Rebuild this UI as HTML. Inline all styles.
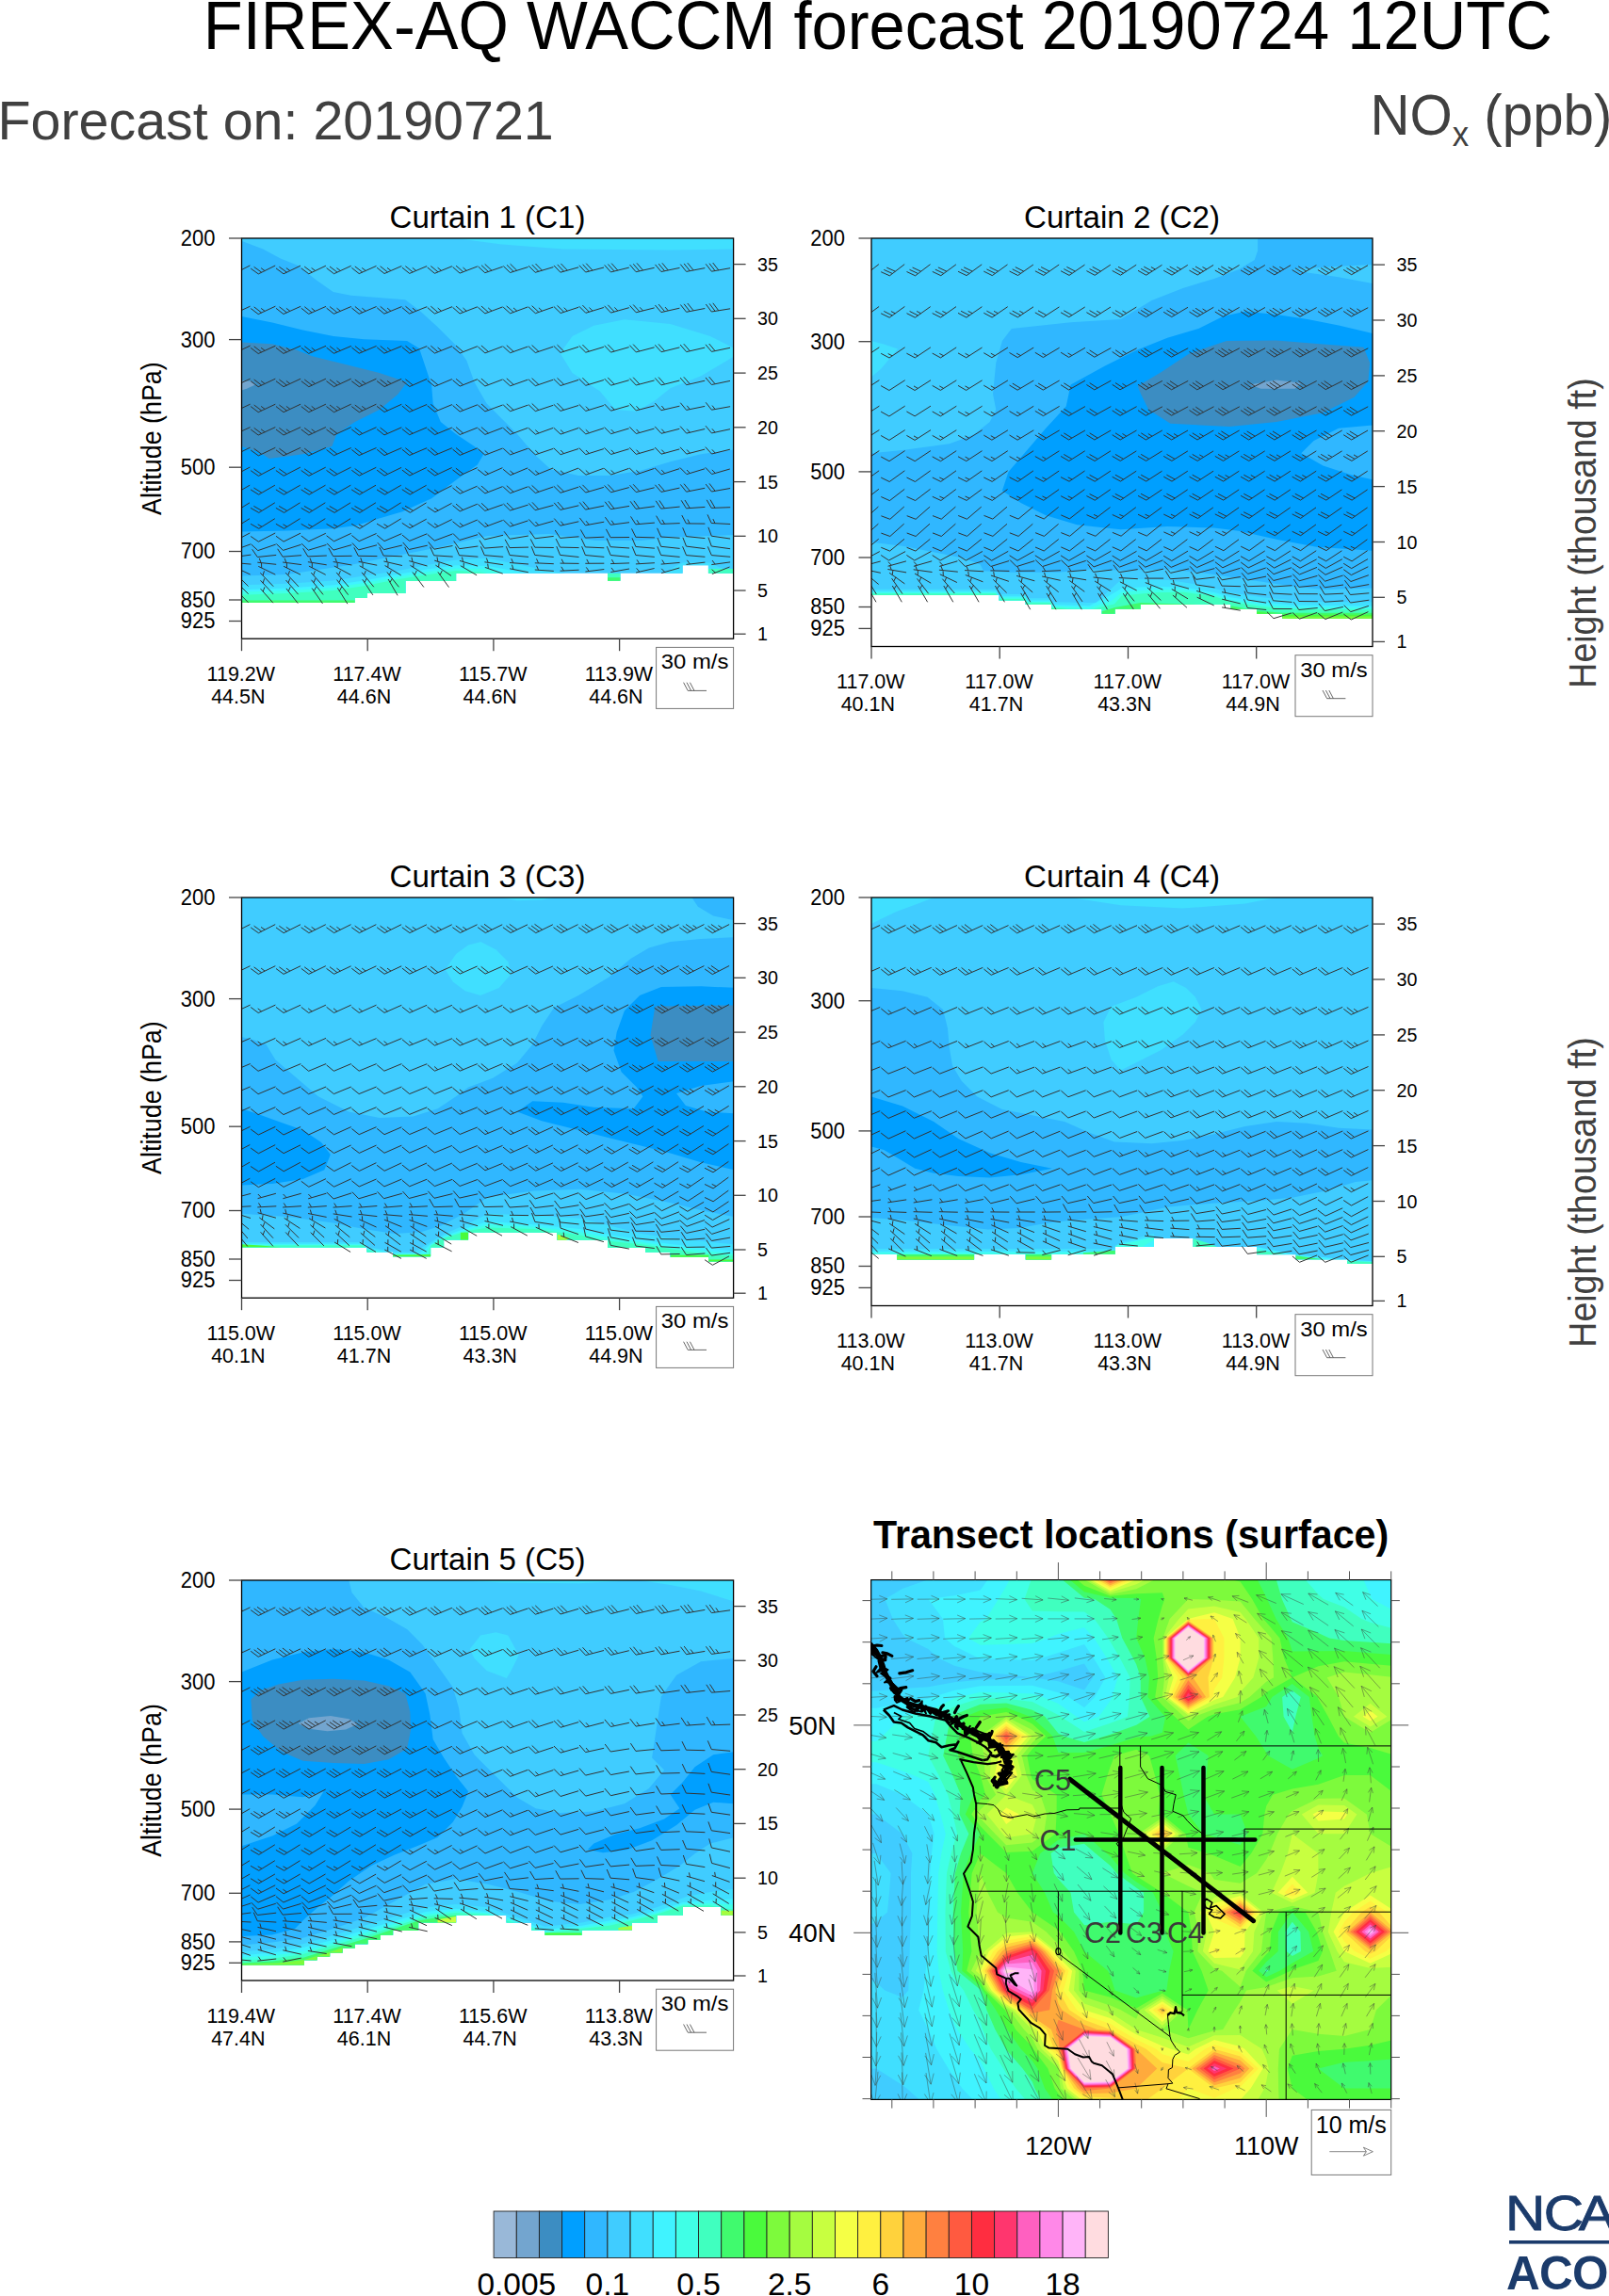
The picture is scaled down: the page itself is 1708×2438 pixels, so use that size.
<!DOCTYPE html>
<html><head><meta charset="utf-8"><title>FIREX-AQ WACCM forecast</title>
<style>html,body{margin:0;padding:0;background:#fff;overflow:hidden}svg{display:block}</style></head>
<body>
<svg width="1708" height="2438" viewBox="0 0 1708 2438" font-family="Liberation Sans, Arial, Helvetica, sans-serif">
<text transform="translate(215.7 51.5) scale(0.9405 1)" font-size="73" fill="#000" >FIREX-AQ WACCM forecast 20190724 12UTC</text>
<text transform="translate(-2.5 148)" font-size="57.4" fill="#404040" >Forecast on: 20190721</text>
<text transform="translate(1454.4 143) scale(0.955 1)" font-size="61" fill="#404040">NO<tspan font-size="36.5" dy="12">x</tspan><tspan dy="-12"> (ppb)</tspan></text>
<g id="p1">
<clipPath id="tc1"><polygon points="256.5,253 778.6,253 778.6,608.7 751.9,608.7 751.9,600.2 724.6,600.2 724.6,608.7 658.6,608.7 658.6,616.8 645,616.8 645,608.7 484.1,608.7 484.1,617.1 430.4,617.1 430.4,630.1 389.8,630.1 389.8,635 376.8,635 376.8,639.9 256.5,639.9"/></clipPath>
<clipPath id="fc1"><rect x="256.5" y="253" width="522.1" height="425.2"/></clipPath>
<g clip-path="url(#tc1)" shape-rendering="geometricPrecision">
<rect x="256.5" y="253" width="522.1" height="425.2" fill="#40CCFF"/>
<polygon points="484.1,253 779.6,253 779.6,264.4 711.6,265.4 597.9,264.4 532.8,259.5" fill="#40DFFF" />
<polygon points="594.6,374.9 607.6,357 630.4,345.7 662.9,339.2 711.6,344 753.9,357 779.6,370 779.6,378.2 744.1,399.3 711.6,412.3 695.4,425.3 675.9,436.7 653.1,435.1 636.9,415.5 607.6,396" fill="#40DFFF" />
<polygon points="256.5,253 256.8,255.9 279.3,264.4 297.8,274.5 316.6,281.9 335.2,296.9 353.7,309.9 372.6,313.8 430.1,318.3 445.1,329.4 464.6,347.3 484.1,366.8 495.4,383 503.6,405.8 516.6,428.6 532.8,444.8 549.1,461.1 568.6,483.8 584.8,498.4 614.1,505 646.6,505 679.1,500.1 711.6,490.3 744.1,482.2 779.6,477.3 779.6,568 713.3,570.6 680.8,573.9 632,573.9 583.2,567 517.9,569 492.2,574.8 467.8,580.7 435.3,587.2 402.5,593.7 370,600.2 337.4,605.1 304.9,610 256.5,611.6" fill="#30B7FF" />
<polygon points="256.5,335.9 289,342.4 321.5,350.5 354,357 386.5,360.3 432.1,361.9 445.1,370 451.6,389.5 458.1,409 459.7,428.6 467.8,448.1 484.1,461.1 503.6,474.1 513.3,482.2 506.8,493.6 484.1,509.8 458.1,529.3 427.2,543.3 402.5,550.5 378.1,557.9 353.7,561.2 304.9,563.5 256.5,564.4" fill="#009FFF" />
<polygon points="256.5,363.5 289,365.2 315,371.7 331.3,378.2 363.8,386.3 402.8,396 432.1,405.8 422.3,418.8 402.8,435.1 376.8,448.1 357.3,461.1 352.4,474.1 321.5,482.2 285.8,487.1 276,480.6 256.5,474.1" fill="#3C8DC2" />
<polygon points="256.5,404.2 266.3,404.8 271.1,408.4 263,412.3 256.5,414.6" fill="#73A5CF" />
<polygon points="256.5,621.3 304.9,619.7 353.7,616.5 386.2,611.6 418.7,606.7 451.6,600.2 484.1,594.4 517.9,592.7 549.1,599.2 581.6,605.7 599.5,608.7 599.5,643.1 256.5,643.1" fill="#40DFFF" />
<polygon points="705.1,608.7 714.9,602.5 724.6,597.6 753.9,597.6 763.7,602.5 779.6,605.7 779.6,610.6 705.1,610.6" fill="#40DFFF" />
<polygon points="256.5,626.2 304.9,624.6 353.7,621.3 386.2,616.5 418.7,610.6 451.6,604.8 484.1,600.2 517.9,600.9 542.6,605.7 555.6,608.7 555.6,643.1 256.5,643.1" fill="#40F3FF" />
<polygon points="256.5,628.5 304.9,627.2 353.7,623.9 386.2,619.1 418.7,613.2 451.6,607.4 484.1,603.5 517.9,604.1 532.8,608.7 532.8,643.1 256.5,643.1" fill="#40FFE6" />
<polygon points="256.5,631.7 304.9,630.1 353.7,626.9 386.2,622.3 418.7,615.8 451.6,610.6 484.1,606.1 510.1,607.4 516.6,608.7 516.6,643.1 256.5,643.1" fill="#40FFBF" />
<polygon points="256.5,637.6 376.8,637.6 376.8,643.1 256.5,643.1" fill="#40FA6E" />
<polygon points="645,608.7 658.6,608.7 658.6,618.7 645,618.7" fill="#40FFBF" />
<polygon points="645,613.2 658.6,613.2 658.6,618.7 645,618.7" fill="#40FA6E" />
<polygon points="751.9,604.1 779.6,604.1 779.6,610.6 751.9,610.6" fill="#40FFBF" />
</g>
<path clip-path="url(#fc1)" d="M247.6 291L265.4 281.9M247.6 291L239.4 285.3M251 289.3L242.8 283.6M254.4 287.6L250.3 284.7M274.3 290.9L292.2 282M274.3 290.9L266.2 285.1M277.7 289.2L269.6 283.4M281.1 287.6L277.1 284.6M301 290.8L319 282.1M301 290.8L293 284.9M304.5 289.2L296.4 283.3M307.9 287.5L303.9 284.6M327.8 290.8L345.9 282.2M327.8 290.8L319.8 284.8M331.2 289.1L323.2 283.1M334.7 287.5L330.6 284.5M354.5 290.7L372.7 282.3M354.5 290.7L346.6 284.6M358 289.1L350 283M361.4 287.5L357.4 284.5M381.2 290.6L399.5 282.4M381.2 290.6L373.4 284.4M384.7 289L376.8 282.9M388.2 287.5L384.2 284.4M408 290.5L426.3 282.5M408 290.5L400.1 284.2M411.5 289L403.6 282.7M414.9 287.4L411 284.3M434.7 290.4L453.1 282.6M434.7 290.4L426.9 284.1M438.2 288.9L430.4 282.6M441.7 287.4L437.8 284.3M461.4 290.3L479.9 282.7M461.4 290.3L453.7 283.9M465 288.8L457.3 282.5M468.5 287.4L464.6 284.2M488.1 290.1L506.8 282.9M488.1 290.1L480.6 283.5M491.7 288.7L484.1 282.2M495.2 287.3L491.5 284.1M514.8 289.7L533.7 283.2M514.8 289.7L507.5 282.9M518.4 288.5L511.1 281.7M522 287.3L514.7 280.4M541.5 289.5L560.6 283.5M541.5 289.5L534.3 282.5M545.1 288.3L538 281.3M548.7 287.2L541.6 280.2M568.2 289.3L587.4 283.6M568.2 289.3L561.2 282.2M571.8 288.3L564.8 281.1M575.5 287.2L568.5 280M594.9 289.2L614.2 283.8M594.9 289.2L588 281.9M598.6 288.2L591.7 280.9M602.3 287.1L595.4 279.9M621.7 289L641 284M621.7 289L614.9 281.7M625.3 288.1L618.6 280.7M629 287.1L622.2 279.7M648.4 288.9L667.8 284.1M648.4 288.9L641.7 281.4M652.1 288L645.4 280.5M655.8 287.1L649.1 279.6M675.1 288.7L694.6 284.3M675.1 288.7L668.6 281.1M678.8 287.9L672.3 280.3M682.5 287L676 279.4M701.9 288.5L721.5 284.4M701.9 288.5L695.5 280.9M705.6 287.8L699.2 280.1M709.3 287L702.9 279.3M728.6 288.4L748.3 284.6M728.6 288.4L722.3 280.6M732.4 287.7L726.1 279.9M736.1 286.9L729.8 279.2M755.4 288.2L775.1 284.7M755.4 288.2L749.2 280.3M759.1 287.6L753 279.7M762.8 286.9L756.7 279M247.4 333.6L265.6 325.2M247.4 333.6L239.5 327.6M250.9 332L242.9 326M254.3 330.4L250.3 327.4M274.2 333.6L292.4 325.2M274.2 333.6L266.2 327.5M277.6 332L269.7 325.9M281.1 330.4L277.1 327.4M300.9 333.5L319.2 325.3M300.9 333.5L293 327.3M304.4 331.9L296.5 325.8M307.9 330.4L303.9 327.3M327.7 333.4L346 325.4M327.7 333.4L319.8 327.2M331.1 331.9L323.3 325.7M334.6 330.4L330.7 327.3M354.4 333.3L372.8 325.5M354.4 333.3L346.6 327.1M357.9 331.8L350.1 325.6M361.4 330.3L357.5 327.2M381.2 333.3L399.6 325.5M381.2 333.3L373.4 327M384.7 331.8L376.9 325.5M388.2 330.3L384.3 327.2M407.9 333.2L426.4 325.6M407.9 333.2L400.2 326.8M411.4 331.8L403.7 325.4M414.9 330.3L411.1 327.1M434.6 333.1L453.2 325.7M434.6 333.1L427 326.7M438.2 331.7L430.5 325.3M441.7 330.3L437.9 327.1M461.4 333.1L480 325.7M461.4 333.1L453.8 326.6M464.9 331.7L457.3 325.2M468.5 330.3L464.7 327M488.1 333L506.8 325.8M488.1 333L480.6 326.4M491.7 331.6L484.1 325.1M495.2 330.3L491.5 327M514.9 332.9L533.6 325.9M514.9 332.9L507.4 326.3M518.4 331.6L510.9 325M522 330.2L518.2 326.9M541.6 332.8L560.4 325.9M541.6 332.8L534.2 326.2M545.2 331.5L537.7 324.9M548.8 330.2L545 326.9M568.4 332.7L587.2 326.1M568.4 332.7L561 325.9M571.9 331.4L564.6 324.7M575.5 330.2L571.9 326.8M595.1 332.5L614.1 326.3M595.1 332.5L587.9 325.5M598.7 331.3L591.5 324.4M602.3 330.1L598.7 326.7M621.8 332.3L640.9 326.5M621.8 332.3L614.7 325.2M625.4 331.2L618.4 324.1M629 330.1L625.5 326.5M648.5 332.1L667.8 326.7M648.5 332.1L641.6 324.8M652.1 331L645.3 323.8M655.8 330L652.4 326.4M675.2 331.8L694.6 326.9M675.2 331.8L668.5 324.4M678.9 330.9L672.2 323.5M682.6 330L679.2 326.3M701.9 331.6L721.4 327.2M701.9 331.6L695.4 324M705.6 330.7L699.1 323.1M709.3 329.9L706.1 326.1M728.6 331.3L748.3 327.5M728.6 331.3L722.4 323.5M732.3 330.6L726.1 322.8M736.1 329.8L729.8 322M755.3 331L775.1 327.8M755.3 331L749.3 323M759.1 330.4L753.1 322.4M762.8 329.8L756.8 321.8M247.4 375.6L265.6 367.1M247.4 375.6L239.5 369.5M250.9 374L242.9 367.9M254.3 372.3L250.3 369.3M274.2 375.5L292.4 367.2M274.2 375.5L266.2 369.4M277.6 373.9L269.7 367.8M281.1 372.3L277.1 369.3M300.9 375.4L319.2 367.2M300.9 375.4L293 369.3M304.4 373.9L296.5 367.8M307.9 372.3L303.9 369.3M327.7 375.4L346 367.3M327.7 375.4L319.8 369.2M331.2 373.8L323.3 367.7M334.6 372.3L330.7 369.2M354.4 375.3L372.8 367.4M354.4 375.3L346.6 369.1M357.9 373.8L350.1 367.6M361.4 372.3L357.5 369.2M381.2 375.2L399.6 367.4M381.2 375.2L373.4 369M384.7 373.8L376.9 367.5M388.2 372.3L384.3 369.1M407.9 375.2L426.4 367.5M407.9 375.2L400.2 368.8M411.4 373.7L403.7 367.4M414.9 372.3L411.1 369.1M434.7 375.1L453.2 367.6M434.7 375.1L427 368.7M438.2 373.7L430.5 367.3M441.7 372.2L437.9 369M461.4 375.1L480 367.6M461.4 375.1L453.8 368.7M464.9 373.7L457.3 367.2M468.5 372.2L464.6 369M488.2 375L506.8 367.7M488.2 375L480.6 368.5M491.7 373.6L484.1 367.1M514.9 374.9L533.6 367.8M514.9 374.9L507.4 368.2M518.4 373.5L510.9 366.9M541.6 374.7L560.4 368M541.6 374.7L534.2 368M545.2 373.4L537.8 366.7M568.3 374.5L587.3 368.1M568.3 374.5L561 367.7M571.9 373.3L564.6 366.5M595 374.4L614.1 368.3M595 374.4L587.9 367.4M598.7 373.2L591.5 366.2M621.8 374.2L640.9 368.4M621.8 374.2L614.7 367.1M625.4 373.1L618.4 366M648.5 374.1L667.7 368.6M648.5 374.1L641.6 366.8M652.2 373L645.2 365.8M675.2 373.9L694.6 368.8M675.2 373.9L668.4 366.6M678.9 372.9L672.1 365.6M702 373.7L721.4 368.9M702 373.7L695.3 366.3M705.6 372.8L699 365.4M728.7 373.6L748.2 369.1M728.7 373.6L722.1 366M732.4 372.7L725.8 365.2M755.4 373.4L775 369.3M755.4 373.4L749 365.8M759.1 372.6L752.7 365M247.4 410.7L265.6 402.2M247.4 410.7L239.5 404.7M250.9 409.1L242.9 403M254.3 407.5L250.3 404.5M274.2 410.7L292.3 402.2M274.2 410.7L266.2 404.7M277.7 409.1L269.7 403M281.1 407.5L277.1 404.5M301 410.7L319.1 402.2M301 410.7L293 404.7M304.4 409.1L296.4 403M307.9 407.5L303.9 404.5M327.8 410.7L345.9 402.2M327.8 410.7L319.8 404.7M331.2 409.1L323.2 403M334.6 407.5L330.7 404.5M354.5 410.7L372.7 402.2M354.5 410.7L346.5 404.7M358 409.1L350 403M361.4 407.5L357.4 404.5M381.3 410.7L399.4 402.2M381.3 410.7L373.3 404.7M384.8 409.1L376.8 403M388.2 407.5L384.2 404.5M408.1 410.6L426.2 402.3M408.1 410.6L400.1 404.6M411.5 409L403.6 403M415 407.4L411 404.4M434.8 410.5L453.1 402.4M434.8 410.5L426.9 404.3M438.2 408.9L430.4 402.7M461.5 410.3L479.9 402.6M461.5 410.3L453.7 404M465 408.8L457.2 402.5M488.2 410.1L506.8 402.7M488.2 410.1L480.6 403.7M491.7 408.7L484.1 402.3M514.9 410L533.6 402.9M514.9 410L507.4 403.4M518.4 408.6L510.9 402M541.6 409.8L560.4 403.1M541.6 409.8L534.2 403.1M545.2 408.5L537.8 401.8M568.3 409.7L587.3 403.2M568.3 409.7L561 402.8M571.9 408.4L564.6 401.6M595 409.5L614.1 403.4M595 409.5L587.9 402.5M598.7 408.3L591.5 401.4M621.8 409.3L640.9 403.5M621.8 409.3L614.7 402.3M625.4 408.2L618.4 401.2M648.5 409.2L667.7 403.7M648.5 409.2L641.6 402M652.2 408.1L645.2 400.9M675.2 409L694.6 403.9M675.2 409L668.4 401.7M678.9 408L672.1 400.7M702 408.9L721.4 404M702 408.9L695.3 401.4M705.6 407.9L699 400.5M728.7 408.7L748.2 404.2M728.7 408.7L722.1 401.1M732.4 407.8L725.8 400.3M755.4 408.5L775 404.4M755.4 408.5L749 400.9M759.1 407.7L752.7 400.1M247.4 437.7L265.6 429.2M247.4 437.7L239.5 431.6M250.9 436L242.9 430M254.3 434.4L250.3 431.4M274.2 437.7L292.3 429.2M274.2 437.7L266.2 431.6M277.7 436L269.7 430M281.1 434.4L277.1 431.4M301 437.7L319.1 429.2M301 437.7L293 431.6M304.4 436L296.4 430M307.9 434.4L303.9 431.4M327.8 437.7L345.9 429.2M327.8 437.7L319.8 431.6M331.2 436L323.2 430M334.6 434.4L330.7 431.4M354.5 437.7L372.7 429.2M354.5 437.7L346.5 431.6M358 436L350 430M361.4 434.4L357.4 431.4M381.3 437.7L399.4 429.2M381.3 437.7L373.3 431.6M384.8 436L376.8 430M388.2 434.4L384.2 431.4M408 437.5L426.3 429.3M408 437.5L400.1 431.4M411.5 436L403.6 429.9M434.7 437.4L453.1 429.5M434.7 437.4L426.9 431.1M438.2 435.9L430.4 429.6M461.4 437.2L479.9 429.6M461.4 437.2L453.7 430.8M465 435.8L457.3 429.4M488.2 437.1L506.8 429.8M488.2 437.1L480.6 430.5M491.7 435.7L484.1 429.2M514.9 436.9L533.6 430M514.9 436.9L507.4 430.2M518.4 435.6L511 428.9M541.6 436.7L560.5 430.1M541.6 436.7L534.2 429.9M545.2 435.5L537.8 428.7M568.3 436.6L587.3 430.3M568.3 436.6L561.1 429.7M571.9 435.4L564.7 428.5M595 436.4L614.1 430.5M595 436.4L587.9 429.4M598.6 435.3L591.5 428.2M621.8 436.4L640.9 430.5M621.8 436.4L614.7 429.3M625.4 435.2L621.9 431.7M648.5 436.2L667.7 430.7M648.5 436.2L641.6 429M652.2 435.1L648.7 431.5M675.2 435.9L694.6 430.9M675.2 435.9L668.5 428.5M678.9 435L675.5 431.3M701.9 435.7L721.4 431.2M701.9 435.7L695.4 428.1M705.6 434.8L702.3 431M728.6 435.4L748.2 431.4M728.6 435.4L722.3 427.7M732.4 434.7L729.2 430.8M755.4 435.2L775.1 431.7M755.4 435.2L749.2 427.3M759.1 434.5L756 430.6M247.4 462L265.6 453.6M247.4 462L239.5 456M250.9 460.4L242.9 454.4M254.3 458.8L250.3 455.8M274.2 462L292.3 453.6M274.2 462L266.2 456M277.7 460.4L269.7 454.4M281.1 458.8L277.1 455.8M301 462L319.1 453.6M301 462L293 456M304.4 460.4L296.4 454.4M307.9 458.8L303.9 455.8M327.8 462L345.9 453.6M327.8 462L319.8 456M331.2 460.4L323.2 454.4M334.6 458.8L330.7 455.8M354.5 462L372.7 453.6M354.5 462L346.5 456M358 460.4L350 454.4M381.3 462L399.5 453.7M381.3 462L373.3 455.9M384.7 460.4L376.8 454.3M408 461.9L426.3 453.8M408 461.9L400.1 455.7M411.5 460.3L403.6 454.1M434.7 461.7L453.1 453.9M434.7 461.7L426.9 455.5M438.2 460.2L430.4 454M461.5 461.6L479.9 454M461.5 461.6L453.7 455.3M465 460.2L457.3 453.8M488.2 461.5L506.8 454.1M488.2 461.5L480.6 455M491.7 460.1L484.1 453.6M514.9 461.4L533.6 454.2M514.9 461.4L507.4 454.8M518.5 460L510.9 453.5M541.6 461.3L560.4 454.3M541.6 461.3L534.2 454.6M545.2 460L537.7 453.3M568.4 461.2L587.2 454.4M568.4 461.2L561 454.5M572 459.9L568.3 456.6M595.1 461.1L614 454.5M595.1 461.1L587.8 454.3M598.7 459.9L595 456.5M621.8 460.9L640.9 454.7M621.8 460.9L614.6 454M625.4 459.7L621.8 456.3M648.5 460.7L667.7 454.9M648.5 460.7L641.5 453.6M652.2 459.6L648.7 456.1M675.3 460.5L694.5 455.1M675.3 460.5L668.4 453.3M678.9 459.5L675.5 455.9M702 460.3L721.3 455.3M702 460.3L695.2 452.9M705.7 459.4L702.3 455.7M728.7 460.1L748.2 455.5M728.7 460.1L722.1 452.6M732.4 459.2L729.1 455.5M755.4 459.9L775 455.7M755.4 459.9L749 452.2M759.1 459.1L755.9 455.3M247.5 484L265.5 475.2M247.5 484L239.4 478.1M250.9 482.3L242.8 476.4M274.3 483.9L292.3 475.3M274.3 483.9L266.2 478M277.7 482.3L269.6 476.3M301 483.8L319.1 475.3M301 483.8L293 477.8M304.4 482.2L296.4 476.2M327.7 483.8L345.9 475.4M327.7 483.8L319.8 477.7M331.2 482.2L323.2 476.1M354.5 483.7L372.7 475.5M354.5 483.7L346.6 477.6M357.9 482.1L350 476M381.2 483.6L399.5 475.5M381.2 483.6L373.4 477.5M384.7 482.1L376.8 475.9M408 483.6L426.3 475.6M408 483.6L400.2 477.3M411.5 482.1L403.6 475.8M434.7 483.5L453.1 475.7M434.7 483.5L426.9 477.2M438.2 482L430.4 475.7M461.5 483.4L479.9 475.7M461.5 483.4L453.7 477.1M465 482L457.2 475.6M488.2 483.4L506.7 475.8M488.2 483.4L480.5 477M491.7 481.9L484 475.5M514.9 483.2L533.6 476M514.9 483.2L507.4 476.6M518.5 481.8L514.7 478.5M541.6 482.9L560.4 476.2M541.6 482.9L534.2 476.2M545.2 481.7L541.5 478.3M568.3 482.8L587.3 476.4M568.3 482.8L561 476M571.9 481.6L568.3 478.2M595.1 482.7L614.1 476.5M595.1 482.7L587.8 475.8M598.7 481.5L595.1 478.1M621.8 482.6L640.9 476.6M621.8 482.6L614.7 475.6M625.4 481.5L621.9 478M648.5 482.5L667.7 476.7M648.5 482.5L641.5 475.4M652.2 481.4L648.7 477.8M675.3 482.4L694.5 476.8M675.3 482.4L668.3 475.2M678.9 481.3L675.5 477.7M702 482.2L721.3 476.9M702 482.2L695.2 475M705.7 481.2L702.3 477.6M728.8 482.1L748.1 477.1M728.8 482.1L722 474.8M732.4 481.2L729.1 477.5M755.5 482L774.9 477.2M755.5 482L748.8 474.6M759.2 481.1L755.9 477.4M247.7 505.4L265.3 496M247.7 505.4L239.4 499.8M251 503.6L242.7 498M274.4 505.4L292.1 496.1M274.4 505.4L266.2 499.7M277.8 503.6L269.5 498M301.2 505.3L318.9 496.1M301.2 505.3L292.9 499.6M304.5 503.6L296.3 497.9M327.9 505.3L345.7 496.2M327.9 505.3L319.7 499.5M331.3 503.5L323.1 497.8M354.7 505.2L372.5 496.2M354.7 505.2L346.5 499.4M358.1 503.5L349.9 497.7M381.4 505.1L399.3 496.3M381.4 505.1L373.3 499.3M384.8 503.5L376.7 497.6M408.2 505.1L426.1 496.4M408.2 505.1L400.1 499.2M411.6 503.4L403.5 497.5M434.9 505L452.9 496.4M434.9 505L426.9 499.1M438.3 503.4L430.3 497.5M461.6 505L479.7 496.5M461.6 505L453.6 499M465.1 503.4L457.1 497.4M488.4 504.9L506.6 496.6M488.4 504.9L480.4 498.8M491.8 503.3L483.9 497.2M515.1 504.7L533.4 496.7M515.1 504.7L507.2 498.5M518.6 503.2L514.6 500.1M541.8 504.6L560.2 496.9M541.8 504.6L534.1 498.3M545.3 503.1L541.4 500M568.5 504.5L587.1 497M568.5 504.5L560.9 498M572 503L568.2 499.8M595.2 504.3L613.9 497.1M595.2 504.3L587.7 497.8M598.8 503L595 499.7M622 504.2L640.7 497.3M622 504.2L614.5 497.5M625.5 502.9L621.8 499.5M648.7 504L667.5 497.4M648.7 504L641.3 497.3M652.3 502.8L648.6 499.4M675.4 503.9L694.4 497.5M675.4 503.9L668.2 497M679 502.7L675.4 499.3M702.1 503.8L721.2 497.7M702.1 503.8L695 496.8M705.8 502.6L702.2 499.1M728.9 503.6L748 497.8M728.9 503.6L721.8 496.5M732.5 502.5L729 499M755.6 503.5L774.8 498M755.6 503.5L748.7 496.3M759.3 502.4L755.8 498.8M247.8 525.2L265.2 515.2M247.8 525.2L239.4 519.9M251.1 523.3L242.7 518M274.6 525.2L291.9 515.2M274.6 525.2L266.1 519.9M277.9 523.3L269.4 518M301.4 525.2L318.7 515.2M301.4 525.2L292.9 519.9M304.7 523.3L296.2 518M328.2 525.2L345.5 515.2M328.2 525.2L319.7 519.9M331.5 523.3L323 518M354.9 525.2L372.3 515.2M354.9 525.2L346.5 519.9M358.2 523.3L349.7 518M381.7 525.2L399 515.2M381.7 525.2L373.2 519.9M385 523.3L376.5 518M408.5 525.2L425.8 515.2M408.5 525.2L400 519.9M411.8 523.3L403.3 518M435.2 525.1L452.6 515.3M435.2 525.1L426.8 519.7M438.5 523.3L430.1 517.9M461.8 524.7L479.6 515.7M461.8 524.7L453.6 519M465.2 523L461.1 520.1M488.3 524.2L506.6 516.2M488.3 524.2L480.5 518M491.8 522.7L484 516.5M514.9 523.9L533.6 516.6M514.9 523.9L507.3 517.4M518.5 522.5L510.9 516M541.6 523.7L560.4 516.8M541.6 523.7L534.2 517M545.2 522.4L537.8 515.7M568.3 523.5L587.3 517M568.3 523.5L561 516.6M571.9 522.2L564.6 515.4M595 523.3L614.1 517.2M595 523.3L587.9 516.3M598.7 522.1L591.5 515.1M621.7 523L640.9 517.4M621.7 523L614.8 515.9M625.4 522L618.4 514.8M648.5 522.8L667.8 517.6M648.5 522.8L641.6 515.5M652.1 521.8L645.3 514.5M675.2 522.6L694.6 517.8M675.2 522.6L668.5 515.2M678.9 521.7L672.2 514.3M701.9 522.4L721.4 518.1M701.9 522.4L695.4 514.8M705.6 521.6L699.1 514M728.6 522.2L748.2 518.3M728.6 522.2L722.3 514.4M732.4 521.4L726 513.7M755.4 522L775.1 518.5M755.4 522L749.2 514.1M759.1 521.3L753 513.4M248 544.4L265 533.8M248 544.4L239.4 539.4M251.2 542.4L242.6 537.4M274.8 544.4L291.8 533.8M274.8 544.4L266.1 539.4M278 542.4L269.4 537.4M301.6 544.4L318.5 533.8M301.6 544.4L292.9 539.4M304.8 542.4L296.1 537.4M328.3 544.4L345.3 533.8M328.3 544.4L319.7 539.4M331.6 542.4L322.9 537.4M355.1 544.4L372.1 533.8M355.1 544.4L346.5 539.4M358.3 542.4L349.7 537.4M381.9 544.4L398.9 533.8M381.9 544.4L373.2 539.4M385.1 542.4L376.5 537.4M408.7 544.4L425.6 533.8M408.7 544.4L400 539.4M411.9 542.4L403.2 537.4M435.4 544.3L452.5 533.9M435.4 544.3L426.8 539.2M438.6 542.3L430 537.2M461.9 543.8L479.5 534.4M461.9 543.8L453.6 538.2M465.2 542L461.1 539.2M488.2 542.9L506.7 535.2M488.2 542.9L480.5 536.6M491.7 541.5L484 535.1M514.8 542.4L533.7 535.8M514.8 542.4L507.5 535.5M518.4 541.1L511.1 534.3M541.5 542L560.6 536.1M541.5 542L534.4 535M545.1 540.9L538 533.9M568.1 541.7L587.4 536.5M568.1 541.7L561.3 534.4M571.8 540.7L565 533.4M594.8 541.4L614.3 536.8M594.8 541.4L588.2 533.9M598.5 540.5L591.9 533M621.5 541.1L641.1 537.1M621.5 541.1L615.2 533.4M625.3 540.3L618.9 532.6M648.3 540.7L668 537.4M648.3 540.7L642.2 532.8M652 540.1L645.9 532.2M675 540.4L694.8 537.7M675 540.4L669.1 532.3M678.7 539.9L672.9 531.8M701.7 540.1L721.6 538.1M701.7 540.1L696.2 531.8M705.5 539.7L699.9 531.4M728.5 539.8L748.4 538.4M728.5 539.8L723.2 531.3M732.3 539.5L727 531M755.2 539.4L775.2 538.7M755.2 539.4L750.2 530.8M759 539.3L754 530.6M248 561.3L265 550.7M248 561.3L239.4 556.3M251.2 559.3L246.9 556.8M274.8 561.3L291.8 550.7M274.8 561.3L266.1 556.3M278 559.3L273.7 556.8M301.6 561.3L318.5 550.7M301.6 561.3L292.9 556.3M304.8 559.3L300.5 556.8M328.3 561.3L345.3 550.7M328.3 561.3L319.7 556.3M331.6 559.3L327.2 556.8M355.1 561.3L372.1 550.7M355.1 561.3L346.5 556.3M358.3 559.3L354 556.8M381.9 561.3L398.9 550.7M381.9 561.3L373.2 556.3M385.1 559.3L380.8 556.8M408.6 561.2L425.7 550.8M408.6 561.2L400 556.1M411.8 559.2L407.5 556.6M435.1 560.8L452.7 551.2M435.1 560.8L426.8 555.3M438.5 559L434.3 556.2M461.7 560.4L479.7 551.6M461.7 560.4L453.6 554.5M465.1 558.7L461.1 555.8M488.3 559.9L506.7 552M488.3 559.9L480.5 553.7M491.8 558.4L487.9 555.3M514.9 559.5L533.6 552.5M514.9 559.5L507.4 552.9M518.4 558.2L514.7 554.9M541.5 559.1L560.5 552.9M541.5 559.1L534.3 552.1M545.1 557.9L541.5 554.4M568.2 558.7L587.4 553.3M568.2 558.7L561.3 551.4M571.8 557.6L568.4 554M594.8 558.2L614.3 553.8M594.8 558.2L588.3 550.6M598.5 557.4L595.3 553.6M621.5 557.8L641.2 554.2M621.5 557.8L615.3 549.9M625.2 557.1L622.1 553.2M648.2 557.3L668 554.7M648.2 557.3L642.4 549.2M652 556.8L649.1 552.7M674.9 556.8L694.9 555.1M674.9 556.8L669.5 548.4M678.7 556.5L676 552.3M701.7 556.4L721.7 555.6M701.7 556.4L696.6 547.7M705.5 556.2L702.9 551.9M728.4 555.9L748.4 556.1M728.4 555.9L723.8 547.1M732.2 556L729.9 551.5M755.2 555.5L775.2 556.5M755.2 555.5L751 546.4M759 555.7L756.9 551.1M247.7 575.3L265.3 565.9M247.7 575.3L239.4 569.7M274.4 575.2L292.2 566M274.4 575.2L266.2 569.5M301.1 575.1L319 566.2M301.1 575.1L293 569.3M327.8 574.9L345.8 566.3M327.8 574.9L319.8 569M354.5 574.8L372.7 566.4M354.5 574.8L346.6 568.8M381.2 574.7L399.5 566.5M381.2 574.7L373.4 568.5M408 574.6L426.3 566.7M408 574.6L400.2 568.3M434.7 574.4L453.2 566.8M434.7 574.4L427 568.1M461.3 574.1L480.1 567.1M461.3 574.1L453.8 567.5M487.9 573.5L507 567.7M487.9 573.5L480.8 566.4M514.5 572.9L534 568.3M514.5 572.9L507.9 565.4M541.2 572.3L560.9 569M541.2 572.3L535.1 564.3M567.9 571.8L587.7 569.4M567.9 571.8L562.2 563.6M594.6 571.4L614.5 569.8M594.6 571.4L589.2 563M621.4 571.1L641.3 570.2M621.4 571.1L616.3 562.4M648.1 570.7L668.1 570.5M648.1 570.7L643.4 561.9M674.9 570.3L694.9 570.9M674.9 570.3L670.5 561.4M701.7 570L721.6 571.3M701.7 570L697.6 560.8M728.5 569.6L748.4 571.6M728.5 569.6L724.7 560.3M755.3 569.2L775.1 572M755.3 569.2L751.9 559.8M247.1 584.8L265.9 577.9M247.1 584.8L239.7 578.1M273.8 584.6L292.7 578.1M273.8 584.6L266.5 577.8M300.5 584.4L319.6 578.3M300.5 584.4L293.4 577.5M327.3 584.2L346.4 578.5M327.3 584.2L320.2 577.2M354 584.1L373.2 578.6M354 584.1L347.1 576.9M380.7 583.9L400 578.8M380.7 583.9L373.9 576.5M407.4 583.7L426.9 579M407.4 583.7L400.8 576.2M434.2 583.5L453.7 579.2M434.2 583.5L427.7 575.9M460.9 583.2L480.5 579.5M460.9 583.2L454.6 575.4M487.6 582.7L507.4 580M487.6 582.7L481.7 574.5M514.3 582.1L534.2 580.6M514.3 582.1L508.9 573.7M541 581.6L561 581.1M541 581.6L536.1 572.8M567.8 581.2L587.8 581.5M567.8 581.2L563.2 572.4M594.6 581.1L614.6 581.6M594.6 581.1L590.1 572.1M621.4 580.9L641.3 581.8M621.4 580.9L617.1 571.8M648.1 580.7L668.1 582M648.1 580.7L644 571.6M674.9 580.5L694.9 582.2M674.9 580.5L671 571.3M701.7 580.3L721.6 582.4M701.7 580.3L698 571.1M728.5 580.1L748.4 582.6M728.5 580.1L724.9 570.8M755.3 580L775.1 582.7M755.3 580L751.9 570.6M246.6 591.8L266.4 589.1M246.6 591.8L240.7 583.8M273.3 591.5L293.2 589.4M273.3 591.5L267.7 583.3M300.1 591.2L320 589.7M300.1 591.2L294.7 582.8M326.8 590.9L346.8 590M326.8 590.9L321.7 582.3M353.6 590.6L373.6 590.3M353.6 590.6L348.8 581.9M380.4 590.3L400.4 590.6M380.4 590.3L375.8 581.4M407.2 590.1L427.1 590.8M407.2 590.1L402.8 581.1M433.9 589.9L453.9 591M433.9 589.9L429.7 580.9M460.7 589.8L480.7 591.1M460.7 589.8L456.6 580.7M487.5 589.7L507.4 591.2M487.5 589.7L483.5 580.5M514.3 589.6L534.2 591.3M514.3 589.6L510.4 580.4M541.1 589.5L561 591.4M541.1 589.5L537.3 580.2M567.8 589.4L587.7 591.5M567.8 589.4L564.1 580.2M594.6 589.4L614.5 591.5M594.6 589.4L590.8 580.2M621.4 589.5L641.3 591.4M621.4 589.5L617.6 580.2M648.2 589.5L668.1 591.4M648.2 589.5L644.3 580.2M674.9 589.5L694.8 591.4M674.9 589.5L671.1 580.3M701.7 589.5L721.6 591.4M701.7 589.5L697.8 580.3M728.5 589.6L748.4 591.3M728.5 589.6L724.6 580.3M755.3 589.6L775.2 591.3M755.3 589.6L751.3 580.4M246.5 597.4L266.5 599.1M250.3 597.7L248.4 593.1M273.3 597.2L293.2 599.3M277.1 597.6L275.3 592.9M300.1 597L320 599.6M303.9 597.4L302.1 592.8M326.9 596.7L346.7 599.8M330.7 597.3L329 592.6M353.7 596.5L373.4 600M357.5 597.2L355.9 592.4M380.6 596.3L400.2 600.2M384.3 597.1L382.8 592.3M407.4 596L426.9 600.5M411.1 596.9L409.8 592M434.3 595.6L453.5 601M438 596.6L436.9 591.7M461.2 595.1L480.2 601.4M464.8 596.3L464 591.4M487.9 595.4L507.1 601.1M491.5 596.5L490.5 591.6M514.4 596.8L534.1 599.7M518.1 597.3L516.4 592.6M541 597.5L561 599M544.8 597.8L542.8 593.2M567.8 597.8L587.8 598.7M571.6 598L569.5 593.4M594.6 598.1L614.6 598.4M598.4 598.1L596.1 593.7M621.3 598.3L641.3 598.2M625.1 598.3L622.8 593.9M648.1 598.6L668.1 597.9M651.9 598.5L649.4 594.1M674.9 598.9L694.9 597.7M678.7 598.6L676.1 594.4M701.7 599.1L721.6 597.4M705.5 598.8L702.8 594.6M728.5 599.4L748.4 597.1M732.3 599L729.4 594.8M755.3 599.6L775.1 596.9M759.1 599.1L756.1 595.1M247.4 601.5L265.6 610M250.9 603.1L250.6 598.1M274.3 601.4L292.3 610.1M277.7 603L277.5 598M301.1 601.3L319 610.2M304.5 603L304.4 598M327.9 601.1L345.7 610.3M331.3 602.9L331.3 597.9M354.8 601L372.4 610.5M358.1 602.8L358.2 597.8M381.7 600.8L399.1 610.7M385 602.7L385.1 597.7M408.6 600.5L425.7 610.9M411.8 602.5L412.1 597.5M435.5 600.3L452.3 611.1M438.7 602.4L439.1 597.4M462.4 600.1L479 611.4M465.6 602.2L466.1 597.3M488.8 600.7L506.1 610.8M492.1 602.6L492.3 597.6M514.8 602.4L533.7 609.1M518.4 603.6L517.7 598.7M541.2 603.8L560.8 607.7M544.9 604.5L543.5 599.7M567.8 605L587.8 606.4M571.6 605.3L569.6 600.7M594.6 606.2L614.6 605.2M598.4 606L595.8 601.8M621.4 607L641.3 604.5M625.2 606.5L622.3 602.4M648.3 607.5L668 604M652 606.8L648.9 602.9M675.1 608L694.6 603.5M678.8 607.1L675.6 603.4M702.1 608.5L721.3 603M705.7 607.4L702.2 603.8M755.9 609.5L774.5 602M759.5 608.1L755.6 604.8M249.4 608.4L263.6 622.6M252.1 611.1L253.6 606.3M276.3 608.3L290.2 622.7M279 611L280.5 606.3M303.2 608.2L316.9 622.8M305.8 610.9L307.5 606.2M330.2 608L343.5 622.9M332.7 610.9L334.4 606.2M357.1 607.9L370.1 623.1M359.5 610.8L361.4 606.1M384 607.8L396.8 623.2M386.4 610.7L388.3 606.1M410.9 607.6L423.4 623.3M413.3 610.6L415.3 606M437.9 607.5L449.9 623.5M440.2 610.5L442.3 606M464.9 607.4L476.5 623.6M467.1 610.5L469.3 606M249.4 616.5L263.6 630.7M252.1 619.2L253.6 614.4M276.5 616.3L290.1 630.9M279.1 619.1L280.7 614.3M303.5 616L316.6 631.2M306 618.9L307.8 614.3M330.6 615.8L343.1 631.4M332.9 618.8L334.9 614.2M357.6 615.6L369.6 631.6M359.9 618.6L362 614.1M384.8 615.3L395.9 631.9M386.9 618.5L389.3 614.1M412.1 615L422.1 632.3M414 618.2L416.7 614M249.4 625.6L263.6 639.8M252.1 628.3L253.6 623.5M276.6 625.2L289.9 640.2M279.2 628.1L280.9 623.4M303.9 624.9L316.2 640.6M306.2 627.8L308.2 623.3M331.1 624.5L342.5 640.9M333.3 627.6L335.6 623.2M358.3 624.2L368.9 641.2M360.3 627.5L362.8 623.1" stroke="#333" stroke-width="1.0" fill="none"/>
<rect x="256.5" y="253" width="522.1" height="425.2" fill="none" stroke="#000" stroke-width="1.3"/>
<text transform="translate(517.5 242.3) scale(0.986 1)" font-size="33.6" text-anchor="middle" fill="#000" >Curtain 1 (C1)</text>
<line x1="243" y1="253" x2="256.5" y2="253" stroke="#444" stroke-width="1.3" />
<text transform="translate(228.5 260.9) scale(0.955 1)" font-size="23" text-anchor="end" fill="#000" >200</text>
<line x1="243" y1="360.6" x2="256.5" y2="360.6" stroke="#444" stroke-width="1.3" />
<text transform="translate(228.5 368.5) scale(0.955 1)" font-size="23" text-anchor="end" fill="#000" >300</text>
<line x1="243" y1="496.2" x2="256.5" y2="496.2" stroke="#444" stroke-width="1.3" />
<text transform="translate(228.5 504.1) scale(0.955 1)" font-size="23" text-anchor="end" fill="#000" >500</text>
<line x1="243" y1="585.5" x2="256.5" y2="585.5" stroke="#444" stroke-width="1.3" />
<text transform="translate(228.5 593.4) scale(0.955 1)" font-size="23" text-anchor="end" fill="#000" >700</text>
<line x1="243" y1="637" x2="256.5" y2="637" stroke="#444" stroke-width="1.3" />
<text transform="translate(228.5 644.9) scale(0.955 1)" font-size="23" text-anchor="end" fill="#000" >850</text>
<line x1="243" y1="659.5" x2="256.5" y2="659.5" stroke="#444" stroke-width="1.3" />
<text transform="translate(228.5 667.4) scale(0.955 1)" font-size="23" text-anchor="end" fill="#000" >925</text>
<line x1="778.6" y1="280.6" x2="791.6" y2="280.6" stroke="#444" stroke-width="1.3" />
<text transform="translate(804.1 287.6)" font-size="19.7" fill="#000" >35</text>
<line x1="778.6" y1="338.3" x2="791.6" y2="338.3" stroke="#444" stroke-width="1.3" />
<text transform="translate(804.1 345.3)" font-size="19.7" fill="#000" >30</text>
<line x1="778.6" y1="396.1" x2="791.6" y2="396.1" stroke="#444" stroke-width="1.3" />
<text transform="translate(804.1 403.1)" font-size="19.7" fill="#000" >25</text>
<line x1="778.6" y1="453.8" x2="791.6" y2="453.8" stroke="#444" stroke-width="1.3" />
<text transform="translate(804.1 460.8)" font-size="19.7" fill="#000" >20</text>
<line x1="778.6" y1="511.6" x2="791.6" y2="511.6" stroke="#444" stroke-width="1.3" />
<text transform="translate(804.1 518.6)" font-size="19.7" fill="#000" >15</text>
<line x1="778.6" y1="569.3" x2="791.6" y2="569.3" stroke="#444" stroke-width="1.3" />
<text transform="translate(804.1 576.3)" font-size="19.7" fill="#000" >10</text>
<line x1="778.6" y1="627" x2="791.6" y2="627" stroke="#444" stroke-width="1.3" />
<text transform="translate(804.1 634)" font-size="19.7" fill="#000" >5</text>
<line x1="778.6" y1="673.2" x2="791.6" y2="673.2" stroke="#444" stroke-width="1.3" />
<text transform="translate(804.1 680.2)" font-size="19.7" fill="#000" >1</text>
<line x1="256.5" y1="678.2" x2="256.5" y2="691.2" stroke="#444" stroke-width="1.3" />
<text transform="translate(255.8 722.7) scale(0.977 1)" font-size="22" text-anchor="middle" fill="#000" >119.2W</text>
<text transform="translate(252.8 746.9) scale(0.977 1)" font-size="22" text-anchor="middle" fill="#000" >44.5N</text>
<line x1="390.2" y1="678.2" x2="390.2" y2="691.2" stroke="#444" stroke-width="1.3" />
<text transform="translate(389.5 722.7) scale(0.977 1)" font-size="22" text-anchor="middle" fill="#000" >117.4W</text>
<text transform="translate(386.5 746.9) scale(0.977 1)" font-size="22" text-anchor="middle" fill="#000" >44.6N</text>
<line x1="523.9" y1="678.2" x2="523.9" y2="691.2" stroke="#444" stroke-width="1.3" />
<text transform="translate(523.2 722.7) scale(0.977 1)" font-size="22" text-anchor="middle" fill="#000" >115.7W</text>
<text transform="translate(520.2 746.9) scale(0.977 1)" font-size="22" text-anchor="middle" fill="#000" >44.6N</text>
<line x1="657.6" y1="678.2" x2="657.6" y2="691.2" stroke="#444" stroke-width="1.3" />
<text transform="translate(656.9 722.7) scale(0.977 1)" font-size="22" text-anchor="middle" fill="#000" >113.9W</text>
<text transform="translate(653.9 746.9) scale(0.977 1)" font-size="22" text-anchor="middle" fill="#000" >44.6N</text>
<rect x="696.6" y="687.4" width="82" height="65" fill="#fff" stroke="#777" stroke-width="1"/>
<text transform="translate(737.6 710.2) scale(1.05 1)" font-size="22.7" text-anchor="middle" fill="#000" >30 m/s</text>
<path d="M730.2 733.4L750 733.4M730.2 733.4L725.6 724.7M733.6 733.4L729 724.7M737 733.4L732.4 724.7" stroke="#555" stroke-width="0.9" fill="none"/>
<text transform="translate(171 465.6) rotate(-90) scale(0.939 1)" font-size="28.6" text-anchor="middle" fill="#000" >Altitude (hPa)</text>
</g>
<g id="p2">
<clipPath id="tc2"><polygon points="925,253 1457,253 1457,656.8 1361.2,656.8 1361.2,651.8 1334.1,651.8 1334.1,646.8 1306.6,646.8 1306.6,641.9 1210.7,641.9 1210.7,646.8 1183.6,646.8 1183.6,651.8 1169.7,651.8 1169.7,646.8 1116.1,646.8 1116.1,641.9 1088.7,641.9 1088.7,637.6 1060.6,637.6 1060.6,632 925,632"/></clipPath>
<clipPath id="fc2"><rect x="925" y="253" width="532" height="433.5"/></clipPath>
<g clip-path="url(#tc2)" shape-rendering="geometricPrecision">
<rect x="925" y="253" width="532" height="433.5" fill="#40CCFF"/>
<polygon points="925,362.1 938.2,365.4 953.1,370.4 944.8,380.3 934.9,391.9 925,400.2" fill="#40DFFF" />
<polygon points="1335.1,253 1335.1,266.2 1331.7,276.1 1315.2,286.1 1288.8,296 1255.7,305.9 1222.6,319.1 1189.6,339 1136.6,342.3 1073.8,348.9 1063.9,362.1 1057.3,385.3 1054,418.3 1057.3,434.9 1050.7,448.1 1034.1,461.3 1007.7,471.3 958.1,477.9 925,481.2 925,575.8 958.1,579.7 991.1,586.3 1024.2,592.9 1040.7,599.6 1044,606.2 1073.8,607.8 1123.4,607.8 1156.5,604.5 1190.9,605.5 1240.5,604.5 1273.5,607.8 1306.6,612.8 1339.7,617.7 1372.8,622.7 1405.8,626 1457.1,624.4 1457.1,253" fill="#30B7FF" />
<polygon points="1371.4,286.1 1421,282.8 1457.1,281.1 1457.1,300.9 1421,294.3 1388,289.4" fill="#40CCFF" />
<polygon points="1457.1,353.9 1421,345.6 1388,339 1354.9,334 1321.8,330.7 1298.7,335.7 1272.2,348.9 1239.2,358.8 1206.1,372 1173,388.6 1136.6,408.4 1131.7,431.6 1110.2,454.7 1090.3,477.9 1070.5,501 1063.9,520.9 1083.7,534.1 1110.2,547.3 1143.3,557.2 1189.6,562.2 1239.2,558.9 1288.8,560.5 1314.9,563.8 1356.2,573.1 1397.6,580.7 1457.1,584.7 1457.1,509.3 1434.3,504.3 1404.5,494.4 1381.3,481.2 1394.6,467.9 1421,454.7 1457.1,451.4" fill="#009FFF" />
<polygon points="1207.7,410.1 1232.5,395.2 1262.3,375.4 1302,362.1 1354.9,361.5 1404.5,365.4 1447.5,368.7 1454.1,385.3 1452.4,405.1 1437.6,421.7 1404.5,438.2 1354.9,448.1 1305.3,453.1 1242.5,449.8 1219.3,434.9 1211,418.3" fill="#3C8DC2" />
<polygon points="1326.8,408.4 1354.9,403.5 1381.3,406.8 1374.7,412.7 1338.4,412.7" fill="#73A5CF" />
<polygon points="925,625.7 1057.3,625.7 1060.6,631 1088.7,631 1090.3,635.3 1116.1,635.3 1116.8,639.2 1163.1,639.9 1190.9,614.4 1240.5,616.1 1273.5,621.1 1306.6,629.3 1339.7,634.3 1372.8,637.6 1405.8,639.2 1457.1,639.2 1457.1,663.1 925,663.1" fill="#40DFFF" />
<polygon points="1156.5,618.4 1190.9,610.1 1190.9,614.4 1163.1,639.9 1136.6,639.2" fill="#40CCFF" />
<polygon points="925,628 1057.3,628 1060.6,633.3 1088.7,633.3 1090.3,637.6 1116.1,637.6 1116.8,641.9 1156.5,643.2 1176.3,633.3 1190.9,624.4 1223.9,622.7 1257,623.7 1290.1,629.3 1306.6,634.3 1339.7,639.2 1372.8,642.6 1457.1,643.5 1457.1,663.1 925,663.1" fill="#40F3FF" />
<polygon points="925,629.3 1057.3,629.3 1060.6,634.6 1088.7,634.6 1090.3,638.9 1116.1,638.9 1116.8,643.5 1156.5,645.2 1179.6,638.3 1190.9,628.7 1223.9,626 1257,626.3 1290.1,631.6 1306.6,636.9 1339.7,641.9 1372.8,644.9 1457.1,645.5 1457.1,663.1 925,663.1" fill="#40FFE6" />
<polygon points="925,630.3 1057.3,630.3 1060.6,635.9 1088.7,635.9 1090.3,640.2 1116.1,640.2 1116.8,645.2 1156.5,647.2 1182.9,641.6 1190.9,632.6 1223.9,629.3 1257,628.7 1290.1,633.6 1306.6,639.2 1339.7,644.2 1372.8,646.8 1457.1,647.5 1457.1,663.1 925,663.1" fill="#40FFBF" />
<polygon points="1116.1,645.9 1169.7,649.2 1183.6,644.9 1210.7,639.9 1306.6,643.2 1334.1,648.2 1361.2,650.8 1457.1,650.8 1457.1,663.1 1116.1,663.1" fill="#40FA6E" />
<polygon points="1306.6,645.2 1334.1,649.8 1361.2,652.8 1457.1,652.8 1457.1,663.1 1306.6,663.1" fill="#4AFA3C" />
<polygon points="1361.2,654.8 1457.1,654.5 1457.1,663.1 1361.2,663.1" fill="#7DFA3C" />
</g>
<path clip-path="url(#fc2)" d="M917.1 292.9L932.9 280.6M917.1 292.9L908 288.8M920.1 290.5L911 286.5M923.1 288.2L914 284.1M944.4 292.8L960.2 280.6M944.4 292.8L935.2 288.7M947.4 290.5L938.3 286.4M950.4 288.2L941.3 284.1M971.6 292.8L987.5 280.7M971.6 292.8L962.5 288.5M974.6 290.5L965.5 286.3M977.6 288.2L968.6 284M998.8 292.7L1014.9 280.8M998.8 292.7L989.8 288.4M1001.9 290.4L992.8 286.1M1004.9 288.2L995.9 283.9M1026.1 292.6L1042.2 280.8M1026.1 292.6L1017.1 288.3M1029.1 290.4L1020.1 286M1032.2 288.1L1023.2 283.8M1053.3 292.6L1069.5 280.9M1053.3 292.6L1044.3 288.1M1056.4 290.3L1047.4 285.9M1059.5 288.1L1050.5 283.7M1080.5 292.5L1096.9 281M1080.5 292.5L1071.6 288M1083.6 290.3L1074.7 285.8M1086.7 288.1L1077.8 283.6M1107.8 292.4L1124.2 281M1107.8 292.4L1098.9 287.8M1110.9 290.3L1102 285.7M1114 288.1L1105.1 283.5M1135 292.4L1151.5 281.1M1135 292.4L1126.1 287.7M1138.1 290.2L1129.3 285.6M1141.3 288.1L1132.4 283.4M1162.2 292.3L1178.8 281.2M1162.2 292.3L1153.4 287.6M1165.4 290.2L1156.6 285.5M1168.5 288.1L1159.7 283.3M1189.5 292.2L1206.2 281.2M1189.5 292.2L1180.7 287.4M1192.6 290.1L1183.9 285.4M1195.8 288.1L1187 283.3M1216.7 292.2L1233.5 281.3M1216.7 292.2L1208 287.3M1219.9 290.1L1211.2 285.3M1223.1 288L1214.3 283.2M1226.3 286L1221.9 283.5M1244 292.1L1260.8 281.4M1244 292.1L1235.2 287.2M1247.2 290.1L1238.5 285.1M1250.4 288L1241.7 283.1M1253.6 286L1249.2 283.5M1271.2 292L1288.1 281.4M1271.2 292L1262.5 287.1M1274.4 290L1265.7 285M1277.6 288L1269 283M1280.9 286L1276.5 283.5M1298.4 292L1315.5 281.5M1298.4 292L1289.8 287M1301.7 290L1293 285M1304.9 288L1296.3 283M1308.1 286L1303.8 283.5M1325.7 291.9L1342.8 281.5M1325.7 291.9L1317.1 286.9M1328.9 290L1320.3 284.9M1332.2 288L1323.6 282.9M1335.4 286L1331.1 283.5M1352.9 291.9L1370.1 281.6M1352.9 291.9L1344.4 286.7M1356.2 289.9L1347.6 284.8M1359.5 288L1350.9 282.8M1362.7 286L1358.4 283.4M1380.2 291.8L1397.4 281.6M1380.2 291.8L1371.7 286.6M1383.5 289.9L1374.9 284.7M1386.7 288L1378.2 282.8M1390 286L1385.7 283.4M1407.4 291.8L1424.7 281.7M1407.4 291.8L1398.9 286.5M1410.7 289.9L1402.2 284.6M1414 287.9L1405.5 282.7M1417.3 286L1413 283.4M1434.7 291.7L1452 281.7M1434.7 291.7L1426.2 286.4M1438 289.8L1429.5 284.5M1441.3 287.9L1432.8 282.6M1444.6 286L1440.3 283.4M916.9 337.3L933.1 325.5M916.9 337.3L907.9 332.9M920 335L911 330.6M923.1 332.8L918.6 330.6M944.2 337.2L960.4 325.5M944.2 337.2L935.2 332.8M947.2 335L938.3 330.5M950.3 332.8L945.9 330.6M971.4 337.2L987.7 325.6M971.4 337.2L962.5 332.7M974.5 335L965.6 330.5M977.6 332.8L973.1 330.5M998.6 337.1L1015 325.6M998.6 337.1L989.7 332.6M1001.8 334.9L992.9 330.4M1004.9 332.7L1000.4 330.5M1025.9 337.1L1042.4 325.7M1025.9 337.1L1017 332.4M1029 334.9L1020.1 330.3M1032.2 332.7L1027.7 330.4M1053.1 337L1069.7 325.7M1053.1 337L1044.3 332.3M1056.3 334.9L1047.4 330.2M1059.4 332.7L1055 330.4M1080.4 336.9L1097 325.8M1080.4 336.9L1071.6 332.2M1083.5 334.8L1074.7 330.1M1086.7 332.7L1082.3 330.3M1107.6 336.8L1124.4 325.9M1107.6 336.8L1098.8 331.9M1110.8 334.7L1102 329.9M1134.8 336.7L1151.7 326M1134.8 336.7L1126.1 331.8M1138 334.7L1129.3 329.8M1162.1 336.7L1179 326M1162.1 336.7L1153.4 331.7M1165.3 334.7L1156.6 329.7M1168.5 332.7L1164.2 330.2M1189.3 336.6L1206.3 326.1M1189.3 336.6L1180.7 331.6M1192.5 334.6L1183.9 329.6M1195.8 332.6L1191.5 330.1M1216.5 336.6L1233.7 326.2M1216.5 336.6L1208 331.4M1219.8 334.6L1211.2 329.5M1223 332.6L1214.5 327.5M1243.8 336.5L1261 326.3M1243.8 336.5L1235.2 331.3M1247.1 334.5L1238.5 329.3M1250.3 332.6L1241.8 327.4M1271 336.4L1288.3 326.3M1271 336.4L1262.5 331.1M1274.3 334.5L1265.8 329.2M1277.6 332.6L1269.1 327.3M1280.9 330.7L1276.6 328M1298.3 336.3L1315.6 326.4M1298.3 336.3L1289.8 331M1301.6 334.4L1293.1 329.1M1304.9 332.6L1296.4 327.2M1308.2 330.7L1303.9 328M1325.5 336.3L1342.9 326.5M1325.5 336.3L1317.1 330.9M1328.8 334.4L1320.4 329M1332.1 332.6L1323.7 327.2M1335.5 330.7L1331.2 328M1352.8 336.2L1370.3 326.5M1352.8 336.2L1344.4 330.8M1356.1 334.4L1347.7 328.9M1359.4 332.5L1351 327.1M1362.7 330.7L1358.5 328M1380 336.2L1397.6 326.6M1380 336.2L1371.7 330.7M1383.4 334.4L1375 328.9M1386.7 332.5L1378.3 327M1390 330.7L1385.8 328M1407.3 336.1L1424.9 326.6M1407.3 336.1L1399 330.6M1410.6 334.3L1402.3 328.8M1414 332.5L1405.6 327M1417.3 330.7L1413.1 327.9M1434.5 336.1L1452.2 326.7M1434.5 336.1L1426.2 330.5M1437.9 334.3L1429.6 328.7M1441.2 332.5L1432.9 326.9M1444.6 330.7L1440.4 327.9M916.7 380L933.3 368.8M916.7 380L907.9 375.3M919.9 377.8L911 373.1M944 380L960.6 368.8M944 380L935.2 375.3M947.1 377.8L942.7 375.5M971.3 379.9L987.9 368.8M971.3 379.9L962.4 375.2M974.4 377.8L970 375.5M998.5 379.9L1015.2 368.9M998.5 379.9L989.7 375.1M1001.7 377.8L997.3 375.4M1025.7 379.8L1042.5 369M1025.7 379.8L1017 374.9M1028.9 377.7L1024.6 375.3M1052.9 379.7L1069.9 369M1052.9 379.7L1044.3 374.7M1056.2 377.7L1051.8 375.2M1080.2 379.6L1097.2 369.1M1080.2 379.6L1071.5 374.5M1083.4 377.6L1079.1 375.1M1107.4 379.5L1124.6 369.2M1107.4 379.5L1098.8 374.3M1110.7 377.5L1106.4 375M1134.6 379.4L1151.9 369.3M1134.6 379.4L1126.1 374.2M1137.9 377.5L1133.6 374.9M1161.8 379.2L1179.3 369.5M1161.8 379.2L1153.4 373.8M1165.1 377.4L1156.7 371.9M1189 379.1L1206.6 369.7M1189 379.1L1180.7 373.5M1192.3 377.3L1184.1 371.7M1195.7 375.5L1191.6 372.7M1216.3 379.1L1233.9 369.7M1216.3 379.1L1208 373.5M1219.6 377.3L1211.3 371.7M1223 375.5L1214.7 369.9M1243.6 379.1L1261.2 369.7M1243.6 379.1L1235.3 373.5M1246.9 377.3L1238.6 371.7M1250.3 375.5L1242 369.9M1270.8 379.1L1288.5 369.7M1270.8 379.1L1262.5 373.5M1274.2 377.3L1265.9 371.7M1277.5 375.5L1269.3 369.9M1280.9 373.7L1276.8 370.9M1298.1 379L1315.8 369.7M1298.1 379L1289.8 373.4M1301.5 377.3L1293.2 371.7M1304.8 375.5L1296.5 369.9M1308.2 373.7L1304 370.9M1325.4 379L1343.1 369.7M1325.4 379L1317.1 373.4M1328.7 377.2L1320.5 371.6M1332.1 375.5L1323.8 369.8M1335.5 373.7L1331.3 370.9M1352.6 379L1370.4 369.7M1352.6 379L1344.4 373.3M1356 377.2L1347.8 371.6M1359.4 375.5L1351.1 369.8M1362.8 373.7L1358.6 370.9M1379.9 379L1397.7 369.8M1379.9 379L1371.7 373.3M1383.3 377.2L1375.1 371.5M1386.7 375.5L1378.4 369.8M1390 373.7L1385.9 370.9M1407.2 378.9L1425 369.8M1407.2 378.9L1399 373.2M1410.6 377.2L1402.4 371.5M1413.9 375.5L1405.7 369.7M1417.3 373.7L1413.2 370.9M1434.4 378.9L1452.3 369.8M1434.4 378.9L1426.3 373.2M1437.8 377.2L1429.6 371.4M1441.2 375.5L1433 369.7M1444.6 373.7L1440.5 370.9M916.6 414.5L933.4 403.6M916.6 414.5L907.9 409.7M943.9 414.5L960.7 403.7M943.9 414.5L935.1 409.6M971.1 414.5L988 403.7M971.1 414.5L962.4 409.5M974.3 412.4L970 409.9M998.4 414.4L1015.3 403.8M998.4 414.4L989.7 409.4M1001.6 412.4L997.3 409.9M1025.6 414.4L1042.6 403.8M1025.6 414.4L1017 409.4M1028.9 412.4L1024.5 409.9M1052.9 414.3L1069.9 403.9M1052.9 414.3L1044.3 409.2M1056.1 412.3L1051.8 409.8M1080.1 414.2L1097.3 404M1080.1 414.2L1071.5 409M1083.4 412.3L1074.8 407.1M1107.3 414.1L1124.6 404M1107.3 414.1L1098.8 408.9M1110.6 412.2L1102.1 407M1134.6 414L1151.9 404.1M1134.6 414L1126.1 408.7M1137.9 412.2L1129.4 406.8M1161.8 413.9L1179.3 404.2M1161.8 413.9L1153.4 408.5M1165.1 412.1L1156.7 406.6M1189 413.8L1206.6 404.3M1189 413.8L1180.7 408.3M1192.4 412L1184 406.5M1195.7 410.2L1191.5 407.4M1216.3 413.8L1233.9 404.4M1216.3 413.8L1208 408.2M1219.6 412L1211.3 406.4M1223 410.2L1218.8 407.4M1243.6 413.8L1261.2 404.4M1243.6 413.8L1235.3 408.2M1246.9 412L1238.6 406.4M1250.3 410.2L1242 404.6M1270.8 413.8L1288.5 404.4M1270.8 413.8L1262.5 408.2M1274.2 412L1265.9 406.4M1277.5 410.2L1269.3 404.6M1298.1 413.7L1315.8 404.4M1298.1 413.7L1289.8 408.1M1301.5 412L1293.2 406.3M1304.8 410.2L1296.6 404.6M1325.4 413.7L1343.1 404.5M1325.4 413.7L1317.1 408.1M1328.7 412L1320.5 406.3M1332.1 410.2L1323.9 404.5M1352.6 413.7L1370.4 404.5M1352.6 413.7L1344.4 408M1356 411.9L1347.8 406.3M1359.4 410.2L1351.1 404.5M1379.9 413.7L1397.7 404.5M1379.9 413.7L1371.7 408M1383.3 411.9L1375.1 406.2M1386.7 410.2L1378.4 404.5M1407.2 413.6L1425 404.5M1407.2 413.6L1399 407.9M1410.6 411.9L1402.4 406.2M1413.9 410.2L1405.7 404.5M1434.4 413.6L1452.3 404.5M1434.4 413.6L1426.3 407.9M1437.8 411.9L1429.6 406.2M1441.2 410.2L1433 404.4M916.6 442L933.4 431.1M916.6 442L907.9 437.1M943.9 442L960.7 431.1M943.9 442L935.1 437.1M971.1 441.9L988 431.1M971.1 441.9L962.4 437M998.4 441.9L1015.3 431.2M998.4 441.9L989.7 437M1001.6 439.9L997.3 437.4M1025.7 441.9L1042.6 431.2M1025.7 441.9L1017 436.9M1028.9 439.8L1024.5 437.4M1052.9 441.8L1069.9 431.2M1052.9 441.8L1044.3 436.9M1056.2 439.8L1051.8 437.3M1080.2 441.8L1097.2 431.3M1080.2 441.8L1071.6 436.7M1083.4 439.8L1079.1 437.3M1107.4 441.6L1124.6 431.4M1107.4 441.6L1098.8 436.4M1110.6 439.7L1102.1 434.5M1134.6 441.5L1151.9 431.6M1134.6 441.5L1126.1 436.2M1137.9 439.6L1129.4 434.3M1161.8 441.4L1179.3 431.6M1161.8 441.4L1153.4 436M1165.1 439.6L1156.7 434.2M1189.1 441.3L1206.6 431.7M1189.1 441.3L1180.7 435.9M1192.4 439.5L1184 434M1195.7 437.7L1191.5 434.9M1216.3 441.3L1233.9 431.8M1216.3 441.3L1208 435.7M1219.6 439.5L1211.3 433.9M1223 437.7L1218.8 434.9M1243.6 441.2L1261.2 431.8M1243.6 441.2L1235.3 435.6M1246.9 439.4L1238.6 433.9M1250.3 437.7L1246.1 434.9M1270.8 441.2L1288.5 431.8M1270.8 441.2L1262.5 435.6M1274.2 439.4L1265.9 433.9M1277.5 437.7L1269.3 432.1M1298.1 441.2L1315.8 431.8M1298.1 441.2L1289.8 435.6M1301.5 439.4L1293.2 433.9M1304.8 437.7L1296.5 432.1M1325.4 441.2L1343.1 431.8M1325.4 441.2L1317.1 435.6M1328.8 439.4L1320.5 433.9M1332.1 437.7L1323.8 432.1M1352.7 441.2L1370.3 431.8M1352.7 441.2L1344.4 435.6M1356 439.4L1347.7 433.9M1359.4 437.7L1351.1 432.1M1380 441.2L1397.6 431.8M1380 441.2L1371.7 435.6M1383.3 439.4L1375 433.9M1386.7 437.7L1378.4 432.1M1407.2 441.2L1424.9 431.8M1407.2 441.2L1399 435.6M1410.6 439.4L1402.3 433.9M1414 437.7L1405.7 432.1M1434.5 441.2L1452.2 431.8M1434.5 441.2L1426.2 435.6M1437.9 439.4L1429.6 433.9M1441.2 437.7L1432.9 432.1M916.6 467.4L933.4 456.5M916.6 467.4L907.9 462.6M943.9 467.4L960.7 456.6M943.9 467.4L935.1 462.5M971.1 467.4L988 456.6M971.1 467.4L962.4 462.4M974.3 465.3L970 462.9M998.4 467.3L1015.3 456.7M998.4 467.3L989.7 462.4M1001.6 465.3L997.3 462.8M1025.6 467.3L1042.6 456.7M1025.6 467.3L1017 462.3M1028.9 465.3L1024.5 462.8M1052.9 467.2L1069.9 456.8M1052.9 467.2L1044.3 462.1M1056.1 465.2L1051.8 462.7M1080.1 467.2L1097.3 456.8M1080.1 467.2L1071.5 462M1083.4 465.2L1079.1 462.6M1107.4 467.1L1124.6 456.9M1107.4 467.1L1098.8 461.9M1110.6 465.2L1102.1 460M1134.6 467L1151.9 457M1134.6 467L1126.1 461.8M1137.9 465.1L1129.4 459.9M1161.9 467L1179.2 457M1161.9 467L1153.4 461.7M1165.2 465.1L1156.7 459.8M1189.2 467L1206.5 457M1189.2 467L1180.7 461.7M1192.5 465.1L1184 459.8M1195.7 463.2L1191.5 460.5M1216.4 467L1233.8 457M1216.4 467L1208 461.7M1219.7 465.1L1211.3 459.8M1223 463.2L1218.8 460.5M1243.7 467L1261 457M1243.7 467L1235.2 461.7M1247 465.1L1238.5 459.8M1250.3 463.2L1246.1 460.5M1271 467L1288.3 457M1271 467L1262.5 461.7M1274.3 465.1L1265.8 459.8M1277.6 463.2L1273.3 460.5M1298.3 467L1315.6 457M1298.3 467L1289.8 461.7M1301.6 465.1L1293.1 459.8M1304.9 463.2L1296.4 457.9M1325.6 467L1342.9 457M1325.6 467L1317.1 461.7M1328.9 465.1L1320.4 459.8M1332.2 463.2L1323.7 457.9M1352.9 467L1370.2 457M1352.9 467L1344.4 461.7M1356.1 465.1L1347.7 459.8M1359.4 463.2L1351 457.9M1380.1 467L1397.5 457M1380.1 467L1371.7 461.7M1383.4 465.1L1374.9 459.8M1386.7 463.2L1378.2 457.9M1407.4 467L1424.7 457M1407.4 467L1398.9 461.7M1410.7 465.1L1402.2 459.8M1414 463.2L1405.5 457.9M1434.7 467L1452 457M1434.7 467L1426.2 461.7M1438 465.1L1429.5 459.8M1441.3 463.2L1432.8 457.9M916.7 489.7L933.3 478.6M916.7 489.7L907.9 485M944 489.7L960.6 478.6M944 489.7L935.2 485M971.2 489.7L987.9 478.6M971.2 489.7L962.4 484.9M998.5 489.7L1015.2 478.7M998.5 489.7L989.7 484.9M1001.7 487.6L997.3 485.2M1025.8 489.6L1042.5 478.7M1025.8 489.6L1017 484.8M1028.9 487.5L1024.6 485.1M1053 489.6L1069.8 478.7M1053 489.6L1044.3 484.7M1056.2 487.5L1051.8 485.1M1080.3 489.6L1097.1 478.7M1080.3 489.6L1071.6 484.7M1083.5 487.5L1079.1 485.1M1107.5 489.5L1124.4 478.8M1107.5 489.5L1098.8 484.6M1110.7 487.5L1106.4 485M1134.8 489.5L1151.7 478.8M1134.8 489.5L1126.1 484.5M1138 487.5L1129.3 482.5M1162.1 489.5L1179 478.8M1162.1 489.5L1153.4 484.5M1165.3 487.4L1156.6 482.5M1189.3 489.4L1206.3 478.9M1189.3 489.4L1180.7 484.4M1192.6 487.4L1183.9 482.4M1216.6 489.4L1233.6 478.9M1216.6 489.4L1208 484.4M1219.8 487.4L1211.2 482.4M1243.9 489.4L1260.9 478.9M1243.9 489.4L1235.2 484.4M1247.1 487.4L1238.5 482.4M1271.2 489.4L1288.1 478.9M1271.2 489.4L1262.5 484.4M1274.4 487.4L1265.7 482.4M1277.6 485.4L1273.3 482.9M1298.5 489.4L1315.4 478.9M1298.5 489.4L1289.8 484.4M1301.7 487.4L1293 482.4M1304.9 485.4L1300.6 482.9M1325.8 489.4L1342.7 478.9M1325.8 489.4L1317.1 484.4M1329 487.4L1320.3 482.4M1332.2 485.4L1327.9 482.9M1353 489.4L1370 478.9M1353 489.4L1344.4 484.4M1356.3 487.4L1347.6 482.4M1359.5 485.4L1355.1 482.9M1380.3 489.4L1397.3 478.9M1380.3 489.4L1371.7 484.4M1383.5 487.4L1374.9 482.4M1386.8 485.4L1382.4 482.9M1407.6 489.4L1424.6 478.9M1407.6 489.4L1398.9 484.4M1410.8 487.4L1402.2 482.4M1414 485.4L1409.7 482.9M1434.9 489.4L1451.8 478.9M1434.9 489.4L1426.2 484.4M1438.1 487.4L1429.4 482.4M1441.3 485.4L1437 482.9M916.9 511.5L933.1 499.8M916.9 511.5L907.9 507.1M944.2 511.5L960.4 499.8M944.2 511.5L935.2 507.1M971.4 511.5L987.7 499.8M971.4 511.5L962.5 507M998.7 511.4L1015 499.8M998.7 511.4L989.8 507M1001.8 509.2L997.3 507M1026 511.4L1042.3 499.9M1026 511.4L1017 506.9M1029.1 509.2L1024.6 507M1053.2 511.4L1069.6 499.9M1053.2 511.4L1044.3 506.9M1056.3 509.2L1051.9 507M1080.5 511.4L1096.9 499.9M1080.5 511.4L1071.6 506.8M1083.6 509.2L1079.2 506.9M1107.7 511.3L1124.2 500M1107.7 511.3L1098.9 506.7M1110.9 509.2L1106.4 506.8M1135 511.2L1151.5 500M1135 511.2L1126.1 506.6M1138.1 509.1L1133.7 506.8M1162.2 511.2L1178.9 500.1M1162.2 511.2L1153.4 506.4M1165.4 509.1L1156.6 504.3M1189.5 511.1L1206.2 500.2M1189.5 511.1L1180.7 506.3M1192.6 509L1183.9 504.2M1216.7 511.1L1233.5 500.2M1216.7 511.1L1208 506.2M1219.9 509L1211.2 504.2M1244 511.1L1260.8 500.2M1244 511.1L1235.3 506.2M1247.2 509L1238.4 504.2M1271.3 511.1L1288.1 500.2M1271.3 511.1L1262.5 506.2M1274.5 509L1265.7 504.2M1298.6 511.1L1315.3 500.2M1298.6 511.1L1289.8 506.2M1301.7 509L1293 504.2M1304.9 507L1300.6 504.5M1325.8 511.1L1342.6 500.2M1325.8 511.1L1317.1 506.2M1329 509L1320.3 504.2M1332.2 507L1327.8 504.5M1353.1 511.1L1369.9 500.2M1353.1 511.1L1344.4 506.2M1356.3 509L1347.6 504.2M1359.5 507L1355.1 504.5M1380.4 511.1L1397.2 500.2M1380.4 511.1L1371.7 506.2M1383.6 509L1374.8 504.2M1386.8 507L1382.4 504.5M1407.7 511.1L1424.5 500.2M1407.7 511.1L1398.9 506.2M1410.9 509L1402.1 504.2M1414.1 507L1409.7 504.5M1435 511.1L1451.7 500.2M1435 511.1L1426.2 506.2M1438.2 509L1429.4 504.2M1441.3 507L1437 504.5M917.1 531.6L932.9 519.3M917.1 531.6L908 527.6M944.4 531.6L960.2 519.4M944.4 531.6L935.3 527.5M971.6 531.5L987.5 519.4M971.6 531.5L962.5 527.4M998.9 531.5L1014.8 519.5M998.9 531.5L989.8 527.3M1001.9 529.2L997.4 527.1M1026.1 531.4L1042.2 519.5M1026.1 531.4L1017.1 527.2M1029.2 529.2L1024.6 527M1053.3 531.4L1069.5 519.6M1053.3 531.4L1044.3 527.1M1056.4 529.2L1051.9 527M1080.6 531.3L1096.8 519.6M1080.6 531.3L1071.6 526.9M1083.7 529.1L1079.2 526.9M1107.8 531.3L1124.1 519.7M1107.8 531.3L1098.9 526.8M1110.9 529.1L1106.5 526.9M1135.1 531.3L1151.4 519.7M1135.1 531.3L1126.2 526.7M1138.2 529.1L1133.7 526.8M1162.3 531.2L1178.7 519.8M1162.3 531.2L1153.4 526.6M1165.4 529L1156.6 524.5M1189.6 531.1L1206.1 519.8M1189.6 531.1L1180.7 526.5M1192.7 529L1183.8 524.4M1216.8 531.1L1233.4 519.9M1216.8 531.1L1208 526.4M1220 529L1211.1 524.3M1244.1 531.1L1260.7 519.9M1244.1 531.1L1235.3 526.4M1247.2 529L1238.4 524.3M1271.4 531.1L1288 519.9M1271.4 531.1L1262.5 526.4M1274.5 529L1265.7 524.3M1298.7 531.1L1315.2 519.9M1298.7 531.1L1289.8 526.4M1301.8 529L1293 524.3M1325.9 531.1L1342.5 519.9M1325.9 531.1L1317.1 526.4M1329.1 529L1320.3 524.3M1353.2 531.1L1369.8 519.9M1353.2 531.1L1344.4 526.4M1356.4 529L1347.5 524.3M1380.5 531.1L1397.1 519.9M1380.5 531.1L1371.7 526.4M1383.7 529L1374.8 524.3M1407.8 531.1L1424.4 519.9M1407.8 531.1L1399 526.4M1410.9 529L1402.1 524.3M1435.1 531.1L1451.6 519.9M1435.1 531.1L1426.2 526.4M1438.2 529L1429.4 524.3M917.6 551.4L932.4 538M917.6 551.4L908.2 547.9M944.8 551.3L959.8 538M944.8 551.3L935.4 547.8M972.1 551.3L987.1 538.1M972.1 551.3L962.7 547.7M999.3 551.2L1014.4 538.1M999.3 551.2L990 547.6M1026.5 551.2L1041.7 538.2M1026.5 551.2L1017.2 547.5M1053.8 551.1L1069 538.2M1053.8 551.1L1044.5 547.4M1081 551.1L1096.4 538.3M1081 551.1L1071.8 547.3M1108.2 551L1123.7 538.4M1108.2 551L1099 547.1M1135.4 550.9L1151.1 538.5M1135.4 550.9L1126.3 546.9M1162.6 550.8L1178.5 538.6M1162.6 550.8L1153.5 546.7M1165.6 548.5L1161.1 546.4M1189.8 550.7L1205.8 538.7M1189.8 550.7L1180.8 546.5M1192.9 548.4L1188.3 546.3M1217 550.6L1233.2 538.7M1217 550.6L1208 546.2M1220.1 548.3L1215.6 546.2M1244.3 550.5L1260.5 538.8M1244.3 550.5L1235.3 546.1M1247.4 548.3L1242.9 546.1M1271.5 550.5L1287.8 538.9M1271.5 550.5L1262.6 546M1274.6 548.3L1265.7 543.8M1298.8 550.4L1315.1 538.9M1298.8 550.4L1289.8 545.9M1301.9 548.2L1293 543.7M1326 550.4L1342.4 538.9M1326 550.4L1317.1 545.9M1329.2 548.2L1320.2 543.7M1353.3 550.4L1369.7 538.9M1353.3 550.4L1344.4 545.9M1356.4 548.2L1347.5 543.7M1380.6 550.4L1397 538.9M1380.6 550.4L1371.7 545.9M1383.7 548.2L1374.8 543.7M1407.9 550.4L1424.3 538.9M1407.9 550.4L1399 545.9M1411 548.2L1402.1 543.7M1435.2 550.4L1451.6 538.9M1435.2 550.4L1426.3 545.9M1438.3 548.2L1429.4 543.7M917.6 569.5L932.4 556.2M917.6 569.5L908.2 566.1M944.8 569.5L959.7 556.2M944.8 569.5L935.4 566.1M972.1 569.5L987 556.2M972.1 569.5L962.7 566M999.3 569.5L1014.4 556.2M999.3 569.5L990 565.9M1026.6 569.4L1041.7 556.3M1026.6 569.4L1017.3 565.9M1053.9 569.4L1069 556.3M1053.9 569.4L1044.5 565.8M1081.1 569.4L1096.3 556.3M1081.1 569.4L1071.8 565.8M1108.4 569.4L1123.6 556.4M1108.4 569.4L1099.1 565.7M1135.6 569.3L1150.9 556.4M1135.6 569.3L1126.3 565.6M1162.9 569.3L1178.2 556.4M1162.9 569.3L1153.6 565.6M1190.1 569.2L1205.5 556.5M1190.1 569.2L1180.9 565.4M1217.3 569.1L1232.9 556.6M1217.3 569.1L1208.1 565.2M1244.5 569L1260.3 556.7M1244.5 569L1235.4 564.9M1247.5 566.7L1242.9 564.6M1271.7 568.9L1287.6 556.8M1271.7 568.9L1262.6 564.7M1274.7 566.6L1270.2 564.5M1298.9 568.8L1315 556.9M1298.9 568.8L1289.9 564.4M1301.9 566.5L1297.4 564.3M1326.1 568.7L1342.3 557M1326.1 568.7L1317.2 564.3M1329.2 566.5L1324.7 564.3M1353.4 568.7L1369.6 557M1353.4 568.7L1344.4 564.3M1356.5 566.5L1352 564.3M1380.7 568.7L1396.9 557M1380.7 568.7L1371.7 564.3M1383.8 566.5L1379.3 564.3M1408 568.7L1424.2 557M1408 568.7L1399 564.3M1411.1 566.5L1406.6 564.3M1435.3 568.7L1451.4 557M1435.3 568.7L1426.3 564.3M1438.3 566.5L1433.8 564.3M917.3 585.2L932.7 572.3M917.3 585.2L908.1 581.4M944.6 585.1L960 572.3M944.6 585.1L935.3 581.3M971.9 585.1L987.3 572.4M971.9 585.1L962.6 581.3M999.1 585.1L1014.6 572.4M999.1 585.1L989.9 581.2M1026.4 585L1041.9 572.4M1026.4 585L1017.2 581.2M1053.6 585L1069.2 572.4M1053.6 585L1044.4 581.1M1080.9 585L1096.5 572.5M1080.9 585L1071.7 581M1108.2 585L1123.8 572.5M1108.2 585L1099 581M1135.4 584.9L1151.1 572.5M1135.4 584.9L1126.3 580.9M1162.7 584.9L1178.4 572.6M1162.7 584.9L1153.5 580.8M1189.9 584.9L1205.7 572.6M1189.9 584.9L1180.8 580.8M1217.2 584.8L1233 572.6M1217.2 584.8L1208.1 580.7M1244.4 584.8L1260.4 572.7M1244.4 584.8L1235.3 580.6M1271.7 584.7L1287.7 572.7M1271.7 584.7L1262.6 580.5M1298.9 584.7L1315 572.8M1298.9 584.7L1289.9 580.3M1326.1 584.6L1342.3 572.8M1326.1 584.6L1317.2 580.2M1353.4 584.6L1369.6 572.8M1353.4 584.6L1344.4 580.2M1380.7 584.6L1396.9 572.8M1380.7 584.6L1371.7 580.2M1408 584.6L1424.2 572.8M1408 584.6L1399 580.2M1411.1 582.4L1406.6 580.2M1435.3 584.6L1451.4 572.8M1435.3 584.6L1426.3 580.2M1438.3 582.4L1433.8 580.2M916.2 595L933.8 585.6M916.2 595L907.9 589.4M943.5 595L961.1 585.6M943.5 595L935.2 589.5M970.8 595.1L988.4 585.5M970.8 595.1L962.4 589.5M998.1 595.1L1015.6 585.5M998.1 595.1L989.7 589.6M1025.4 595.1L1042.9 585.5M1025.4 595.1L1017 589.7M1052.7 595.2L1070.2 585.4M1052.7 595.2L1044.3 589.7M1080 595.2L1097.4 585.4M1080 595.2L1071.6 589.8M1107.3 595.2L1124.7 585.4M1107.3 595.2L1098.8 589.8M1134.6 595.3L1151.9 585.3M1134.6 595.3L1126.1 589.9M1161.9 595.3L1179.2 585.3M1161.9 595.3L1153.4 590M1189.2 595.3L1206.5 585.3M1189.2 595.3L1180.7 590.1M1216.5 595.4L1233.7 585.2M1216.5 595.4L1208 590.2M1243.8 595.5L1261 585.1M1243.8 595.5L1235.2 590.3M1271.1 595.5L1288.2 585.1M1271.1 595.5L1262.5 590.4M1298.5 595.6L1315.4 585M1298.5 595.6L1289.8 590.6M1325.8 595.6L1342.7 585M1325.8 595.6L1317.1 590.7M1353.1 595.7L1369.9 584.9M1353.1 595.7L1344.4 590.8M1380.4 595.8L1397.2 584.8M1380.4 595.8L1371.7 590.9M1407.7 595.8L1424.4 584.8M1407.7 595.8L1399 591.1M1435.1 595.9L1451.6 584.7M1435.1 595.9L1426.2 591.2M915.3 601.2L934.7 596M919 600.2L915.6 596.5M942.6 601.2L961.9 595.9M946.3 600.2L942.9 596.6M969.9 601.3L989.2 595.8M973.6 600.3L970.1 596.6M997.2 601.4L1016.4 595.8M1000.9 600.3L997.4 596.7M1024.5 601.4L1043.7 595.7M1024.5 601.4L1017.5 594.3M1051.8 601.5L1071 595.6M1051.8 601.5L1044.8 594.4M1079.1 601.6L1098.2 595.6M1079.1 601.6L1072 594.5M1106.5 601.6L1125.5 595.5M1106.5 601.6L1099.3 594.6M1133.8 601.7L1152.7 595.4M1133.8 601.7L1126.5 594.8M1161.1 601.9L1180 595.2M1161.1 601.9L1153.7 595.1M1188.5 602.1L1207.2 595.1M1188.5 602.1L1181 595.5M1215.8 602.2L1234.4 594.9M1215.8 602.2L1208.2 595.8M1243.2 602.4L1261.6 594.7M1243.2 602.4L1235.4 596.1M1270.5 602.6L1288.8 594.6M1270.5 602.6L1262.7 596.4M1297.9 602.8L1316 594.4M1297.9 602.8L1289.9 596.7M1325.2 602.9L1343.2 594.2M1325.2 602.9L1317.2 597M1352.6 603.1L1370.4 594.1M1352.6 603.1L1344.4 597.3M1380 603.2L1397.6 593.9M1380 603.2L1371.7 597.6M1407.3 603.4L1424.8 593.7M1407.3 603.4L1398.9 598M1434.7 603.6L1452 593.6M1434.7 603.6L1426.2 598.3M915.2 604.1L934.8 608.3M918.9 604.9L917.6 600.1M942.4 604.5L962.1 607.9M946.2 605.1L944.6 600.4M969.7 604.8L989.5 607.5M973.4 605.3L971.7 600.6M996.9 605.2L1016.8 607.2M1000.7 605.6L998.8 600.9M1024.1 605.6L1044.1 606.8M1027.9 605.8L1025.9 601.2M1051.4 605.9L1071.4 606.4M1055.2 606L1053 601.5M1078.7 606.3L1098.7 606.1M1082.5 606.2L1080.1 601.9M1106 606.7L1126 605.7M1109.8 606.5L1107.2 602.2M1133.3 607L1153.2 605.3M1137.1 606.7L1134.4 602.5M1160.6 607.4L1180.5 605M1160.6 607.4L1154.9 599.2M1187.9 607.7L1207.7 604.6M1187.9 607.7L1181.9 599.8M1215.3 608.1L1234.9 604.2M1215.3 608.1L1209 600.4M1242.6 608.4L1262.1 603.9M1242.6 608.4L1236.1 600.9M1270 608.8L1289.3 603.6M1270 608.8L1263.2 601.4M1297.4 609.1L1316.5 603.3M1297.4 609.1L1290.3 602M1324.8 609.4L1343.7 603M1324.8 609.4L1317.5 602.5M1352.1 609.7L1370.9 602.7M1352.1 609.7L1344.7 603M1379.5 610L1398 602.4M1379.5 610L1371.8 603.6M1407 610.3L1425.2 602.1M1407 610.3L1399.1 604.1M1434.4 610.6L1452.3 601.8M1434.4 610.6L1426.3 604.7M917.3 607.7L932.7 620.5M920.3 610.1L921.3 605.2M944.1 608.3L960.4 619.9M947.2 610.5L947.9 605.6M971 609L988.2 619.2M974.2 611L974.4 606M997.8 609.8L1015.9 618.5M1001.3 611.4L1001.1 606.4M1024.8 610.5L1043.4 617.8M1028.4 611.8L1027.8 606.9M1051.9 611L1070.9 617.3M1055.5 612.2L1054.7 607.2M1079.1 611.4L1098.3 616.8M1082.7 612.5L1081.6 607.6M1106.2 612L1125.7 616.3M1109.9 612.8L1108.6 608M1133.4 612.5L1153.1 615.8M1137.1 613.1L1135.6 608.3M1160.6 613L1180.5 615.2M1164.4 613.4L1162.5 608.8M1187.8 613.5L1207.8 614.7M1191.6 613.8L1189.5 609.2M1215.1 614.1L1235.1 614.1M1218.9 614.1L1216.5 609.7M1242.4 614.7L1262.4 613.5M1242.4 614.7L1237.2 606.2M1269.7 615.3L1289.6 612.9M1269.7 615.3L1264 607.1M1297.1 615.8L1316.8 612.5M1297.1 615.8L1291 607.8M1324.4 616.1L1344 612.1M1324.4 616.1L1318.1 608.4M1351.8 616.5L1371.2 611.7M1351.8 616.5L1345.1 609M1379.2 616.8L1398.4 611.4M1379.2 616.8L1372.3 609.6M1406.6 617.2L1425.6 611M1406.6 617.2L1399.4 610.2M1434 617.5L1452.8 610.7M1434 617.5L1426.5 610.8M919.7 613.9L930.3 630.9M921.7 617.1L924.2 612.8M946.6 614.2L958 630.6M948.7 617.3L951 612.8M973.5 614.4L985.6 630.3M975.8 617.5L977.9 612.9M1000.4 614.7L1013.3 630M1002.8 617.6L1004.7 613M1027.3 615.1L1040.9 629.7M1029.9 617.8L1031.5 613.1M1054.3 615.4L1068.6 629.4M1057 618L1058.4 613.2M1081.2 615.7L1096.2 629M1084.1 618.3L1085.2 613.4M1108.2 616.1L1123.7 628.7M1111.2 618.5L1112.1 613.6M1135.2 616.4L1151.3 628.3M1138.3 618.7L1139 613.7M1162.1 617L1179 627.8M1165.3 619L1165.7 614.1M1188.9 617.8L1206.7 627M1192.3 619.5L1192.3 614.5M1215.8 618.6L1234.4 626.1M1219.4 620L1218.8 615.1M1242.8 619.7L1262 625.1M1246.4 620.7L1245.4 615.8M1269.8 620.9L1289.5 623.9M1269.8 620.9L1266.5 611.4M1297 622.1L1316.9 622.7M1297 622.1L1292.5 613.1M1324.2 622.7L1344.2 622.1M1324.2 622.7L1319.3 614M1351.5 623L1371.5 621.7M1351.5 623L1346.3 614.5M1378.8 623.4L1398.7 621.4M1378.8 623.4L1373.3 615.1M1406.2 623.8L1426 621M1406.2 623.8L1400.3 615.7M1433.5 624.1L1453.2 620.6M1433.5 624.1L1427.4 616.2M920 622L930 639.3M921.9 625.3L924.5 621M947.3 622L957.3 639.3M949.2 625.3L951.8 621M974.6 622L984.6 639.3M976.5 625.3L979.1 621M1001.8 622L1011.8 639.3M1003.7 625.3L1006.4 621M1029.1 622L1039.1 639.3M1031 625.3L1033.7 621M1056.4 622L1066.4 639.3M1058.3 625.3L1061 621M1083.6 622L1093.8 639.3M1085.5 625.3L1088.1 621M1110.6 622.2L1121.4 639.1M1112.6 625.4L1115.1 621.1M1137.5 622.4L1149 638.9M1139.7 625.6L1142 621.1M1164.5 622.7L1176.5 638.6M1166.8 625.7L1168.9 621.2M1191.5 622.9L1204.1 638.4M1193.9 625.8L1195.9 621.2M1217.8 623.8L1232.4 637.5M1220.6 626.4L1221.9 621.6M1243.8 625.5L1261 635.8M1247.1 627.5L1247.3 622.5M1270.2 627.4L1289.1 633.8M1273.8 628.7L1273 623.7M1297.1 628.7L1316.8 632.6M1300.9 629.4L1299.4 624.6M1324.3 629.6L1344.2 631.7M1324.3 629.6L1320.5 620.3M1351.5 630.1L1371.5 631.2M1351.5 630.1L1347.3 621.1M1378.8 630.6L1398.8 630.7M1378.8 630.6L1374.1 621.7M1406.1 631.1L1426.1 630.2M1406.1 631.1L1401 622.4M1433.4 631.5L1453.3 629.8M1433.4 631.5L1428 623.1M1083.7 629.9L1093.7 647.2M1085.6 633.2L1088.2 629M1111 629.9L1121 647.2M1112.9 633.2L1115.5 629M1138.3 629.9L1148.3 647.2M1140.2 633.2L1142.8 629M1165.5 629.9L1175.5 647.2M1167.4 633.2L1170.1 629M1192.3 630.2L1203.3 646.9M1194.4 633.4L1196.8 629M1218.7 630.9L1231.5 646.3M1221.1 633.8L1223 629.2M1244.9 632L1259.9 645.2M1247.7 634.5L1248.9 629.6M1270.7 634.2L1288.7 642.9M1274.1 635.9L1273.9 630.9M1297.2 636.2L1316.7 640.9M1300.9 637.1L1299.7 632.3M1324.4 637L1344.1 640.1M1324.4 637L1321.1 627.6M1351.5 637.8L1371.5 639.4M1351.5 637.8L1347.6 628.6M1378.8 638.5L1398.8 638.7M1378.8 638.5L1374.2 629.6M1406.1 639.2L1426.1 637.9M1406.1 639.2L1400.8 630.7M1433.5 640L1453.3 637.2M1433.5 640L1427.6 631.9M1297.1 644.9L1316.8 648.2M1300.8 645.5L1299.2 640.8M1324.3 645.5L1344.2 647.5M1324.3 645.5L1320.5 636.3M1351.5 646.5L1371.5 646.5M1351.5 646.5L1346.8 637.6M1378.8 647.5L1398.7 645.5M1378.8 647.5L1373.3 639.2M1406.3 648.6L1425.9 644.4M1406.3 648.6L1399.9 640.9M1433.8 649.6L1452.9 643.4M1433.8 649.6L1426.7 642.7M1352 656.7L1371.1 650.9M1352 656.7L1344.9 649.7M1379.4 657.2L1398.2 650.4M1379.4 657.2L1372 650.4M1406.8 657.6L1425.3 650M1406.8 657.6L1399.1 651.2M1434.3 658L1452.4 649.6M1434.3 658L1426.3 652" stroke="#333" stroke-width="1.0" fill="none"/>
<rect x="925" y="253" width="532" height="433.5" fill="none" stroke="#000" stroke-width="1.3"/>
<text transform="translate(1191 242.3) scale(0.986 1)" font-size="33.6" text-anchor="middle" fill="#000" >Curtain 2 (C2)</text>
<line x1="911.5" y1="253" x2="925" y2="253" stroke="#444" stroke-width="1.3" />
<text transform="translate(897 260.9) scale(0.955 1)" font-size="23" text-anchor="end" fill="#000" >200</text>
<line x1="911.5" y1="362.7" x2="925" y2="362.7" stroke="#444" stroke-width="1.3" />
<text transform="translate(897 370.6) scale(0.955 1)" font-size="23" text-anchor="end" fill="#000" >300</text>
<line x1="911.5" y1="500.9" x2="925" y2="500.9" stroke="#444" stroke-width="1.3" />
<text transform="translate(897 508.8) scale(0.955 1)" font-size="23" text-anchor="end" fill="#000" >500</text>
<line x1="911.5" y1="592" x2="925" y2="592" stroke="#444" stroke-width="1.3" />
<text transform="translate(897 599.9) scale(0.955 1)" font-size="23" text-anchor="end" fill="#000" >700</text>
<line x1="911.5" y1="644.5" x2="925" y2="644.5" stroke="#444" stroke-width="1.3" />
<text transform="translate(897 652.4) scale(0.955 1)" font-size="23" text-anchor="end" fill="#000" >850</text>
<line x1="911.5" y1="667.4" x2="925" y2="667.4" stroke="#444" stroke-width="1.3" />
<text transform="translate(897 675.3) scale(0.955 1)" font-size="23" text-anchor="end" fill="#000" >925</text>
<line x1="1457" y1="281.1" x2="1470" y2="281.1" stroke="#444" stroke-width="1.3" />
<text transform="translate(1482.5 288.1)" font-size="19.7" fill="#000" >35</text>
<line x1="1457" y1="340" x2="1470" y2="340" stroke="#444" stroke-width="1.3" />
<text transform="translate(1482.5 347)" font-size="19.7" fill="#000" >30</text>
<line x1="1457" y1="398.9" x2="1470" y2="398.9" stroke="#444" stroke-width="1.3" />
<text transform="translate(1482.5 405.9)" font-size="19.7" fill="#000" >25</text>
<line x1="1457" y1="457.7" x2="1470" y2="457.7" stroke="#444" stroke-width="1.3" />
<text transform="translate(1482.5 464.7)" font-size="19.7" fill="#000" >20</text>
<line x1="1457" y1="516.6" x2="1470" y2="516.6" stroke="#444" stroke-width="1.3" />
<text transform="translate(1482.5 523.6)" font-size="19.7" fill="#000" >15</text>
<line x1="1457" y1="575.5" x2="1470" y2="575.5" stroke="#444" stroke-width="1.3" />
<text transform="translate(1482.5 582.5)" font-size="19.7" fill="#000" >10</text>
<line x1="1457" y1="634.3" x2="1470" y2="634.3" stroke="#444" stroke-width="1.3" />
<text transform="translate(1482.5 641.3)" font-size="19.7" fill="#000" >5</text>
<line x1="1457" y1="681.4" x2="1470" y2="681.4" stroke="#444" stroke-width="1.3" />
<text transform="translate(1482.5 688.4)" font-size="19.7" fill="#000" >1</text>
<line x1="925" y1="686.5" x2="925" y2="699.5" stroke="#444" stroke-width="1.3" />
<text transform="translate(924.3 731) scale(0.977 1)" font-size="22" text-anchor="middle" fill="#000" >117.0W</text>
<text transform="translate(921.3 755.2) scale(0.977 1)" font-size="22" text-anchor="middle" fill="#000" >40.1N</text>
<line x1="1061.2" y1="686.5" x2="1061.2" y2="699.5" stroke="#444" stroke-width="1.3" />
<text transform="translate(1060.5 731) scale(0.977 1)" font-size="22" text-anchor="middle" fill="#000" >117.0W</text>
<text transform="translate(1057.5 755.2) scale(0.977 1)" font-size="22" text-anchor="middle" fill="#000" >41.7N</text>
<line x1="1197.5" y1="686.5" x2="1197.5" y2="699.5" stroke="#444" stroke-width="1.3" />
<text transform="translate(1196.8 731) scale(0.977 1)" font-size="22" text-anchor="middle" fill="#000" >117.0W</text>
<text transform="translate(1193.8 755.2) scale(0.977 1)" font-size="22" text-anchor="middle" fill="#000" >43.3N</text>
<line x1="1333.7" y1="686.5" x2="1333.7" y2="699.5" stroke="#444" stroke-width="1.3" />
<text transform="translate(1333 731) scale(0.977 1)" font-size="22" text-anchor="middle" fill="#000" >117.0W</text>
<text transform="translate(1330 755.2) scale(0.977 1)" font-size="22" text-anchor="middle" fill="#000" >44.9N</text>
<rect x="1375" y="695.7" width="82" height="65" fill="#fff" stroke="#777" stroke-width="1"/>
<text transform="translate(1416 718.5) scale(1.05 1)" font-size="22.7" text-anchor="middle" fill="#000" >30 m/s</text>
<path d="M1408.6 741.7L1428.4 741.7M1408.6 741.7L1404 733M1412 741.7L1407.4 733M1415.4 741.7L1410.8 733" stroke="#555" stroke-width="0.9" fill="none"/>
</g>
<g id="p3">
<clipPath id="tc3"><polygon points="256.5,953 778.6,953 778.6,1339.5 752.3,1339.5 752.3,1334.7 711.6,1334.7 711.6,1329.8 685,1329.8 685,1324.9 645,1324.9 645,1316.8 591.4,1316.8 591.4,1308.7 497.1,1308.7 497.1,1316.5 471.1,1316.5 471.1,1324.6 457.1,1324.6 457.1,1334.3 417.1,1334.3 417.1,1329.5 389.5,1329.5 389.5,1324.6 256.5,1324.6"/></clipPath>
<clipPath id="fc3"><rect x="256.5" y="953" width="522.1" height="425.2"/></clipPath>
<g clip-path="url(#tc3)" shape-rendering="geometricPrecision">
<rect x="256.5" y="953" width="522.1" height="425.2" fill="#40CCFF"/>
<polygon points="472.7,1029.4 484.1,1013.1 497.1,1003.4 510.1,1000.1 526.3,1008.3 539.3,1021.3 542.6,1034.3 529.6,1048.9 510.1,1057 493.8,1052.2 480.8,1042.4" fill="#40DFFF" />
<polygon points="532.8,953 588.1,953 575.1,955.6 549.1,956.3" fill="#40DFFF" />
<polygon points="734.4,953 740.9,962.8 757.2,972.5 779.6,977.4 779.6,953" fill="#30B7FF" />
<polygon points="779.6,995.3 744.1,996.9 711.6,1000.1 688.9,1006.6 669.4,1018 646.6,1037.5 614.1,1057 588.1,1070 575.1,1089.5 565.3,1109 549.1,1128.6 523.1,1144.8 497.1,1154.6 484.1,1164.3 464.6,1177.3 438.6,1185.4 402.8,1187.1 370.3,1180.6 337.8,1164.3 315,1144.8 292.3,1125.3 282.5,1109 269.5,1104.2 256.5,1100.9 256.5,1288.8 304.9,1292.1 353.7,1298.6 386.2,1305.1 418.7,1310 446.7,1308.3 467.8,1301.8 492.2,1288.8 517.9,1270.9 567,1264.4 615.7,1262.8 664.5,1267.7 713.3,1277.4 745.8,1285.6 779.6,1292.1" fill="#30B7FF" />
<polygon points="779.6,1048.9 744.1,1047.3 701.9,1047.9 679.1,1057 662.9,1073.3 654.7,1096 651.5,1115.5 659.6,1138.3 675.9,1154.6 682.4,1164.3 672.6,1177.3 630.4,1175.7 597.9,1170.8 565.3,1169.2 549.1,1180.6 575.1,1190.3 614.1,1200.1 646.6,1208.2 679.1,1216.3 711.6,1224.5 744.1,1234.2 779.6,1242.3 779.6,1182.2 750.6,1180.6 727.9,1174.1 718.1,1161.1 744.1,1152.9 779.6,1148.1" fill="#009FFF" />
<polygon points="256.5,1177.3 276,1183.8 298.8,1191.9 321.5,1200.1 341,1213.1 350.8,1226.1 344.3,1242.3 321.5,1252.1 289,1257 256.5,1258.6" fill="#009FFF" />
<polygon points="695.4,1068.4 779.6,1067.4 779.6,1126.9 698.6,1126.9 690.5,1099.3" fill="#3C8DC2" />
<polygon points="256.5,1319.1 386.5,1319.1 389.5,1323.9 417.1,1328.8 438.6,1330.1 457.1,1319.1 471.1,1310.6 497.1,1299.2 517.9,1288.8 567,1290.5 615.7,1293.7 648.2,1301.8 680.8,1310 713.3,1314.8 745.8,1318.1 779.6,1321.3 779.6,1356.1 256.5,1356.1" fill="#40DFFF" />
<polygon points="256.5,1320.7 386.5,1320.7 389.5,1325.6 417.1,1330.4 445.1,1331.1 457.1,1321 471.1,1312.6 497.1,1303.5 517.9,1297 567,1300.2 615.7,1305.1 648.2,1311.6 680.8,1316.5 713.3,1321.3 745.8,1324.6 779.6,1328.8 779.6,1356.1 256.5,1356.1" fill="#40F3FF" />
<polygon points="256.5,1321.7 386.5,1321.7 389.5,1326.5 417.1,1331.4 451.6,1331.4 457.1,1322 471.1,1313.9 497.1,1305.4 517.9,1300.2 567,1302.8 615.7,1308.3 648.2,1314.8 680.8,1319.1 713.3,1323.9 745.8,1327.8 779.6,1331.4 779.6,1356.1 256.5,1356.1" fill="#40FFE6" />
<polygon points="256.5,1322.6 386.5,1322.6 389.5,1327.5 417.1,1332.4 454.8,1332.4 457.1,1323 471.1,1314.8 497.1,1307 517.9,1303.5 567,1305.1 591.4,1308.3 615.7,1311.6 648.2,1318.1 680.8,1321.3 713.3,1326.2 745.8,1331.1 779.6,1333.7 779.6,1356.1 256.5,1356.1" fill="#40FFBF" />
<polygon points="256.5,1321.3 276,1322.6 298.8,1324.6 256.5,1324.6" fill="#4AFA3C" />
<polygon points="417.1,1332.7 457.1,1332.1 457.1,1335 417.1,1335" fill="#4AFA3C" />
<polygon points="488.9,1308.7 497.1,1308.7 497.1,1317.1 488.9,1317.1" fill="#4AFA3C" />
<polygon points="591.4,1310.6 604.4,1314.5 601.1,1317.1 591.4,1317.1" fill="#A5FC40" />
<polygon points="711.6,1332.7 752.3,1332.7 752.3,1337.6 779.6,1337.6 779.6,1356.1 711.6,1356.1" fill="#4AFA3C" />
</g>
<path clip-path="url(#fc3)" d="M247.6 990.7L265.4 981.6M247.6 990.7L239.4 985M251 989L242.8 983.2M254.4 987.2L250.3 984.4M274.4 990.7L292.2 981.6M274.4 990.7L266.2 984.9M277.7 989L269.6 983.2M281.1 987.2L277 984.4M301.1 990.7L319 981.7M301.1 990.7L293 984.9M304.5 988.9L296.3 983.2M307.9 987.2L303.8 984.4M327.9 990.6L345.8 981.7M327.9 990.6L319.7 984.8M331.3 988.9L323.1 983.1M334.7 987.2L330.6 984.3M354.6 990.6L372.5 981.7M354.6 990.6L346.5 984.8M358 988.9L349.9 983.1M361.4 987.2L357.4 984.3M381.4 990.6L399.3 981.7M381.4 990.6L373.3 984.8M384.8 988.9L376.7 983.1M388.2 987.2L384.2 984.3M408.2 990.6L426.1 981.7M408.2 990.6L400.1 984.7M411.6 988.9L403.5 983.1M415 987.2L410.9 984.3M434.9 990.6L452.9 981.8M434.9 990.6L426.8 984.7M438.4 988.9L430.3 983M441.8 987.2L437.7 984.3M461.7 990.5L479.7 981.8M461.7 990.5L453.6 984.7M465.1 988.9L457 983M468.5 987.2L464.5 984.3M488.5 990.5L506.5 981.8M488.5 990.5L480.4 984.7M491.9 988.9L483.8 983M495.3 987.2L491.3 984.3M515.3 990.5L533.2 981.8M515.3 990.5L507.2 984.7M518.7 988.9L510.6 983M522.1 987.2L514 981.3M542 990.5L560 981.8M542 990.5L533.9 984.7M545.4 988.9L537.4 983M548.9 987.2L540.8 981.3M568.8 990.6L586.8 981.8M568.8 990.6L560.7 984.7M572.2 988.9L564.1 983M575.6 987.2L567.5 981.3M595.6 990.6L613.5 981.7M595.6 990.6L587.5 984.7M599 988.9L590.9 983.1M602.4 987.2L594.3 981.4M622.4 990.6L640.3 981.7M622.4 990.6L614.3 984.8M625.8 988.9L617.7 983.1M629.2 987.2L621.1 981.4M649.2 990.6L667.1 981.7M649.2 990.6L641 984.8M652.6 988.9L644.4 983.1M656 987.2L647.8 981.4M675.9 990.6L693.8 981.7M675.9 990.6L667.8 984.8M679.3 988.9L671.2 983.1M682.7 987.2L674.6 981.4M686.1 985.5L682.1 982.6M702.7 990.7L720.6 981.7M702.7 990.7L694.6 984.9M706.1 988.9L698 983.2M709.5 987.2L701.4 981.5M712.9 985.5L708.8 982.6M729.5 990.7L747.4 981.6M729.5 990.7L721.3 984.9M732.9 989L724.7 983.2M736.3 987.2L728.1 981.5M739.7 985.5L735.6 982.6M756.3 990.7L774.1 981.6M756.3 990.7L748.1 985M759.7 989L751.5 983.2M763.1 987.2L754.9 981.5M766.5 985.5L762.4 982.7M247.5 1034.4L265.5 1025.7M247.5 1034.4L239.4 1028.6M250.9 1032.8L242.8 1026.9M254.3 1031.1L250.3 1028.2M274.3 1034.4L292.3 1025.7M274.3 1034.4L266.2 1028.5M277.7 1032.8L269.6 1026.9M281.1 1031.1L277.1 1028.1M301 1034.4L319.1 1025.7M301 1034.4L293 1028.5M304.5 1032.7L296.4 1026.8M307.9 1031.1L303.9 1028.1M327.8 1034.4L345.8 1025.7M327.8 1034.4L319.8 1028.4M331.2 1032.7L323.2 1026.8M334.7 1031.1L330.6 1028.1M354.6 1034.3L372.6 1025.8M354.6 1034.3L346.5 1028.4M358 1032.7L350 1026.7M361.4 1031.1L357.4 1028.1M381.3 1034.3L399.4 1025.8M381.3 1034.3L373.3 1028.3M384.8 1032.7L376.8 1026.7M388.2 1031.1L384.2 1028.1M408.1 1034.3L426.2 1025.8M408.1 1034.3L400.1 1028.3M411.5 1032.7L403.5 1026.7M415 1031.1L411 1028.1M434.8 1034.2L453 1025.9M434.8 1034.2L426.9 1028.1M438.3 1032.6L430.3 1026.6M441.7 1031L437.8 1028M461.6 1034.1L479.8 1026M461.6 1034.1L453.7 1028M465 1032.6L457.2 1026.4M488.3 1034.1L506.6 1026M488.3 1034.1L480.5 1028M491.8 1032.6L483.9 1026.4M515.1 1034.1L533.4 1026M515.1 1034.1L507.2 1028M518.6 1032.6L510.7 1026.4M541.9 1034.1L560.2 1026M541.9 1034.1L534 1028M545.4 1032.6L537.5 1026.4M568.7 1034.1L586.9 1026M568.7 1034.1L560.8 1028M572.1 1032.6L564.2 1026.4M595.5 1034.2L613.7 1025.9M595.5 1034.2L587.5 1028.2M598.9 1032.6L591 1026.6M602.4 1031.1L598.4 1028M622.3 1034.3L640.4 1025.8M622.3 1034.3L614.3 1028.3M625.7 1032.7L617.7 1026.7M629.2 1031.1L625.2 1028.1M649.1 1034.4L667.1 1025.7M649.1 1034.4L641 1028.4M652.5 1032.7L644.5 1026.8M656 1031.1L651.9 1028.1M675.9 1034.4L693.9 1025.7M675.9 1034.4L667.8 1028.5M679.3 1032.8L671.2 1026.9M682.7 1031.1L678.7 1028.2M702.7 1034.5L720.6 1025.6M702.7 1034.5L694.6 1028.6M706.1 1032.8L698 1027M709.5 1031.1L701.4 1025.3M729.5 1034.5L747.4 1025.6M729.5 1034.5L721.3 1028.7M732.9 1032.8L724.7 1027M736.3 1031.1L728.1 1025.3M756.3 1034.6L774.1 1025.5M756.3 1034.6L748.1 1028.9M759.7 1032.9L751.5 1027.1M763.1 1031.1L754.9 1025.4M247.4 1075.6L265.6 1067.1M247.4 1075.6L239.5 1069.5M250.9 1074L246.9 1070.9M274.2 1075.5L292.4 1067.1M274.2 1075.5L266.2 1069.5M277.6 1073.9L273.7 1070.9M301 1075.5L319.1 1067.2M301 1075.5L293 1069.4M304.4 1073.9L300.4 1070.9M327.7 1075.5L345.9 1067.2M327.7 1075.5L319.8 1069.4M331.2 1073.9L327.2 1070.9M354.5 1075.5L372.7 1067.2M354.5 1075.5L346.6 1069.3M357.9 1073.9L354 1070.8M381.2 1075.4L399.5 1067.2M381.2 1075.4L373.4 1069.3M384.7 1073.9L380.8 1070.8M408 1075.4L426.3 1067.3M408 1075.4L400.1 1069.2M411.5 1073.9L407.5 1070.8M434.8 1075.4L453.1 1067.3M434.8 1075.4L426.9 1069.2M438.2 1073.8L434.3 1070.7M461.5 1075.3L479.9 1067.3M461.5 1075.3L453.7 1069.1M465 1073.8L461.1 1070.7M488.3 1075.3L506.6 1067.4M488.3 1075.3L480.5 1069.1M491.8 1073.8L487.9 1070.7M515.1 1075.3L533.4 1067.4M515.1 1075.3L507.3 1069M518.5 1073.8L514.6 1070.7M541.8 1075.3L560.2 1067.4M541.8 1075.3L534 1069M545.3 1073.8L541.4 1070.6M568.6 1075.3L587 1067.3M568.6 1075.3L560.8 1069.1M572.1 1073.8L564.3 1067.6M595.5 1075.5L613.7 1067.2M595.5 1075.5L587.5 1069.4M598.9 1073.9L591 1067.9M622.3 1075.7L640.3 1067M622.3 1075.7L614.3 1069.8M625.8 1074L617.7 1068.1M629.2 1072.4L625.1 1069.4M649.2 1075.8L667.1 1066.9M649.2 1075.8L641 1070M652.6 1074.1L644.4 1068.3M656 1072.4L651.9 1069.5M676 1075.9L693.8 1066.8M676 1075.9L667.8 1070.1M679.4 1074.1L671.2 1068.4M682.7 1072.4L674.6 1066.7M702.8 1075.9L720.6 1066.7M702.8 1075.9L694.6 1070.2M706.2 1074.2L697.9 1068.5M709.5 1072.4L701.3 1066.7M729.6 1076L747.3 1066.7M729.6 1076L721.3 1070.3M732.9 1074.2L724.7 1068.6M736.3 1072.4L728.1 1066.8M739.7 1070.7L735.6 1067.9M756.4 1076L774 1066.6M756.4 1076L748.1 1070.4M759.7 1074.2L751.4 1068.7M763.1 1072.5L754.8 1066.9M766.4 1070.7L762.3 1067.9M247.4 1110.5L265.6 1102.4M247.4 1110.5L239.5 1104.4M274.1 1110.5L292.4 1102.4M274.1 1110.5L266.3 1104.4M277.6 1109L273.7 1105.9M300.9 1110.5L319.2 1102.4M300.9 1110.5L293 1104.3M304.4 1109L300.4 1105.9M327.7 1110.5L346 1102.4M327.7 1110.5L319.8 1104.2M331.1 1108.9L327.2 1105.8M354.4 1110.4L372.8 1102.5M354.4 1110.4L346.6 1104.1M357.9 1108.9L354 1105.8M381.2 1110.3L399.6 1102.6M381.2 1110.3L373.4 1104M384.7 1108.9L380.8 1105.7M407.9 1110.3L426.4 1102.6M407.9 1110.3L400.2 1103.9M411.4 1108.8L407.6 1105.6M434.7 1110.2L453.2 1102.7M434.7 1110.2L427 1103.8M438.2 1108.8L434.3 1105.6M461.4 1110.2L480 1102.7M461.4 1110.2L453.8 1103.8M464.9 1108.8L461.1 1105.6M488.2 1110.2L506.7 1102.7M488.2 1110.2L480.5 1103.8M491.7 1108.8L484 1102.4M515 1110.3L533.5 1102.6M515 1110.3L507.3 1104M518.5 1108.9L510.8 1102.6M541.9 1110.4L560.2 1102.5M541.9 1110.4L534 1104.2M545.3 1108.9L537.5 1102.7M568.7 1110.5L586.9 1102.4M568.7 1110.5L560.8 1104.4M572.1 1109L564.2 1102.9M595.5 1110.6L613.6 1102.2M595.5 1110.6L587.5 1104.6M598.9 1109L591 1103M622.3 1110.8L640.3 1102.1M622.3 1110.8L614.3 1104.9M625.8 1109.1L617.7 1103.2M629.2 1107.5L625.1 1104.5M649.2 1110.9L667.1 1102M649.2 1110.9L641 1105.1M652.6 1109.2L644.4 1103.4M656 1107.5L651.9 1104.6M676 1111L693.8 1101.9M676 1111L667.8 1105.2M679.4 1109.3L671.2 1103.5M682.7 1107.5L674.6 1101.8M702.8 1111L720.6 1101.9M702.8 1111L694.6 1105.3M706.2 1109.3L697.9 1103.6M709.5 1107.5L701.3 1101.9M729.6 1111.1L747.3 1101.8M729.6 1111.1L721.3 1105.4M732.9 1109.3L724.7 1103.7M736.3 1107.6L728.1 1101.9M756.4 1111.1L774 1101.8M756.4 1111.1L748.1 1105.5M759.7 1109.4L751.4 1103.8M763.1 1107.6L754.8 1102M247.3 1137.3L265.7 1129.5M247.3 1137.3L239.5 1131M274.1 1137.3L292.5 1129.5M274.1 1137.3L266.3 1131M300.8 1137.3L319.3 1129.6M300.8 1137.3L293.1 1131M327.6 1137.3L346.1 1129.6M327.6 1137.3L319.9 1130.9M354.4 1137.3L372.8 1129.6M354.4 1137.3L346.6 1130.9M381.1 1137.2L399.6 1129.6M381.1 1137.2L373.4 1130.8M407.9 1137.2L426.4 1129.6M407.9 1137.2L400.2 1130.8M434.7 1137.2L453.2 1129.7M434.7 1137.2L427 1130.8M461.4 1137.2L480 1129.7M461.4 1137.2L453.8 1130.7M464.9 1135.8L461.1 1132.5M488.2 1137.2L506.7 1129.6M488.2 1137.2L480.5 1130.8M491.7 1135.8L484 1129.4M515 1137.3L533.5 1129.5M515 1137.3L507.3 1131M518.5 1135.8L510.8 1129.5M541.9 1137.4L560.2 1129.4M541.9 1137.4L534 1131.2M545.3 1135.9L537.5 1129.7M568.7 1137.5L586.9 1129.3M568.7 1137.5L560.8 1131.4M572.1 1136L564.2 1129.8M595.5 1137.6L613.6 1129.2M595.5 1137.6L587.5 1131.6M598.9 1136L591 1130M622.3 1137.8L640.3 1129.1M622.3 1137.8L614.3 1131.9M625.8 1136.1L617.7 1130.2M649.2 1137.9L667 1128.9M649.2 1137.9L641 1132.2M652.6 1136.2L644.4 1130.5M656 1134.5L651.9 1131.6M676 1138L693.8 1128.9M676 1138L667.8 1132.3M679.4 1136.3L671.2 1130.6M682.8 1134.5L678.6 1131.7M702.8 1138L720.5 1128.8M702.8 1138L694.6 1132.4M706.2 1136.3L697.9 1130.6M709.5 1134.5L705.4 1131.7M729.6 1138.1L747.3 1128.8M729.6 1138.1L721.3 1132.5M733 1136.3L724.7 1130.7M736.3 1134.5L728 1128.9M756.4 1138.1L774 1128.7M756.4 1138.1L748.1 1132.5M759.7 1136.3L751.4 1130.7M763.1 1134.6L754.8 1129M247.3 1161.7L265.7 1153.9M247.3 1161.7L239.5 1155.4M274.1 1161.7L292.5 1153.9M274.1 1161.7L266.3 1155.4M300.8 1161.7L319.3 1153.9M300.8 1161.7L293.1 1155.4M327.6 1161.7L346.1 1154M327.6 1161.7L319.9 1155.3M354.4 1161.6L372.8 1154M354.4 1161.6L346.6 1155.3M381.1 1161.6L399.6 1154M381.1 1161.6L373.4 1155.3M407.9 1161.6L426.4 1154M407.9 1161.6L400.2 1155.2M434.7 1161.6L453.2 1154M434.7 1161.6L427 1155.2M461.4 1161.6L480 1154.1M461.4 1161.6L453.8 1155.1M488.2 1161.6L506.7 1154.1M488.2 1161.6L480.5 1155.1M491.7 1160.1L487.9 1156.9M515 1161.6L533.5 1154M515 1161.6L507.3 1155.3M518.5 1160.2L510.8 1153.8M541.8 1161.8L560.2 1153.9M541.8 1161.8L534 1155.5M545.3 1160.3L537.5 1154M568.7 1161.9L586.9 1153.7M568.7 1161.9L560.8 1155.8M572.1 1160.3L564.2 1154.2M595.5 1162L613.6 1153.6M595.5 1162L587.5 1156M598.9 1160.4L591 1154.4M622.3 1162.2L640.3 1153.5M622.3 1162.2L614.3 1156.3M625.8 1160.5L617.7 1154.6M649.2 1162.3L667 1153.3M649.2 1162.3L641 1156.6M652.6 1160.6L644.4 1154.8M676 1162.5L693.7 1153.1M676 1162.5L667.8 1156.9M679.4 1160.7L671.1 1155.1M682.8 1158.9L678.6 1156.1M702.9 1162.6L720.4 1153M702.9 1162.6L694.5 1157.1M706.2 1160.8L697.9 1155.3M709.6 1159L705.4 1156.2M729.7 1162.7L747.2 1152.9M729.7 1162.7L721.3 1157.3M733 1160.8L724.6 1155.4M736.3 1159L732.1 1156.3M756.6 1162.8L773.9 1152.8M756.6 1162.8L748.1 1157.5M759.8 1160.9L751.4 1155.6M763.1 1159L758.9 1156.4M247.4 1183.7L265.6 1175.5M247.4 1183.7L239.5 1177.5M274.1 1183.6L292.4 1175.6M274.1 1183.6L266.3 1177.4M300.9 1183.6L319.2 1175.6M300.9 1183.6L293.1 1177.3M327.6 1183.5L346 1175.7M327.6 1183.5L319.8 1177.3M354.4 1183.5L372.8 1175.7M354.4 1183.5L346.6 1177.2M381.1 1183.4L399.6 1175.7M381.1 1183.4L373.4 1177.1M407.9 1183.4L426.4 1175.8M407.9 1183.4L400.2 1177M434.7 1183.4L453.2 1175.8M434.7 1183.4L427 1177M461.4 1183.3L480 1175.8M461.4 1183.3L453.8 1176.9M488.2 1183.3L506.7 1175.8M488.2 1183.3L480.5 1176.9M491.7 1181.9L487.9 1178.7M515 1183.4L533.5 1175.8M515 1183.4L507.3 1177M518.5 1182L514.7 1178.8M541.8 1183.5L560.2 1175.6M541.8 1183.5L534 1177.3M545.3 1182L541.4 1178.9M568.7 1183.7L586.9 1175.5M568.7 1183.7L560.8 1177.5M572.1 1182.1L564.2 1176M595.5 1183.8L613.6 1175.4M595.5 1183.8L587.5 1177.8M598.9 1182.2L591 1176.2M622.3 1183.9L640.3 1175.2M622.3 1183.9L614.3 1178M625.8 1182.3L617.7 1176.4M649.2 1184.1L667 1175M649.2 1184.1L641 1178.4M652.6 1182.4L644.4 1176.7M676.1 1184.4L693.7 1174.8M676.1 1184.4L667.8 1178.8M679.4 1182.5L671.1 1177M682.8 1180.7L678.6 1178M703 1184.6L720.3 1174.6M703 1184.6L694.5 1179.3M706.3 1182.7L697.8 1177.4M709.6 1180.8L705.3 1178.1M729.9 1184.7L747 1174.5M729.9 1184.7L721.3 1179.6M733.1 1182.8L724.6 1177.6M736.4 1180.8L732.1 1178.2M756.7 1184.9L773.7 1174.3M756.7 1184.9L748.1 1179.9M760 1182.9L751.3 1177.9M763.2 1180.9L758.8 1178.4M247.5 1205.1L265.5 1196.3M247.5 1205.1L239.4 1199.2M274.3 1205L292.3 1196.4M274.3 1205L266.2 1199.1M301 1205L319.1 1196.5M301 1205L293 1199M327.7 1204.9L345.9 1196.6M327.7 1204.9L319.8 1198.8M354.5 1204.8L372.7 1196.6M354.5 1204.8L346.6 1198.7M381.2 1204.7L399.5 1196.7M381.2 1204.7L373.4 1198.5M408 1204.7L426.3 1196.8M408 1204.7L400.2 1198.4M434.7 1204.6L453.1 1196.9M434.7 1204.6L427 1198.3M461.4 1204.5L479.9 1196.9M461.4 1204.5L453.8 1198.1M488.2 1204.5L506.7 1197M488.2 1204.5L480.5 1198M515 1204.6L533.5 1196.9M515 1204.6L507.3 1198.2M518.5 1203.1L514.7 1199.9M541.9 1204.7L560.2 1196.7M541.9 1204.7L534 1198.5M545.3 1203.2L541.4 1200.1M568.7 1204.9L586.9 1196.6M568.7 1204.9L560.8 1198.8M572.2 1203.3L564.2 1197.2M595.6 1205.1L613.6 1196.4M595.6 1205.1L587.5 1199.1M599 1203.4L590.9 1197.5M622.4 1205.2L640.3 1196.2M622.4 1205.2L614.2 1199.5M625.8 1203.5L617.6 1197.8M649.3 1205.4L666.9 1196M649.3 1205.4L641 1199.9M652.6 1203.6L644.3 1198.1M676.2 1205.6L693.6 1195.8M676.2 1205.6L667.8 1200.2M679.5 1203.8L671.1 1198.4M703.1 1205.8L720.3 1195.6M703.1 1205.8L694.5 1200.6M706.3 1203.9L697.8 1198.7M729.9 1206L746.9 1195.5M729.9 1206L721.3 1201M733.2 1204L724.5 1199M756.8 1206.2L773.6 1195.3M756.8 1206.2L748.1 1201.3M760 1204.1L751.3 1199.3M247.7 1224.9L265.3 1215.5M247.7 1224.9L239.4 1219.3M274.4 1224.8L292.2 1215.6M274.4 1224.8L266.2 1219.1M301.1 1224.7L319 1215.8M301.1 1224.7L293 1218.9M327.8 1224.6L345.8 1215.9M327.8 1224.6L319.7 1218.7M354.5 1224.5L372.6 1216M354.5 1224.5L346.5 1218.5M381.3 1224.4L399.5 1216.1M381.3 1224.4L373.3 1218.3M408 1224.3L426.3 1216.2M408 1224.3L400.1 1218.1M434.7 1224.2L453.1 1216.3M434.7 1224.2L426.9 1217.9M461.4 1224L479.9 1216.4M461.4 1224L453.7 1217.7M488.2 1224L506.7 1216.5M488.2 1224L480.5 1217.5M515 1224.1L533.5 1216.4M515 1224.1L507.3 1217.7M518.5 1222.6L514.7 1219.4M541.9 1224.3L560.2 1216.2M541.9 1224.3L534 1218.1M545.3 1222.7L541.4 1219.7M568.7 1224.5L586.8 1216M568.7 1224.5L560.7 1218.5M572.2 1222.9L568.2 1219.9M595.6 1224.7L613.5 1215.8M595.6 1224.7L587.5 1218.9M599 1223L594.9 1220.1M622.5 1224.9L640.2 1215.6M622.5 1224.9L614.2 1219.2M625.9 1223.1L621.7 1220.3M649.4 1225.2L666.8 1215.3M649.4 1225.2L641 1219.8M652.7 1223.3L644.3 1217.9M676.3 1225.4L693.5 1215.1M676.3 1225.4L667.7 1220.2M679.6 1223.4L671 1218.2M703.2 1225.5L720.2 1214.9M703.2 1225.5L694.5 1220.5M706.4 1223.5L697.7 1218.5M730 1225.7L746.8 1214.8M730 1225.7L721.3 1220.8M733.2 1223.6L724.5 1218.7M756.9 1225.8L773.5 1214.6M756.9 1225.8L748.1 1221.1M760.1 1223.7L751.2 1219M247.8 1244.1L265.2 1234.1M247.8 1244.1L239.4 1238.8M274.5 1244L292 1234.2M274.5 1244L266.1 1238.5M301.2 1243.8L318.9 1234.3M301.2 1243.8L292.9 1238.3M328 1243.7L345.7 1234.5M328 1243.7L319.7 1238M354.7 1243.6L372.5 1234.6M354.7 1243.6L346.5 1237.8M381.4 1243.4L399.4 1234.7M381.4 1243.4L373.3 1237.5M408.1 1243.3L426.2 1234.9M408.1 1243.3L400.1 1237.3M434.8 1243.2L453 1235M434.8 1243.2L426.9 1237M461.5 1243L479.9 1235.1M461.5 1243L453.7 1236.8M488.2 1242.9L506.7 1235.3M488.2 1242.9L480.5 1236.5M515 1242.8L533.5 1235.3M515 1242.8L507.3 1236.4M518.5 1241.4L514.7 1238.2M541.8 1243L560.2 1235.2M541.8 1243L534 1236.7M545.3 1241.5L541.4 1238.3M568.7 1243.2L586.9 1234.9M568.7 1243.2L560.8 1237.1M572.1 1241.7L568.2 1238.6M595.6 1243.5L613.6 1234.7M595.6 1243.5L587.5 1237.6M599 1241.8L594.9 1238.9M622.5 1243.7L640.2 1234.5M622.5 1243.7L614.2 1238.1M625.8 1242L621.7 1239.1M649.4 1244L666.8 1234.1M649.4 1244L641 1238.7M652.7 1242.1L648.5 1239.5M676.4 1244.3L693.4 1233.8M676.4 1244.3L667.7 1239.3M679.6 1242.3L671 1237.3M703.3 1244.5L720.1 1233.7M703.3 1244.5L694.5 1239.7M706.5 1242.5L697.7 1237.6M730.1 1244.7L746.7 1233.5M730.1 1244.7L721.3 1240M733.3 1242.5L724.5 1237.8M757 1244.8L773.4 1233.4M757 1244.8L748.1 1240.3M760.1 1242.6L751.2 1238.1M247.7 1260.7L265.3 1251.3M247.7 1260.7L239.4 1255.1M274.4 1260.6L292.2 1251.4M274.4 1260.6L266.2 1254.8M301.1 1260.4L319 1251.6M301.1 1260.4L293 1254.6M327.8 1260.3L345.9 1251.7M327.8 1260.3L319.8 1254.3M354.5 1260.2L372.7 1251.8M354.5 1260.2L346.6 1254.1M381.2 1260L399.5 1252M381.2 1260L373.4 1253.8M407.9 1259.9L426.4 1252.1M407.9 1259.9L400.2 1253.6M434.7 1259.8L453.2 1252.2M434.7 1259.8L427 1253.3M461.4 1259.6L480 1252.4M461.4 1259.6L453.8 1253.1M488.1 1259.5L506.8 1252.5M488.1 1259.5L480.6 1252.8M514.9 1259.5L533.6 1252.5M514.9 1259.5L507.4 1252.9M541.7 1259.7L560.3 1252.3M541.7 1259.7L534.1 1253.3M568.6 1259.9L587 1252.1M568.6 1259.9L560.8 1253.7M572.1 1258.4L568.2 1255.3M595.5 1260.1L613.7 1251.9M595.5 1260.1L587.5 1254M598.9 1258.6L595 1255.5M622.3 1260.3L640.4 1251.7M622.3 1260.3L614.3 1254.4M625.8 1258.7L621.7 1255.7M649.3 1260.6L667 1251.4M649.3 1260.6L641 1255M652.6 1258.9L648.5 1256M676.2 1260.9L693.6 1251M676.2 1260.9L667.8 1255.6M679.5 1259.1L675.3 1256.4M703.2 1261.3L720.2 1250.7M703.2 1261.3L694.5 1256.2M706.4 1259.3L702.1 1256.7M730.1 1261.6L746.7 1250.4M730.1 1261.6L721.3 1256.9M733.3 1259.4L728.9 1257.1M757.1 1261.9L773.3 1250.1M757.1 1261.9L748.1 1257.5M760.2 1259.6L755.7 1257.4M246.8 1272.6L266.2 1267.4M250.5 1271.6L247.1 1267.9M273.6 1272.6L292.9 1267.3M277.3 1271.6L273.9 1268M300.4 1272.7L319.7 1267.3M304.1 1271.6L300.6 1268M327.2 1272.8L346.4 1267.2M330.9 1271.7L327.4 1268.1M354.1 1273L373.1 1266.9M354.1 1273L346.9 1266.1M380.8 1272.8L399.9 1267.1M380.8 1272.8L373.8 1265.7M407.5 1272.7L426.8 1267.3M407.5 1272.7L400.6 1265.4M434.2 1272.5L453.6 1267.4M434.2 1272.5L427.5 1265.1M461 1272.3L480.4 1267.6M461 1272.3L454.3 1264.8M487.7 1272.1L507.2 1267.8M487.7 1272.1L481.2 1264.5M514.5 1272.2L534 1267.7M514.5 1272.2L507.9 1264.7M541.4 1272.6L560.7 1267.4M541.4 1272.6L534.5 1265.3M568.2 1272.9L587.3 1267M568.2 1272.9L561.1 1265.9M595.1 1273.3L614 1266.7M595.1 1273.3L587.8 1266.5M622 1273.6L640.6 1266.3M622 1273.6L614.4 1267.1M649 1274.1L667.2 1265.9M649 1274.1L641.1 1267.9M676 1274.5L693.8 1265.4M676 1274.5L667.8 1268.8M703 1275L720.3 1265M703 1275L694.5 1269.7M730.1 1275.4L746.8 1264.5M730.1 1275.4L721.3 1270.6M757.1 1275.8L773.3 1264.1M757.1 1275.8L748.1 1271.5M246.5 1281.9L266.5 1280.8M250.3 1281.7L247.7 1277.4M273.3 1281.9L293.3 1280.8M277.1 1281.7L274.5 1277.4M300.1 1282L320 1280.7M303.9 1281.7L301.2 1277.5M326.8 1282.1L346.8 1280.6M330.6 1281.8L328 1277.5M353.6 1282.1L373.6 1280.6M357.4 1281.8L354.7 1277.6M380.4 1282.2L400.3 1280.5M384.2 1281.9L381.5 1277.7M407.2 1282.2L427.1 1280.5M411 1281.8L408.3 1277.6M433.9 1281.9L453.9 1280.8M437.7 1281.7L435.1 1277.4M460.7 1281.7L480.7 1281M460.7 1281.7L455.7 1273M487.5 1281.5L507.5 1281.2M487.5 1281.5L482.7 1272.7M514.2 1281.6L534.2 1281.1M514.2 1281.6L509.3 1272.9M541 1282L561 1280.7M541 1282L535.8 1273.6M567.9 1282.5L587.7 1280.2M567.9 1282.5L562.2 1274.3M594.7 1282.9L614.4 1279.7M594.7 1282.9L588.6 1275M621.6 1283.6L641.1 1279.1M621.6 1283.6L615 1276M648.6 1284.3L667.7 1278.4M648.6 1284.3L641.5 1277.2M675.6 1285L694.2 1277.7M675.6 1285L668 1278.5M702.6 1285.7L720.7 1277M702.6 1285.7L694.6 1279.7M729.8 1286.3L747.1 1276.4M729.8 1286.3L721.3 1281M756.9 1286.9L773.5 1275.8M756.9 1286.9L748.1 1282.2M247 1287.4L266 1293.5M250.6 1288.5L249.7 1283.6M273.6 1287.7L292.9 1293.2M277.3 1288.8L276.2 1283.9M300.3 1288.1L319.8 1292.8M304 1289L302.8 1284.2M327 1288.5L346.6 1292.4M330.7 1289.3L329.3 1284.5M353.7 1288.9L373.5 1292M357.5 1289.5L355.8 1284.8M380.4 1289.3L400.3 1291.6M384.2 1289.7L382.4 1285.1M407.2 1289.6L427.1 1291.3M411 1289.9L409 1285.3M434 1289.6L453.9 1291.3M437.7 1289.9L435.8 1285.3M460.7 1289.6L480.7 1291.3M464.5 1289.9L462.6 1285.3M487.5 1289.6L507.4 1291.3M491.3 1289.9L489.3 1285.3M514.3 1289.8L534.2 1291.1M518.1 1290.1L516 1285.5M541 1290.3L561 1290.6M544.8 1290.3L542.6 1285.9M567.8 1290.7L587.8 1290.2M567.8 1290.7L562.9 1282M594.6 1291.2L614.5 1289.7M594.6 1291.2L589.3 1282.7M621.4 1291.9L641.2 1289M621.4 1291.9L615.6 1283.8M648.4 1292.6L667.9 1288.3M648.4 1292.6L641.9 1285M675.3 1293.3L694.5 1287.6M675.3 1293.3L668.3 1286.3M702.3 1294.1L721 1286.8M702.3 1294.1L694.8 1287.5M729.4 1294.8L747.5 1286.1M729.4 1294.8L721.4 1288.8M756.6 1295.5L773.9 1285.5M756.6 1295.5L748.1 1290.2M248.8 1292.5L264.2 1305.3M251.8 1294.9L252.8 1290M275.3 1292.9L291.3 1304.9M278.3 1295.2L279.1 1290.2M301.7 1293.4L318.4 1304.4M304.9 1295.5L305.4 1290.5M328.2 1293.8L345.4 1304M331.5 1295.8L331.7 1290.8M354.7 1294.3L372.5 1303.5M358.1 1296.1L358 1291.1M381.3 1294.8L399.5 1303M384.7 1296.3L384.4 1291.3M407.9 1295.1L426.4 1302.7M411.4 1296.5L410.9 1291.6M434.5 1295.4L453.3 1302.4M438.1 1296.8L437.4 1291.8M461.2 1295.8L480.2 1302M464.8 1297L463.9 1292M487.9 1296.1L507.1 1301.7M491.5 1297.2L490.5 1292.3M514.5 1296.5L534 1301.3M518.2 1297.4L517 1292.6M541.2 1297L560.8 1300.8M544.9 1297.7L543.5 1292.9M567.9 1297.4L587.7 1300.4M567.9 1297.4L564.5 1288M594.6 1297.9L614.5 1299.9M594.6 1297.9L590.8 1288.6M621.3 1298.7L641.3 1299.1M621.3 1298.7L616.9 1289.7M648.1 1299.6L668.1 1298.2M648.1 1299.6L642.8 1291.1M675 1300.5L694.8 1297.3M675 1300.5L669 1292.5M702 1301.4L721.3 1296.4M702 1301.4L695.2 1294M729 1302.3L747.9 1295.5M729 1302.3L721.6 1295.6M756.1 1303.1L774.3 1294.7M756.1 1303.1L748.2 1297.1M250.1 1299.7L262.9 1315M252.5 1302.6L254.4 1298M276.5 1300L290 1314.7M279.1 1302.8L280.8 1298.1M303 1300.3L317.1 1314.4M305.7 1303L307.1 1298.2M329.4 1300.6L344.2 1314.1M332.2 1303.2L333.5 1298.3M355.9 1300.9L371.3 1313.8M358.8 1303.4L359.9 1298.5M382.4 1301.3L398.3 1313.4M385.5 1303.6L386.3 1298.7M409 1301.6L425.3 1313.1M412.1 1303.8L412.7 1298.8M435.6 1301.9L452.3 1312.8M438.7 1304L439.2 1299M462.1 1302.2L479.3 1312.5M465.4 1304.1L465.7 1299.2M488.8 1302.4L506.2 1312.3M492.1 1304.3L492.2 1299.3M515.5 1302.5L533 1312.2M518.8 1304.4L518.9 1299.4M542.2 1302.6L559.8 1312.1M545.6 1304.4L545.6 1299.4M568.7 1303.2L586.9 1311.5M572.2 1304.8L571.9 1299.8M595.1 1304.1L614 1310.6M595.1 1304.1L593.6 1294.2M621.6 1305L641.1 1309.7M621.6 1305L619.1 1295.4M648.2 1306.1L668 1308.6M648.2 1306.1L644.7 1296.7M674.9 1307.2L694.9 1307.5M674.9 1307.2L670.3 1298.3M701.7 1308.3L721.6 1306.4M701.7 1308.3L696.2 1299.9M728.6 1309.4L748.2 1305.3M728.6 1309.4L722.3 1301.7M755.7 1310.4L774.7 1304.3M755.7 1310.4L748.5 1303.5M250.1 1308.1L262.9 1323.5M252.5 1311.1L254.4 1306.4M276.6 1308.3L289.9 1323.3M279.2 1311.2L280.9 1306.5M303.2 1308.5L316.9 1323.1M305.8 1311.3L307.4 1306.6M329.7 1308.7L343.9 1322.9M332.4 1311.4L333.9 1306.6M356.3 1309L370.9 1322.7M359.1 1311.6L360.4 1306.7M382.8 1309.2L397.9 1322.4M385.7 1311.7L386.8 1306.9M409.2 1309.7L425.1 1321.9M412.2 1312L413.1 1307.1M435.6 1310.2L452.2 1321.4M438.8 1312.3L439.3 1307.4M462.2 1310.6L479.2 1321.1M465.4 1312.6L465.7 1307.6M595.3 1312.1L613.9 1319.5M598.8 1313.5L598.2 1308.6M621.7 1313L640.9 1318.6M621.7 1313L619.7 1303.2M648.3 1313.9L667.9 1317.7M648.3 1313.9L645.4 1304.3M674.9 1314.8L694.8 1316.8M674.9 1314.8L671.2 1305.5M701.7 1315.7L721.7 1315.9M701.7 1315.7L697.1 1306.8M728.5 1316.6L748.4 1315M728.5 1316.6L723.1 1308.2M755.4 1317.5L775.1 1314.1M755.4 1317.5L749.2 1309.7M355.1 1319L372.1 1329.5M358.3 1321L358.7 1316M381.8 1319.2L399 1329.4M385 1321.1L385.3 1316.1M408.5 1319.3L425.8 1329.2M411.8 1321.2L411.9 1316.2M435.1 1319.5L452.7 1329.1M438.5 1321.3L438.5 1316.3M461.8 1319.7L479.6 1328.8M465.2 1321.4L465.1 1316.4M648.3 1322.4L667.9 1326.1M648.3 1322.4L645.3 1312.8M675 1323.1L694.8 1325.5M675 1323.1L671.4 1313.7M701.7 1323.8L721.7 1324.8M701.7 1323.8L697.4 1314.7M728.4 1324.4L748.4 1324.1M728.4 1324.4L723.6 1315.7M755.3 1325.1L775.2 1323.4M755.3 1325.1L749.8 1316.7M408.3 1327L426 1336.4M411.7 1328.8L411.7 1323.8M435.1 1327L452.7 1336.4M438.4 1328.8L438.4 1323.8M701.7 1331.9L721.7 1331.5M701.7 1331.9L696.8 1323.2M728.5 1332.5L748.4 1330.9M728.5 1332.5L723.1 1324.1M755.3 1333.1L775.1 1330.3M755.3 1333.1L749.4 1325M756.4 1343.3L774 1333.9M756.4 1343.3L748.1 1337.7" stroke="#333" stroke-width="1.0" fill="none"/>
<rect x="256.5" y="953" width="522.1" height="425.2" fill="none" stroke="#000" stroke-width="1.3"/>
<text transform="translate(517.5 942.3) scale(0.986 1)" font-size="33.6" text-anchor="middle" fill="#000" >Curtain 3 (C3)</text>
<line x1="243" y1="953" x2="256.5" y2="953" stroke="#444" stroke-width="1.3" />
<text transform="translate(228.5 960.9) scale(0.955 1)" font-size="23" text-anchor="end" fill="#000" >200</text>
<line x1="243" y1="1060.6" x2="256.5" y2="1060.6" stroke="#444" stroke-width="1.3" />
<text transform="translate(228.5 1068.5) scale(0.955 1)" font-size="23" text-anchor="end" fill="#000" >300</text>
<line x1="243" y1="1196.2" x2="256.5" y2="1196.2" stroke="#444" stroke-width="1.3" />
<text transform="translate(228.5 1204.1) scale(0.955 1)" font-size="23" text-anchor="end" fill="#000" >500</text>
<line x1="243" y1="1285.5" x2="256.5" y2="1285.5" stroke="#444" stroke-width="1.3" />
<text transform="translate(228.5 1293.4) scale(0.955 1)" font-size="23" text-anchor="end" fill="#000" >700</text>
<line x1="243" y1="1337" x2="256.5" y2="1337" stroke="#444" stroke-width="1.3" />
<text transform="translate(228.5 1344.9) scale(0.955 1)" font-size="23" text-anchor="end" fill="#000" >850</text>
<line x1="243" y1="1359.5" x2="256.5" y2="1359.5" stroke="#444" stroke-width="1.3" />
<text transform="translate(228.5 1367.4) scale(0.955 1)" font-size="23" text-anchor="end" fill="#000" >925</text>
<line x1="778.6" y1="980.6" x2="791.6" y2="980.6" stroke="#444" stroke-width="1.3" />
<text transform="translate(804.1 987.6)" font-size="19.7" fill="#000" >35</text>
<line x1="778.6" y1="1038.3" x2="791.6" y2="1038.3" stroke="#444" stroke-width="1.3" />
<text transform="translate(804.1 1045.3)" font-size="19.7" fill="#000" >30</text>
<line x1="778.6" y1="1096.1" x2="791.6" y2="1096.1" stroke="#444" stroke-width="1.3" />
<text transform="translate(804.1 1103.1)" font-size="19.7" fill="#000" >25</text>
<line x1="778.6" y1="1153.8" x2="791.6" y2="1153.8" stroke="#444" stroke-width="1.3" />
<text transform="translate(804.1 1160.8)" font-size="19.7" fill="#000" >20</text>
<line x1="778.6" y1="1211.6" x2="791.6" y2="1211.6" stroke="#444" stroke-width="1.3" />
<text transform="translate(804.1 1218.6)" font-size="19.7" fill="#000" >15</text>
<line x1="778.6" y1="1269.3" x2="791.6" y2="1269.3" stroke="#444" stroke-width="1.3" />
<text transform="translate(804.1 1276.3)" font-size="19.7" fill="#000" >10</text>
<line x1="778.6" y1="1327" x2="791.6" y2="1327" stroke="#444" stroke-width="1.3" />
<text transform="translate(804.1 1334)" font-size="19.7" fill="#000" >5</text>
<line x1="778.6" y1="1373.2" x2="791.6" y2="1373.2" stroke="#444" stroke-width="1.3" />
<text transform="translate(804.1 1380.2)" font-size="19.7" fill="#000" >1</text>
<line x1="256.5" y1="1378.2" x2="256.5" y2="1391.2" stroke="#444" stroke-width="1.3" />
<text transform="translate(255.8 1422.7) scale(0.977 1)" font-size="22" text-anchor="middle" fill="#000" >115.0W</text>
<text transform="translate(252.8 1446.9) scale(0.977 1)" font-size="22" text-anchor="middle" fill="#000" >40.1N</text>
<line x1="390.2" y1="1378.2" x2="390.2" y2="1391.2" stroke="#444" stroke-width="1.3" />
<text transform="translate(389.5 1422.7) scale(0.977 1)" font-size="22" text-anchor="middle" fill="#000" >115.0W</text>
<text transform="translate(386.5 1446.9) scale(0.977 1)" font-size="22" text-anchor="middle" fill="#000" >41.7N</text>
<line x1="523.9" y1="1378.2" x2="523.9" y2="1391.2" stroke="#444" stroke-width="1.3" />
<text transform="translate(523.2 1422.7) scale(0.977 1)" font-size="22" text-anchor="middle" fill="#000" >115.0W</text>
<text transform="translate(520.2 1446.9) scale(0.977 1)" font-size="22" text-anchor="middle" fill="#000" >43.3N</text>
<line x1="657.6" y1="1378.2" x2="657.6" y2="1391.2" stroke="#444" stroke-width="1.3" />
<text transform="translate(656.9 1422.7) scale(0.977 1)" font-size="22" text-anchor="middle" fill="#000" >115.0W</text>
<text transform="translate(653.9 1446.9) scale(0.977 1)" font-size="22" text-anchor="middle" fill="#000" >44.9N</text>
<rect x="696.6" y="1387.4" width="82" height="65" fill="#fff" stroke="#777" stroke-width="1"/>
<text transform="translate(737.6 1410.2) scale(1.05 1)" font-size="22.7" text-anchor="middle" fill="#000" >30 m/s</text>
<path d="M730.2 1433.4L750 1433.4M730.2 1433.4L725.6 1424.7M733.6 1433.4L729 1424.7M737 1433.4L732.4 1424.7" stroke="#555" stroke-width="0.9" fill="none"/>
<text transform="translate(171 1165.6) rotate(-90) scale(0.939 1)" font-size="28.6" text-anchor="middle" fill="#000" >Altitude (hPa)</text>
</g>
<g id="p4">
<clipPath id="tc4"><polygon points="925,953 1457,953 1457,1341.9 1430,1341.9 1430,1337.6 1375.4,1337.6 1375.4,1332.2 1334.1,1332.2 1334.1,1324 1266.3,1324 1266.3,1315 1224.9,1315 1224.9,1324 1183.9,1324 1183.9,1331.8 1116.1,1331.8 1116.1,1337.6 1088.7,1337.6 1088.7,1331.8 1034.1,1331.8 1034.1,1337.6 952.1,1337.6 952.1,1331.8 925,1331.8"/></clipPath>
<clipPath id="fc4"><rect x="925" y="953" width="532" height="433.5"/></clipPath>
<g clip-path="url(#tc4)" shape-rendering="geometricPrecision">
<rect x="925" y="953" width="532" height="433.5" fill="#40CCFF"/>
<polygon points="925,953 991.1,953 974.6,959.6 951.5,967.9 934.9,976.1 925,981.1" fill="#40DFFF" />
<polygon points="1136.6,953 1354.9,953 1321.8,959.6 1255.7,964.6 1189.6,961.3" fill="#40DFFF" />
<polygon points="1171.4,1085.3 1179.6,1068.7 1206.1,1058.8 1229.2,1047.2 1245.8,1042.3 1259,1048.9 1268.9,1058.8 1275.5,1072 1268.9,1085.3 1255.7,1098.5 1232.5,1115 1206.1,1128.3 1189.6,1136.5 1179.6,1125 1173,1105.1" fill="#40DFFF" />
<polygon points="925,1048.9 958.1,1052.2 984.5,1058.8 1001.1,1072 1006,1091.9 1007.7,1111.7 1011,1131.6 1020.9,1148.1 1037.4,1164.6 1063.9,1177.9 1097,1184.5 1130,1191.1 1156.5,1202.7 1182.9,1212.6 1222.6,1214.2 1255.7,1210.9 1288.8,1204.3 1321.8,1196.1 1354.9,1191.1 1388,1192.7 1421,1197.7 1457.1,1199.4 1457.1,1253.3 1438.9,1254.9 1405.8,1264.8 1372.8,1271.5 1339.7,1274.8 1290.1,1277.4 1240.5,1281.4 1190.9,1292 1131.7,1296.3 1106.9,1299.6 1082.1,1303.9 1049,1305.5 1007.7,1301.2 958.1,1295.6 925,1292.9" fill="#30B7FF" />
<polygon points="925,1164.6 958.1,1174.6 991.1,1191.1 1017.6,1209.3 1050.7,1224.2 1083.7,1234.1 1116.8,1240.7 1083.7,1247.3 1050.7,1250.6 1017.6,1249 991.1,1245.7 971.3,1240.7 954.8,1230.8 938.2,1220.9 925,1217.6" fill="#009FFF" />
<polygon points="925,1326 1183.9,1326 1189.6,1318.7 1224.9,1310.1 1224.9,1363.1 925,1363.1" fill="#40DFFF" />
<polygon points="925,1328.7 1183.9,1328.7 1186.2,1321.4 1224.9,1312.8 1224.9,1363.1 925,1363.1" fill="#40F3FF" />
<polygon points="925,1330.3 1183.9,1330.3 1183.9,1322.7 1224.9,1314.1 1224.9,1363.1 925,1363.1" fill="#40FFE6" />
<polygon points="952.1,1332 1034.1,1332 1034.1,1339.9 952.1,1339.9" fill="#40FA6E" />
<polygon points="952.1,1334.3 1034.1,1334.3 1034.1,1339.9 952.1,1339.9" fill="#7DFA3C" />
<polygon points="1088.7,1332 1116.1,1332 1116.1,1339.9 1088.7,1339.9" fill="#40FA6E" />
<polygon points="1088.7,1334.3 1116.1,1334.3 1116.1,1339.9 1088.7,1339.9" fill="#7DFA3C" />
<polygon points="1149.9,1330.3 1183.9,1327.7 1183.9,1333.3 1149.9,1333.3" fill="#40FA6E" />
<polygon points="1212.7,1324 1224.9,1316.8 1224.9,1325 1212.7,1325" fill="#40F3FF" />
<polygon points="1266.3,1315.1 1282.1,1320.1 1292.1,1324 1266.3,1324" fill="#40FFBF" />
<polygon points="1334.1,1324 1354.9,1328.3 1375.4,1332.3 1334.1,1332.3" fill="#40F3FF" />
<polygon points="1334.1,1326.7 1351.6,1330 1364.8,1332.3 1334.1,1332.3" fill="#40FFBF" />
<polygon points="1375.4,1332.3 1404.5,1334.9 1430,1337.6 1457.1,1339.2 1457.1,1343.2 1375.4,1343.2" fill="#40F3FF" />
<polygon points="1375.4,1333.3 1394.6,1335.9 1407.8,1337.6 1375.4,1337.6" fill="#40FA6E" />
<polygon points="1430,1338.9 1457.1,1339.9 1457.1,1343.2 1430,1343.2" fill="#40FFBF" />
</g>
<path clip-path="url(#fc4)" d="M915.9 991L934.1 982.5M915.9 991L908 984.9M919.4 989.4L911.4 983.3M922.8 987.7L914.8 981.7M943.2 990.9L961.4 982.5M943.2 990.9L935.2 984.9M946.7 989.3L938.7 983.3M950.1 987.7L942.1 981.7M970.5 990.9L988.6 982.6M970.5 990.9L962.5 984.8M973.9 989.3L966 983.3M977.4 987.7L969.4 981.7M997.8 990.9L1015.9 982.6M997.8 990.9L989.8 984.8M1001.2 989.3L993.3 983.2M1004.7 987.7L996.7 981.6M1025 990.9L1043.2 982.6M1025 990.9L1017.1 984.8M1028.5 989.3L1020.6 983.2M1031.9 987.7L1024 981.6M1052.3 990.8L1070.5 982.6M1052.3 990.8L1044.4 984.7M1055.8 989.3L1047.9 983.2M1059.2 987.7L1051.3 981.6M1079.6 990.8L1097.8 982.6M1079.6 990.8L1071.7 984.7M1083 989.3L1075.1 983.1M1086.5 987.7L1078.6 981.6M1106.8 990.8L1125.1 982.7M1106.8 990.8L1099 984.6M1110.3 989.2L1102.4 983.1M1113.8 987.7L1105.9 981.5M1134.1 990.8L1152.4 982.7M1134.1 990.8L1126.2 984.6M1137.6 989.2L1129.7 983M1141.1 987.7L1133.2 981.5M1161.4 990.7L1179.7 982.7M1161.4 990.7L1153.5 984.5M1164.9 989.2L1157 983M1168.3 987.7L1160.5 981.5M1188.6 990.7L1207 982.7M1188.6 990.7L1180.8 984.5M1192.1 989.2L1184.3 983M1195.6 987.7L1187.8 981.5M1215.9 990.7L1234.3 982.8M1215.9 990.7L1208.1 984.4M1219.4 989.2L1211.6 982.9M1222.9 987.7L1215.1 981.4M1243.2 990.7L1261.6 982.8M1243.2 990.7L1235.4 984.4M1246.7 989.2L1238.9 982.9M1250.2 987.7L1242.4 981.4M1270.5 990.6L1288.9 982.8M1270.5 990.6L1262.7 984.4M1274 989.2L1266.2 982.9M1277.5 987.7L1269.7 981.4M1297.7 990.6L1316.2 982.8M1297.7 990.6L1290 984.3M1301.2 989.2L1293.5 982.9M1304.7 987.7L1300.9 984.5M1325 990.7L1343.4 982.8M1325 990.7L1317.2 984.4M1328.5 989.2L1320.7 982.9M1332 987.7L1328.1 984.6M1352.4 990.8L1370.7 982.7M1352.4 990.8L1344.5 984.6M1355.8 989.2L1348 983M1359.3 987.7L1355.4 984.6M1379.7 990.8L1397.9 982.6M1379.7 990.8L1371.8 984.7M1383.1 989.3L1375.2 983.1M1386.6 987.7L1382.7 984.6M1407 990.9L1425.2 982.6M1407 990.9L1399 984.8M1410.4 989.3L1402.5 983.2M1413.9 987.7L1409.9 984.7M1434.3 991L1452.4 982.5M1434.3 991L1426.3 984.9M1437.7 989.4L1429.8 983.3M1441.2 987.7L1437.2 984.7M915.9 1035.4L934.1 1027.3M915.9 1035.4L908 1029.3M919.3 1033.9L911.5 1027.7M922.8 1032.3L918.9 1029.3M943.1 1035.4L961.4 1027.3M943.1 1035.4L935.3 1029.2M946.6 1033.9L938.8 1027.7M950.1 1032.3L946.2 1029.2M970.4 1035.4L988.7 1027.4M970.4 1035.4L962.6 1029.2M973.9 1033.9L966 1027.6M977.4 1032.3L973.4 1029.2M997.7 1035.3L1016 1027.4M997.7 1035.3L989.9 1029.1M1001.2 1033.8L993.3 1027.6M1004.6 1032.3L1000.7 1029.2M1024.9 1035.3L1043.3 1027.4M1024.9 1035.3L1017.1 1029M1028.4 1033.8L1020.6 1027.5M1031.9 1032.3L1028 1029.2M1052.2 1035.3L1070.6 1027.5M1052.2 1035.3L1044.4 1029M1055.7 1033.8L1047.9 1027.5M1059.2 1032.3L1055.3 1029.2M1079.5 1035.3L1097.9 1027.5M1079.5 1035.3L1071.7 1029M1083 1033.8L1075.2 1027.5M1106.8 1035.3L1125.2 1027.5M1106.8 1035.3L1099 1029M1110.3 1033.8L1102.5 1027.5M1134.1 1035.3L1152.5 1027.5M1134.1 1035.3L1126.3 1029M1137.5 1033.8L1129.8 1027.5M1161.3 1035.3L1179.7 1027.5M1161.3 1035.3L1153.6 1029M1164.8 1033.8L1157.1 1027.5M1188.6 1035.3L1207 1027.5M1188.6 1035.3L1180.8 1029M1192.1 1033.8L1184.3 1027.5M1215.9 1035.3L1234.3 1027.5M1215.9 1035.3L1208.1 1029M1219.4 1033.8L1211.6 1027.5M1243.2 1035.3L1261.6 1027.5M1243.2 1035.3L1235.4 1029M1246.7 1033.8L1238.9 1027.5M1270.5 1035.3L1288.9 1027.5M1270.5 1035.3L1262.7 1029M1274 1033.8L1266.2 1027.5M1297.7 1035.3L1316.2 1027.5M1297.7 1035.3L1290 1029M1301.2 1033.8L1293.5 1027.5M1325 1035.3L1343.4 1027.5M1325 1035.3L1317.3 1029M1328.5 1033.8L1320.8 1027.5M1352.3 1035.3L1370.7 1027.5M1352.3 1035.3L1344.5 1029M1355.8 1033.8L1348 1027.5M1379.6 1035.3L1398 1027.5M1379.6 1035.3L1371.8 1029M1383.1 1033.8L1375.3 1027.5M1406.9 1035.3L1425.3 1027.5M1406.9 1035.3L1399.1 1029M1410.4 1033.8L1402.6 1027.5M1434.2 1035.3L1452.6 1027.5M1434.2 1035.3L1426.4 1029M1437.7 1033.8L1429.9 1027.5M915.8 1077.3L934.2 1069.5M915.8 1077.3L908 1071M919.3 1075.8L915.4 1072.6M943.1 1077.3L961.5 1069.5M943.1 1077.3L935.3 1071M946.6 1075.8L942.7 1072.6M970.4 1077.3L988.8 1069.5M970.4 1077.3L962.6 1071M973.9 1075.8L970 1072.6M997.6 1077.3L1016.1 1069.5M997.6 1077.3L989.9 1070.9M1001.1 1075.8L997.3 1072.6M1024.9 1077.1L1043.4 1069.6M1024.9 1077.1L1017.2 1070.7M1028.4 1075.7L1020.7 1069.3M1052.1 1077.1L1070.7 1069.6M1052.1 1077.1L1044.5 1070.7M1055.7 1075.7L1048 1069.3M1079.4 1077.1L1098 1069.6M1079.4 1077.1L1071.8 1070.7M1082.9 1075.7L1075.3 1069.3M1106.7 1077.1L1125.2 1069.6M1106.7 1077.1L1099 1070.7M1110.2 1075.7L1102.6 1069.3M1134 1077.1L1152.5 1069.6M1134 1077.1L1126.3 1070.7M1137.5 1075.7L1129.8 1069.3M1161.3 1077.1L1179.8 1069.6M1161.3 1077.1L1153.6 1070.7M1164.8 1075.7L1157.1 1069.3M1188.5 1077.1L1207.1 1069.6M1188.5 1077.1L1180.9 1070.7M1192.1 1075.7L1184.4 1069.3M1215.8 1077.1L1234.4 1069.6M1215.8 1077.1L1208.2 1070.7M1219.4 1075.7L1211.7 1069.3M1243.1 1077.1L1261.7 1069.6M1243.1 1077.1L1235.5 1070.7M1246.6 1075.7L1239 1069.3M1270.4 1077.1L1288.9 1069.6M1270.4 1077.1L1262.7 1070.7M1273.9 1075.7L1266.3 1069.3M1297.7 1077.1L1316.2 1069.6M1297.7 1077.1L1290 1070.7M1301.2 1075.7L1293.5 1069.3M1325 1077.1L1343.5 1069.6M1325 1077.1L1317.3 1070.7M1328.5 1075.7L1320.8 1069.3M1352.3 1077.3L1370.7 1069.5M1352.3 1077.3L1344.5 1070.9M1355.8 1075.8L1348 1069.5M1359.3 1074.3L1355.4 1071.1M1379.6 1077.3L1398 1069.4M1379.6 1077.3L1371.8 1071.1M1383.1 1075.8L1375.3 1069.6M1386.6 1074.3L1382.7 1071.2M1406.9 1077.4L1425.2 1069.4M1406.9 1077.4L1399.1 1071.2M1410.4 1075.9L1402.6 1069.7M1413.9 1074.3L1410 1071.2M1434.2 1077.4L1452.5 1069.3M1434.2 1077.4L1426.3 1071.3M1437.7 1075.9L1429.8 1069.7M1441.2 1074.3L1437.2 1071.3M915.7 1112.8L934.3 1105.3M915.7 1112.8L908.1 1106.4M943 1112.8L961.6 1105.3M943 1112.8L935.3 1106.4M946.5 1111.4L942.7 1108.2M970.3 1112.8L988.8 1105.3M970.3 1112.8L962.6 1106.4M973.8 1111.4L970 1108.2M997.6 1112.8L1016.1 1105.4M997.6 1112.8L989.9 1106.3M1001.1 1111.4L997.3 1108.1M1024.8 1112.7L1043.4 1105.4M1024.8 1112.7L1017.2 1106.2M1028.4 1111.3L1024.6 1108.1M1052.1 1112.7L1070.7 1105.5M1052.1 1112.7L1044.5 1106.1M1055.6 1111.3L1051.8 1108M1079.3 1112.6L1098 1105.5M1079.3 1112.6L1071.8 1106M1082.9 1111.3L1079.1 1108M1106.6 1112.6L1125.3 1105.6M1106.6 1112.6L1099.1 1106M1110.2 1111.3L1106.4 1107.9M1133.9 1112.5L1152.6 1105.6M1133.9 1112.5L1126.4 1105.9M1137.4 1111.2L1133.7 1107.9M1161.1 1112.5L1179.9 1105.7M1161.1 1112.5L1153.7 1105.8M1164.7 1111.2L1161 1107.9M1188.4 1112.5L1207.2 1105.6M1188.4 1112.5L1181 1105.9M1192 1111.2L1184.6 1104.5M1215.7 1112.6L1234.5 1105.6M1215.7 1112.6L1208.2 1105.9M1219.3 1111.3L1211.8 1104.6M1243 1112.6L1261.7 1105.5M1243 1112.6L1235.5 1106M1246.6 1111.3L1239.1 1104.7M1270.3 1112.7L1289 1105.5M1270.3 1112.7L1262.8 1106.1M1273.9 1111.3L1266.3 1104.8M1297.6 1112.7L1316.3 1105.4M1297.6 1112.7L1290 1106.2M1301.2 1111.3L1293.6 1104.8M1324.9 1112.8L1343.5 1105.4M1324.9 1112.8L1317.3 1106.3M1328.5 1111.4L1320.8 1104.9M1352.2 1112.8L1370.8 1105.3M1352.2 1112.8L1344.6 1106.4M1355.8 1111.4L1348.1 1105M1379.6 1113L1398 1105.2M1379.6 1113L1371.8 1106.7M1383.1 1111.5L1375.3 1105.2M1386.6 1110L1382.7 1106.9M1406.9 1113.1L1425.2 1105.1M1406.9 1113.1L1399.1 1106.8M1410.4 1111.6L1402.6 1105.3M1413.9 1110L1410 1106.9M1434.2 1113.2L1452.5 1105M1434.2 1113.2L1426.3 1107M1437.7 1111.6L1429.8 1105.4M1441.2 1110.1L1437.2 1107M915.7 1140.3L934.3 1132.8M915.7 1140.3L908.1 1133.8M943 1140.2L961.6 1132.8M943 1140.2L935.4 1133.8M970.3 1140.2L988.9 1132.9M970.3 1140.2L962.7 1133.7M997.5 1140.2L1016.2 1132.9M997.5 1140.2L989.9 1133.7M1024.8 1140.1L1043.5 1132.9M1024.8 1140.1L1017.2 1133.6M1052.1 1140.1L1070.8 1133M1052.1 1140.1L1044.5 1133.5M1079.3 1140L1098.1 1133.1M1079.3 1140L1071.9 1133.3M1082.9 1138.7L1079.2 1135.3M1106.6 1140L1125.4 1133.1M1106.6 1140L1099.1 1133.3M1110.1 1138.7L1106.4 1135.3M1133.9 1140L1152.7 1133.1M1133.9 1140L1126.4 1133.3M1137.4 1138.7L1133.7 1135.3M1161.1 1140L1179.9 1133.1M1161.1 1140L1153.7 1133.3M1164.7 1138.7L1161 1135.3M1188.4 1140L1207.2 1133.1M1188.4 1140L1181 1133.3M1192 1138.7L1188.3 1135.3M1215.7 1140L1234.5 1133.1M1215.7 1140L1208.3 1133.3M1219.3 1138.7L1211.8 1132M1243 1140L1261.8 1133.1M1243 1140L1235.5 1133.3M1246.6 1138.7L1239.1 1132M1270.3 1140L1289 1133M1270.3 1140L1262.8 1133.4M1273.9 1138.7L1266.4 1132.1M1297.6 1140.1L1316.3 1133M1297.6 1140.1L1290.1 1133.5M1301.2 1138.7L1293.6 1132.2M1324.9 1140.2L1343.6 1132.9M1324.9 1140.2L1317.3 1133.6M1328.5 1138.8L1320.9 1132.3M1352.2 1140.2L1370.8 1132.8M1352.2 1140.2L1344.6 1133.7M1355.7 1138.8L1348.1 1132.3M1379.5 1140.3L1398.1 1132.8M1379.5 1140.3L1371.9 1133.8M1383 1138.9L1375.4 1132.4M1406.9 1140.4L1425.3 1132.6M1406.9 1140.4L1399.1 1134.1M1410.4 1138.9L1402.6 1132.6M1434.2 1140.6L1452.5 1132.5M1434.2 1140.6L1426.3 1134.4M1437.7 1139.1L1429.8 1132.9M1441.2 1137.5L1437.2 1134.4M915.7 1165.1L934.3 1157.6M915.7 1165.1L908.1 1158.7M943 1165L961.6 1157.6M943 1165L935.4 1158.6M970.3 1165L988.9 1157.6M970.3 1165L962.7 1158.5M997.5 1165L1016.2 1157.7M997.5 1165L989.9 1158.5M1024.8 1165L1043.4 1157.7M1024.8 1165L1017.2 1158.4M1052.1 1164.9L1070.7 1157.7M1052.1 1164.9L1044.5 1158.4M1079.3 1164.9L1098 1157.8M1079.3 1164.9L1071.8 1158.3M1106.6 1164.9L1125.3 1157.8M1106.6 1164.9L1099.1 1158.3M1133.9 1164.8L1152.6 1157.8M1133.9 1164.8L1126.4 1158.2M1161.2 1164.8L1179.9 1157.9M1161.2 1164.8L1153.7 1158.1M1188.4 1164.8L1207.2 1157.9M1188.4 1164.8L1181 1158.1M1215.7 1164.8L1234.5 1157.9M1215.7 1164.8L1208.3 1158.1M1219.3 1163.5L1215.6 1160.1M1243 1164.8L1261.8 1157.9M1243 1164.8L1235.5 1158.1M1246.6 1163.5L1239.1 1156.8M1270.3 1164.9L1289 1157.8M1270.3 1164.9L1262.8 1158.2M1273.9 1163.5L1266.4 1156.9M1297.6 1164.9L1316.3 1157.7M1297.6 1164.9L1290.1 1158.4M1301.2 1163.6L1293.6 1157M1324.9 1165L1343.5 1157.7M1324.9 1165L1317.3 1158.5M1328.5 1163.6L1320.9 1157.1M1352.2 1165L1370.8 1157.6M1352.2 1165L1344.6 1158.6M1355.8 1163.6L1348.1 1157.2M1379.5 1165.1L1398.1 1157.6M1379.5 1165.1L1371.9 1158.7M1383.1 1163.7L1375.4 1157.3M1406.8 1165.2L1425.3 1157.5M1406.8 1165.2L1399.1 1158.8M1410.4 1163.7L1402.6 1157.4M1434.2 1165.2L1452.6 1157.4M1434.2 1165.2L1426.4 1158.9M1437.7 1163.8L1429.9 1157.5M915.8 1187.4L934.2 1179.6M915.8 1187.4L908 1181.1M943.1 1187.4L961.5 1179.6M943.1 1187.4L935.3 1181M970.3 1187.3L988.8 1179.7M970.3 1187.3L962.6 1180.9M997.6 1187.3L1016.1 1179.7M997.6 1187.3L989.9 1180.8M1024.8 1187.2L1043.4 1179.8M1024.8 1187.2L1017.2 1180.8M1052.1 1187.2L1070.7 1179.8M1052.1 1187.2L1044.5 1180.7M1079.4 1187.1L1098 1179.9M1079.4 1187.1L1071.8 1180.6M1106.6 1187.1L1125.3 1179.9M1106.6 1187.1L1099.1 1180.5M1133.9 1187L1152.6 1180M1133.9 1187L1126.4 1180.4M1161.2 1187L1179.9 1180M1161.2 1187L1153.7 1180.3M1188.4 1186.9L1207.2 1180M1188.4 1186.9L1181 1180.3M1215.7 1186.9L1234.5 1180.1M1215.7 1186.9L1208.3 1180.2M1219.3 1185.6L1215.6 1182.3M1243 1186.9L1261.8 1180M1243 1186.9L1235.5 1180.3M1246.6 1185.6L1239.1 1179M1270.3 1187L1289 1180M1270.3 1187L1262.8 1180.4M1273.9 1185.7L1266.4 1179M1297.6 1187.1L1316.3 1179.9M1297.6 1187.1L1290.1 1180.5M1301.2 1185.7L1293.6 1179.1M1324.9 1187.1L1343.6 1179.9M1324.9 1187.1L1317.3 1180.6M1328.5 1185.7L1320.9 1179.2M1352.2 1187.2L1370.8 1179.8M1352.2 1187.2L1344.6 1180.7M1355.7 1185.8L1348.1 1179.3M1379.5 1187.2L1398.1 1179.7M1379.5 1187.2L1371.9 1180.8M1383 1185.8L1375.4 1179.4M1406.9 1187.4L1425.3 1179.6M1406.9 1187.4L1399.1 1181.1M1410.4 1185.9L1402.6 1179.6M1434.2 1187.6L1452.5 1179.4M1434.2 1187.6L1426.3 1181.4M1437.7 1186L1429.8 1179.9M1441.2 1184.5L1437.2 1181.4M915.9 1209.2L934.1 1200.8M915.9 1209.2L908 1203.2M943.2 1209.1L961.4 1200.8M943.2 1209.1L935.2 1203.1M970.4 1209.1L988.7 1200.9M970.4 1209.1L962.5 1202.9M997.7 1209L1016 1201M997.7 1209L989.8 1202.8M1024.9 1208.9L1043.3 1201M1024.9 1208.9L1017.1 1202.7M1052.2 1208.9L1070.6 1201.1M1052.2 1208.9L1044.4 1202.5M1079.4 1208.8L1097.9 1201.2M1079.4 1208.8L1071.7 1202.4M1106.7 1208.7L1125.3 1201.2M1106.7 1208.7L1099 1202.3M1134 1208.6L1152.6 1201.3M1134 1208.6L1126.3 1202.2M1161.2 1208.6L1179.9 1201.4M1161.2 1208.6L1153.7 1202M1188.5 1208.5L1207.2 1201.5M1188.5 1208.5L1181 1201.9M1215.7 1208.4L1234.5 1201.5M1215.7 1208.4L1208.3 1201.8M1243 1208.4L1261.8 1201.6M1243 1208.4L1235.6 1201.7M1246.6 1207.1L1242.8 1203.8M1270.3 1208.5L1289 1201.5M1270.3 1208.5L1262.8 1201.8M1273.9 1207.1L1266.4 1200.5M1297.6 1208.6L1316.3 1201.4M1297.6 1208.6L1290.1 1202M1301.2 1207.2L1293.6 1200.6M1324.9 1208.7L1343.5 1201.3M1324.9 1208.7L1317.3 1202.2M1328.5 1207.3L1320.9 1200.8M1352.3 1208.8L1370.8 1201.2M1352.3 1208.8L1344.6 1202.4M1355.8 1207.3L1348.1 1200.9M1379.6 1208.9L1398 1201.1M1379.6 1208.9L1371.8 1202.5M1383.1 1207.4L1375.3 1201.1M1406.9 1209L1425.3 1201M1406.9 1209L1399.1 1202.7M1410.4 1207.4L1402.6 1201.2M1434.2 1209.1L1452.5 1200.9M1434.2 1209.1L1426.3 1202.9M1437.7 1207.5L1429.8 1201.3M916 1229.2L934 1220.4M916 1229.2L907.9 1223.3M943.2 1229.1L961.3 1220.5M943.2 1229.1L935.2 1223.1M970.5 1229L988.6 1220.6M970.5 1229L962.5 1223M997.7 1228.9L1016 1220.7M997.7 1228.9L989.8 1222.8M1025 1228.8L1043.3 1220.8M1025 1228.8L1017.1 1222.6M1052.2 1228.7L1070.6 1220.9M1052.2 1228.7L1044.4 1222.4M1079.4 1228.6L1098 1221M1079.4 1228.6L1071.8 1222.2M1106.7 1228.5L1125.3 1221.1M1106.7 1228.5L1099.1 1222M1133.9 1228.4L1152.6 1221.3M1133.9 1228.4L1126.4 1221.8M1161.2 1228.3L1179.9 1221.4M1161.2 1228.3L1153.7 1221.6M1188.4 1228.2L1207.2 1221.4M1188.4 1228.2L1181 1221.6M1192 1226.9L1188.3 1223.6M1215.7 1228.3L1234.5 1221.4M1215.7 1228.3L1208.3 1221.6M1219.3 1227L1215.6 1223.6M1243 1228.4L1261.7 1221.3M1243 1228.4L1235.5 1221.7M1246.6 1227L1242.8 1223.7M1270.3 1228.4L1289 1221.2M1270.3 1228.4L1262.8 1221.9M1273.9 1227.1L1270.1 1223.8M1297.6 1228.5L1316.3 1221.2M1297.6 1228.5L1290 1222M1301.2 1227.1L1297.4 1223.8M1325 1228.6L1343.5 1221.1M1325 1228.6L1317.3 1222.1M1328.5 1227.1L1324.7 1223.9M1352.3 1228.7L1370.7 1220.9M1352.3 1228.7L1344.5 1222.4M1355.8 1227.2L1348 1220.9M1379.6 1228.8L1398 1220.8M1379.6 1228.8L1371.8 1222.6M1383.1 1227.3L1375.3 1221.1M1407 1228.9L1425.2 1220.7M1407 1228.9L1399.1 1222.8M1410.4 1227.4L1402.5 1221.3M1434.3 1229.1L1452.4 1220.6M1434.3 1229.1L1426.3 1223M1437.7 1227.4L1429.8 1221.4M915.9 1248.1L934.1 1239.9M919.3 1246.5L915.4 1243.4M943.1 1248.1L961.4 1239.9M943.1 1248.1L935.3 1241.9M970.4 1248L988.7 1240M970.4 1248L962.6 1241.8M997.6 1247.9L1016 1240.1M997.6 1247.9L989.9 1241.6M1024.9 1247.8L1043.4 1240.2M1024.9 1247.8L1017.2 1241.5M1052.1 1247.8L1070.7 1240.2M1052.1 1247.8L1044.5 1241.4M1079.4 1247.7L1098 1240.3M1079.4 1247.7L1071.8 1241.2M1106.6 1247.6L1125.3 1240.4M1106.6 1247.6L1099.1 1241.1M1133.9 1247.5L1152.6 1240.5M1133.9 1247.5L1126.4 1240.9M1161.2 1247.5L1179.9 1240.5M1161.2 1247.5L1153.7 1240.8M1188.4 1247.4L1207.2 1240.6M1188.4 1247.4L1181 1240.7M1215.7 1247.4L1234.5 1240.6M1215.7 1247.4L1208.3 1240.7M1219.3 1246.1L1215.6 1242.8M1243 1247.5L1261.8 1240.5M1243 1247.5L1235.5 1240.8M1246.6 1246.2L1242.8 1242.8M1270.3 1247.6L1289 1240.4M1270.3 1247.6L1262.8 1241M1273.9 1246.2L1270.1 1242.9M1297.7 1247.7L1316.2 1240.3M1297.7 1247.7L1290 1241.2M1301.2 1246.3L1297.4 1243.1M1325 1247.8L1343.5 1240.2M1325 1247.8L1317.3 1241.4M1328.5 1246.4L1324.6 1243.2M1352.3 1247.9L1370.7 1240.1M1352.3 1247.9L1344.5 1241.6M1355.8 1246.4L1351.9 1243.3M1379.7 1248.1L1397.9 1240M1379.7 1248.1L1371.8 1241.9M1383.1 1246.5L1375.3 1240.3M1407 1248.2L1425.1 1239.8M1407 1248.2L1399 1242.2M1410.5 1246.6L1402.5 1240.6M1434.4 1248.4L1452.3 1239.6M1434.4 1248.4L1426.3 1242.5M1437.8 1246.7L1429.7 1240.8M915.6 1264.6L934.4 1257.8M919.2 1263.3L915.5 1260M942.9 1264.6L961.7 1257.8M946.5 1263.3L942.7 1260M970.2 1264.6L989 1257.8M973.7 1263.3L970 1260M997.4 1264.6L1016.2 1257.8M997.4 1264.6L990 1257.9M1024.7 1264.6L1043.5 1257.8M1024.7 1264.6L1017.3 1257.9M1052 1264.5L1070.8 1257.9M1052 1264.5L1044.6 1257.8M1079.3 1264.5L1098.1 1257.9M1079.3 1264.5L1071.9 1257.7M1106.5 1264.5L1125.4 1257.9M1106.5 1264.5L1099.2 1257.6M1133.8 1264.4L1152.7 1258M1133.8 1264.4L1126.5 1257.6M1161.1 1264.4L1180 1258M1161.1 1264.4L1153.8 1257.5M1188.3 1264.3L1207.3 1258.1M1188.3 1264.3L1181.1 1257.4M1215.6 1264.3L1234.6 1258.1M1215.6 1264.3L1208.4 1257.4M1242.9 1264.4L1261.9 1258M1242.9 1264.4L1235.6 1257.5M1270.3 1264.6L1289.1 1257.8M1270.3 1264.6L1262.9 1257.8M1273.8 1263.3L1270.1 1259.9M1297.6 1264.8L1316.3 1257.6M1297.6 1264.8L1290.1 1258.2M1301.2 1263.4L1297.4 1260.1M1325 1265L1343.5 1257.4M1325 1265L1317.3 1258.5M1328.5 1263.5L1324.7 1260.3M1352.3 1265.2L1370.7 1257.2M1352.3 1265.2L1344.5 1258.9M1355.8 1263.7L1351.9 1260.5M1379.7 1265.4L1397.9 1257M1379.7 1265.4L1371.8 1259.3M1383.2 1263.8L1379.2 1260.7M1407.1 1265.5L1425.1 1256.9M1407.1 1265.5L1399 1259.6M1410.5 1263.9L1406.5 1260.9M1434.4 1265.7L1452.3 1256.7M1434.4 1265.7L1426.3 1260M1437.8 1264L1433.7 1261.1M915.1 1276.8L934.9 1274M918.9 1276.3L915.9 1272.2M942.4 1276.9L962.2 1273.9M946.2 1276.3L943.2 1272.3M969.7 1277L989.4 1273.8M973.4 1276.4L970.4 1272.4M997 1277.1L1016.7 1273.8M1000.7 1276.5L997.7 1272.5M1024.3 1277.3L1043.9 1273.5M1028 1276.6L1024.9 1272.7M1051.7 1277.8L1071.1 1273M1051.7 1277.8L1045 1270.4M1079 1277.8L1098.4 1273.1M1079 1277.8L1072.3 1270.3M1106.2 1277.7L1125.7 1273.1M1106.2 1277.7L1099.6 1270.2M1133.5 1277.7L1153 1273.2M1133.5 1277.7L1127 1270.1M1160.8 1277.6L1180.3 1273.2M1160.8 1277.6L1154.3 1270M1188.1 1277.6L1207.6 1273.3M1188.1 1277.6L1181.6 1270M1215.3 1277.5L1234.9 1273.3M1215.3 1277.5L1208.9 1269.9M1242.7 1277.7L1262.1 1273.1M1242.7 1277.7L1236.1 1270.2M1270 1278.1L1289.3 1272.8M1270 1278.1L1263.2 1270.8M1297.4 1278.4L1316.5 1272.4M1297.4 1278.4L1290.3 1271.4M1324.8 1278.8L1343.7 1272.1M1324.8 1278.8L1317.4 1272M1352.2 1279.1L1370.8 1271.7M1352.2 1279.1L1344.6 1272.6M1379.6 1279.5L1397.9 1271.4M1379.6 1279.5L1371.8 1273.3M1407.1 1279.8L1425.1 1271.1M1407.1 1279.8L1399 1273.9M1434.5 1280.1L1452.2 1270.7M1434.5 1280.1L1426.2 1274.5M915 1286.5L935 1287.5M918.8 1286.7L916.7 1282.1M942.3 1286.6L962.3 1287.4M946.1 1286.7L943.9 1282.2M969.6 1286.7L989.6 1287.3M973.4 1286.8L971.2 1282.3M996.8 1286.7L1016.8 1287.2M1000.6 1286.8L998.4 1282.4M1024.1 1286.8L1044.1 1287.2M1027.9 1286.9L1025.7 1282.4M1051.4 1286.9L1071.4 1287.1M1055.2 1287L1052.9 1282.5M1078.7 1287L1098.7 1287M1082.5 1287L1080.1 1282.6M1106 1287.1L1126 1286.9M1109.8 1287.1L1107.4 1282.7M1133.3 1287.2L1153.3 1286.8M1133.3 1287.2L1128.4 1278.5M1160.5 1287.3L1180.5 1286.7M1160.5 1287.3L1155.6 1278.6M1187.8 1287.5L1207.8 1286.5M1187.8 1287.5L1182.7 1279M1215.1 1287.9L1235.1 1286.1M1215.1 1287.9L1209.7 1279.5M1242.5 1288.3L1262.3 1285.7M1242.5 1288.3L1236.7 1280.1M1269.8 1288.6L1289.5 1285.4M1269.8 1288.6L1263.7 1280.7M1297.1 1289L1316.7 1285M1297.1 1289L1290.8 1281.3M1324.6 1289.5L1343.9 1284.5M1324.6 1289.5L1317.8 1282.1M1352 1290.1L1371 1283.9M1352 1290.1L1344.8 1283.1M1379.5 1290.6L1398.1 1283.4M1379.5 1290.6L1371.9 1284.1M1407 1291.2L1425.2 1282.8M1407 1291.2L1399 1285.1M1434.5 1291.7L1452.2 1282.3M1434.5 1291.7L1426.2 1286.1M915.3 1293.7L934.7 1298.8M919 1294.6L917.9 1289.8M942.6 1293.8L962 1298.7M946.3 1294.7L945.1 1289.9M969.8 1294L989.3 1298.5M973.5 1294.8L972.3 1290M997.1 1294.1L1016.6 1298.4M1000.8 1294.9L999.4 1290.1M1024.3 1294.3L1043.9 1298.2M1028.1 1295L1026.6 1290.2M1051.6 1294.4L1071.2 1298.1M1055.3 1295.1L1053.8 1290.3M1078.8 1294.6L1098.6 1297.9M1082.6 1295.2L1081 1290.5M1106.1 1294.8L1125.9 1297.7M1109.8 1295.4L1108.2 1290.6M1133.3 1295L1153.2 1297.5M1137.1 1295.5L1135.3 1290.8M1160.6 1295.2L1180.5 1297.3M1164.4 1295.6L1162.5 1291M1187.9 1295.5L1207.8 1297.1M1191.6 1295.8L1189.7 1291.2M1215.1 1295.9L1235.1 1296.6M1218.9 1296L1216.7 1291.5M1242.4 1296.4L1262.4 1296.1M1246.2 1296.4L1243.8 1292M1269.7 1297L1289.6 1295.5M1269.7 1297L1264.4 1288.5M1297 1297.5L1316.9 1295M1297 1297.5L1291.3 1289.3M1324.4 1298.1L1344.1 1294.4M1324.4 1298.1L1318.1 1290.3M1351.8 1298.8L1371.2 1293.7M1351.8 1298.8L1345.1 1291.4M1379.3 1299.4L1398.3 1293.1M1379.3 1299.4L1372.1 1292.5M1406.8 1300L1425.3 1292.5M1406.8 1300L1399.1 1293.6M1434.4 1300.6L1452.3 1291.9M1434.4 1300.6L1426.3 1294.8M917.1 1298.7L932.9 1311M920.1 1301L921 1296.1M944.1 1299.1L960.4 1310.6M947.2 1301.3L947.9 1296.3M971.2 1299.4L988 1310.3M974.3 1301.5L974.8 1296.5M998.2 1299.8L1015.5 1309.9M1001.5 1301.7L1001.7 1296.7M1025.3 1300.2L1043 1309.5M1028.6 1302L1028.6 1297M1052.3 1300.7L1070.5 1309M1055.8 1302.3L1055.5 1297.3M1079.4 1301.1L1098 1308.6M1082.9 1302.5L1082.4 1297.6M1106.5 1301.6L1125.4 1308.1M1110.1 1302.8L1109.4 1297.9M1133.7 1302L1152.8 1307.7M1137.3 1303.1L1136.3 1298.2M1160.8 1302.5L1180.3 1307.2M1164.5 1303.4L1163.3 1298.6M1188 1303L1207.7 1306.7M1191.7 1303.7L1190.2 1299M1215.2 1303.6L1235 1306.1M1219 1304.1L1217.2 1299.4M1242.4 1304.1L1262.4 1305.6M1246.2 1304.4L1244.2 1299.8M1269.7 1304.8L1289.7 1304.9M1273.5 1304.8L1271.2 1300.4M1297 1305.4L1316.9 1304.3M1297 1305.4L1291.8 1296.9M1324.3 1306.1L1344.2 1303.6M1324.3 1306.1L1318.5 1297.9M1351.7 1306.8L1371.3 1302.9M1351.7 1306.8L1345.4 1299.1M1379.2 1307.5L1398.4 1302.2M1379.2 1307.5L1372.3 1300.3M1406.7 1308.2L1425.5 1301.5M1406.7 1308.2L1399.3 1301.5M1434.2 1308.9L1452.5 1300.8M1434.2 1308.9L1426.3 1302.8M917.9 1306.4L932.1 1320.5M920.6 1309.1L922.1 1304.3M945 1306.6L959.6 1320.3M947.8 1309.2L949.1 1304.4M972.1 1306.8L987.1 1320.1M974.9 1309.4L976.1 1304.5M999.1 1307.1L1014.6 1319.8M1002.1 1309.5L1003.1 1304.6M1026.2 1307.4L1042.1 1319.5M1029.2 1309.7L1030 1304.8M1053 1308L1069.8 1318.9M1056.2 1310.1L1056.6 1305.1M1079.9 1308.6L1097.5 1318.3M1083.3 1310.5L1083.3 1305.5M1106.9 1309.3L1125.1 1317.6M1110.3 1310.9L1110 1305.9M1133.9 1310L1152.6 1316.9M1137.4 1311.3L1136.8 1306.3M1160.9 1310.7L1180.2 1316.2M1164.6 1311.7L1163.5 1306.9M1188 1311.5L1207.6 1315.4M1191.7 1312.2L1190.3 1307.4M1215.2 1312.3L1235 1314.6M1218.9 1312.7L1217.1 1308.1M1242.4 1312.9L1262.4 1314M1246.2 1313.1L1244.1 1308.5M1269.7 1313.3L1289.7 1313.6M1273.5 1313.4L1271.2 1308.9M1297 1313.8L1316.9 1313.1M1297 1313.8L1292 1305.1M1324.3 1314.2L1344.2 1312.7M1324.3 1314.2L1318.9 1305.8M1351.6 1314.9L1371.4 1312M1351.6 1314.9L1345.7 1306.8M1379 1315.5L1398.6 1311.4M1379 1315.5L1372.6 1307.9M1406.5 1316.2L1425.7 1310.7M1406.5 1316.2L1399.5 1309M1434 1316.9L1452.8 1310M1434 1316.9L1426.5 1310.2M918.3 1314.6L931.7 1329.5M920.9 1317.4L922.6 1312.7M945.2 1314.9L959.3 1329.2M947.9 1317.6L949.4 1312.9M972.2 1315.3L986.9 1328.8M975 1317.9L976.2 1313M999.2 1315.6L1014.5 1328.4M1002.1 1318.1L1003.1 1313.2M1026.1 1316L1042.1 1328.1M1029.2 1318.3L1030 1313.4M1053.1 1316.5L1069.7 1327.6M1056.3 1318.6L1056.8 1313.6M1080 1317.2L1097.4 1326.9M1083.3 1319L1083.4 1314M1106.9 1317.9L1125.1 1326.2M1110.3 1319.5L1110.1 1314.5M1133.8 1318.8L1152.7 1325.3M1137.4 1320L1136.6 1315.1M1160.7 1320L1180.3 1324.1M1164.5 1320.8L1163.1 1316M1187.9 1321.1L1207.8 1323M1191.7 1321.4L1189.8 1316.8M1269.7 1323L1289.6 1321.1M1273.5 1322.7L1270.7 1318.5M1297 1323.2L1316.9 1320.9M1297 1323.2L1291.3 1315M1324.3 1323.4L1344.1 1320.7M1324.3 1323.4L1318.5 1315.3M1351.6 1323.7L1371.4 1320.4M1351.6 1323.7L1345.6 1315.8M1379 1324L1398.6 1320.1M1379 1324L1372.7 1316.3M1406.3 1324.3L1425.8 1319.8M1406.3 1324.3L1399.8 1316.8M1433.7 1324.6L1453 1319.5M1433.7 1324.6L1426.9 1317.3M917.3 1323.6L932.7 1336.4M920.3 1326L921.3 1321.1M943.2 1325.9L961.4 1334.1M946.6 1327.4L946.3 1322.5M970.3 1326.3L988.9 1333.6M973.8 1327.7L973.2 1322.8M997.5 1326.5L1016.2 1333.5M1001 1327.8L1000.4 1322.8M1024.7 1326.6L1043.5 1333.4M1028.3 1327.9L1027.6 1322.9M1051.9 1326.8L1070.9 1333.2M1055.5 1328L1054.7 1323.1M1078.7 1329.8L1098.7 1330.2M1082.5 1329.9L1080.2 1325.4M1106.3 1332.5L1125.7 1327.5M1110 1331.5L1106.6 1327.8M1133.7 1332.8L1152.8 1327.1M1137.3 1331.8L1133.8 1328.2M1161.1 1333.2L1180 1326.7M1164.7 1332L1161 1328.6M1324.3 1331.4L1344.1 1328.6M1324.3 1331.4L1318.4 1323.3M1351.6 1331.6L1371.4 1328.3M1351.6 1331.6L1345.6 1323.7M1379 1331.9L1398.6 1328M1379 1331.9L1372.7 1324.2M1406.3 1332.3L1425.8 1327.7M1406.3 1332.3L1399.8 1324.7M1433.7 1332.6L1453 1327.4M1433.7 1332.6L1426.9 1325.3M1379.5 1340.3L1398.1 1332.9M1379.5 1340.3L1371.9 1333.9M1406.8 1340.3L1425.3 1332.9M1406.8 1340.3L1399.1 1333.9M1434.1 1340.3L1452.6 1332.9M1434.1 1340.3L1426.4 1333.9" stroke="#333" stroke-width="1.0" fill="none"/>
<rect x="925" y="953" width="532" height="433.5" fill="none" stroke="#000" stroke-width="1.3"/>
<text transform="translate(1191 942.3) scale(0.986 1)" font-size="33.6" text-anchor="middle" fill="#000" >Curtain 4 (C4)</text>
<line x1="911.5" y1="953" x2="925" y2="953" stroke="#444" stroke-width="1.3" />
<text transform="translate(897 960.9) scale(0.955 1)" font-size="23" text-anchor="end" fill="#000" >200</text>
<line x1="911.5" y1="1062.7" x2="925" y2="1062.7" stroke="#444" stroke-width="1.3" />
<text transform="translate(897 1070.6) scale(0.955 1)" font-size="23" text-anchor="end" fill="#000" >300</text>
<line x1="911.5" y1="1200.9" x2="925" y2="1200.9" stroke="#444" stroke-width="1.3" />
<text transform="translate(897 1208.8) scale(0.955 1)" font-size="23" text-anchor="end" fill="#000" >500</text>
<line x1="911.5" y1="1292" x2="925" y2="1292" stroke="#444" stroke-width="1.3" />
<text transform="translate(897 1299.9) scale(0.955 1)" font-size="23" text-anchor="end" fill="#000" >700</text>
<line x1="911.5" y1="1344.5" x2="925" y2="1344.5" stroke="#444" stroke-width="1.3" />
<text transform="translate(897 1352.4) scale(0.955 1)" font-size="23" text-anchor="end" fill="#000" >850</text>
<line x1="911.5" y1="1367.4" x2="925" y2="1367.4" stroke="#444" stroke-width="1.3" />
<text transform="translate(897 1375.3) scale(0.955 1)" font-size="23" text-anchor="end" fill="#000" >925</text>
<line x1="1457" y1="981.1" x2="1470" y2="981.1" stroke="#444" stroke-width="1.3" />
<text transform="translate(1482.5 988.1)" font-size="19.7" fill="#000" >35</text>
<line x1="1457" y1="1040" x2="1470" y2="1040" stroke="#444" stroke-width="1.3" />
<text transform="translate(1482.5 1047)" font-size="19.7" fill="#000" >30</text>
<line x1="1457" y1="1098.9" x2="1470" y2="1098.9" stroke="#444" stroke-width="1.3" />
<text transform="translate(1482.5 1105.9)" font-size="19.7" fill="#000" >25</text>
<line x1="1457" y1="1157.7" x2="1470" y2="1157.7" stroke="#444" stroke-width="1.3" />
<text transform="translate(1482.5 1164.7)" font-size="19.7" fill="#000" >20</text>
<line x1="1457" y1="1216.6" x2="1470" y2="1216.6" stroke="#444" stroke-width="1.3" />
<text transform="translate(1482.5 1223.6)" font-size="19.7" fill="#000" >15</text>
<line x1="1457" y1="1275.5" x2="1470" y2="1275.5" stroke="#444" stroke-width="1.3" />
<text transform="translate(1482.5 1282.5)" font-size="19.7" fill="#000" >10</text>
<line x1="1457" y1="1334.3" x2="1470" y2="1334.3" stroke="#444" stroke-width="1.3" />
<text transform="translate(1482.5 1341.3)" font-size="19.7" fill="#000" >5</text>
<line x1="1457" y1="1381.4" x2="1470" y2="1381.4" stroke="#444" stroke-width="1.3" />
<text transform="translate(1482.5 1388.4)" font-size="19.7" fill="#000" >1</text>
<line x1="925" y1="1386.5" x2="925" y2="1399.5" stroke="#444" stroke-width="1.3" />
<text transform="translate(924.3 1431) scale(0.977 1)" font-size="22" text-anchor="middle" fill="#000" >113.0W</text>
<text transform="translate(921.3 1455.2) scale(0.977 1)" font-size="22" text-anchor="middle" fill="#000" >40.1N</text>
<line x1="1061.2" y1="1386.5" x2="1061.2" y2="1399.5" stroke="#444" stroke-width="1.3" />
<text transform="translate(1060.5 1431) scale(0.977 1)" font-size="22" text-anchor="middle" fill="#000" >113.0W</text>
<text transform="translate(1057.5 1455.2) scale(0.977 1)" font-size="22" text-anchor="middle" fill="#000" >41.7N</text>
<line x1="1197.5" y1="1386.5" x2="1197.5" y2="1399.5" stroke="#444" stroke-width="1.3" />
<text transform="translate(1196.8 1431) scale(0.977 1)" font-size="22" text-anchor="middle" fill="#000" >113.0W</text>
<text transform="translate(1193.8 1455.2) scale(0.977 1)" font-size="22" text-anchor="middle" fill="#000" >43.3N</text>
<line x1="1333.7" y1="1386.5" x2="1333.7" y2="1399.5" stroke="#444" stroke-width="1.3" />
<text transform="translate(1333 1431) scale(0.977 1)" font-size="22" text-anchor="middle" fill="#000" >113.0W</text>
<text transform="translate(1330 1455.2) scale(0.977 1)" font-size="22" text-anchor="middle" fill="#000" >44.9N</text>
<rect x="1375" y="1395.7" width="82" height="65" fill="#fff" stroke="#777" stroke-width="1"/>
<text transform="translate(1416 1418.5) scale(1.05 1)" font-size="22.7" text-anchor="middle" fill="#000" >30 m/s</text>
<path d="M1408.6 1441.7L1428.4 1441.7M1408.6 1441.7L1404 1433M1412 1441.7L1407.4 1433M1415.4 1441.7L1410.8 1433" stroke="#555" stroke-width="0.9" fill="none"/>
</g>
<g id="p5">
<clipPath id="tc5"><polygon points="256.5,1678 778.6,1678 778.6,2033.7 765.3,2033.7 765.3,2024.9 725,2024.9 725,2033.7 698,2033.7 698,2041.5 671,2041.5 671,2049.6 617.7,2049.6 617.7,2054.8 578.3,2054.8 578.3,2049.6 564.4,2049.6 564.4,2041.5 537.7,2041.5 537.7,2033.7 484.1,2033.7 484.1,2041.5 444.1,2041.5 444.1,2049.9 417.1,2049.9 417.1,2054.8 403.8,2054.8 403.8,2059.7 390.4,2059.7 390.4,2064.2 376.8,2064.2 376.8,2068.8 363.5,2068.8 363.5,2073.6 350.1,2073.6 350.1,2077.5 336.5,2077.5 336.5,2081.3 322.8,2081.3 322.8,2086.6 256.5,2086.6"/></clipPath>
<clipPath id="fc5"><rect x="256.5" y="1678" width="522.1" height="425"/></clipPath>
<g clip-path="url(#tc5)" shape-rendering="geometricPrecision">
<rect x="256.5" y="1678" width="522.1" height="425" fill="#40CCFF"/>
<polygon points="679.1,1678 779.6,1678 779.6,1700.8 744.1,1689.4 711.6,1682.9" fill="#40DFFF" />
<polygon points="484.1,1678 679.1,1678 614.1,1681.3 532.8,1680.6" fill="#40DFFF" />
<polygon points="498.7,1751.1 510.1,1736.5 526.3,1733.3 539.3,1736.5 550.7,1757.6 542.6,1773.9 537.7,1782 516.6,1773.9 503.6,1760.9" fill="#40DFFF" />
<polygon points="256.5,1678 370.3,1678 373.5,1691 386.5,1707.3 409.3,1717 432.1,1730 448.3,1746.3 464.6,1769 480.8,1791.8 487.3,1814.5 490.6,1840.5 503.6,1863.3 526.3,1886.1 549.1,1908.8 568.6,1920.2 594.6,1925.1 630.4,1923.4 662.9,1915.3 688.9,1899.1 705.1,1879.6 692.1,1866.6 697,1834 701.9,1801.5 718.1,1778.8 744.1,1764.2 779.6,1760.9 779.6,2100.6 256.5,2100.6" fill="#30B7FF" />
<polygon points="256.5,1775.5 289,1762.5 321.5,1754.4 354,1751.1 386.5,1754.4 412.5,1762.5 435.3,1775.5 451.6,1798.3 456.4,1821 459.7,1847.1 471.1,1866.6 484.1,1886.1 497.1,1902.3 490.6,1918.6 480.8,1934.8 464.6,1951.1 443.4,1959.9 419,1969.6 394.3,1981 370,1997.6 353.7,2012.2 337.4,2025.2 324.4,2036.6 313.1,2048 288.7,2054.5 256.5,2056.1" fill="#009FFF" />
<polygon points="256.5,1905.6 289,1905.6 321.5,1908.2 343.6,1902.3 334.5,1916.9 315,1936.5 289,1949.5 256.5,1960.2" fill="#30B7FF" />
<polygon points="779.6,1860.1 757.2,1863.3 737.6,1876.3 724.6,1892.6 711.6,1905.6 721.4,1920.2 705.1,1931.6 679.1,1941.3 653.1,1947.8 630.4,1957.6 623.9,1964.1 640.1,1967.3 666.1,1964.1 692.1,1954.3 718.1,1938.1 737.6,1921.8 757.2,1913.7 779.6,1915.3" fill="#009FFF" />
<polygon points="266.3,1804.8 276,1795 295.5,1788.5 321.5,1783.7 354,1782.7 386.5,1784.6 412.5,1790.2 430.4,1798.3 435.3,1817.8 436,1837.3 432.1,1856.8 412.5,1868.2 386.5,1873.1 354,1872.1 321.5,1869.8 298.8,1860.1 279.3,1843.8 267.9,1827.5" fill="#3C8DC2" />
<polygon points="316.6,1830.1 328,1824.3 350.8,1822 370.3,1825.3 380,1830.8 367,1836.6 347.5,1838.3 328,1835.7" fill="#73A5CF" />
<polygon points="256.5,2065.5 289,2062.6 321.5,2057.7 354,2048 386.5,2036.6 419,2018.7 451.6,2000.8 484.1,1995 517.9,2000.8 550.7,2008.9 583.2,2018.7 615.7,2022 648.2,2017.1 672.6,2008.9 697,1995.9 721.4,1981.3 737.6,1968.3 753.9,1957.6 779.6,1951.1 779.6,2100.6 256.5,2100.6" fill="#40CCFF" />
<polygon points="256.5,2072.3 289,2069.7 321.5,2064.2 354,2055.1 386.5,2044.7 419,2035 451.6,2025.2 484.1,2022 517.9,2025.2 537.7,2032.4 564.4,2040.5 578.3,2045.7 617.7,2041.5 646.6,2035.6 671,2032.4 697,2025.2 729.5,2013.8 753.9,2008.9 779.6,2005.7 779.6,2100.6 256.5,2100.6" fill="#40DFFF" />
<polygon points="256.5,2076.2 289,2073.6 321.5,2068.1 354,2059.7 386.5,2049.6 419,2039.8 451.6,2030.1 484.1,2026.8 517.9,2030.1 537.7,2035.6 564.4,2043.7 578.3,2048.9 617.7,2044.7 646.6,2039.5 671,2035.6 698,2029.1 725,2020 753.9,2017.7 779.6,2016.1 779.6,2100.6 256.5,2100.6" fill="#40F3FF" />
<polygon points="256.5,2078.8 289,2076.6 321.5,2072.3 354,2062.9 386.5,2052.8 419,2042.8 451.6,2032.7 484.1,2029.1 517.9,2031.7 537.7,2037.6 564.4,2045.7 578.3,2050.9 617.7,2046.7 646.6,2042.1 671,2037.6 698,2031.1 725,2022 753.9,2021 779.6,2022.6 779.6,2100.6 256.5,2100.6" fill="#40FFE6" />
<polygon points="256.5,2082.1 289,2079.8 321.5,2074.9 354,2065.5 386.5,2056.1 419,2045.4 451.6,2035 484.1,2031.1 517.9,2033 537.7,2039.2 564.4,2047.3 578.3,2052.5 617.7,2048 646.6,2044.7 671,2039.2 698,2032.4 725,2023.6 753.9,2023.3 765.3,2025.9 779.6,2027.5 779.6,2100.6 256.5,2100.6" fill="#40FFBF" />
<polygon points="256.5,2084.4 289,2082.4 322.8,2078.5 354,2068.8 386.5,2059 419,2048 444.1,2039.5 467.8,2035.6 484.1,2033.7 484.1,2100.6 256.5,2100.6" fill="#40FA6E" />
<polygon points="256.5,2085.7 295.5,2084.4 322.8,2081.1 350.8,2072.7 363.8,2068.1 363.8,2100.6 256.5,2100.6" fill="#7DFA3C" />
<polygon points="464.6,2038.2 484.1,2035 484.1,2042.1 464.6,2042.1" fill="#C8FF40" />
<polygon points="578.3,2052.5 617.7,2052.5 617.7,2055.8 578.3,2055.8" fill="#4AFA3C" />
<polygon points="656.4,2047 671,2044.7 671,2050.2 656.4,2050.2" fill="#A5FC40" />
<polygon points="765.3,2028.5 779.6,2029.1 779.6,2034.3 765.3,2034.3" fill="#A5FC40" />
</g>
<path clip-path="url(#fc5)" d="M247.5 1715.5L265.5 1706.8M247.5 1715.5L239.4 1709.7M250.9 1713.9L242.8 1708M254.3 1712.2L246.3 1706.3M257.8 1710.5L253.7 1707.6M274.3 1715.5L292.3 1706.8M274.3 1715.5L266.2 1709.6M277.7 1713.9L269.6 1708M281.1 1712.2L273 1706.3M284.5 1710.6L280.5 1707.6M301 1715.5L319.1 1706.8M301 1715.5L293 1709.6M304.5 1713.8L296.4 1707.9M307.9 1712.2L299.8 1706.3M311.3 1710.6L307.3 1707.6M327.8 1715.5L345.9 1706.9M327.8 1715.5L319.8 1709.5M331.2 1713.8L323.2 1707.9M334.7 1712.2L326.6 1706.2M338.1 1710.6L334.1 1707.6M354.6 1715.4L372.6 1706.9M354.6 1715.4L346.5 1709.5M358 1713.8L350 1707.8M361.4 1712.2L353.4 1706.2M364.9 1710.6L360.9 1707.6M381.3 1715.4L399.4 1706.9M381.3 1715.4L373.3 1709.4M384.8 1713.8L376.8 1707.8M388.2 1712.2L380.2 1706.2M391.6 1710.6L387.6 1707.6M408.1 1715.3L426.2 1707M408.1 1715.3L400.1 1709.3M411.5 1713.7L403.6 1707.7M415 1712.2L407 1706.1M418.4 1710.6L414.4 1707.5M434.8 1715.2L453.1 1707.2M434.8 1715.2L426.9 1709M438.2 1713.6L430.4 1707.4M441.7 1712.1L433.9 1705.9M461.5 1715L479.9 1707.3M461.5 1715L453.7 1708.6M465 1713.5L457.3 1707.2M468.5 1712.1L460.8 1705.7M488.2 1714.8L506.8 1707.5M488.2 1714.8L480.6 1708.3M491.7 1713.4L484.1 1706.9M495.2 1712L487.7 1705.5M514.9 1714.6L533.6 1707.7M514.9 1714.6L507.4 1707.9M518.4 1713.3L511 1706.6M522 1712L514.5 1705.3M541.6 1714.4L560.5 1707.9M541.6 1714.4L534.2 1707.6M545.2 1713.2L537.8 1706.4M548.7 1711.9L541.4 1705.1M568.3 1714.2L587.3 1708.1M568.3 1714.2L561.1 1707.3M571.9 1713.1L564.7 1706.1M575.5 1711.9L568.3 1704.9M595 1714L614.1 1708.3M595 1714L588 1706.9M598.6 1712.9L591.6 1705.8M602.3 1711.8L595.2 1704.7M621.7 1713.8L641 1708.5M621.7 1713.8L614.8 1706.6M625.4 1712.8L618.5 1705.6M629 1711.8L622.1 1704.6M648.4 1713.6L667.8 1708.7M648.4 1713.6L641.7 1706.3M652.1 1712.7L645.4 1705.3M655.8 1711.8L649 1704.4M675.2 1713.5L694.6 1708.9M675.2 1713.5L668.6 1705.9M678.9 1712.6L672.3 1705.1M682.6 1711.7L676 1704.2M701.9 1713.3L721.4 1709.1M701.9 1713.3L695.4 1705.6M705.6 1712.5L699.2 1704.8M709.3 1711.7L702.9 1704M728.6 1712.9L748.3 1709.4M728.6 1712.9L722.4 1705M732.3 1712.2L726.2 1704.4M736.1 1711.6L729.9 1703.7M755.3 1712.6L775.1 1709.8M755.3 1712.6L749.4 1704.5M759.1 1712L753.2 1703.9M762.8 1711.5L759.9 1707.4M247.4 1759.3L265.6 1750.8M247.4 1759.3L239.5 1753.3M250.9 1757.7L242.9 1751.7M254.3 1756.1L246.3 1750M257.8 1754.5L253.8 1751.4M274.2 1759.3L292.3 1750.8M274.2 1759.3L266.2 1753.3M277.7 1757.7L269.7 1751.7M281.1 1756.1L273.1 1750M284.5 1754.5L280.6 1751.4M301 1759.3L319.1 1750.8M301 1759.3L293 1753.3M304.4 1757.7L296.4 1751.7M307.9 1756.1L299.9 1750M311.3 1754.5L307.3 1751.4M327.8 1759.3L345.9 1750.8M327.8 1759.3L319.8 1753.3M331.2 1757.7L323.2 1751.7M334.6 1756.1L326.7 1750M338.1 1754.5L334.1 1751.4M354.5 1759.3L372.7 1750.8M354.5 1759.3L346.5 1753.3M358 1757.7L350 1751.7M361.4 1756.1L353.4 1750M364.9 1754.5L360.9 1751.4M381.3 1759.2L399.5 1750.9M381.3 1759.2L373.3 1753.2M384.7 1757.6L376.8 1751.6M388.2 1756.1L380.2 1750M391.6 1754.5L387.7 1751.4M408 1759.1L426.3 1751M408 1759.1L400.1 1753M411.5 1757.6L403.6 1751.4M415 1756L407.1 1749.9M434.8 1759.1L453.1 1751M434.8 1759.1L426.9 1753M438.3 1757.6L430.4 1751.4M441.7 1756L437.8 1752.9M461.5 1759L479.9 1751.1M461.5 1759L453.7 1752.8M465 1757.5L457.2 1751.3M468.5 1756L464.6 1752.9M488.2 1758.8L506.7 1751.3M488.2 1758.8L480.5 1752.4M491.7 1757.4L484.1 1751M495.2 1755.9L491.4 1752.7M514.9 1758.6L533.6 1751.5M514.9 1758.6L507.4 1752M518.4 1757.2L510.9 1750.6M522 1755.9L518.2 1752.6M541.6 1758.3L560.5 1751.8M541.6 1758.3L534.2 1751.6M545.2 1757.1L537.8 1750.3M548.8 1755.8L545.1 1752.4M568.3 1758.1L587.3 1752M568.3 1758.1L561.1 1751.1M571.9 1756.9L564.7 1750M575.5 1755.8L571.9 1752.3M595 1757.9L614.2 1752.2M595 1757.9L588 1750.7M598.6 1756.8L591.6 1749.7M602.3 1755.7L598.8 1752.2M621.7 1757.6L641 1752.5M621.7 1757.6L614.9 1750.3M625.4 1756.7L618.5 1749.3M629 1755.7L625.6 1752M648.4 1757.4L667.8 1752.7M648.4 1757.4L641.8 1749.9M652.1 1756.5L645.4 1749M655.8 1755.6L652.5 1751.9M675.1 1757.2L694.7 1752.9M675.1 1757.2L668.7 1749.5M678.8 1756.4L672.4 1748.7M682.5 1755.6L679.3 1751.7M701.8 1756.9L721.5 1753.2M701.8 1756.9L695.6 1749.1M705.6 1756.2L699.3 1748.4M709.3 1755.5L706.2 1751.6M728.6 1756.7L748.3 1753.4M728.6 1756.7L722.5 1748.7M732.3 1756.1L726.2 1748.1M736.1 1755.4L733 1751.5M755.3 1756.4L775.1 1753.7M755.3 1756.4L749.4 1748.3M759.1 1755.9L753.2 1747.8M762.8 1755.4L759.9 1751.3M247.6 1800.9L265.4 1791.8M247.6 1800.9L239.4 1795.1M251 1799.2L242.8 1793.4M254.4 1797.4L246.2 1791.7M257.7 1795.7L253.7 1792.8M274.4 1800.8L292.2 1791.8M274.4 1800.8L266.2 1795.1M277.7 1799.1L269.6 1793.4M281.1 1797.4L273 1791.7M284.5 1795.7L280.4 1792.8M301.1 1800.8L319 1791.9M301.1 1800.8L293 1795M304.5 1799.1L296.4 1793.3M307.9 1797.4L299.7 1791.6M311.3 1795.7L307.2 1792.8M327.9 1800.8L345.8 1791.9M327.9 1800.8L319.7 1795M331.3 1799.1L323.1 1793.3M334.7 1797.4L326.5 1791.6M338.1 1795.7L334 1792.8M354.6 1800.8L372.6 1791.9M354.6 1800.8L346.5 1794.9M358 1799.1L349.9 1793.2M361.4 1797.4L353.3 1791.6M364.9 1795.7L360.8 1792.8M381.4 1800.7L399.4 1791.9M381.4 1800.7L373.3 1794.9M384.8 1799.1L376.7 1793.2M388.2 1797.4L380.1 1791.5M391.6 1795.7L387.6 1792.8M408.1 1800.7L426.2 1792M408.1 1800.7L400.1 1794.7M411.6 1799L403.5 1793.1M415 1797.4L406.9 1791.5M418.4 1795.7L414.4 1792.8M434.8 1800.5L453 1792.2M434.8 1800.5L426.9 1794.4M438.3 1798.9L430.3 1792.9M441.7 1797.3L437.8 1794.3M461.5 1800.3L479.9 1792.4M461.5 1800.3L453.7 1794.1M465 1798.8L457.2 1792.5M488.2 1800L506.8 1792.6M488.2 1800L480.6 1793.6M491.7 1798.6L484.1 1792.2M514.9 1799.8L533.6 1792.9M514.9 1799.8L507.4 1793.1M518.4 1798.5L511 1791.8M541.5 1799.5L560.5 1793.2M541.5 1799.5L534.3 1792.6M545.1 1798.3L537.9 1791.4M568.2 1799.2L587.4 1793.4M568.2 1799.2L561.2 1792.1M571.9 1798.1L564.8 1791M594.9 1799L614.2 1793.7M594.9 1799L588.1 1791.7M598.6 1798L591.7 1790.7M621.6 1798.7L641.1 1794M621.6 1798.7L615 1791.2M625.3 1797.8L618.7 1790.3M648.3 1798.4L667.9 1794.3M648.3 1798.4L641.9 1790.7M652 1797.6L645.6 1789.9M675 1798.1L694.7 1794.6M675 1798.1L668.9 1790.3M678.8 1797.4L672.6 1789.6M701.8 1797.8L721.6 1794.9M701.8 1797.8L695.8 1789.8M705.5 1797.3L699.6 1789.2M728.5 1797.5L748.4 1795.2M728.5 1797.5L722.8 1789.3M732.3 1797.1L726.6 1788.8M755.3 1797.2L775.2 1795.5M755.3 1797.2L749.8 1788.8M759 1796.9L753.6 1788.5M247.7 1836.1L265.3 1826.8M247.7 1836.1L239.4 1830.5M251 1834.4L242.7 1828.8M254.4 1832.6L246.1 1827M257.7 1830.8L253.6 1828M274.4 1836.1L292.1 1826.8M274.4 1836.1L266.2 1830.5M277.8 1834.3L269.5 1828.7M281.2 1832.6L272.9 1826.9M284.5 1830.8L280.4 1828M301.2 1836.1L318.9 1826.8M301.2 1836.1L292.9 1830.4M304.6 1834.3L296.3 1828.7M307.9 1832.6L299.7 1826.9M311.3 1830.8L307.2 1828M328 1836.1L345.7 1826.8M328 1836.1L319.7 1830.4M331.3 1834.3L323.1 1828.6M334.7 1832.6L326.5 1826.9M338.1 1830.8L333.9 1828M354.7 1836L372.5 1826.9M354.7 1836L346.5 1830.3M358.1 1834.3L349.9 1828.6M361.5 1832.5L353.2 1826.9M364.8 1830.8L360.7 1828M381.5 1836L399.3 1826.9M381.5 1836L373.3 1830.3M384.9 1834.3L376.6 1828.6M388.2 1832.5L380 1826.8M391.6 1830.8L387.5 1827.9M408.2 1835.9L426.1 1827M408.2 1835.9L400.1 1830.1M411.6 1834.2L403.5 1828.4M415 1832.5L406.9 1826.7M434.8 1835.6L453 1827.3M434.8 1835.6L426.9 1829.6M438.3 1834L430.3 1828M441.7 1832.5L437.8 1829.4M461.6 1835.5L479.8 1827.4M461.6 1835.5L453.7 1829.3M465 1834L457.2 1827.8M488.2 1835.3L506.7 1827.6M488.2 1835.3L480.5 1828.9M491.7 1833.8L484 1827.4M514.9 1835L533.6 1827.9M514.9 1835L507.4 1828.5M518.5 1833.7L510.9 1827.1M541.6 1834.8L560.4 1828.1M541.6 1834.8L534.2 1828M545.2 1833.5L537.8 1826.8M568.3 1834.5L587.3 1828.4M568.3 1834.5L561.1 1827.6M571.9 1833.4L564.7 1826.4M595 1834.3L614.2 1828.6M595 1834.3L588 1827.1M598.6 1833.2L591.6 1826.1M621.7 1834L641 1828.9M621.7 1834L614.9 1826.6M625.3 1833L622 1829.3M648.3 1833.5L667.9 1829.3M648.3 1833.5L641.9 1825.9M652.1 1832.7L648.8 1828.9M675 1833.1L694.8 1829.8M675 1833.1L668.9 1825.2M678.8 1832.5L675.7 1828.5M701.7 1832.7L721.6 1830.2M701.7 1832.7L696 1824.5M705.5 1832.2L702.6 1828.1M728.5 1832.2L748.4 1830.7M728.5 1832.2L723.1 1823.8M732.3 1831.9L729.6 1827.7M755.2 1831.8L775.2 1831.1M755.2 1831.8L750.2 1823.1M759 1831.7L756.5 1827.3M247.7 1863.1L265.3 1853.7M247.7 1863.1L239.4 1857.5M251 1861.3L242.7 1855.7M254.4 1859.6L246.1 1854M257.7 1857.8L253.6 1855M274.4 1863.1L292.1 1853.8M274.4 1863.1L266.2 1857.5M277.8 1861.3L269.5 1855.7M281.2 1859.5L272.9 1853.9M284.5 1857.8L280.4 1855M301.2 1863.1L318.9 1853.8M301.2 1863.1L292.9 1857.4M304.6 1861.3L296.3 1855.7M307.9 1859.5L299.7 1853.9M311.3 1857.8L307.2 1855M327.9 1863L345.7 1853.8M327.9 1863L319.7 1857.4M331.3 1861.3L323.1 1855.6M334.7 1859.5L326.5 1853.9M338.1 1857.8L333.9 1854.9M354.7 1863L372.5 1853.9M354.7 1863L346.5 1857.3M358.1 1861.3L349.9 1855.6M361.5 1859.5L353.2 1853.8M364.8 1857.8L360.7 1854.9M381.5 1863L399.3 1853.9M381.5 1863L373.3 1857.3M384.9 1861.2L376.7 1855.5M388.2 1859.5L380 1853.8M391.6 1857.8L387.5 1854.9M408.2 1862.8L426.1 1854M408.2 1862.8L400.1 1856.9M411.6 1861.1L403.5 1855.3M415 1859.5L406.9 1853.6M434.8 1862.6L453 1854.2M434.8 1862.6L426.9 1856.6M438.3 1861L430.3 1855M441.7 1859.4L437.8 1856.4M461.6 1862.5L479.8 1854.4M461.6 1862.5L453.7 1856.3M465 1860.9L457.2 1854.8M488.2 1862.3L506.7 1854.6M488.2 1862.3L480.5 1855.9M491.7 1860.8L484 1854.5M514.9 1862L533.6 1854.8M514.9 1862L507.3 1855.5M518.5 1860.7L510.9 1854.1M541.6 1861.8L560.4 1855M541.6 1861.8L534.2 1855.1M545.2 1860.5L537.8 1853.8M568.3 1861.6L587.3 1855.3M568.3 1861.6L561.1 1854.7M571.9 1860.4L564.7 1853.5M595 1861.2L614.2 1855.7M595 1861.2L588 1854M598.6 1860.1L595.1 1856.5M621.6 1860.6L641.1 1856.3M621.6 1860.6L615.1 1853M625.3 1859.8L622 1856M648.2 1860L668 1856.9M648.2 1860L642.2 1852M674.9 1859.4L694.8 1857.5M674.9 1859.4L669.4 1851.1M701.7 1858.8L721.7 1858.1M701.7 1858.8L696.7 1850.1M728.4 1858.2L748.4 1858.7M728.4 1858.2L724 1849.2M755.3 1857.6L775.2 1859.3M755.3 1857.6L751.3 1848.4M247.7 1887.5L265.3 1878.1M247.7 1887.5L239.4 1881.9M251 1885.7L242.7 1880.1M254.4 1883.9L246.1 1878.3M274.4 1887.5L292.1 1878.1M274.4 1887.5L266.2 1881.9M277.8 1885.7L269.5 1880.1M281.2 1883.9L272.9 1878.3M301.2 1887.5L318.9 1878.1M301.2 1887.5L292.9 1881.9M304.6 1885.7L296.3 1880.1M307.9 1883.9L299.6 1878.3M328 1887.5L345.7 1878.1M328 1887.5L319.7 1881.9M331.3 1885.7L323.1 1880.1M334.7 1883.9L326.4 1878.3M354.8 1887.5L372.4 1878.1M354.8 1887.5L346.5 1881.9M358.1 1885.7L349.8 1880.1M361.5 1883.9L353.2 1878.3M381.5 1887.5L399.2 1878.1M381.5 1887.5L373.3 1881.9M384.9 1885.7L376.6 1880.1M388.3 1883.9L380 1878.3M408.3 1887.4L426 1878.2M408.3 1887.4L400 1881.8M411.6 1885.7L403.4 1880M415 1883.9L406.8 1878.3M434.9 1887.2L452.9 1878.4M434.9 1887.2L426.8 1881.3M438.3 1885.5L430.3 1879.6M441.8 1883.9L437.7 1880.9M461.6 1887L479.8 1878.7M461.6 1887L453.7 1880.9M465.1 1885.4L457.1 1879.3M468.5 1883.8L464.5 1880.8M488.3 1886.8L506.6 1878.8M488.3 1886.8L480.5 1880.5M491.8 1885.3L484 1879M515 1886.6L533.5 1879.1M515 1886.6L507.3 1880.1M518.5 1885.1L510.8 1878.7M541.7 1886.3L560.4 1879.3M541.7 1886.3L534.2 1879.7M545.2 1885L537.7 1878.4M568.3 1886L587.3 1879.6M568.3 1886L561 1879.2M571.9 1884.8L568.3 1881.4M595 1885.6L614.2 1880M595 1885.6L588 1878.4M598.6 1884.5L595.1 1881M621.6 1885.1L641.1 1880.5M621.6 1885.1L615 1877.6M648.3 1884.6L667.9 1881M648.3 1884.6L642.1 1876.8M674.9 1883.9L694.8 1881.7M674.9 1883.9L669.3 1875.6M701.7 1883.1L721.7 1882.6M701.7 1883.1L696.7 1874.4M728.5 1882.2L748.4 1883.4M728.5 1882.2L724.3 1873.2M755.3 1881.4L775.1 1884.2M755.3 1881.4L751.9 1872M247.7 1909.3L265.3 1899.9M247.7 1909.3L239.4 1903.7M251 1907.5L242.7 1901.9M254.4 1905.7L246.1 1900.1M274.4 1909.3L292.1 1899.9M274.4 1909.3L266.2 1903.7M277.8 1907.5L269.5 1901.9M281.2 1905.7L277 1902.9M301.2 1909.3L318.9 1899.9M301.2 1909.3L292.9 1903.7M304.6 1907.5L296.3 1901.9M307.9 1905.7L303.8 1902.9M328 1909.2L345.7 1900M328 1909.2L319.7 1903.6M331.3 1907.5L323.1 1901.8M334.7 1905.7L330.6 1902.9M354.7 1909.2L372.5 1900M354.7 1909.2L346.5 1903.5M358.1 1907.4L349.9 1901.7M361.5 1905.7L357.4 1902.8M381.5 1909.1L399.3 1900.1M381.5 1909.1L373.3 1903.4M384.8 1907.4L376.7 1901.7M388.2 1905.7L384.1 1902.8M408.2 1909.1L426.1 1900.1M408.2 1909.1L400.1 1903.3M411.6 1907.4L403.5 1901.6M415 1905.7L410.9 1902.8M434.9 1909L452.9 1900.2M434.9 1909L426.8 1903.2M438.4 1907.3L430.2 1901.5M441.8 1905.7L437.7 1902.7M461.6 1908.8L479.7 1900.3M461.6 1908.8L453.6 1902.8M465.1 1907.2L457.1 1901.2M468.5 1905.6L464.5 1902.6M488.3 1908.6L506.6 1900.6M488.3 1908.6L480.5 1902.4M491.8 1907.1L484 1900.8M515 1908.4L533.5 1900.8M515 1908.4L507.3 1902.1M518.5 1907L514.7 1903.8M541.7 1908.2L560.4 1901M541.7 1908.2L534.1 1901.6M545.2 1906.8L541.5 1903.5M568.3 1907.8L587.3 1901.4M568.3 1907.8L561 1901M571.9 1906.6L568.3 1903.2M595 1907.5L614.1 1901.7M595 1907.5L588 1900.3M621.7 1907.1L641 1902.1M621.7 1907.1L614.9 1899.7M648.3 1906.7L667.9 1902.4M648.3 1906.7L641.9 1899.1M675 1905.9L694.8 1903.2M675 1905.9L669.1 1897.8M701.7 1905L721.7 1904.2M701.7 1905L696.6 1896.4M728.4 1904.1L748.4 1905.1M728.4 1904.1L724.2 1895.1M755.3 1903.2L775.1 1906M755.3 1903.2L751.9 1893.8M247.8 1930.7L265.2 1920.7M247.8 1930.7L239.4 1925.4M251.1 1928.8L242.7 1923.5M254.4 1926.9L250.2 1924.3M274.6 1930.7L292 1920.8M274.6 1930.7L266.1 1925.3M277.9 1928.8L269.4 1923.5M281.2 1926.9L277 1924.2M301.3 1930.6L318.8 1920.8M301.3 1930.6L292.9 1925.2M304.6 1928.8L296.2 1923.4M308 1926.9L303.7 1924.2M328.1 1930.6L345.6 1920.9M328.1 1930.6L319.7 1925.2M331.4 1928.7L323 1923.3M334.7 1926.9L330.5 1924.2M354.8 1930.5L372.4 1920.9M354.8 1930.5L346.5 1925.1M358.2 1928.7L349.8 1923.2M361.5 1926.9L357.3 1924.1M381.6 1930.5L399.2 1921M381.6 1930.5L373.2 1925M384.9 1928.7L376.6 1923.2M388.3 1926.9L384.1 1924.1M408.3 1930.4L426 1921M408.3 1930.4L400 1924.9M411.7 1928.7L403.4 1923.1M415 1926.9L410.9 1924.1M435 1930.3L452.8 1921.1M435 1930.3L426.8 1924.6M438.4 1928.6L430.2 1922.9M441.8 1926.8L437.7 1924M461.7 1930L479.7 1921.4M461.7 1930L453.6 1924.1M465.1 1928.4L457.1 1922.5M488.4 1929.9L506.6 1921.6M488.4 1929.9L480.4 1923.8M491.8 1928.3L487.9 1925.3M515 1929.6L533.5 1921.8M515 1929.6L507.3 1923.3M518.5 1928.1L514.7 1925M541.7 1929.3L560.4 1922.2M541.7 1929.3L534.1 1922.7M545.2 1927.9L541.5 1924.6M568.3 1928.9L587.3 1922.5M568.3 1928.9L561 1922.1M571.9 1927.7L568.3 1924.3M595 1928.6L614.1 1922.9M595 1928.6L588 1921.5M621.7 1928.2L641 1923.2M621.7 1928.2L614.9 1920.9M648.3 1927.9L667.9 1923.6M648.3 1927.9L641.9 1920.3M675 1927.1L694.8 1924.4M675 1927.1L669.1 1919M701.7 1926.2L721.7 1925.3M701.7 1926.2L696.6 1917.6M728.4 1925.2L748.4 1926.2M728.4 1925.2L724.2 1916.2M755.3 1924.3L775.1 1927.1M755.3 1924.3L751.9 1914.9M248 1950.5L265 1939.9M248 1950.5L239.4 1945.5M251.2 1948.5L242.6 1943.5M274.8 1950.5L291.8 1940M274.8 1950.5L266.1 1945.4M278 1948.5L269.4 1943.4M301.5 1950.4L318.6 1940M301.5 1950.4L292.9 1945.3M304.8 1948.5L296.1 1943.4M328.3 1950.4L345.4 1940.1M328.3 1950.4L319.7 1945.3M331.5 1948.4L322.9 1943.3M355 1950.4L372.2 1940.1M355 1950.4L346.5 1945.2M358.3 1948.4L349.7 1943.2M381.8 1950.3L399 1940.2M381.8 1950.3L373.2 1945.1M385 1948.4L376.5 1943.2M408.5 1950.3L425.8 1940.2M408.5 1950.3L400 1945M411.8 1948.3L403.3 1943.1M435.2 1950.1L452.6 1940.3M435.2 1950.1L426.8 1944.7M438.5 1948.3L430.1 1942.9M461.8 1949.8L479.6 1940.7M461.8 1949.8L453.6 1944.1M465.2 1948.1L461.1 1945.2M488.4 1949.5L506.5 1941M488.4 1949.5L480.4 1943.5M491.9 1947.9L487.9 1944.9M515 1949.1L533.5 1941.3M515 1949.1L507.3 1942.8M518.5 1947.6L514.7 1944.5M541.7 1948.8L560.4 1941.7M541.7 1948.8L534.1 1942.2M545.2 1947.4L541.5 1944.1M568.3 1948.4L587.3 1942M568.3 1948.4L561 1941.6M595 1948.1L614.1 1942.4M595 1948.1L588 1941M621.7 1947.7L641 1942.7M621.7 1947.7L614.9 1940.4M648.3 1947.4L667.9 1943.1M648.3 1947.4L641.9 1939.8M675 1946.6L694.8 1943.9M675 1946.6L669.1 1938.5M701.7 1945.7L721.7 1944.8M701.7 1945.7L696.6 1937.1M728.4 1944.8L748.4 1945.7M728.4 1944.8L724.2 1935.7M755.3 1943.8L775.1 1946.6M755.3 1943.8L751.9 1934.4M248 1969.4L265 1958.8M248 1969.4L239.4 1964.4M251.2 1967.4L242.6 1962.4M274.8 1969.4L291.8 1958.8M274.8 1969.4L266.1 1964.4M278 1967.4L269.4 1962.4M301.6 1969.4L318.5 1958.8M301.6 1969.4L292.9 1964.4M304.8 1967.4L296.1 1962.4M328.3 1969.4L345.3 1958.8M328.3 1969.4L319.7 1964.4M331.6 1967.4L322.9 1962.4M355.1 1969.4L372.1 1958.8M355.1 1969.4L346.5 1964.4M358.3 1967.4L349.7 1962.4M381.9 1969.4L398.9 1958.8M381.9 1969.4L373.2 1964.4M385.1 1967.4L376.5 1962.4M408.6 1969.3L425.7 1958.9M408.6 1969.3L400 1964.2M411.9 1967.3L403.2 1962.2M435.2 1969L452.6 1959.2M435.2 1969L426.8 1963.6M438.5 1967.1L434.3 1964.4M461.8 1968.7L479.6 1959.5M461.8 1968.7L453.6 1962.9M465.2 1966.9L461.1 1964.1M488.4 1968.3L506.5 1959.9M488.4 1968.3L480.4 1962.3M491.9 1966.7L487.9 1963.7M515 1968L533.5 1960.2M515 1968L507.3 1961.7M541.7 1967.6L560.4 1960.5M541.7 1967.6L534.1 1961.1M568.3 1967.3L587.3 1960.9M568.3 1967.3L561.1 1960.4M595 1966.8L614.2 1961.3M595 1966.8L588 1959.6M621.6 1966.4L641.1 1961.8M621.6 1966.4L615 1958.9M648.3 1966L667.9 1962.2M648.3 1966L642 1958.2M675 1965.5L694.8 1962.6M675 1965.5L669.1 1957.5M701.7 1964.4L721.7 1963.7M701.7 1964.4L696.7 1955.8M728.5 1963.2L748.4 1965M728.5 1963.2L724.6 1954M755.4 1962L775 1966.2M755.4 1962L752.7 1952.4M248 1986.3L265 1975.7M248 1986.3L239.4 1981.3M251.2 1984.3L246.9 1981.8M274.8 1986.3L291.8 1975.7M274.8 1986.3L266.1 1981.3M278 1984.3L273.7 1981.8M301.6 1986.3L318.5 1975.7M301.6 1986.3L292.9 1981.3M304.8 1984.3L300.5 1981.8M328.3 1986.3L345.3 1975.7M328.3 1986.3L319.7 1981.3M331.6 1984.3L327.2 1981.8M355.1 1986.3L372.1 1975.7M355.1 1986.3L346.5 1981.3M358.3 1984.3L354 1981.8M381.9 1986.3L398.9 1975.7M381.9 1986.3L373.2 1981.3M385.1 1984.3L380.8 1981.8M408.6 1986.1L425.7 1975.8M408.6 1986.1L400 1981M411.8 1984.2L407.5 1981.6M435.1 1985.7L452.8 1976.3M435.1 1985.7L426.8 1980.1M461.6 1985.2L479.8 1976.8M461.6 1985.2L453.6 1979.2M488.2 1984.8L506.7 1977.2M488.2 1984.8L480.5 1978.4M514.8 1984.4L533.7 1977.6M514.8 1984.4L507.4 1977.6M541.5 1983.9L560.6 1978.1M541.5 1983.9L534.4 1976.9M568.1 1983.4L587.5 1978.5M568.1 1983.4L561.4 1976M594.8 1982.9L614.4 1979M594.8 1982.9L588.4 1975.2M621.4 1982.4L641.2 1979.5M621.4 1982.4L615.5 1974.4M648.2 1981.9L668.1 1980.1M648.2 1981.9L642.7 1973.6M674.9 1981.4L694.9 1980.6M674.9 1981.4L669.8 1972.8M701.7 1980.5L721.6 1981.5M701.7 1980.5L697.5 1971.4M728.6 1979.4L748.3 1982.6M728.6 1979.4L725.3 1970M755.6 1978.4L774.9 1983.6M755.6 1978.4L753.3 1968.7M247.8 2000L265.2 1990M247.8 2000L239.4 1994.7M251.1 1998.1L246.9 1995.4M274.6 2000L291.9 1990M274.6 2000L266.1 1994.7M277.9 1998.1L273.7 1995.4M301.4 2000L318.7 1990M301.4 2000L292.9 1994.7M304.7 1998.1L300.4 1995.4M328.2 2000L345.5 1990M328.2 2000L319.7 1994.7M354.9 2000L372.3 1990M354.9 2000L346.5 1994.7M381.7 1999.9L399.1 1990.1M381.7 1999.9L373.2 1994.5M408.2 1999.4L426.1 1990.5M408.2 1999.4L400.1 1993.6M434.8 1999L453.1 1991M434.8 1999L426.9 1992.8M461.3 1998.4L480.1 1991.5M461.3 1998.4L453.9 1991.8M487.8 1997.7L507.1 1992.3M487.8 1997.7L480.9 1990.5M514.4 1996.9L534.1 1993M514.4 1996.9L508.1 1989.2M541.1 1996.2L560.9 1993.8M541.1 1996.2L535.4 1987.9M567.8 1995.6L587.8 1994.4M567.8 1995.6L562.6 1987M594.6 1995.1L614.6 1994.8M594.6 1995.1L589.8 1986.3M621.3 1994.6L641.3 1995.3M621.3 1994.6L616.9 1985.7M648.1 1994.2L668.1 1995.8M648.1 1994.2L644.2 1985M675 1993.6L694.8 1996.4M675 1993.6L671.6 1984.1M701.9 1992.9L721.4 1997.1M701.9 1992.9L699.1 1983.3M728.8 1992.2L748 1997.7M732.5 1993.3L731.4 1988.4M755.8 1991.5L774.6 1998.4M759.4 1992.8L758.7 1987.9M247.6 2010.9L265.4 2001.8M247.6 2010.9L239.4 2005.2M251 2009.2L246.9 2006.3M274.3 2010.9L292.2 2001.8M274.3 2010.9L266.2 2005.1M277.7 2009.1L273.7 2006.3M301.1 2010.8L319 2001.9M301.1 2010.8L293 2005M304.5 2009.1L300.4 2006.2M327.9 2010.8L345.8 2001.9M327.9 2010.8L319.7 2005M354.6 2010.8L372.6 2001.9M354.6 2010.8L346.5 2004.9M381.3 2010.5L399.5 2002.2M381.3 2010.5L373.3 2004.5M407.7 2009.7L426.6 2003M407.7 2009.7L400.3 2003M434.3 2008.9L453.6 2003.8M434.3 2008.9L427.4 2001.6M460.8 2008.1L480.5 2004.6M460.8 2008.1L454.7 2000.2M487.5 2007.2L507.4 2005.5M487.5 2007.2L482.1 1998.7M514.2 2006.2L534.2 2006.5M514.2 2006.2L509.6 1997.4M541.1 2005.5L561 2007.2M541.1 2005.5L537.1 1996.3M567.9 2005L587.7 2007.7M571.7 2005.5L569.9 2000.8M594.8 2004.4L614.4 2008.3M598.5 2005.2L597 2000.4M621.6 2003.9L641 2008.8M625.3 2004.9L624.1 2000M648.5 2003.5L667.7 2009.2M652.2 2004.6L651.2 1999.7M675.5 2003L694.3 2009.7M679 2004.3L678.3 1999.3M702.4 2002.5L720.9 2010.2M705.9 2004L705.4 1999M729.4 2002.1L747.5 2010.6M732.8 2003.7L732.6 1998.7M756.4 2001.7L774 2011M759.7 2003.4L759.7 1998.4M247.4 2020.2L265.6 2012M247.4 2020.2L239.5 2014M274.1 2020.1L292.4 2012.1M274.1 2020.1L266.3 2013.9M300.9 2020L319.2 2012.2M300.9 2020L293.1 2013.8M327.6 2020L346 2012.2M327.6 2020L319.9 2013.6M354.3 2019.9L372.8 2012.3M354.3 2019.9L346.7 2013.5M381 2019.5L399.8 2012.7M381 2019.5L373.5 2012.9M407.4 2018.2L426.9 2014M407.4 2018.2L400.9 2010.6M434 2016.9L453.9 2015.3M437.7 2016.6L435 2012.4M460.7 2015.8L480.7 2016.4M464.5 2015.9L462.3 2011.4M487.5 2015.1L507.4 2017.1M491.3 2015.5L489.4 2010.8M514.4 2014.3L534.1 2017.9M518.1 2015L516.6 2010.3M541.3 2013.7L560.7 2018.5M545 2014.6L543.8 2009.8M568.3 2013.1L587.3 2019.1M571.9 2014.2L571 2009.3M595.2 2012.5L613.9 2019.7M598.8 2013.9L598.2 2008.9M622.2 2012.2L640.5 2020M625.6 2013.7L625.2 2008.7M649.1 2011.9L667.2 2020.3M652.5 2013.5L652.2 2008.5M676 2011.6L693.8 2020.6M679.4 2013.3L679.2 2008.3M702.9 2011.3L720.5 2020.9M706.2 2013.1L706.3 2008.1M729.8 2011.1L747.1 2021.1M733.1 2013L733.3 2008M756.7 2010.8L773.7 2021.4M760 2012.8L760.3 2007.8M247 2027.3L266 2021.1M247 2027.3L239.8 2020.4M273.7 2027.2L292.8 2021.3M273.7 2027.2L266.6 2020.1M300.5 2027.1L319.6 2021.4M300.5 2027.1L293.5 2019.9M327.2 2026.9L346.5 2021.5M327.2 2026.9L320.3 2019.7M353.9 2026.5L373.3 2021.9M353.9 2026.5L347.3 2019M380.4 2025.2L400.3 2023.3M380.4 2025.2L374.9 2016.8M407.2 2023.7L427.1 2024.7M411 2023.9L408.8 2019.4M434.1 2022.5L453.8 2025.9M437.8 2023.2L436.2 2018.4M461 2021.7L480.4 2026.8M464.7 2022.7L463.5 2017.8M488 2020.9L506.9 2027.6M491.6 2022.2L490.9 2017.2M515 2020.4L533.5 2028.1M518.5 2021.9L518 2016.9M541.9 2020.2L560.2 2028.2M545.3 2021.7L545 2016.8M568.7 2020.1L586.9 2028.4M572.2 2021.6L571.9 2016.7M595.6 2019.9L613.6 2028.6M599 2021.5L598.8 2016.5M622.4 2019.7L640.3 2028.7M625.8 2021.4L625.7 2016.4M649.3 2019.6L667 2028.9M652.6 2021.3L652.6 2016.3M676.1 2019.4L693.6 2029.1M679.5 2021.2L679.5 2016.2M703 2019.2L720.3 2029.2M706.3 2021.1L706.5 2016.1M729.9 2019.1L747 2029.4M733.1 2021L733.4 2016M756.7 2018.9L773.7 2029.5M760 2020.9L760.3 2016M246.6 2033.7L266.4 2031M246.6 2033.7L240.7 2025.7M273.3 2033.5L293.2 2031.2M273.3 2033.5L267.7 2025.2M300.1 2033.2L320 2031.5M300.1 2033.2L294.7 2024.8M326.8 2032.9L346.8 2031.8M326.8 2032.9L321.6 2024.4M353.6 2032.4L373.6 2032.3M353.6 2032.4L348.8 2023.7M380.4 2031.2L400.3 2033.5M384.2 2031.6L382.4 2027M407.5 2029.8L426.8 2034.9M411.2 2030.7L410 2025.9M434.9 2028.1L453 2036.6M438.3 2029.7L438.1 2024.7M462.5 2026.6L478.9 2038.1M465.6 2028.8L466.2 2023.8M489 2027.1L505.9 2037.7M492.2 2029.1L492.6 2024.1M515.5 2027.5L533 2037.2M518.8 2029.3L518.9 2024.3M542 2027.9L560 2036.8M545.5 2029.6L545.3 2024.6M568.8 2028L586.8 2036.7M572.2 2029.7L572 2024.7M595.6 2027.9L613.5 2036.8M599 2029.6L598.9 2024.6M622.5 2027.7L640.2 2037M625.9 2029.5L625.8 2024.5M649.4 2027.5L666.9 2037.2M652.7 2029.4L652.8 2024.4M676.2 2027.4L693.6 2037.3M679.5 2029.3L679.7 2024.3M246.5 2040L266.5 2041M246.5 2040L242.3 2030.9M273.3 2039.8L293.3 2041.1M273.3 2039.8L269.2 2030.7M300.1 2039.7L320 2041.3M303.9 2040L301.9 2035.4M326.9 2039.5L346.8 2041.4M330.7 2039.9L328.7 2035.3M353.7 2038.9L373.5 2042.1M357.5 2039.5L355.8 2034.8M380.6 2038.3L400.1 2042.7M384.3 2039.1L383 2034.3M407.6 2037.5L426.7 2043.5M411.2 2038.6L410.3 2033.7M434.8 2036.3L453 2044.7M438.3 2037.9L438 2032.9M461.6 2036.4L479.8 2044.6M465 2037.9L464.7 2032.9M541.8 2036.7L560.3 2044.3M545.3 2038.1L544.8 2033.2M568.6 2036.6L587 2044.4M572.1 2038.1L571.6 2033.1M595.5 2036.3L613.7 2044.6M598.9 2037.9L598.6 2032.9M622.4 2036.1L640.3 2044.9M625.8 2037.8L625.6 2032.8M649.3 2035.8L667 2045.1M652.6 2037.6L652.6 2032.6M246.7 2046.5L266.3 2050.7M250.4 2047.3L249.1 2042.5M273.5 2046.4L293 2050.8M277.2 2047.3L275.9 2042.4M300.3 2046.4L319.8 2050.9M304 2047.2L302.7 2042.4M327.1 2046.3L346.5 2051M330.8 2047.2L329.6 2042.3M353.9 2046.2L373.3 2051M357.6 2047.1L356.4 2042.2M380.7 2046.1L400 2051.1M384.4 2047L383.2 2042.2M407.5 2046.1L426.8 2051.1M411.1 2047.1L410 2042.2M434.2 2046.4L453.7 2050.8M437.9 2047.2L436.6 2042.4M567.8 2047.8L587.8 2049.4M571.6 2048.1L569.6 2043.5M594.6 2048L614.5 2049.2M598.4 2048.2L596.3 2043.7M246.8 2054.2L266.2 2059.3M250.5 2055.1L249.4 2050.3M273.6 2054.2L293 2059.2M277.3 2055.2L276.1 2050.3M300.3 2054.3L319.8 2059.1M304 2055.3L302.8 2050.4M327.1 2054.4L346.6 2059M330.8 2055.3L329.5 2050.5M353.8 2054.5L373.4 2058.9M357.6 2055.4L356.2 2050.5M380.6 2054.6L400.1 2058.8M384.3 2055.4L382.9 2050.6M247 2061.8L266 2068M250.6 2063L249.7 2058M273.7 2062.1L292.9 2067.6M277.3 2063.1L276.3 2058.3M300.4 2062.4L319.7 2067.3M304 2063.3L302.8 2058.5M327.1 2062.7L346.6 2067M330.8 2063.5L329.4 2058.7M353.8 2063.1L373.4 2066.7M357.5 2063.8L356 2059M247.1 2069.6L265.9 2076.4M250.7 2070.9L250 2065.9M273.7 2070.2L292.9 2075.8M277.3 2071.3L276.3 2066.4M300.3 2070.8L319.8 2075.2M304 2071.6L302.7 2066.8M326.9 2071.5L346.7 2074.5M330.7 2072L329.1 2067.3M246.5 2080.2L266.5 2082M250.3 2080.6L248.4 2076M273.3 2082.2L293.2 2080M277.1 2081.8L274.3 2077.7M300.3 2083.1L319.8 2079.1M304 2082.4L300.8 2078.5" stroke="#333" stroke-width="1.0" fill="none"/>
<rect x="256.5" y="1678" width="522.1" height="425" fill="none" stroke="#000" stroke-width="1.3"/>
<text transform="translate(517.5 1667.3) scale(0.986 1)" font-size="33.6" text-anchor="middle" fill="#000" >Curtain 5 (C5)</text>
<line x1="243" y1="1678" x2="256.5" y2="1678" stroke="#444" stroke-width="1.3" />
<text transform="translate(228.5 1685.9) scale(0.955 1)" font-size="23" text-anchor="end" fill="#000" >200</text>
<line x1="243" y1="1785.6" x2="256.5" y2="1785.6" stroke="#444" stroke-width="1.3" />
<text transform="translate(228.5 1793.5) scale(0.955 1)" font-size="23" text-anchor="end" fill="#000" >300</text>
<line x1="243" y1="1921.1" x2="256.5" y2="1921.1" stroke="#444" stroke-width="1.3" />
<text transform="translate(228.5 1929) scale(0.955 1)" font-size="23" text-anchor="end" fill="#000" >500</text>
<line x1="243" y1="2010.3" x2="256.5" y2="2010.3" stroke="#444" stroke-width="1.3" />
<text transform="translate(228.5 2018.2) scale(0.955 1)" font-size="23" text-anchor="end" fill="#000" >700</text>
<line x1="243" y1="2061.9" x2="256.5" y2="2061.9" stroke="#444" stroke-width="1.3" />
<text transform="translate(228.5 2069.8) scale(0.955 1)" font-size="23" text-anchor="end" fill="#000" >850</text>
<line x1="243" y1="2084.3" x2="256.5" y2="2084.3" stroke="#444" stroke-width="1.3" />
<text transform="translate(228.5 2092.2) scale(0.955 1)" font-size="23" text-anchor="end" fill="#000" >925</text>
<line x1="778.6" y1="1705.6" x2="791.6" y2="1705.6" stroke="#444" stroke-width="1.3" />
<text transform="translate(804.1 1712.6)" font-size="19.7" fill="#000" >35</text>
<line x1="778.6" y1="1763.3" x2="791.6" y2="1763.3" stroke="#444" stroke-width="1.3" />
<text transform="translate(804.1 1770.3)" font-size="19.7" fill="#000" >30</text>
<line x1="778.6" y1="1821" x2="791.6" y2="1821" stroke="#444" stroke-width="1.3" />
<text transform="translate(804.1 1828)" font-size="19.7" fill="#000" >25</text>
<line x1="778.6" y1="1878.7" x2="791.6" y2="1878.7" stroke="#444" stroke-width="1.3" />
<text transform="translate(804.1 1885.7)" font-size="19.7" fill="#000" >20</text>
<line x1="778.6" y1="1936.4" x2="791.6" y2="1936.4" stroke="#444" stroke-width="1.3" />
<text transform="translate(804.1 1943.4)" font-size="19.7" fill="#000" >15</text>
<line x1="778.6" y1="1994.2" x2="791.6" y2="1994.2" stroke="#444" stroke-width="1.3" />
<text transform="translate(804.1 2001.2)" font-size="19.7" fill="#000" >10</text>
<line x1="778.6" y1="2051.9" x2="791.6" y2="2051.9" stroke="#444" stroke-width="1.3" />
<text transform="translate(804.1 2058.9)" font-size="19.7" fill="#000" >5</text>
<line x1="778.6" y1="2098" x2="791.6" y2="2098" stroke="#444" stroke-width="1.3" />
<text transform="translate(804.1 2105)" font-size="19.7" fill="#000" >1</text>
<line x1="256.5" y1="2103" x2="256.5" y2="2116" stroke="#444" stroke-width="1.3" />
<text transform="translate(255.8 2147.5) scale(0.977 1)" font-size="22" text-anchor="middle" fill="#000" >119.4W</text>
<text transform="translate(252.8 2171.7) scale(0.977 1)" font-size="22" text-anchor="middle" fill="#000" >47.4N</text>
<line x1="390.2" y1="2103" x2="390.2" y2="2116" stroke="#444" stroke-width="1.3" />
<text transform="translate(389.5 2147.5) scale(0.977 1)" font-size="22" text-anchor="middle" fill="#000" >117.4W</text>
<text transform="translate(386.5 2171.7) scale(0.977 1)" font-size="22" text-anchor="middle" fill="#000" >46.1N</text>
<line x1="523.9" y1="2103" x2="523.9" y2="2116" stroke="#444" stroke-width="1.3" />
<text transform="translate(523.2 2147.5) scale(0.977 1)" font-size="22" text-anchor="middle" fill="#000" >115.6W</text>
<text transform="translate(520.2 2171.7) scale(0.977 1)" font-size="22" text-anchor="middle" fill="#000" >44.7N</text>
<line x1="657.6" y1="2103" x2="657.6" y2="2116" stroke="#444" stroke-width="1.3" />
<text transform="translate(656.9 2147.5) scale(0.977 1)" font-size="22" text-anchor="middle" fill="#000" >113.8W</text>
<text transform="translate(653.9 2171.7) scale(0.977 1)" font-size="22" text-anchor="middle" fill="#000" >43.3N</text>
<rect x="696.6" y="2112.2" width="82" height="65" fill="#fff" stroke="#777" stroke-width="1"/>
<text transform="translate(737.6 2135) scale(1.05 1)" font-size="22.7" text-anchor="middle" fill="#000" >30 m/s</text>
<path d="M730.2 2158.2L750 2158.2M730.2 2158.2L725.6 2149.5M733.6 2158.2L729 2149.5M737 2158.2L732.4 2149.5" stroke="#555" stroke-width="0.9" fill="none"/>
<text transform="translate(171 1890.5) rotate(-90) scale(0.939 1)" font-size="28.6" text-anchor="middle" fill="#000" >Altitude (hPa)</text>
</g>
<text transform="translate(1694 566) rotate(-90) scale(0.915 1)" font-size="41" text-anchor="middle" fill="#404040" >Height (thousand ft)</text>
<text transform="translate(1694 1266) rotate(-90) scale(0.915 1)" font-size="41" text-anchor="middle" fill="#404040" >Height (thousand ft)</text>
<clipPath id="mc"><rect x="924.7" y="1677.6" width="552" height="551.8"/></clipPath>
<g clip-path="url(#mc)">
<rect x="924.7" y="1677.6" width="552" height="551.8" fill="#30B7FF"/>
<path d="M930.2 1677.3L957.8 1677.3L985.4 1677.3L1013 1677.3L1040.6 1677.3L1068.2 1677.3L1095.8 1677.3L1123.4 1677.3L1151 1677.3L1178.6 1677.3L1206.2 1677.3L1233.8 1677.3L1261.4 1677.3L1289 1677.3L1316.6 1677.3L1344.2 1677.3L1371.8 1677.3L1399.4 1677.3L1427 1677.3L1454.6 1677.3L1482.2 1677.3L1482.2 1698.1L1482.2 1718.9L1482.2 1739.6L1482.2 1760.4L1482.2 1781.2L1482.2 1801.9L1482.2 1822.7L1482.2 1843.5L1482.2 1864.3L1482.2 1885L1482.2 1905.8L1482.2 1926.6L1482.2 1947.3L1482.2 1968.1L1482.2 1988.9L1482.2 2009.7L1482.2 2030.4L1482.2 2051.2L1482.2 2072L1482.2 2092.7L1482.2 2113.5L1482.2 2134.3L1482.2 2155L1482.2 2175.8L1482.2 2196.6L1482.2 2217.4L1482.2 2238.1L1454.6 2238.1L1427 2238.1L1399.4 2238.1L1371.8 2238.1L1344.2 2238.1L1316.6 2238.1L1289 2238.1L1261.4 2238.1L1233.8 2238.1L1206.2 2238.1L1178.6 2238.1L1151 2238.1L1123.4 2238.1L1095.8 2238.1L1068.2 2238.1L1040.6 2238.1L1013 2238.1L985.4 2238.1L957.8 2238.1L930.2 2238.1L902.6 2238.1L902.6 2217.4L902.6 2196.6L902.6 2175.8L902.6 2155L902.6 2134.3L902.6 2113.5L902.6 2092.7L902.6 2072L902.6 2051.2L902.6 2030.4L902.6 2009.7L902.6 1988.9L902.6 1968.1L902.6 1947.3L902.6 1926.6L902.6 1905.8L902.6 1885L902.6 1864.3L902.6 1843.5L902.6 1822.7L902.6 1801.9L902.6 1781.2L902.6 1760.4L902.6 1739.6L902.6 1718.9L902.6 1698.1L902.6 1677.3L930.2 1677.3Z" fill="#40CCFF" fill-rule="evenodd"/>
<path d="M957.8 1687L985.4 1677.3L985.4 1677.3L1013 1677.3L1040.6 1677.3L1068.2 1677.3L1095.8 1677.3L1123.4 1677.3L1151 1677.3L1178.6 1677.3L1206.2 1677.3L1233.8 1677.3L1261.4 1677.3L1289 1677.3L1316.6 1677.3L1344.2 1677.3L1371.8 1677.3L1399.4 1677.3L1427 1677.3L1454.6 1677.3L1482.2 1677.3L1482.2 1698.1L1482.2 1718.9L1482.2 1739.6L1482.2 1760.4L1482.2 1781.2L1482.2 1801.9L1482.2 1822.7L1482.2 1843.5L1482.2 1864.3L1482.2 1885L1482.2 1905.8L1482.2 1926.6L1482.2 1947.3L1482.2 1968.1L1482.2 1988.9L1482.2 2009.7L1482.2 2030.4L1482.2 2051.2L1482.2 2072L1482.2 2092.7L1482.2 2113.5L1482.2 2134.3L1482.2 2155L1482.2 2175.8L1482.2 2196.6L1482.2 2217.4L1482.2 2238.1L1454.6 2238.1L1427 2238.1L1399.4 2238.1L1371.8 2238.1L1344.2 2238.1L1316.6 2238.1L1289 2238.1L1261.4 2238.1L1233.8 2238.1L1206.2 2238.1L1178.6 2238.1L1151 2238.1L1123.4 2238.1L1095.8 2238.1L1068.2 2238.1L1040.6 2238.1L1013 2238.1L985.4 2238.1L985.4 2238.1L962.4 2217.4L957.8 2213.9L930.2 2196.6L930.2 2196.6L902.6 2196.6L902.6 2175.8L902.6 2155L902.6 2134.3L902.6 2113.5L902.6 2092.7L930.2 2105.2L939.4 2113.5L957.8 2120.7L964.3 2113.5L964.9 2092.7L965.7 2072L966.3 2051.2L967 2030.4L967 2009.7L967 1988.9L968.3 1968.1L957.8 1947.3L957.8 1947.3L930.2 1926.6L930.2 1926.6L902.6 1926.6L902.6 1905.8L902.6 1885L902.6 1864.3L902.6 1843.5L902.6 1822.7L902.6 1801.9L902.6 1795.6L930.2 1795.6L957.8 1793L985.4 1791.2L1013 1786.3L1040.6 1783.8L1068.2 1782.7L1095.8 1781.2L1123.4 1785.3L1151 1794.4L1160.2 1781.2L1151 1766.6L1123.4 1774.4L1095.8 1781.2L1068.2 1778L1040.6 1775.4L1013 1768.7L996 1760.4L985.4 1751L961.8 1739.6L957.8 1735L947.7 1718.9L939.4 1698.1L957.8 1687ZM930.2 1968.1L945.6 1988.9L944 2009.7L942 2030.4L930.2 2040.8L906.6 2051.2L902.6 2055.3L902.6 2051.2L902.6 2030.4L902.6 2009.7L902.6 1988.9L902.6 1968.1L930.2 1968.1Z" fill="#40DFFF" fill-rule="evenodd"/>
<path d="M1013 1694.3L1040.6 1688.5L1048.7 1677.3L1068.2 1677.3L1095.8 1677.3L1123.4 1677.3L1151 1677.3L1178.6 1677.3L1206.2 1677.3L1233.8 1677.3L1261.4 1677.3L1289 1677.3L1316.6 1677.3L1344.2 1677.3L1371.8 1677.3L1399.4 1677.3L1427 1677.3L1454.6 1677.3L1482.2 1677.3L1482.2 1698.1L1482.2 1718.9L1482.2 1739.6L1482.2 1760.4L1482.2 1781.2L1482.2 1801.9L1482.2 1822.7L1482.2 1843.5L1482.2 1864.3L1482.2 1885L1482.2 1905.8L1482.2 1926.6L1482.2 1947.3L1482.2 1968.1L1482.2 1988.9L1482.2 2009.7L1482.2 2030.4L1482.2 2051.2L1482.2 2072L1482.2 2092.7L1482.2 2113.5L1482.2 2134.3L1482.2 2155L1482.2 2175.8L1482.2 2196.6L1482.2 2217.4L1482.2 2238.1L1454.6 2238.1L1427 2238.1L1399.4 2238.1L1371.8 2238.1L1344.2 2238.1L1316.6 2238.1L1289 2238.1L1261.4 2238.1L1233.8 2238.1L1206.2 2238.1L1178.6 2238.1L1151 2238.1L1123.4 2238.1L1095.8 2238.1L1068.2 2238.1L1040.6 2238.1L1040.6 2238.1L1021.4 2217.4L1013 2206.2L1006.7 2196.6L994.3 2175.8L985.4 2155L985.4 2155L975.1 2134.3L980.5 2113.5L982.7 2092.7L985.4 2072L985.4 2072L986.3 2051.2L987.1 2030.4L987.1 2009.7L987.2 1988.9L989 1968.1L991.6 1947.3L985.4 1926.6L985.4 1926.6L957.8 1905.8L957.8 1905.8L930.2 1894.3L902.6 1894.3L902.6 1885L902.6 1864.3L902.6 1843.5L902.6 1822.7L902.6 1813.7L930.2 1813.7L957.8 1807.9L985.4 1803.8L989.7 1801.9L1013 1794.9L1040.6 1790.3L1068.2 1790.1L1095.8 1789.8L1123.4 1797.2L1134.5 1801.9L1151 1813.3L1162.1 1801.9L1173.4 1781.2L1160.8 1760.4L1151 1745.9L1123.4 1755.1L1105.6 1760.4L1095.8 1763.1L1068.2 1762L1040.6 1761.1L1038.5 1760.4L1013 1747.9L1003 1739.6L1000.9 1718.9L985.4 1698.1L1013 1694.3Z" fill="#40F3FF" fill-rule="evenodd"/>
<path d="M1068.2 1684.3L1071.7 1677.3L1095.8 1677.3L1123.4 1677.3L1151 1677.3L1178.6 1677.3L1206.2 1677.3L1233.8 1677.3L1261.4 1677.3L1289 1677.3L1316.6 1677.3L1344.2 1677.3L1371.8 1677.3L1399.4 1677.3L1427 1677.3L1447.3 1677.3L1454.6 1693.9L1456.5 1698.1L1482.2 1711.3L1482.2 1718.9L1482.2 1739.6L1482.2 1760.4L1482.2 1781.2L1482.2 1801.9L1482.2 1822.7L1482.2 1843.5L1482.2 1864.3L1482.2 1885L1482.2 1905.8L1482.2 1926.6L1482.2 1947.3L1482.2 1968.1L1482.2 1988.9L1482.2 2009.7L1482.2 2030.4L1482.2 2051.2L1482.2 2072L1482.2 2092.7L1482.2 2113.5L1482.2 2134.3L1482.2 2155L1482.2 2175.8L1482.2 2196.6L1482.2 2217.4L1482.2 2238.1L1454.6 2238.1L1427 2238.1L1399.4 2238.1L1371.8 2238.1L1344.2 2238.1L1316.6 2238.1L1289 2238.1L1261.4 2238.1L1233.8 2238.1L1206.2 2238.1L1178.6 2238.1L1151 2238.1L1123.4 2238.1L1095.8 2238.1L1068.2 2238.1L1068.2 2238.1L1054.7 2217.4L1044.7 2196.6L1040.6 2188.3L1029.9 2175.8L1016.1 2155L1013 2148.7L1007.2 2134.3L1000.9 2113.5L996.5 2092.7L994.6 2072L995 2051.2L995.3 2030.4L995.7 2009.7L996.1 1988.9L999.3 1968.1L1003.8 1947.3L998.4 1926.6L992.3 1905.8L985.4 1892L969.2 1885L957.8 1880.6L930.2 1871.2L902.6 1871.2L902.6 1864.3L902.6 1848.7L930.2 1848.7L936.7 1843.5L957.8 1822.7L957.8 1822.7L985.4 1816.4L1013 1803.4L1018 1801.9L1040.6 1796.8L1068.2 1797.5L1095.8 1798.5L1106.9 1801.9L1123.4 1809.1L1142.7 1822.7L1151 1828.2L1166.4 1822.7L1178.6 1806.1L1180.5 1801.9L1186.5 1781.2L1178.6 1766.9L1174.8 1760.4L1161.5 1739.6L1151 1728L1123.4 1734.9L1112.4 1739.6L1095.8 1745.1L1068.2 1746L1040.6 1746.8L1028.1 1739.6L1040.6 1722.3L1046.8 1718.9L1059.9 1698.1L1068.2 1684.3Z" fill="#40FFE6" fill-rule="evenodd"/>
<path d="M1095.8 1677.3L1123.4 1677.3L1151 1677.3L1178.6 1677.3L1206.2 1677.3L1233.8 1677.3L1261.4 1677.3L1289 1677.3L1316.6 1677.3L1344.2 1677.3L1371.8 1677.3L1385.6 1677.3L1399.4 1692.9L1404.9 1698.1L1427 1706.4L1445.4 1718.9L1454.6 1722.8L1482.2 1730.2L1482.2 1739.6L1482.2 1760.4L1482.2 1781.2L1482.2 1801.9L1482.2 1822.7L1482.2 1843.5L1482.2 1864.3L1482.2 1885L1482.2 1905.8L1482.2 1926.6L1482.2 1947.3L1482.2 1968.1L1482.2 1988.9L1482.2 2009.7L1482.2 2030.4L1482.2 2051.2L1482.2 2072L1482.2 2092.7L1482.2 2113.5L1482.2 2134.3L1482.2 2155L1482.2 2175.8L1482.2 2196.6L1482.2 2217.4L1482.2 2238.1L1454.6 2238.1L1427 2238.1L1399.4 2238.1L1371.8 2238.1L1344.2 2238.1L1316.6 2238.1L1289 2238.1L1261.4 2238.1L1233.8 2238.1L1206.2 2238.1L1178.6 2238.1L1151 2238.1L1123.4 2238.1L1095.8 2238.1L1095.8 2238.1L1078.2 2217.4L1068.2 2202L1065.2 2196.6L1051.8 2175.8L1043.2 2155L1040.6 2146.7L1032.9 2134.3L1023 2113.5L1013 2100.6L1009.4 2092.7L1003.8 2072L1003.7 2051.2L1003.5 2030.4L1004.2 2009.7L1005 1988.9L1009.7 1968.1L1013 1956.4L1016.1 1947.3L1013 1933.5L1011.4 1926.6L1006.1 1905.8L996.5 1885L985.4 1864.3L989.4 1843.5L993.3 1822.7L1013 1812L1040.6 1803.2L1068.2 1803.8L1095.8 1807.1L1123.4 1820.9L1125.9 1822.7L1151 1839.1L1178.6 1829.8L1197 1822.7L1198.9 1801.9L1199.6 1781.2L1188.8 1760.4L1178.6 1743.2L1176.4 1739.6L1161.6 1718.9L1151 1711.4L1123.4 1711.2L1095.8 1710.6L1087.5 1698.1L1094.7 1677.3L1095.8 1677.3ZM1371.8 1801.9L1371.8 1801.9L1371.8 1801.9L1371.8 1801.9ZM1151 1968.1L1151 1988.9L1151 1988.9L1151 1988.9L1151 1968.1L1151 1968.1ZM1371.8 2051.2L1371.8 2051.2L1371.8 2051.2L1371.8 2051.2Z" fill="#40FFBF" fill-rule="evenodd"/>
<path d="M1151 1677.3L1178.6 1677.3L1206.2 1677.3L1233.8 1677.3L1261.4 1677.3L1289 1677.3L1316.6 1677.3L1344.2 1677.3L1354.8 1677.3L1360.8 1698.1L1370.2 1718.9L1371.8 1722.3L1399.4 1734L1411.2 1739.6L1427 1741.9L1454.6 1743.7L1482.2 1745.6L1482.2 1760.4L1482.2 1781.2L1482.2 1801.9L1482.2 1822.7L1482.2 1843.5L1482.2 1864.3L1482.2 1885L1482.2 1905.8L1482.2 1926.6L1482.2 1947.3L1482.2 1968.1L1482.2 1988.9L1482.2 2009.7L1482.2 2030.4L1482.2 2051.2L1482.2 2072L1482.2 2092.7L1482.2 2113.5L1482.2 2134.3L1482.2 2155L1482.2 2175.8L1482.2 2196.6L1482.2 2217.4L1482.2 2238.1L1454.6 2238.1L1427 2238.1L1399.4 2238.1L1371.8 2238.1L1344.2 2238.1L1316.6 2238.1L1289 2238.1L1261.4 2238.1L1233.8 2238.1L1206.2 2238.1L1178.6 2238.1L1151 2238.1L1123.4 2238.1L1109.6 2238.1L1098.4 2217.4L1095.8 2210.4L1085.6 2196.6L1068.2 2176.4L1067.8 2175.8L1056.4 2155L1047.4 2134.3L1041.1 2113.5L1040.6 2112.7L1016.5 2092.7L1013 2072L1013 2072L1012.4 2051.2L1011.8 2030.4L1012.8 2009.7L1013 2005.5L1013.9 1988.9L1020 1968.1L1028.4 1947.3L1018.5 1926.6L1019.9 1905.8L1013 1889.2L1011.2 1885L1001.2 1864.3L1005.1 1843.5L1009.1 1822.7L1013 1820.6L1040.6 1809.7L1068.2 1808.6L1095.8 1815.8L1109.2 1822.7L1123.4 1840.4L1128.9 1843.5L1151 1850L1173.1 1843.5L1178.6 1841.7L1206.2 1831.8L1220.5 1822.7L1210.8 1801.9L1210.8 1781.2L1206.2 1767.3L1202.7 1760.4L1191.3 1739.6L1185.1 1718.9L1178.6 1708.9L1162.1 1698.1L1151 1696.8L1127.5 1677.3L1151 1677.3ZM1361.1 1801.9L1362.6 1822.7L1371.8 1839.3L1375.3 1822.7L1380.8 1801.9L1371.8 1795L1361.1 1801.9ZM1115.5 1968.1L1118.8 1988.9L1123.4 1995.3L1136.5 2009.7L1140 2030.4L1151 2044.3L1178.6 2040.8L1206.2 2043.2L1214.1 2030.4L1214.1 2009.7L1206.2 2004.6L1185.3 1988.9L1178.6 1981.1L1162.9 1968.1L1151 1957.7L1123.4 1962.2L1115.5 1968.1ZM1364.4 2051.2L1365.6 2072L1371.8 2077.1L1381 2072L1380.4 2051.2L1371.8 2040.8L1364.4 2051.2ZM1342.9 2092.7L1344.2 2093.8L1346.6 2092.7L1344.2 2091.1L1342.9 2092.7Z" fill="#40FA6E" fill-rule="evenodd"/>
<path d="M1151 1677.3L1178.6 1677.3L1206.2 1677.3L1233.8 1677.3L1261.4 1677.3L1289 1677.3L1316.6 1677.3L1334.7 1677.3L1344.2 1696.1L1345 1698.1L1354.5 1718.9L1367.4 1739.6L1371.8 1753.5L1399.4 1753.2L1427 1753.1L1454.6 1755.2L1482.2 1757.4L1482.2 1760.4L1482.2 1781.2L1482.2 1801.9L1482.2 1822.7L1482.2 1843.5L1482.2 1864.3L1482.2 1885L1482.2 1905.8L1482.2 1926.6L1482.2 1947.3L1482.2 1968.1L1482.2 1988.9L1482.2 2009.7L1482.2 2030.4L1482.2 2051.2L1482.2 2072L1482.2 2092.7L1482.2 2113.5L1482.2 2134.3L1482.2 2155L1482.2 2175.8L1482.2 2186.2L1454.6 2188.3L1427 2189.7L1399.4 2196.6L1399.4 2196.6L1399.4 2196.6L1427 2217.4L1427 2217.4L1454.6 2217.4L1482.2 2217.4L1482.2 2238.1L1454.6 2238.1L1427 2238.1L1399.4 2238.1L1371.8 2238.1L1344.2 2238.1L1316.6 2238.1L1289 2238.1L1261.4 2238.1L1233.8 2238.1L1206.2 2238.1L1178.6 2238.1L1151 2238.1L1123.4 2238.1L1123.4 2238.1L1109 2217.4L1101.3 2196.6L1095.8 2188.3L1083.8 2175.8L1069.1 2155L1068.2 2153.4L1057.1 2134.3L1043.3 2113.5L1040.6 2108.7L1021.3 2092.7L1022.2 2072L1021.1 2051.2L1020 2030.4L1021.4 2009.7L1022.8 1988.9L1030.3 1968.1L1040.6 1947.3L1040.6 1947.3L1040.6 1947.3L1024.8 1926.6L1033.7 1905.8L1025.9 1885L1017 1864.3L1018.5 1843.5L1024.8 1822.7L1040.6 1816.2L1068.2 1813.3L1093.3 1822.7L1095.8 1824L1117.3 1843.5L1123.4 1861.1L1151 1861L1178.6 1853.6L1206.2 1844.8L1222 1843.5L1233.8 1839.8L1237.2 1822.7L1233.8 1819.6L1218.5 1801.9L1220 1781.2L1215.4 1760.4L1206.2 1739.6L1208.3 1718.9L1211.2 1698.1L1206.2 1697.1L1178.6 1696.7L1151 1690.3L1135.4 1677.3L1151 1677.3ZM1350.4 1801.9L1344.2 1812.1L1316.6 1822.7L1316.6 1822.7L1316.6 1822.7L1333 1843.5L1344.2 1861.1L1346.1 1864.3L1371.8 1878.8L1399.4 1867L1404 1864.3L1399.4 1856L1395.7 1843.5L1392.5 1822.7L1389.8 1801.9L1371.8 1788.1L1350.4 1801.9ZM1095.8 1864.3L1095.8 1864.3L1095.8 1864.3L1095.8 1864.3ZM1247.6 1864.3L1252.2 1885L1256.4 1905.8L1261.4 1926.6L1261.4 1926.6L1277.2 1947.3L1289 1950.4L1316.6 1958.9L1324.5 1947.3L1316.6 1926.6L1316.6 1926.6L1289 1926.6L1277.2 1905.8L1280.7 1885L1282.7 1864.3L1261.4 1850.4L1247.6 1864.3ZM1151 1947.3L1123.4 1953.7L1104.3 1968.1L1095.8 1988.9L1095.8 1988.9L1095.8 1988.9L1109 2009.7L1117.9 2030.4L1123.4 2034.2L1140 2051.2L1151 2072L1151 2072L1176.1 2092.7L1178.6 2097.9L1183.5 2113.5L1206.2 2121.4L1233.8 2113.8L1238.4 2113.5L1241.1 2092.7L1245.6 2072L1236.9 2051.2L1233.8 2030.4L1233.8 2030.4L1224 2009.7L1206.2 1998.3L1193.7 1988.9L1178.6 1971.3L1174.8 1968.1L1151 1947.3L1151 1947.3ZM1371.8 2030.4L1356.9 2051.2L1356.7 2072L1344.2 2083.2L1336.1 2092.7L1344.2 2099.2L1358.3 2092.7L1371.8 2084.4L1394.2 2072L1389.1 2051.2L1371.8 2030.4L1371.8 2030.4Z" fill="#4AFA3C" fill-rule="evenodd"/>
<path d="M1151 1677.3L1178.6 1677.3L1206.2 1677.3L1233.8 1677.3L1261.4 1677.3L1289 1677.3L1307.4 1677.3L1316.6 1679.6L1329.2 1698.1L1340.9 1718.9L1344.2 1722.6L1358.5 1739.6L1363 1760.4L1371.8 1781.2L1344.2 1797.1L1338.9 1801.9L1316.6 1815.3L1289 1820.2L1282.1 1822.7L1261.4 1836.6L1246.9 1822.7L1233.8 1810.8L1226.2 1801.9L1229.2 1781.2L1227.7 1760.4L1224.6 1739.6L1229.6 1718.9L1233.8 1705L1236.3 1698.1L1233.8 1691.2L1206.2 1692.2L1178.6 1694.8L1151 1683.8L1143.2 1677.3L1151 1677.3ZM1399.4 1769.2L1427 1764.3L1454.6 1766.8L1482.2 1769.3L1482.2 1781.2L1482.2 1801.9L1482.2 1822.7L1482.2 1843.5L1482.2 1864.3L1454.6 1856L1427 1850.4L1420.7 1843.5L1409.8 1822.7L1399.4 1804.3L1398.7 1801.9L1371.8 1781.2L1399.4 1769.2ZM1068.2 1818L1080.8 1822.7L1095.8 1830.5L1110.2 1843.5L1095.8 1857.3L1090.3 1864.3L1094.2 1885L1095.8 1889L1121.7 1905.8L1121.6 1926.6L1120.4 1947.3L1095.8 1965.8L1068.2 1967.1L1048.5 1947.3L1040.6 1939L1031.2 1926.6L1040.6 1911L1046.1 1905.8L1040.6 1885L1040.6 1885L1032.7 1864.3L1029.6 1843.5L1040.6 1822.7L1040.6 1822.7L1068.2 1818ZM1206.2 1857.8L1220 1864.3L1225.9 1885L1231.3 1905.8L1229.9 1926.6L1233.8 1926.9L1258.6 1947.3L1261.4 1961.8L1281.8 1968.1L1289 1970.6L1316.6 1982L1328.2 1968.1L1340.3 1947.3L1342.3 1926.6L1344.2 1917.7L1351.1 1905.8L1371.8 1899.6L1399.4 1894.7L1427 1885L1454.6 1885L1482.2 1905.8L1482.2 1926.6L1482.2 1947.3L1482.2 1947.3L1482.2 1968.1L1482.2 1988.9L1482.2 2009.7L1482.2 2030.4L1482.2 2051.2L1482.2 2072L1482.2 2092.7L1482.2 2113.5L1482.2 2134.3L1482.2 2155L1482.2 2165.4L1454.6 2171.7L1427 2175.8L1427 2175.8L1399.4 2178.1L1371.8 2182.7L1366.8 2196.6L1371.8 2217.4L1371.8 2217.4L1399.4 2238.1L1371.8 2238.1L1344.2 2238.1L1316.6 2238.1L1289 2238.1L1261.4 2238.1L1233.8 2238.1L1206.2 2238.1L1178.6 2238.1L1151 2238.1L1137.2 2238.1L1123.4 2223L1119.5 2217.4L1112.4 2196.6L1096.9 2175.8L1095.8 2173.5L1078 2155L1068.2 2136.8L1066.8 2134.3L1045.6 2113.5L1040.6 2104.7L1026.2 2092.7L1031.4 2072L1029.8 2051.2L1028.3 2030.4L1029.9 2009.7L1031.7 1988.9L1040.6 1968.1L1068.2 1988.9L1068.2 1988.9L1080 2009.7L1095.8 2030.4L1095.8 2030.4L1123.4 2049.3L1125.3 2051.2L1140 2072L1149.2 2092.7L1151 2113.5L1151 2113.5L1178.6 2120.8L1206.2 2132.6L1233.8 2116.6L1260.4 2134.3L1261.4 2155L1261.4 2155L1261.4 2155L1271.3 2134.3L1282.7 2113.5L1275.5 2092.7L1265.8 2072L1264.7 2051.2L1261.4 2030.4L1261.4 2030.4L1233.8 2009.7L1233.8 2009.7L1206.2 1992L1202 1988.9L1194.5 1968.1L1187.8 1947.3L1178.6 1926.6L1178.6 1926.6L1169.4 1905.8L1175.6 1885L1178.6 1876.1L1183.2 1864.3L1206.2 1857.8ZM1358 2030.4L1349.4 2051.2L1347.8 2072L1344.2 2075.2L1329.4 2092.7L1344.2 2104.6L1370.1 2092.7L1371.8 2091.6L1399.4 2081.9L1404 2072L1399.4 2056.4L1397.7 2051.2L1385.6 2030.4L1371.8 2027.1L1358 2030.4Z" fill="#7DFA3C" fill-rule="evenodd"/>
<path d="M1178.6 1677.3L1206.2 1677.3L1225.9 1677.3L1206.2 1687.2L1178.6 1692.9L1151 1677.3L1178.6 1677.3ZM1261.4 1698.1L1289 1698.8L1316.6 1700.4L1331.6 1718.9L1344.2 1733.2L1349.6 1739.6L1351.3 1760.4L1352.1 1781.2L1344.2 1785.7L1326.5 1801.9L1316.6 1807.9L1289 1815.1L1268.3 1822.7L1261.4 1827.3L1256.6 1822.7L1233.8 1801.9L1236.2 1781.2L1234.3 1760.4L1234.3 1739.6L1241.7 1718.9L1261.4 1698.1ZM1427 1775.6L1454.6 1778.3L1482.2 1781.2L1482.2 1801.9L1482.2 1822.7L1454.6 1839.7L1427 1822.7L1427 1822.7L1421.1 1801.9L1408.6 1781.2L1427 1775.6ZM1068.2 1822.7L1095.8 1837L1103 1843.5L1095.8 1850.4L1084.8 1864.3L1089.5 1885L1095.8 1900.2L1104.4 1905.8L1111.3 1926.6L1108.1 1947.3L1095.8 1956.6L1068.2 1959.2L1056.4 1947.3L1040.6 1930.7L1037.5 1926.6L1040.6 1921.4L1057.2 1905.8L1045.6 1885L1044.6 1864.3L1040.6 1843.5L1068.2 1822.7ZM1371.8 1922.9L1399.4 1909.8L1427 1909.5L1450.8 1926.6L1454.6 1947.3L1454.6 1947.3L1482.2 1964L1482.2 1968.1L1482.2 1988.9L1482.2 2009.7L1482.2 2030.4L1482.2 2051.2L1482.2 2072L1482.2 2092.7L1482.2 2113.5L1482.2 2113.5L1461 2134.3L1454.6 2155L1454.6 2155L1427 2162L1399.4 2159.7L1371.8 2155L1371.8 2155L1371.8 2155L1358 2175.8L1356.8 2196.6L1357.1 2217.4L1358 2238.1L1344.2 2238.1L1316.6 2238.1L1289 2238.1L1261.4 2238.1L1233.8 2238.1L1206.2 2238.1L1178.6 2238.1L1151 2238.1L1151 2238.1L1125.7 2217.4L1123.4 2196.6L1123.4 2196.6L1101.3 2175.8L1095.8 2164.3L1086.9 2155L1071.2 2134.3L1068.2 2132.5L1047.9 2113.5L1040.6 2100.7L1031 2092.7L1040.6 2072L1040.6 2072L1040.6 2072L1038.4 2051.2L1036.5 2030.4L1038.5 2009.7L1040.6 1988.9L1048.5 2009.7L1059 2030.4L1068.2 2036.4L1095.8 2040.8L1110.5 2051.2L1123.4 2064.4L1128.9 2072L1145.5 2092.7L1145.5 2113.5L1151 2120.4L1178.6 2129.4L1189.8 2134.3L1206.2 2143.8L1210.1 2134.3L1233.8 2119.5L1256.1 2134.3L1233.8 2155L1233.8 2155L1233.8 2155L1261.4 2164.3L1289 2156.3L1298.2 2155L1310.7 2134.3L1316.6 2125.4L1323.1 2113.5L1344.2 2110L1371.8 2100.2L1399.4 2098.6L1418.7 2092.7L1411.7 2072L1404 2051.2L1399.4 2030.4L1399.4 2030.4L1371.8 2023.7L1344.2 2030.4L1344.2 2030.4L1341.3 2051.2L1338.9 2072L1322.7 2092.7L1316.6 2109.7L1297.1 2092.7L1289 2090.6L1271.4 2072L1272.8 2051.2L1267.6 2030.4L1276.8 2009.7L1261.4 2002.7L1233.8 1988.9L1261.4 1979.9L1284.4 1988.9L1289 1995.8L1316.6 1999.7L1334.2 1988.9L1344.2 1974.4L1347.6 1968.1L1356 1947.3L1368 1926.6L1371.8 1922.9ZM1233.8 1929.9L1255.1 1947.3L1233.8 1966.3L1208.3 1947.3L1233.8 1929.9Z" fill="#A5FC40" fill-rule="evenodd"/>
<path d="M1178.6 1677.3L1206.2 1677.3L1216.1 1677.3L1206.2 1682.3L1178.6 1690.9L1154.5 1677.3L1178.6 1677.3ZM1261.4 1708.5L1289 1705.5L1316.6 1711.9L1322.2 1718.9L1336.3 1739.6L1336.3 1760.4L1330.4 1781.2L1316.6 1796.8L1313.6 1801.9L1289 1810.1L1261.4 1821.6L1236.6 1801.9L1241 1781.2L1235.3 1760.4L1235.3 1739.6L1251.6 1718.9L1261.4 1708.5ZM1454.6 1808.7L1472.4 1822.7L1454.6 1833.6L1436.9 1822.7L1454.6 1808.7ZM1068.2 1825.3L1095.8 1843.5L1079.3 1864.3L1084.7 1885L1068.2 1905.8L1050.7 1885L1052.4 1864.3L1044.1 1843.5L1068.2 1825.3ZM1068.2 1905.8L1095.8 1916.2L1101 1926.6L1095.8 1947.3L1095.8 1947.3L1068.2 1951.3L1064.3 1947.3L1047.5 1926.6L1068.2 1905.8ZM1399.4 1916.5L1427 1916.9L1440.4 1926.6L1427 1947.3L1399.4 1947.3L1381.8 1926.6L1399.4 1916.5ZM1233.8 1932.8L1251.5 1947.3L1233.8 1963.1L1212.6 1947.3L1233.8 1932.8ZM1371.8 1947.3L1399.4 1968.1L1399.4 1988.9L1395.7 2009.7L1371.8 2020.4L1349.7 2009.7L1359.3 1988.9L1367 1968.1L1371.8 1947.3ZM1482.2 1980.6L1482.2 1988.9L1482.2 2009.7L1482.2 2030.4L1482.2 2051.2L1482.2 2072L1482.2 2088.6L1454.6 2089.9L1427 2083.2L1419.4 2072L1409.8 2051.2L1413.2 2030.4L1417.8 2009.7L1427 2002.7L1454.6 1988.9L1454.6 1988.9L1482.2 1980.6ZM1289 2014.7L1316.6 2010.5L1341.2 2030.4L1331.4 2051.2L1330 2072L1316.6 2091.4L1289 2084.7L1276.9 2072L1280.9 2051.2L1273.7 2030.4L1289 2014.7ZM1068.2 2052.6L1095.8 2051.2L1121.9 2072L1123.4 2073.9L1141.8 2092.7L1140 2113.5L1151 2127.4L1170.4 2134.3L1178.6 2136.9L1206.2 2155L1206.2 2155L1233.8 2163.8L1261.4 2173.5L1289 2161.2L1316.6 2161L1339.6 2175.8L1344.2 2186.2L1346.7 2196.6L1344.2 2210.4L1342.4 2217.4L1330.4 2238.1L1316.6 2238.1L1289 2238.1L1261.4 2238.1L1233.8 2238.1L1206.2 2238.1L1178.6 2238.1L1164.8 2238.1L1151 2235.2L1129.3 2217.4L1124.4 2196.6L1123.4 2192.4L1105.8 2175.8L1095.8 2155L1095.8 2155L1074.7 2134.3L1068.2 2130.4L1050.1 2113.5L1040.6 2096.7L1035.8 2092.7L1040.6 2082.4L1045.2 2072L1068.2 2052.6ZM1371.8 2109.1L1394.8 2113.5L1371.8 2127.4L1355.6 2113.5L1371.8 2109.1ZM1233.8 2122.3L1251.8 2134.3L1233.8 2151.1L1214.7 2134.3L1233.8 2122.3Z" fill="#C8FF40" fill-rule="evenodd"/>
<path d="M1178.6 1677.3L1206.2 1677.3L1178.6 1689L1157.9 1677.3L1178.6 1677.3ZM1289 1712.2L1308.7 1718.9L1316.6 1739.6L1316.6 1760.4L1311.1 1781.2L1298.2 1801.9L1289 1805L1261.4 1819.4L1239.3 1801.9L1245.7 1781.2L1236.3 1760.4L1236.3 1739.6L1261.4 1718.9L1261.4 1718.9L1289 1712.2ZM1454.6 1816.5L1462.5 1822.7L1454.6 1827.6L1446.7 1822.7L1454.6 1816.5ZM1068.2 1827.9L1091.9 1843.5L1073.7 1864.3L1080 1885L1068.2 1899.9L1055.7 1885L1060.3 1864.3L1047.5 1843.5L1068.2 1827.9ZM1068.2 1919.6L1082 1926.6L1068.2 1937L1061.3 1926.6L1068.2 1919.6ZM1399.4 1923.2L1427 1924.3L1430.1 1926.6L1427 1931.4L1399.4 1933.5L1393.5 1926.6L1399.4 1923.2ZM1233.8 1935.7L1248 1947.3L1233.8 1960L1216.8 1947.3L1233.8 1935.7ZM1371.8 1992.7L1388.2 2009.7L1371.8 2017L1356.6 2009.7L1371.8 1992.7ZM1289 2021L1316.6 2013L1338.1 2030.4L1321.5 2051.2L1321.1 2072L1316.6 2078.5L1289 2078.9L1282.4 2072L1289 2051.2L1289 2051.2L1289 2051.2L1279.8 2030.4L1289 2021ZM1454.6 2012.6L1482.2 2030.4L1482.2 2030.4L1482.2 2051.2L1482.2 2072L1482.2 2072L1454.6 2084.8L1427 2072L1427 2072L1415.5 2051.2L1427 2030.4L1427 2030.4L1454.6 2012.6ZM1068.2 2056.5L1095.8 2053.6L1118.8 2072L1123.4 2077.6L1138.1 2092.7L1134.5 2113.5L1151 2134.3L1151 2134.3L1178.6 2142.9L1197 2155L1206.2 2160.2L1233.8 2172.5L1243 2175.8L1261.4 2181.5L1268.9 2175.8L1289 2166L1316.6 2172.9L1321.2 2175.8L1340.6 2196.6L1327.7 2217.4L1316.6 2229.8L1289 2238.1L1289 2238.1L1261.4 2238.1L1233.8 2238.1L1206.2 2238.1L1178.6 2238.1L1178.6 2238.1L1151 2232.2L1132.9 2217.4L1125.5 2196.6L1123.4 2188.3L1110.2 2175.8L1100.8 2155L1095.8 2151.6L1078.2 2134.3L1068.2 2128.3L1052.4 2113.5L1040.6 2092.7L1049.8 2072L1068.2 2056.5ZM1233.8 2125.2L1247.5 2134.3L1233.8 2147.1L1219.2 2134.3L1233.8 2125.2Z" fill="#F5FF45" fill-rule="evenodd"/>
<path d="M1178.6 1677.3L1201.6 1677.3L1178.6 1687L1161.4 1677.3L1178.6 1677.3ZM1261.4 1719.7L1289 1718.9L1299.4 1739.6L1299.4 1760.4L1297.3 1781.2L1289 1793.6L1287.5 1801.9L1261.4 1817.3L1242.1 1801.9L1250.5 1781.2L1237.3 1760.4L1237.3 1739.6L1261.4 1719.7ZM1068.2 1830.5L1087.9 1843.5L1068.2 1864.3L1051 1843.5L1068.2 1830.5ZM1068.2 1864.3L1075.3 1885L1068.2 1893.9L1060.7 1885L1068.2 1864.3ZM1233.8 1938.6L1244.4 1947.3L1233.8 1956.8L1221.1 1947.3L1233.8 1938.6ZM1371.8 2000.4L1380.8 2009.7L1371.8 2013.7L1363.5 2009.7L1371.8 2000.4ZM1289 2027.3L1316.6 2015.5L1335 2030.4L1316.6 2049.6L1289 2037.3L1286 2030.4L1289 2027.3ZM1454.6 2018.6L1473 2030.4L1482.2 2040.8L1482.2 2051.2L1482.2 2061.6L1471.2 2072L1454.6 2079.7L1438.1 2072L1427 2061.6L1421.3 2051.2L1427 2040.8L1436.2 2030.4L1454.6 2018.6ZM1068.2 2060.4L1095.8 2056.1L1115.8 2072L1123.4 2081.4L1134.5 2092.7L1128.9 2113.5L1143.1 2134.3L1151 2139.5L1178.6 2149L1187.8 2155L1206.2 2165.4L1227.2 2175.8L1233.8 2181.3L1261.4 2189L1279 2175.8L1289 2170.9L1304.8 2175.8L1316.6 2179.1L1335.8 2196.6L1316.6 2216.1L1311.1 2217.4L1289 2227.7L1261.4 2217.4L1261.4 2217.4L1261.4 2217.4L1243 2238.1L1233.8 2238.1L1206.2 2238.1L1192.4 2238.1L1178.6 2232.9L1151 2229.2L1136.5 2217.4L1126.5 2196.6L1123.4 2184.1L1114.6 2175.8L1105.9 2155L1095.8 2148.1L1081.8 2134.3L1068.2 2126.2L1054.6 2113.5L1043 2092.7L1054.4 2072L1068.2 2060.4ZM1289 2068.5L1296.9 2072L1289 2073.1L1287.9 2072L1289 2068.5ZM1233.8 2128L1243.2 2134.3L1233.8 2143.1L1223.8 2134.3L1233.8 2128Z" fill="#FFF040" fill-rule="evenodd"/>
<path d="M1178.6 1677.3L1197 1677.3L1178.6 1685.1L1164.8 1677.3L1178.6 1677.3ZM1261.4 1720.5L1288.5 1739.6L1288.5 1760.4L1282.5 1781.2L1283.8 1801.9L1261.4 1815.1L1244.9 1801.9L1255.2 1781.2L1238.3 1760.4L1238.3 1739.6L1261.4 1720.5ZM1068.2 1833.1L1084 1843.5L1068.2 1860.1L1054.4 1843.5L1068.2 1833.1ZM1068.2 1878.1L1070.6 1885L1068.2 1888L1065.7 1885L1068.2 1878.1ZM1233.8 1941.5L1240.9 1947.3L1233.8 1953.7L1225.3 1947.3L1233.8 1941.5ZM1371.8 2008.1L1373.3 2009.7L1371.8 2010.3L1370.4 2009.7L1371.8 2008.1ZM1316.6 2018L1332 2030.4L1316.6 2046.4L1291.5 2030.4L1316.6 2018ZM1454.6 2024.5L1463.8 2030.4L1482.2 2051.2L1460.1 2072L1454.6 2074.5L1449.1 2072L1427 2051.2L1445.4 2030.4L1454.6 2024.5ZM1068.2 2064.2L1095.8 2058.5L1112.7 2072L1123.4 2085.2L1130.8 2092.7L1123.4 2113.5L1123.4 2113.5L1123.4 2113.5L1135.2 2134.3L1151 2144.7L1178.6 2155L1178.6 2155L1206.2 2170.6L1216.7 2175.8L1233.8 2190L1261.4 2196.6L1233.8 2217.4L1233.8 2217.4L1206.2 2238.1L1178.6 2227.7L1151 2226.3L1140.2 2217.4L1127.5 2196.6L1123.4 2180L1119 2175.8L1110.9 2155L1095.8 2144.7L1085.3 2134.3L1068.2 2124.1L1056.9 2113.5L1045.4 2092.7L1059 2072L1068.2 2064.2ZM1233.8 2130.9L1239 2134.3L1233.8 2139.1L1228.3 2134.3L1233.8 2130.9ZM1289 2175.8L1316.6 2183.5L1331 2196.6L1316.6 2211.3L1289 2217.4L1261.4 2196.6L1289 2175.8Z" fill="#FFD23C" fill-rule="evenodd"/>
<path d="M1178.6 1677.3L1192.4 1677.3L1178.6 1683.2L1168.3 1677.3L1178.6 1677.3ZM1261.4 1721.4L1287.4 1739.6L1287.4 1760.4L1266.3 1781.2L1280.1 1801.9L1261.4 1812.9L1247.6 1801.9L1260 1781.2L1239.3 1760.4L1239.3 1739.6L1261.4 1721.4ZM1068.2 1835.7L1080 1843.5L1068.2 1856L1057.9 1843.5L1068.2 1835.7ZM1233.8 1944.4L1237.4 1947.3L1233.8 1950.5L1229.6 1947.3L1233.8 1944.4ZM1316.6 2020.5L1328.9 2030.4L1316.6 2043.2L1296.5 2030.4L1316.6 2020.5ZM1454.6 2030.4L1479.2 2051.2L1454.6 2070.7L1430.1 2051.2L1454.6 2030.4ZM1068.2 2068.1L1095.8 2061L1109.6 2072L1123.4 2089L1127.1 2092.7L1123.4 2103.1L1120.2 2113.5L1123.4 2127.4L1127.4 2134.3L1151 2149.9L1164.8 2155L1178.6 2156L1206.2 2175.8L1206.2 2175.8L1228.3 2196.6L1206.2 2217.4L1206.2 2217.4L1178.6 2222.6L1151 2223.3L1143.8 2217.4L1128.5 2196.6L1123.4 2175.8L1123.4 2175.8L1115.9 2155L1095.8 2141.2L1088.8 2134.3L1068.2 2121.9L1059.2 2113.5L1047.8 2092.7L1063.6 2072L1068.2 2068.1ZM1233.8 2133.7L1234.7 2134.3L1233.8 2135.1L1232.9 2134.3L1233.8 2133.7ZM1289 2178.9L1316.6 2187.8L1326.2 2196.6L1316.6 2206.4L1289 2214.3L1265.5 2196.6L1289 2178.9Z" fill="#FFAA3C" fill-rule="evenodd"/>
<path d="M1178.6 1677.3L1187.8 1677.3L1178.6 1681.2L1171.7 1677.3L1178.6 1677.3ZM1261.4 1722.2L1286.2 1739.6L1286.2 1760.4L1261.4 1780.5L1240.3 1760.4L1240.3 1739.6L1261.4 1722.2ZM1261.4 1784.3L1276.3 1801.9L1261.4 1810.7L1250.4 1801.9L1261.4 1784.3ZM1068.2 1838.3L1076.1 1843.5L1068.2 1851.8L1061.3 1843.5L1068.2 1838.3ZM1316.6 2023L1325.8 2030.4L1316.6 2040L1301.6 2030.4L1316.6 2023ZM1454.6 2033L1476.1 2051.2L1454.6 2068.3L1433.2 2051.2L1454.6 2033ZM1095.8 2063.4L1106.6 2072L1123.4 2092.7L1117 2113.5L1114.2 2134.3L1095.8 2137.7L1092.3 2134.3L1068.2 2119.8L1061.4 2113.5L1050.1 2092.7L1068.2 2072L1068.2 2072L1095.8 2063.4ZM1123.4 2144.7L1151 2155L1151 2155L1178.6 2156.9L1205 2175.8L1206.2 2196.6L1178.6 2217.4L1178.6 2217.4L1151 2220.3L1147.4 2217.4L1129.6 2196.6L1124.7 2175.8L1123.4 2162L1120.9 2155L1123.4 2144.7ZM1289 2181.9L1316.6 2192.2L1321.4 2196.6L1316.6 2201.5L1289 2211.3L1269.5 2196.6L1289 2181.9Z" fill="#FF8040" fill-rule="evenodd"/>
<path d="M1178.6 1677.3L1183.2 1677.3L1178.6 1679.3L1175.2 1677.3L1178.6 1677.3ZM1261.4 1723L1285 1739.6L1285 1760.4L1261.4 1779.6L1241.3 1760.4L1241.3 1739.6L1261.4 1723ZM1261.4 1788.7L1272.6 1801.9L1261.4 1808.5L1253.1 1801.9L1261.4 1788.7ZM1068.2 1840.9L1072.2 1843.5L1068.2 1847.6L1064.8 1843.5L1068.2 1840.9ZM1316.6 2025.5L1322.8 2030.4L1316.6 2036.8L1306.6 2030.4L1316.6 2025.5ZM1454.6 2035.6L1473 2051.2L1454.6 2065.9L1436.2 2051.2L1454.6 2035.6ZM1095.8 2065.9L1103.5 2072L1119 2092.7L1113.8 2113.5L1095.8 2134.3L1068.2 2117.7L1063.7 2113.5L1052.5 2092.7L1068.2 2074.7L1076.1 2072L1095.8 2065.9ZM1151 2156L1178.6 2157.8L1203.7 2175.8L1204.9 2196.6L1178.6 2216.4L1151 2217.4L1130.6 2196.6L1125.9 2175.8L1151 2156ZM1289 2185L1316.6 2196.6L1289 2208.2L1273.6 2196.6L1289 2185Z" fill="#FF5A40" fill-rule="evenodd"/>
<path d="M1261.4 1723.9L1283.8 1739.6L1283.8 1760.4L1261.4 1778.6L1242.4 1760.4L1242.4 1739.6L1261.4 1723.9ZM1261.4 1793.1L1268.9 1801.9L1261.4 1806.3L1255.9 1801.9L1261.4 1793.1ZM1316.6 2027.9L1319.7 2030.4L1316.6 2033.6L1311.6 2030.4L1316.6 2027.9ZM1454.6 2038.2L1470 2051.2L1454.6 2063.4L1439.3 2051.2L1454.6 2038.2ZM1095.8 2068.3L1100.4 2072L1114.5 2092.7L1110.6 2113.5L1095.8 2130.6L1068.2 2115.6L1066 2113.5L1054.9 2092.7L1068.2 2077.4L1084 2072L1095.8 2068.3ZM1151 2157L1178.6 2158.7L1202.5 2175.8L1203.6 2196.6L1178.6 2215.4L1151 2216.3L1131.6 2196.6L1127.2 2175.8L1151 2157ZM1289 2188L1309.4 2196.6L1289 2205.1L1277.7 2196.6L1289 2188Z" fill="#FF2D40" fill-rule="evenodd"/>
<path d="M1261.4 1724.7L1282.7 1739.6L1282.7 1760.4L1261.4 1777.6L1243.4 1760.4L1243.4 1739.6L1261.4 1724.7ZM1261.4 1797.5L1265.1 1801.9L1261.4 1804.1L1258.7 1801.9L1261.4 1797.5ZM1454.6 2040.8L1466.9 2051.2L1454.6 2061L1442.4 2051.2L1454.6 2040.8ZM1095.8 2070.7L1097.4 2072L1110.1 2092.7L1107.4 2113.5L1095.8 2126.9L1068.2 2113.5L1068.2 2113.5L1057.3 2092.7L1068.2 2080.2L1091.9 2072L1095.8 2070.7ZM1151 2158L1178.6 2159.6L1201.2 2175.8L1202.3 2196.6L1178.6 2214.4L1151 2215.3L1132.6 2196.6L1128.4 2175.8L1151 2158ZM1289 2191.1L1302.1 2196.6L1289 2202.1L1281.7 2196.6L1289 2191.1Z" fill="#FF366E" fill-rule="evenodd"/>
<path d="M1261.4 1725.5L1281.5 1739.6L1281.5 1760.4L1261.4 1776.7L1244.4 1760.4L1244.4 1739.6L1261.4 1725.5ZM1454.6 2043.4L1463.8 2051.2L1454.6 2058.5L1445.4 2051.2L1454.6 2043.4ZM1068.2 2082.9L1095.8 2075.8L1105.6 2092.7L1104.2 2113.5L1095.8 2123.2L1075.9 2113.5L1068.2 2109L1059.7 2092.7L1068.2 2082.9ZM1151 2159L1178.6 2160.5L1199.9 2175.8L1201 2196.6L1178.6 2213.4L1151 2214.2L1133.6 2196.6L1129.7 2175.8L1151 2159ZM1289 2194.1L1294.8 2196.6L1289 2199L1285.8 2196.6L1289 2194.1Z" fill="#FF60C0" fill-rule="evenodd"/>
<path d="M1261.4 1726.3L1280.3 1739.6L1280.3 1760.4L1261.4 1775.7L1245.4 1760.4L1245.4 1739.6L1261.4 1726.3ZM1454.6 2046L1460.8 2051.2L1454.6 2056.1L1448.5 2051.2L1454.6 2046ZM1068.2 2085.6L1095.8 2083.5L1101.2 2092.7L1101 2113.5L1095.8 2119.4L1083.6 2113.5L1068.2 2104.5L1062 2092.7L1068.2 2085.6ZM1151 2160L1178.6 2161.4L1198.7 2175.8L1199.6 2196.6L1178.6 2212.4L1151 2213.2L1134.7 2196.6L1130.9 2175.8L1151 2160Z" fill="#FF88E8" fill-rule="evenodd"/>
<path d="M1261.4 1727.2L1279.1 1739.6L1279.1 1760.4L1261.4 1774.8L1246.4 1760.4L1246.4 1739.6L1261.4 1727.2ZM1454.6 2048.6L1457.7 2051.2L1454.6 2053.6L1451.6 2051.2L1454.6 2048.6ZM1068.2 2088.4L1095.8 2091.2L1096.7 2092.7L1097.7 2113.5L1095.8 2115.7L1091.2 2113.5L1068.2 2100L1064.4 2092.7L1068.2 2088.4ZM1151 2161L1178.6 2162.3L1197.4 2175.8L1198.3 2196.6L1178.6 2211.4L1151 2212.2L1135.7 2196.6L1132.2 2175.8L1151 2161Z" fill="#FFB4F8" fill-rule="evenodd"/>
<path d="M1261.4 1728L1277.9 1739.6L1277.9 1760.4L1261.4 1773.8L1247.4 1760.4L1247.4 1739.6L1261.4 1728ZM1068.2 2091.1L1080 2092.7L1068.2 2095.4L1066.8 2092.7L1068.2 2091.1ZM1151 2162L1178.6 2163.2L1196.2 2175.8L1197 2196.6L1178.6 2210.4L1151 2211.1L1136.7 2196.6L1133.5 2175.8L1151 2162Z" fill="#FFDCE0" fill-rule="evenodd"/>
<path d="M918.6 1698.4L941.8 1697.8M941.8 1697.8L933.4 1701.8M941.8 1697.8L933.3 1694.3M918.5 1719.4L941.9 1718.3M941.9 1718.3L933.5 1722.5M941.9 1718.3L933.2 1714.9M918.4 1740.5L942 1738.8M942 1738.8L933.7 1743.2M942 1738.8L933.1 1735.6M918.3 1761.5L942.1 1759.3M942.1 1759.3L933.8 1764M942.1 1759.3L933.1 1756.2M918.3 1782.6L942.2 1779.8M942.2 1779.8L933.9 1784.7M942.2 1779.8L933 1776.9M918.6 1802.6L941.8 1801.3M941.8 1801.3L933.6 1805.6M941.8 1801.3L933.1 1798M919.2 1822.2L941.3 1823.3M941.3 1823.3L933 1826.5M941.3 1823.3L933.4 1819.3M919.7 1841.7L940.7 1845.3M940.7 1845.3L932.5 1847.4M940.7 1845.3L933.6 1840.5M920.3 1861.3L940.2 1867.2M940.2 1867.2L931.9 1868.3M940.2 1867.2L933.9 1861.8M920.8 1880.8L939.6 1889.2M939.6 1889.2L931.4 1889.2M939.6 1889.2L934.1 1883.1M921.8 1900.2L938.7 1911.4M938.7 1911.4L930.7 1910.1M938.7 1911.4L934.3 1904.6M923.3 1919.1L937.1 1934.1M937.1 1934.1L929.6 1930.8M937.1 1934.1L934.5 1926.4M924.9 1938L935.5 1956.7M935.5 1956.7L928.6 1951.6M935.5 1956.7L934.7 1948.1M926.5 1956.9L933.9 1979.3M933.9 1979.3L927.6 1972.3M933.9 1979.3L934.9 1969.9M928.1 1975.8L932.3 2002M932.3 2002L926.5 1993.1M932.3 2002L935 1991.7M929.6 1994.8L930.9 2024.5M930.9 2024.5L925.6 2013.9M930.9 2024.5L935.2 2013.4M929.4 2014.8L931 2046.1M931 2046.1L925.6 2035.3M931 2046.1L935.3 2034.9M929.3 2034.8L931.1 2067.6M931.1 2067.6L925.6 2056.9M931.1 2067.6L935.4 2056.4M929.2 2054.8L931.2 2089.1M931.2 2089.1L925.7 2078.5M931.2 2089.1L935.5 2077.9M929.1 2074.8L931.4 2110.7M931.4 2110.7L925.8 2100.1M931.4 2110.7L935.5 2099.4M928.9 2094.8L931.5 2132.2M931.5 2132.2L925.9 2121.6M931.5 2132.2L935.6 2121M929.4 2115.6L931 2153M931 2153L925.7 2142.2M931 2153L935.4 2141.8M930 2136.7L930.4 2173.4M930.4 2173.4L925.4 2162.5M930.4 2173.4L935.2 2162.4M930.7 2157.7L929.8 2193.9M929.8 2193.9L925.2 2182.8M929.8 2193.9L934.9 2183.1M931.3 2178.8L929.1 2214.4M929.1 2214.4L924.9 2203.2M929.1 2214.4L934.7 2203.8M932 2199.8L928.5 2234.9M928.5 2234.9L924.7 2223.5M928.5 2234.9L934.4 2224.5M946.2 1698.3L969.4 1697.9M969.4 1697.9L961 1701.8M969.4 1697.9L960.9 1694.3M946.1 1719.3L969.5 1718.4M969.5 1718.4L961.1 1722.5M969.5 1718.4L960.8 1714.9M946 1740.4L969.6 1738.9M969.6 1738.9L961.2 1743.3M969.6 1738.9L960.7 1735.6M945.9 1761.5L969.7 1759.3M969.7 1759.3L961.4 1764M969.7 1759.3L960.7 1756.3M945.9 1782.6L969.8 1779.8M969.8 1779.8L961.5 1784.7M969.8 1779.8L960.6 1776.9M946.2 1802.7L969.5 1801.2M969.5 1801.2L961.2 1805.6M969.5 1801.2L960.7 1798M946.7 1822.3L969 1823.2M969 1823.2L960.7 1826.5M969 1823.2L961 1819.2M947.2 1841.9L968.5 1845.1M968.5 1845.1L960.2 1847.4M968.5 1845.1L961.2 1840.5M947.7 1861.5L967.9 1867.1M967.9 1867.1L959.6 1868.3M967.9 1867.1L961.5 1861.7M948.2 1881.1L967.4 1889M967.4 1889L959.1 1889.2M967.4 1889L961.7 1883M949.3 1900.5L966.4 1911.1M966.4 1911.1L958.4 1910M966.4 1911.1L961.9 1904.5M951.2 1919.5L964.4 1933.6M964.4 1933.6L957.3 1930.6M964.4 1933.6L961.9 1926.3M953.2 1938.6L962.5 1956.1M962.5 1956.1L956.2 1951.2M962.5 1956.1L961.9 1948.2M955.1 1957.6L960.5 1978.6M960.5 1978.6L955.1 1971.8M960.5 1978.6L962 1970.1M957.1 1976.7L958.5 2001.1M958.5 2001.1L954 1992.4M958.5 2001.1L962 1991.9M958.9 1995.8L956.8 2023.5M956.8 2023.5L953 2013M956.8 2023.5L962 2013.7M958.1 2015.7L957.5 2045.2M957.5 2045.2L952.9 2034.3M957.5 2045.2L962.5 2034.5M957.4 2035.6L958.2 2066.8M958.2 2066.8L953.1 2056M958.2 2066.8L962.8 2055.7M956.7 2055.5L959 2088.4M959 2088.4L953.3 2077.8M959 2088.4L963.1 2077.2M955.9 2075.4L959.7 2110.1M959.7 2110.1L953.7 2099.7M959.7 2110.1L963.4 2098.6M955.2 2095.3L960.4 2131.7M960.4 2131.7L954 2121.6M960.4 2131.7L963.7 2120.2M955.4 2116.1L960.2 2152.4M960.2 2152.4L953.9 2142.2M960.2 2152.4L963.6 2140.9M955.9 2137.2L959.7 2172.9M959.7 2172.9L953.7 2162.5M959.7 2172.9L963.4 2161.5M956.5 2158.3L959.2 2193.4M959.2 2193.4L953.5 2182.8M959.2 2193.4L963.2 2182.1M957 2179.4L958.7 2213.8M958.7 2213.8L953.3 2203.1M958.7 2213.8L963 2202.6M957.5 2200.4L958.2 2234.3M958.2 2234.3L953.1 2223.4M958.2 2234.3L962.8 2223.2M973.8 1698.2L997 1698M997 1698L988.6 1701.9M997 1698L988.5 1694.3M973.7 1719.3L997.1 1718.5M997.1 1718.5L988.7 1722.6M997.1 1718.5L988.4 1715M973.6 1740.4L997.2 1738.9M997.2 1738.9L988.8 1743.3M997.2 1738.9L988.4 1735.6M973.5 1761.5L997.3 1759.3M997.3 1759.3L989 1764M997.3 1759.3L988.3 1756.3M973.5 1782.6L997.4 1779.8M997.4 1779.8L989.1 1784.7M997.4 1779.8L988.2 1776.9M973.7 1802.7L997.1 1801.2M997.1 1801.2L988.8 1805.6M997.1 1801.2L988.3 1797.9M974.2 1822.3L996.6 1823.1M996.6 1823.1L988.3 1826.5M996.6 1823.1L988.6 1819.2M974.7 1842L996.2 1845M996.2 1845L987.8 1847.4M996.2 1845L988.8 1840.4M975.1 1861.6L995.7 1866.9M995.7 1866.9L987.3 1868.3M995.7 1866.9L989 1861.6M975.6 1881.3L995.3 1888.8M995.3 1888.8L986.8 1889.2M995.3 1888.8L989.3 1882.8M976.7 1900.8L994.1 1910.8M994.1 1910.8L986.1 1910M994.1 1910.8L989.4 1904.3M979.1 1920L991.8 1933.2M991.8 1933.2L985 1930.4M991.8 1933.2L989.3 1926.3M981.4 1939.2L989.4 1955.5M989.4 1955.5L983.8 1950.8M989.4 1955.5L989.2 1948.2M983.8 1958.4L987.1 1977.9M987.1 1977.9L982.7 1971.3M987.1 1977.9L989 1970.2M986.1 1977.5L984.7 2000.2M984.7 2000.2L981.5 1991.7M984.7 2000.2L988.9 1992.2M988.2 1996.8L982.7 2022.5M982.7 2022.5L980.5 2012.2M982.7 2022.5L988.9 2014M986.8 2016.6L984 2044.3M984 2044.3L980.5 2033.7M984 2044.3L989.5 2034.6M985.5 2036.4L985.4 2066M985.4 2066L980.6 2055.2M985.4 2066L990.2 2055.2M984.1 2056.2L986.7 2087.7M986.7 2087.7L980.9 2077.2M986.7 2087.7L990.7 2076.4M982.8 2076L988.1 2109.4M988.1 2109.4L981.5 2099.4M988.1 2109.4L991.2 2097.9M981.4 2095.8L989.4 2131.2M989.4 2131.2L982.2 2121.6M989.4 2131.2L991.8 2119.4M981.4 2116.6L989.4 2151.9M989.4 2151.9L982.2 2142.3M989.4 2151.9L991.8 2140.2M981.8 2137.7L989 2172.4M989 2172.4L982 2162.6M989 2172.4L991.6 2160.6M982.2 2158.8L988.6 2192.8M988.6 2192.8L981.8 2182.9M988.6 2192.8L991.4 2181.1M982.6 2179.9L988.2 2213.2M988.2 2213.2L981.6 2203.2M988.2 2213.2L991.2 2201.6M983 2201.1L987.8 2233.7M987.8 2233.7L981.4 2223.5M987.8 2233.7L991 2222.1M1001.4 1698.1L1024.6 1698.1M1024.6 1698.1L1016.1 1701.9M1024.6 1698.1L1016.2 1694.3M1001.3 1719.2L1024.7 1718.6M1024.7 1718.6L1016.3 1722.6M1024.7 1718.6L1016.1 1715M1001.2 1740.3L1024.8 1739M1024.8 1739L1016.4 1743.3M1024.8 1739L1016 1735.6M1001.1 1761.4L1024.9 1759.4M1024.9 1759.4L1016.6 1764M1024.9 1759.4L1015.9 1756.3M1001.1 1782.6L1025 1779.8M1025 1779.8L1016.7 1784.7M1025 1779.8L1015.8 1776.9M1001.3 1802.7L1024.7 1801.2M1024.7 1801.2L1016.4 1805.6M1024.7 1801.2L1015.9 1797.9M1001.7 1822.4L1024.3 1823M1024.3 1823L1016 1826.5M1024.3 1823L1016.2 1819.1M1002.1 1842.1L1023.9 1844.9M1023.9 1844.9L1015.5 1847.4M1023.9 1844.9L1016.4 1840.3M1002.5 1861.8L1023.5 1866.7M1023.5 1866.7L1015 1868.3M1023.5 1866.7L1016.6 1861.5M1003 1881.5L1023.1 1888.6M1023.1 1888.6L1014.6 1889.3M1023.1 1888.6L1016.9 1882.7M1004.2 1901.1L1021.8 1910.5M1021.8 1910.5L1013.8 1909.9M1021.8 1910.5L1016.9 1904.2M1007 1920.4L1019.1 1932.7M1019.1 1932.7L1012.6 1930.2M1019.1 1932.7L1016.7 1926.3M1009.7 1939.7L1016.4 1954.9M1016.4 1954.9L1011.4 1950.5M1016.4 1954.9L1016.4 1948.3M1012.4 1959.1L1013.7 1977.1M1013.7 1977.1L1010.3 1970.8M1013.7 1977.1L1016.1 1970.3M1015.1 1978.4L1010.9 1999.4M1010.9 1999.4L1009.1 1991M1010.9 1999.4L1015.9 1992.4M1017.5 1997.8L1008.6 2021.5M1008.6 2021.5L1008 2011.4M1008.6 2021.5L1015.7 2014.3M1015.5 2017.5L1010.5 2043.4M1010.5 2043.4L1008.1 2033.1M1010.5 2043.4L1016.6 2034.7M1013.6 2037.2L1012.5 2065.2M1012.5 2065.2L1008.3 2054.8M1012.5 2065.2L1017.4 2055.1M1011.6 2056.9L1014.4 2087M1014.4 2087L1008.5 2076.6M1014.4 2087L1018.3 2075.6M1009.6 2076.6L1016.4 2108.8M1016.4 2108.8L1009.4 2099.1M1016.4 2108.8L1018.9 2097.1M1007.7 2096.4L1018.4 2130.7M1018.4 2130.7L1010.4 2121.6M1018.4 2130.7L1019.8 2118.7M1007.4 2117.2L1018.6 2151.4M1018.6 2151.4L1010.6 2142.5M1018.6 2151.4L1019.8 2139.5M1007.7 2138.3L1018.3 2171.8M1018.3 2171.8L1010.4 2162.8M1018.3 2171.8L1019.7 2159.9M1008 2159.4L1018 2192.2M1018 2192.2L1010.2 2183.2M1018 2192.2L1019.5 2180.3M1008.3 2180.5L1017.8 2212.6M1017.8 2212.6L1010 2203.5M1017.8 2212.6L1019.3 2200.7M1008.6 2201.7L1017.5 2233.1M1017.5 2233.1L1009.8 2223.8M1017.5 2233.1L1019.2 2221.2M1029.1 1697.9L1052.2 1698.3M1052.2 1698.3L1043.7 1701.9M1052.2 1698.3L1043.8 1694.4M1029 1719.1L1052.3 1718.6M1052.3 1718.6L1043.8 1722.6M1052.3 1718.6L1043.7 1715M1028.9 1740.3L1052.4 1739M1052.4 1739L1044 1743.3M1052.4 1739L1043.6 1735.6M1028.8 1761.5L1052.5 1759.3M1052.5 1759.3L1044.2 1764M1052.5 1759.3L1043.5 1756.3M1028.7 1782.7L1052.5 1779.7M1052.5 1779.7L1044.3 1784.7M1052.5 1779.7L1043.3 1776.9M1028.9 1802.9L1052.3 1801M1052.3 1801L1044.1 1805.5M1052.3 1801L1043.5 1797.9M1029.2 1822.6L1052 1822.8M1052 1822.8L1043.7 1826.4M1052 1822.8L1043.7 1819M1029.6 1842.4L1051.6 1844.6M1051.6 1844.6L1043.2 1847.4M1051.6 1844.6L1043.9 1840.2M1029.9 1862.2L1051.3 1866.3M1051.3 1866.3L1042.8 1868.3M1051.3 1866.3L1044.2 1861.3M1030.3 1881.9L1051 1888.1M1051 1888.1L1042.4 1889.2M1051 1888.1L1044.4 1882.5M1031.6 1901.6L1049.6 1910M1049.6 1910L1041.7 1909.9M1049.6 1910L1044.4 1904M1034.5 1921L1046.7 1932.2M1046.7 1932.2L1040.4 1930.1M1046.7 1932.2L1044.1 1926.1M1037.4 1940.4L1043.8 1954.3M1043.8 1954.3L1039.2 1950.3M1043.8 1954.3L1043.7 1948.2M1040.3 1959.8L1040.9 1976.4M1040.9 1976.4L1038 1970.4M1040.9 1976.4L1043.4 1970.3M1043.3 1979.2L1038 1998.5M1038 1998.5L1036.8 1990.6M1038 1998.5L1043 1992.3M1045.8 1998.7L1035.4 2020.6M1035.4 2020.6L1035.7 2010.9M1035.4 2020.6L1042.8 2014.3M1043.5 2018.4L1037.7 2042.5M1037.7 2042.5L1035.9 2032.7M1037.7 2042.5L1043.8 2034.6M1041.3 2038.1L1040 2064.3M1040 2064.3L1036.2 2054.5M1040 2064.3L1044.7 2054.9M1039 2057.8L1042.3 2086.1M1042.3 2086.1L1036.5 2076.3M1042.3 2086.1L1045.7 2075.2M1036.7 2077.5L1044.5 2108M1044.5 2108L1037.1 2098.6M1044.5 2108L1046.5 2096.1M1034.4 2097.2L1046.8 2129.8M1046.8 2129.8L1038.4 2121.3M1046.8 2129.8L1047.5 2117.8M1034 2118L1047.3 2150.6M1047.3 2150.6L1038.6 2142.3M1047.3 2150.6L1047.7 2138.6M1034.1 2139L1047.2 2171.1M1047.2 2171.1L1038.5 2162.8M1047.2 2171.1L1047.5 2159.1M1034.2 2160.1L1047.1 2191.5M1047.1 2191.5L1038.4 2183.2M1047.1 2191.5L1047.4 2179.5M1034.3 2181.2L1047 2212M1047 2212L1038.3 2203.7M1047 2212L1047.3 2200M1034.4 2202.2L1046.9 2232.5M1046.9 2232.5L1038.2 2224.2M1046.9 2232.5L1047.2 2220.5M1056.8 1697.6L1079.6 1698.6M1079.6 1698.6L1071.1 1701.9M1079.6 1698.6L1071.4 1694.5M1056.7 1719L1079.7 1718.7M1079.7 1718.7L1071.4 1722.6M1079.7 1718.7L1071.3 1715.1M1056.7 1740.4L1079.8 1738.9M1079.8 1738.9L1071.6 1743.2M1079.8 1738.9L1071.1 1735.7M1056.6 1761.8L1079.8 1759M1079.8 1759L1071.8 1763.8M1079.8 1759L1070.9 1756.2M1056.5 1783.2L1079.9 1779.1M1079.9 1779.1L1072 1784.4M1079.9 1779.1L1070.7 1776.8M1056.6 1803.6L1079.8 1800.3M1079.8 1800.3L1071.9 1805.3M1079.8 1800.3L1070.8 1797.7M1056.8 1823.5L1079.6 1821.9M1079.6 1821.9L1071.5 1826.2M1079.6 1821.9L1071 1818.8M1057 1843.4L1079.4 1843.6M1079.4 1843.6L1071.2 1847.2M1079.4 1843.6L1071.3 1839.9M1057.2 1863.3L1079.3 1865.2M1079.3 1865.2L1070.9 1868.1M1079.3 1865.2L1071.5 1860.9M1057.4 1883.2L1079.1 1886.8M1079.1 1886.8L1070.6 1889.1M1079.1 1886.8L1071.7 1882M1058.4 1902.9L1078.1 1908.7M1078.1 1908.7L1069.9 1909.8M1078.1 1908.7L1071.8 1903.4M1060.8 1922.1L1075.6 1931M1075.6 1931L1068.8 1930.2M1075.6 1931L1071.7 1925.4M1063.2 1941.4L1073.2 1953.3M1073.2 1953.3L1067.6 1950.6M1073.2 1953.3L1071.5 1947.3M1065.6 1960.6L1070.8 1975.6M1070.8 1975.6L1066.5 1971M1070.8 1975.6L1071.3 1969.3M1068.1 1979.9L1068.4 1997.9M1068.4 1997.9L1065.3 1991.4M1068.4 1997.9L1071.2 1991.3M1070.2 1999.2L1066.2 2020.1M1066.2 2020.1L1064.3 2011.8M1066.2 2020.1L1071.1 2013.1M1068.8 2019.2L1067.6 2041.6M1067.6 2041.6L1064.4 2033.2M1067.6 2041.6L1071.7 2033.6M1067.4 2039.3L1069 2063.1M1069 2063.1L1064.6 2054.7M1069 2063.1L1072.3 2054.1M1066 2059.3L1070.4 2084.6M1070.4 2084.6L1064.7 2076.1M1070.4 2084.6L1072.9 2074.7M1064.6 2079.3L1071.8 2106.1M1071.8 2106.1L1064.8 2097.5M1071.8 2106.1L1073.6 2095.2M1063.2 2099.4L1073.2 2127.6M1073.2 2127.6L1065 2118.9M1073.2 2127.6L1074.2 2115.7M1062.6 2119.9L1073.8 2148.6M1073.8 2148.6L1065.3 2140.2M1073.8 2148.6L1074.4 2136.6M1062.3 2140.6L1074.2 2169.5M1074.2 2169.5L1065.5 2161.2M1074.2 2169.5L1074.5 2157.5M1061.9 2161.3L1074.5 2190.3M1074.5 2190.3L1065.7 2182.2M1074.5 2190.3L1074.6 2178.3M1061.6 2182L1074.9 2211.2M1074.9 2211.2L1065.9 2203.2M1074.9 2211.2L1074.8 2199.2M1061.2 2202.7L1075.2 2232M1075.2 2232L1066.1 2224.2M1075.2 2232L1074.9 2220M1084.6 1697.3L1107.1 1698.9M1107.1 1698.9L1098.6 1702M1107.1 1698.9L1099.1 1694.6M1084.5 1718.9L1107.1 1718.8M1107.1 1718.8L1098.9 1722.5M1107.1 1718.8L1098.8 1715.2M1084.5 1740.6L1107.2 1738.7M1107.2 1738.7L1099.2 1743.1M1107.2 1738.7L1098.6 1735.7M1084.4 1762.2L1107.2 1758.6M1107.2 1758.6L1099.5 1763.6M1107.2 1758.6L1098.3 1756.2M1084.4 1783.8L1107.3 1778.6M1107.3 1778.6L1099.7 1784.2M1107.3 1778.6L1098.1 1776.8M1084.4 1804.3L1107.3 1799.6M1107.3 1799.6L1099.7 1805M1107.3 1799.6L1098.1 1797.6M1084.4 1824.4L1107.2 1821.1M1107.2 1821.1L1099.4 1826M1107.2 1821.1L1098.4 1818.6M1084.4 1844.4L1107.2 1842.6M1107.2 1842.6L1099.2 1847M1107.2 1842.6L1098.6 1839.5M1084.4 1864.5L1107.2 1864.1M1107.2 1864.1L1099 1867.9M1107.2 1864.1L1098.8 1860.5M1084.4 1884.5L1107.2 1885.6M1107.2 1885.6L1098.7 1888.9M1107.2 1885.6L1099.1 1881.5M1085.2 1904.2L1106.5 1907.4M1106.5 1907.4L1098.2 1909.7M1106.5 1907.4L1099.2 1902.8M1087.1 1923.3L1104.5 1929.9M1104.5 1929.9L1097.1 1930.3M1104.5 1929.9L1099.2 1924.6M1089 1942.4L1102.6 1952.3M1102.6 1952.3L1096 1950.9M1102.6 1952.3L1099.3 1946.5M1091 1961.5L1100.7 1974.8M1100.7 1974.8L1095 1971.5M1100.7 1974.8L1099.3 1968.3M1092.9 1980.5L1098.8 1997.2M1098.8 1997.2L1093.9 1992.1M1098.8 1997.2L1099.3 1990.2M1094.6 1999.7L1097 2019.6M1097 2019.6L1092.9 2012.7M1097 2019.6L1099.4 2011.9M1094.1 2020.1L1097.5 2040.8M1097.5 2040.8L1092.9 2033.8M1097.5 2040.8L1099.6 2032.6M1093.6 2040.5L1098.1 2061.9M1098.1 2061.9L1092.9 2054.8M1098.1 2061.9L1099.9 2053.4M1093 2060.8L1098.6 2083.1M1098.6 2083.1L1092.9 2075.9M1098.6 2083.1L1100.2 2074.1M1092.5 2081.2L1099.1 2104.3M1099.1 2104.3L1093 2096.9M1099.1 2104.3L1100.5 2094.8M1092 2101.6L1099.7 2125.5M1099.7 2125.5L1093 2118M1099.7 2125.5L1100.7 2115.5M1091.2 2121.9L1100.4 2146.7M1100.4 2146.7L1093 2139.1M1100.4 2146.7L1101.1 2136.1M1090.4 2142.2L1101.2 2167.9M1101.2 2167.9L1093.1 2160.3M1101.2 2167.9L1101.4 2156.8M1089.6 2162.5L1102 2189.1M1102 2189.1L1093.2 2181.4M1102 2189.1L1101.8 2177.4M1088.8 2182.8L1102.8 2210.3M1102.8 2210.3L1093.5 2202.8M1102.8 2210.3L1102.2 2198.4M1088.1 2203.2L1103.6 2231.6M1103.6 2231.6L1094 2224.3M1103.6 2231.6L1102.6 2219.6M1112.3 1697L1134.5 1699.2M1134.5 1699.2L1126.1 1702M1134.5 1699.2L1126.8 1694.8M1112.3 1718.9L1134.6 1718.9M1134.6 1718.9L1126.4 1722.5M1134.6 1718.9L1126.4 1715.2M1112.3 1740.7L1134.6 1738.6M1134.6 1738.6L1126.8 1743M1134.6 1738.6L1126.1 1735.7M1112.2 1762.5L1134.6 1758.3M1134.6 1758.3L1127.1 1763.5M1134.6 1758.3L1125.7 1756.2M1112.2 1784.3L1134.6 1778M1134.6 1778L1127.5 1784M1134.6 1778L1125.4 1776.7M1112.1 1805.1L1134.7 1798.8M1134.7 1798.8L1127.5 1804.8M1134.7 1798.8L1125.5 1797.4M1112 1825.2L1134.9 1820.2M1134.9 1820.2L1127.3 1825.8M1134.9 1820.2L1125.7 1818.3M1111.8 1845.4L1135 1841.6M1135 1841.6L1127.2 1846.7M1135 1841.6L1125.9 1839.2M1111.7 1865.6L1135.2 1862.9M1135.2 1862.9L1127 1867.7M1135.2 1862.9L1126.1 1860.1M1111.5 1885.8L1135.3 1884.3M1135.3 1884.3L1126.9 1888.7M1135.3 1884.3L1126.4 1881M1112 1905.5L1134.9 1906.1M1134.9 1906.1L1126.4 1909.6M1134.9 1906.1L1126.6 1902.2M1113.4 1924.4L1133.4 1928.7M1133.4 1928.7L1125.4 1930.4M1133.4 1928.7L1126.8 1923.9M1114.8 1943.4L1132 1951.3M1132 1951.3L1124.4 1951.2M1132 1951.3L1127 1945.6M1116.3 1962.3L1130.6 1973.9M1130.6 1973.9L1123.4 1972M1130.6 1973.9L1127.2 1967.4M1117.7 1981.2L1129.2 1996.6M1129.2 1996.6L1122.5 1992.8M1129.2 1996.6L1127.5 1989.1M1119 2000.2L1127.8 2019.1M1127.8 2019.1L1121.5 2013.6M1127.8 2019.1L1127.7 2010.8M1119.4 2020.9L1127.5 2039.9M1127.5 2039.9L1121.4 2034.3M1127.5 2039.9L1127.6 2031.7M1119.7 2041.6L1127.1 2060.8M1127.1 2060.8L1121.3 2055M1127.1 2060.8L1127.5 2052.6M1120.1 2062.3L1126.8 2081.6M1126.8 2081.6L1121.2 2075.7M1126.8 2081.6L1127.5 2073.5M1120.4 2083L1126.4 2102.4M1126.4 2102.4L1121.1 2096.3M1126.4 2102.4L1127.4 2094.4M1120.7 2103.7L1126.1 2123.3M1126.1 2123.3L1121 2117M1126.1 2123.3L1127.3 2115.3M1119.9 2123.8L1127 2144.7M1127 2144.7L1121 2138.2M1127 2144.7L1127.8 2135.9M1118.6 2143.8L1128.2 2166.3M1128.2 2166.3L1121 2159.6M1128.2 2166.3L1128.4 2156.5M1117.4 2163.7L1129.5 2187.9M1129.5 2187.9L1121.1 2181M1129.5 2187.9L1129 2177.1M1116.1 2183.7L1130.7 2209.5M1130.7 2209.5L1121.2 2202.4M1130.7 2209.5L1129.6 2197.7M1114.9 2203.6L1131.9 2231.1M1131.9 2231.1L1122 2224.4M1131.9 2231.1L1130.3 2219.2M1140.8 1696.9L1161.3 1699.3M1161.3 1699.3L1153.4 1701.7M1161.3 1699.3L1154.2 1695.1M1140.6 1718.9L1161.4 1718.9M1161.4 1718.9L1153.8 1722.3M1161.4 1718.9L1153.8 1715.5M1140.4 1740.8L1161.6 1738.5M1161.6 1738.5L1154.3 1742.8M1161.6 1738.5L1153.5 1735.9M1140.2 1762.8L1161.8 1758M1161.8 1758L1154.7 1763.3M1161.8 1758L1153.1 1756.3M1140.1 1784.7L1162 1777.6M1162 1777.6L1155.1 1783.8M1162 1777.6L1152.8 1776.7M1139.8 1805.6L1162.2 1798.3M1162.2 1798.3L1155.2 1804.6M1162.2 1798.3L1152.8 1797.3M1139.5 1825.9L1162.5 1819.5M1162.5 1819.5L1155.2 1825.6M1162.5 1819.5L1153.1 1818.1M1139.3 1846.3L1162.8 1840.7M1162.8 1840.7L1155.1 1846.6M1162.8 1840.7L1153.3 1838.9M1139 1866.6L1163.1 1861.9M1163.1 1861.9L1155 1867.5M1163.1 1861.9L1153.5 1859.7M1138.7 1887L1163.3 1883.1M1163.3 1883.1L1155 1888.5M1163.3 1883.1L1153.7 1880.5M1138.9 1906.7L1163.1 1904.9M1163.1 1904.9L1154.6 1909.5M1163.1 1904.9L1154 1901.6M1139.9 1925.6L1162.1 1927.6M1162.1 1927.6L1153.7 1930.4M1162.1 1927.6L1154.3 1923.2M1141 1944.4L1161.1 1950.3M1161.1 1950.3L1152.8 1951.4M1161.1 1950.3L1154.7 1944.9M1142 1963.2L1160.1 1973M1160.1 1973L1151.9 1972.4M1160.1 1973L1155 1966.5M1143 1982L1159 1995.7M1159 1995.7L1150.9 1993.3M1159 1995.7L1155.4 1988.1M1144 2001L1158 2018.3M1158 2018.3L1150.1 2014.2M1158 2018.3L1155.7 2009.7M1145.1 2022L1157 2038.8M1157 2038.8L1149.9 2034.6M1157 2038.8L1155.4 2030.8M1146.1 2043L1155.9 2059.4M1155.9 2059.4L1149.7 2055M1155.9 2059.4L1155 2051.8M1147.1 2064L1154.9 2080M1154.9 2080L1149.5 2075.4M1154.9 2080L1154.7 2072.9M1148.2 2084.9L1153.9 2100.5M1153.9 2100.5L1149.3 2095.8M1153.9 2100.5L1154.3 2093.9M1149.2 2105.9L1152.9 2121.1M1152.9 2121.1L1149.1 2116.1M1152.9 2121.1L1154 2114.9M1148.3 2125.9L1153.7 2142.6M1153.7 2142.6L1149 2137.4M1153.7 2142.6L1154.5 2135.6M1146.9 2145.6L1155.1 2164.5M1155.1 2164.5L1149.1 2158.9M1155.1 2164.5L1155.2 2156.2M1145.5 2165.3L1156.6 2186.3M1156.6 2186.3L1149.1 2180.5M1156.6 2186.3L1155.9 2176.8M1144 2185L1158 2208.2M1158 2208.2L1149.1 2202M1158 2208.2L1156.7 2197.4M1142.6 2204.7L1159.4 2230M1159.4 2230L1149.3 2223.6M1159.4 2230L1157.4 2218.2M1172.1 1697.5L1185.1 1698.7M1185.1 1698.7L1180.2 1700.4M1185.1 1698.7L1180.6 1696.2M1171.1 1719.2L1186.1 1718.5M1186.1 1718.5L1180.8 1721.2M1186.1 1718.5L1180.5 1716.3M1170 1740.9L1187.2 1738.3M1187.2 1738.3L1181.4 1742.1M1187.2 1738.3L1180.5 1736.5M1169 1762.7L1188.2 1758.1M1188.2 1758.1L1181.9 1762.9M1188.2 1758.1L1180.5 1756.7M1168 1784.4L1189.3 1777.9M1189.3 1777.9L1182.5 1783.8M1189.3 1777.9L1180.4 1776.8M1167.4 1805.4L1189.8 1798.5M1189.8 1798.5L1182.7 1804.7M1189.8 1798.5L1180.5 1797.4M1167.1 1826L1190.1 1819.5M1190.1 1819.5L1182.8 1825.6M1190.1 1819.5L1180.7 1818.1M1166.9 1846.5L1190.4 1840.4M1190.4 1840.4L1182.8 1846.5M1190.4 1840.4L1180.8 1838.8M1166.6 1867.1L1190.7 1861.4M1190.7 1861.4L1182.8 1867.4M1190.7 1861.4L1180.9 1859.6M1166.3 1887.7L1190.9 1882.4M1190.9 1882.4L1182.8 1888.3M1190.9 1882.4L1181.1 1880.3M1166.5 1907.7L1190.8 1903.9M1190.8 1903.9L1182.5 1909.2M1190.8 1903.9L1181.3 1901.3M1167.5 1926.7L1189.8 1926.5M1189.8 1926.5L1181.7 1930.2M1189.8 1926.5L1181.6 1922.9M1168.4 1945.7L1188.8 1949M1188.8 1949L1180.8 1951.1M1188.8 1949L1181.9 1944.5M1169.4 1964.7L1187.8 1971.6M1187.8 1971.6L1180 1972M1187.8 1971.6L1182.2 1966.1M1170.4 1983.6L1186.8 1994.1M1186.8 1994.1L1179.1 1993M1186.8 1994.1L1182.5 1987.6M1171.4 2002.8L1185.9 2016.5M1185.9 2016.5L1178.3 2013.9M1185.9 2016.5L1182.8 2009.2M1172.4 2023.9L1184.9 2037M1184.9 2037L1178.2 2034.2M1184.9 2037L1182.4 2030.2M1173.3 2045L1183.9 2057.4M1183.9 2057.4L1178 2054.6M1183.9 2057.4L1182.1 2051.2M1174.3 2066.1L1182.9 2077.9M1182.9 2077.9L1177.9 2074.9M1182.9 2077.9L1181.7 2072.2M1175.3 2087.2L1181.9 2098.3M1181.9 2098.3L1177.7 2095.3M1181.9 2098.3L1181.3 2093.2M1176.3 2108.3L1181 2118.7M1181 2118.7L1177.5 2115.7M1181 2118.7L1180.9 2114.2M1176.1 2128.5L1181.2 2140.1M1181.2 2140.1L1177.4 2136.7M1181.2 2140.1L1181.2 2135M1175.5 2148.4L1181.8 2161.7M1181.8 2161.7L1177.3 2157.9M1181.8 2161.7L1181.6 2155.8M1174.9 2168.3L1182.3 2183.3M1182.3 2183.3L1177.2 2179M1182.3 2183.3L1182.1 2176.6M1174.3 2188.2L1182.9 2204.9M1182.9 2204.9L1177.1 2200.2M1182.9 2204.9L1182.5 2197.4M1173.7 2208.2L1183.5 2226.6M1183.5 2226.6L1176.9 2221.4M1183.5 2226.6L1182.9 2218.2M1203.5 1698L1208.9 1698.2M1208.9 1698.2L1206.2 1699.3M1208.9 1698.2L1206.2 1696.9M1201.6 1719.5L1210.9 1718.2M1210.9 1718.2L1207.7 1720.2M1210.9 1718.2L1207.3 1717.2M1199.7 1741.1L1212.8 1738.2M1212.8 1738.2L1208.4 1741.4M1212.8 1738.2L1207.5 1737.1M1197.7 1762.6L1214.7 1758.2M1214.7 1758.2L1209.2 1762.6M1214.7 1758.2L1207.8 1757.1M1195.8 1784.1L1216.6 1778.2M1216.6 1778.2L1210 1783.8M1216.6 1778.2L1208.1 1777M1195 1805.2L1217.4 1798.7M1217.4 1798.7L1210.3 1804.7M1217.4 1798.7L1208.2 1797.4M1194.7 1826L1217.7 1819.5M1217.7 1819.5L1210.4 1825.6M1217.7 1819.5L1208.2 1818.1M1194.5 1846.8L1218 1840.2M1218 1840.2L1210.5 1846.4M1218 1840.2L1208.3 1838.8M1194.2 1867.6L1218.3 1860.9M1218.3 1860.9L1210.6 1867.3M1218.3 1860.9L1208.4 1859.4M1193.9 1888.4L1218.5 1881.6M1218.5 1881.6L1210.6 1888.1M1218.5 1881.6L1208.4 1880.1M1194.1 1908.6L1218.4 1903M1218.4 1903L1210.4 1909M1218.4 1903L1208.6 1901.1M1195 1927.8L1217.4 1925.4M1217.4 1925.4L1209.6 1929.9M1217.4 1925.4L1208.8 1922.6M1195.9 1946.9L1216.5 1947.8M1216.5 1947.8L1208.9 1950.8M1216.5 1947.8L1209.1 1944.1M1196.9 1966.1L1215.6 1970.1M1215.6 1970.1L1208.1 1971.7M1215.6 1970.1L1209.4 1965.6M1197.8 1985.2L1214.6 1992.5M1214.6 1992.5L1207.3 1992.6M1214.6 1992.5L1209.7 1987.1M1198.7 2004.5L1213.7 2014.8M1213.7 2014.8L1206.6 2013.5M1213.7 2014.8L1209.9 2008.6M1199.7 2025.8L1212.8 2035.1M1212.8 2035.1L1206.5 2033.8M1212.8 2035.1L1209.5 2029.6M1200.6 2047L1211.8 2055.4M1211.8 2055.4L1206.4 2054.2M1211.8 2055.4L1209.1 2050.5M1201.5 2068.2L1210.9 2075.7M1210.9 2075.7L1206.3 2074.5M1210.9 2075.7L1208.7 2071.5M1202.5 2089.4L1210 2096.1M1210 2096.1L1206.1 2094.9M1210 2096.1L1208.3 2092.4M1203.4 2110.6L1209 2116.4M1209 2116.4L1206 2115.2M1209 2116.4L1207.9 2113.4M1203.8 2131L1208.6 2137.5M1208.6 2137.5L1205.8 2135.9M1208.6 2137.5L1207.9 2134.4M1204.1 2151.2L1208.4 2158.9M1208.4 2158.9L1205.5 2156.8M1208.4 2158.9L1208 2155.4M1204.3 2171.4L1208.1 2180.3M1208.1 2180.3L1205.3 2177.6M1208.1 2180.3L1208.2 2176.4M1204.6 2191.5L1207.8 2201.7M1207.8 2201.7L1205 2198.5M1207.8 2201.7L1208.3 2197.4M1204.9 2211.7L1207.6 2223.1M1207.6 2223.1L1204.7 2219.3M1207.6 2223.1L1208.4 2218.5M1234.9 1698.5L1232.8 1697.7M1232.8 1697.7L1235.8 1697.6M1232.8 1697.7L1234.8 1699.8M1232.1 1719.9L1235.6 1717.9M1235.6 1717.9L1233.8 1720.3M1235.6 1717.9L1232.6 1718.2M1229.3 1741.2L1238.4 1738.1M1238.4 1738.1L1235.5 1740.7M1238.4 1738.1L1234.5 1737.8M1226.5 1762.5L1241.1 1758.3M1241.1 1758.3L1236.5 1762.2M1241.1 1758.3L1235.1 1757.5M1223.7 1783.8L1243.9 1778.6M1243.9 1778.6L1237.4 1783.8M1243.9 1778.6L1235.7 1777.2M1222.6 1804.9L1245 1799M1245 1799L1237.8 1804.8M1245 1799L1235.9 1797.5M1222.3 1826L1245.3 1819.4M1245.3 1819.4L1238 1825.6M1245.3 1819.4L1235.8 1818.1M1222.1 1847L1245.6 1839.9M1245.6 1839.9L1238.1 1846.4M1245.6 1839.9L1235.8 1838.7M1221.8 1868.1L1245.9 1860.4M1245.9 1860.4L1238.3 1867.1M1245.9 1860.4L1235.8 1859.3M1221.5 1889.2L1246.1 1880.9M1246.1 1880.9L1238.5 1887.9M1246.1 1880.9L1235.8 1879.9M1221.7 1909.6L1246 1902M1246 1902L1238.3 1908.8M1246 1902L1235.9 1900.8M1222.5 1928.9L1245.1 1924.3M1245.1 1924.3L1237.6 1929.6M1245.1 1924.3L1236.1 1922.3M1223.4 1948.2L1244.2 1946.5M1244.2 1946.5L1236.9 1950.5M1244.2 1946.5L1236.3 1943.7M1224.3 1967.5L1243.3 1968.7M1243.3 1968.7L1236.2 1971.4M1243.3 1968.7L1236.6 1965.2M1225.2 1986.8L1242.4 1990.9M1242.4 1990.9L1235.5 1992.2M1242.4 1990.9L1236.8 1986.6M1226.1 2006.3L1241.6 2013M1241.6 2013L1234.8 2013.1M1241.6 2013L1237 2008M1227 2027.6L1240.7 2033.2M1240.7 2033.2L1234.8 2033.4M1240.7 2033.2L1236.6 2028.9M1227.9 2049L1239.8 2053.4M1239.8 2053.4L1234.7 2053.7M1239.8 2053.4L1236.2 2049.9M1228.7 2070.3L1238.9 2073.6M1238.9 2073.6L1234.6 2074.1M1238.9 2073.6L1235.7 2070.8M1229.6 2091.6L1238 2093.8M1238 2093.8L1234.6 2094.4M1238 2093.8L1235.3 2091.7M1230.5 2113L1237.1 2114M1237.1 2114L1234.2 2114.8M1237.1 2114L1234.6 2112.4M1231.6 2133.6L1236.1 2135M1236.1 2135L1233.1 2135.3M1236.1 2135L1233.8 2133M1232.7 2154L1235 2156.1M1235 2156.1L1232.1 2155.1M1235 2156.1L1233.8 2153.3M1233.8 2174.4L1233.8 2177.3M1233.8 2177.3L1232.6 2174.5M1233.8 2177.3L1235 2174.5M1234.9 2194.8L1232.7 2198.4M1232.7 2198.4L1233.1 2195.4M1232.7 2198.4L1235.2 2196.7M1236 2215.2L1231.6 2219.6M1231.6 2219.6L1232.7 2216.8M1231.6 2219.6L1234.4 2218.5M1265.9 1699.2L1257 1697M1257 1697L1260.6 1696.3M1257 1697L1259.9 1699.3M1262.6 1720.4L1260.3 1717.4M1260.3 1717.4L1262.9 1718.8M1260.3 1717.4L1261 1720.3M1259.2 1741.6L1263.6 1737.7M1263.6 1737.7L1262.4 1740.4M1263.6 1737.7L1260.7 1738.6M1255.9 1762.8L1266.9 1758M1266.9 1758L1263.7 1761.6M1266.9 1758L1262.1 1758M1252.6 1784L1270.3 1778.4M1270.3 1778.4L1264.7 1783.3M1270.3 1778.4L1262.9 1777.6M1251.2 1805.1L1271.6 1798.8M1271.6 1798.8L1265.2 1804.4M1271.6 1798.8L1263.1 1797.8M1250.8 1826.3L1272.1 1819.2M1272.1 1819.2L1265.4 1825.2M1272.1 1819.2L1263.1 1818.3M1250.3 1847.4L1272.5 1839.6M1272.5 1839.6L1265.7 1846M1272.5 1839.6L1263.1 1838.8M1249.9 1868.5L1272.9 1860M1272.9 1860L1265.9 1866.9M1272.9 1860L1263.1 1859.4M1249.5 1889.7L1273.4 1880.4M1273.4 1880.4L1266.1 1887.7M1273.4 1880.4L1263.1 1879.9M1249.5 1910.2L1273.3 1901.4M1273.3 1901.4L1266.1 1908.5M1273.3 1901.4L1263.2 1900.7M1250.3 1929.7L1272.6 1923.4M1272.6 1923.4L1265.4 1929.3M1272.6 1923.4L1263.4 1922.1M1251.1 1949.3L1271.8 1945.4M1271.8 1945.4L1264.8 1950.2M1271.8 1945.4L1263.6 1943.5M1251.9 1968.8L1271 1967.5M1271 1967.5L1264.2 1971M1271 1967.5L1263.8 1964.8M1252.7 1988.3L1270.2 1989.5M1270.2 1989.5L1263.6 1991.9M1270.2 1989.5L1264 1986.2M1253.5 2008L1269.4 2011.4M1269.4 2011.4L1263 2012.7M1269.4 2011.4L1264.1 2007.5M1254.3 2029.4L1268.5 2031.5M1268.5 2031.5L1263 2033M1268.5 2031.5L1263.7 2028.4M1255.2 2050.8L1267.7 2051.6M1267.7 2051.6L1263 2053.3M1267.7 2051.6L1263.2 2049.3M1256.1 2072.3L1266.8 2071.7M1266.8 2071.7L1263 2073.6M1266.8 2071.7L1262.8 2070.1M1256.9 2093.7L1265.9 2091.8M1265.9 2091.8L1262.9 2093.9M1265.9 2091.8L1262.3 2091M1257.8 2115.1L1265 2111.9M1265 2111.9L1262.9 2114.2M1265 2111.9L1261.9 2111.9M1259.4 2135.9L1263.5 2132.6M1263.5 2132.6L1262.1 2135.3M1263.5 2132.6L1260.6 2133.4M1261.1 2156.5L1261.7 2153.6M1261.7 2153.6L1262.4 2156.6M1261.7 2153.6L1260 2156.1M1262.9 2177L1259.9 2174.6M1259.9 2174.6L1262.8 2175.4M1259.9 2174.6L1261.3 2177.3M1264.7 2197.6L1258.2 2195.6M1258.2 2195.6L1261.1 2195.2M1258.2 2195.6L1260.4 2197.6M1266.5 2218.1L1256.4 2216.6M1256.4 2216.6L1260.3 2215.5M1256.4 2216.6L1259.8 2218.8M1295.5 1700.3L1282.5 1695.9M1282.5 1695.9L1288 1695.4M1282.5 1695.9L1286.6 1699.6M1293 1721.7L1285 1716M1285 1716L1288.9 1716.8M1285 1716L1287 1719.4M1290.5 1743.2L1287.6 1736.1M1287.6 1736.1L1289.8 1738.2M1287.6 1736.1L1287.5 1739.2M1288 1764.6L1290.1 1756.2M1290.1 1756.2L1290.7 1759.6M1290.1 1756.2L1287.9 1758.9M1285.4 1786L1292.6 1776.3M1292.6 1776.3L1291.6 1781M1292.6 1776.3L1288.4 1778.7M1283.8 1806.9L1294.2 1797M1294.2 1797L1292 1802.3M1294.2 1797L1288.8 1798.9M1282.6 1827.5L1295.5 1817.9M1295.5 1817.9L1292.3 1823.5M1295.5 1817.9L1289.2 1819.3M1281.4 1848.1L1296.7 1838.8M1296.7 1838.8L1292.6 1844.7M1296.7 1838.8L1289.6 1839.7M1280.1 1868.8L1297.9 1859.8M1297.9 1859.8L1292.9 1865.9M1297.9 1859.8L1289.9 1860.2M1278.9 1889.4L1299.1 1880.7M1299.1 1880.7L1293.1 1887.1M1299.1 1880.7L1290.3 1880.6M1278.4 1909.7L1299.7 1901.9M1299.7 1901.9L1293.2 1908.2M1299.7 1901.9L1290.6 1901.3M1278.9 1929.6L1299.2 1923.6M1299.2 1923.6L1292.7 1929.1M1299.2 1923.6L1290.8 1922.5M1279.4 1949.5L1298.7 1945.2M1298.7 1945.2L1292.3 1949.9M1298.7 1945.2L1290.9 1943.6M1279.9 1969.3L1298.2 1966.9M1298.2 1966.9L1291.9 1970.8M1298.2 1966.9L1291.1 1964.8M1280.4 1989.2L1297.6 1988.6M1297.6 1988.6L1291.4 1991.6M1297.6 1988.6L1291.2 1986M1280.9 2009.2L1297.1 2010.1M1297.1 2010.1L1291 2012.4M1297.1 2010.1L1291.3 2007.1M1281.9 2030.7L1296.1 2030.2M1296.1 2030.2L1291 2032.7M1296.1 2030.2L1290.9 2028M1282.9 2052.2L1295.2 2050.2M1295.2 2050.2L1291 2052.9M1295.2 2050.2L1290.4 2048.9M1283.8 2073.7L1294.2 2070.3M1294.2 2070.3L1291 2073.2M1294.2 2070.3L1289.9 2069.8M1284.8 2095.2L1293.3 2090.3M1293.3 2090.3L1290.9 2093.5M1293.3 2090.3L1289.4 2090.7M1285.7 2116.6L1292.3 2110.4M1292.3 2110.4L1290.9 2113.7M1292.3 2110.4L1288.9 2111.6M1287.3 2137.3L1290.8 2131.2M1290.8 2131.2L1290.5 2134.2M1290.8 2131.2L1288.3 2133M1289 2157.8L1289.1 2152.3M1289.1 2152.3L1290.2 2155.1M1289.1 2152.3L1287.8 2155.1M1290.7 2178.2L1287.4 2173.4M1287.4 2173.4L1289.9 2175M1287.4 2173.4L1287.9 2176.4M1292.4 2198.6L1285.6 2194.5M1285.6 2194.5L1288.8 2194.9M1285.6 2194.5L1287.4 2197.1M1294.1 2219.1L1283.9 2215.6M1283.9 2215.6L1288.2 2215.2M1283.9 2215.6L1287.1 2218.5M1325.2 1701.4L1308.1 1694.8M1308.1 1694.8L1315.4 1694.4M1308.1 1694.8L1313.2 1700M1323.4 1723.1L1309.8 1714.7M1309.8 1714.7L1316.2 1715.5M1309.8 1714.7L1313.4 1720M1321.7 1744.7L1311.5 1734.5M1311.5 1734.5L1316.9 1736.6M1311.5 1734.5L1313.6 1739.9M1320 1766.4L1313.2 1754.4M1313.2 1754.4L1317.7 1757.7M1313.2 1754.4L1313.8 1759.9M1318.3 1788.1L1315 1774.3M1315 1774.3L1318.4 1778.8M1315 1774.3L1313.9 1779.9M1316.4 1808.7L1316.9 1795.2M1316.9 1795.2L1318.9 1800.2M1316.9 1795.2L1314.5 1800.1M1314.4 1828.8L1318.9 1816.7M1318.9 1816.7L1319.2 1821.8M1318.9 1816.7L1315.3 1820.4M1312.4 1848.9L1320.9 1838.1M1320.9 1838.1L1319.5 1843.4M1320.9 1838.1L1316 1840.7M1310.4 1869L1322.9 1859.5M1322.9 1859.5L1319.8 1865M1322.9 1859.5L1316.8 1861M1308.4 1889.1L1324.9 1881M1324.9 1881L1320.2 1886.6M1324.9 1881L1317.5 1881.3M1307.2 1909.2L1326 1902.4M1326 1902.4L1320.3 1907.9M1326 1902.4L1318 1901.8M1307.5 1929.5L1325.8 1923.7M1325.8 1923.7L1320 1928.8M1325.8 1923.7L1318.1 1922.8M1307.7 1949.7L1325.6 1945M1325.6 1945L1319.8 1949.6M1325.6 1945L1318.3 1943.8M1307.9 1969.9L1325.3 1966.3M1325.3 1966.3L1319.5 1970.5M1325.3 1966.3L1318.4 1964.8M1308.1 1990.1L1325.1 1987.6M1325.1 1987.6L1319.3 1991.3M1325.1 1987.6L1318.5 1985.8M1308.4 2010.5L1324.8 2008.9M1324.8 2008.9L1319.1 2012.1M1324.8 2008.9L1318.6 2006.8M1309.5 2032L1323.8 2028.9M1323.8 2028.9L1319.1 2032.3M1323.8 2028.9L1318 2027.7M1310.5 2053.5L1322.7 2048.9M1322.7 2048.9L1319 2052.6M1322.7 2048.9L1317.5 2048.6M1311.6 2075.1L1321.7 2068.9M1321.7 2068.9L1319 2072.8M1321.7 2068.9L1317 2069.5M1312.6 2096.6L1320.6 2088.9M1320.6 2088.9L1318.9 2093M1320.6 2088.9L1316.4 2090.4M1313.7 2118.1L1319.5 2108.9M1319.5 2108.9L1318.9 2113.2M1319.5 2108.9L1315.9 2111.3M1315.2 2138.7L1318 2129.8M1318 2129.8L1318.5 2133.5M1318 2129.8L1315.6 2132.6M1316.8 2159.1L1316.4 2151M1316.4 2151L1317.9 2153.9M1316.4 2151L1315.3 2154M1318.5 2179.4L1314.8 2172.3M1314.8 2172.3L1317.3 2174.3M1314.8 2172.3L1315 2175.5M1320.1 2199.7L1313.1 2193.5M1313.1 2193.5L1316.7 2194.6M1313.1 2193.5L1314.7 2196.9M1321.7 2220L1311.5 2214.7M1311.5 2214.7L1316.1 2215M1311.5 2214.7L1314.4 2218.3M1354.8 1702.5L1333.6 1693.7M1333.6 1693.7L1342.8 1693.5M1333.6 1693.7L1339.9 1700.4M1353.9 1724.4L1334.6 1713.3M1334.6 1713.3L1343.4 1714.2M1334.6 1713.3L1339.8 1720.5M1353 1746.3L1335.5 1733M1335.5 1733L1344 1735M1335.5 1733L1339.7 1740.7M1352 1768.2L1336.4 1752.6M1336.4 1752.6L1344.7 1755.8M1336.4 1752.6L1339.6 1760.9M1351.1 1790.1L1337.3 1772.2M1337.3 1772.2L1345.3 1776.5M1337.3 1772.2L1339.5 1781M1348.9 1810.4L1339.5 1793.5M1339.5 1793.5L1345.7 1798.1M1339.5 1793.5L1340.2 1801.2M1346.2 1830L1342.3 1815.4M1342.3 1815.4L1346.1 1820.1M1342.3 1815.4L1341.3 1821.4M1343.4 1849.6L1345 1837.4M1345 1837.4L1346.4 1842.1M1345 1837.4L1342.5 1841.6M1340.6 1869.2L1347.8 1859.3M1347.8 1859.3L1346.8 1864.1M1347.8 1859.3L1343.6 1861.8M1337.8 1888.8L1350.6 1881.3M1350.6 1881.3L1347.2 1886.1M1350.6 1881.3L1344.7 1882M1336.1 1908.7L1352.3 1902.9M1352.3 1902.9L1347.4 1907.7M1352.3 1902.9L1345.5 1902.4M1336 1929.3L1352.4 1923.8M1352.4 1923.8L1347.3 1928.5M1352.4 1923.8L1345.5 1923.2M1336 1949.9L1352.5 1944.8M1352.5 1944.8L1347.3 1949.3M1352.5 1944.8L1345.6 1944M1335.9 1970.5L1352.5 1965.7M1352.5 1965.7L1347.2 1970.2M1352.5 1965.7L1345.7 1964.8M1335.9 1991.1L1352.6 1986.7M1352.6 1986.7L1347.2 1991M1352.6 1986.7L1345.8 1985.6M1335.9 2011.7L1352.5 2007.6M1352.5 2007.6L1347.1 2011.8M1352.5 2007.6L1345.8 2006.4M1337.1 2033.3L1351.4 2027.6M1351.4 2027.6L1347.1 2032M1351.4 2027.6L1345.2 2027.3M1338.2 2054.9L1350.2 2047.5M1350.2 2047.5L1347 2052.2M1350.2 2047.5L1344.6 2048.2M1339.3 2076.5L1349.1 2067.5M1349.1 2067.5L1347 2072.3M1349.1 2067.5L1344.1 2069.2M1340.5 2098L1347.9 2087.4M1347.9 2087.4L1346.9 2092.5M1347.9 2087.4L1343.5 2090.1M1341.6 2119.6L1346.8 2107.4M1346.8 2107.4L1346.9 2112.7M1346.8 2107.4L1342.9 2111M1343.1 2140.1L1345.3 2128.4M1345.3 2128.4L1346.4 2133.1M1345.3 2128.4L1342.6 2132.3M1344.7 2160.4L1343.8 2149.7M1343.8 2149.7L1345.8 2153.5M1343.8 2149.7L1342.4 2153.8M1346.2 2180.6L1342.2 2171.1M1342.2 2171.1L1345.2 2173.9M1342.2 2171.1L1342.1 2175.2M1347.8 2200.8L1340.6 2192.4M1340.6 2192.4L1344.6 2194.3M1340.6 2192.4L1341.9 2196.6M1349.4 2221L1339.1 2213.8M1339.1 2213.8L1344 2214.7M1339.1 2213.8L1341.7 2218.1M1383.8 1703.5L1359.9 1692.7M1359.9 1692.7L1370.4 1692.7M1359.9 1692.7L1366.8 1700.5M1383.6 1725.6L1360.1 1712.1M1360.1 1712.1L1370.9 1713.2M1360.1 1712.1L1366.5 1720.9M1383.3 1747.7L1360.3 1731.6M1360.3 1731.6L1371.3 1733.7M1360.3 1731.6L1366.1 1741.2M1383.1 1769.8L1360.5 1751.1M1360.5 1751.1L1371.8 1754.2M1360.5 1751.1L1365.7 1761.6M1382.9 1791.8L1360.7 1770.5M1360.7 1770.5L1372 1774.6M1360.7 1770.5L1365.3 1781.6M1380.6 1812L1363.1 1791.9M1363.1 1791.9L1372.7 1796.4M1363.1 1791.9L1366.2 1802.1M1377.2 1831.2L1366.4 1814.3M1366.4 1814.3L1373.1 1818.7M1366.4 1814.3L1367.6 1822.2M1373.9 1850.4L1369.7 1836.6M1369.7 1836.6L1373.5 1840.9M1369.7 1836.6L1369 1842.3M1370.6 1869.6L1373 1858.9M1373 1858.9L1373.9 1863.2M1373 1858.9L1370.4 1862.4M1367.3 1888.8L1376.3 1881.2M1376.3 1881.2L1374.3 1885.5M1376.3 1881.2L1371.8 1882.5M1365.1 1908.7L1378.5 1902.9M1378.5 1902.9L1374.6 1907.2M1378.5 1902.9L1372.7 1902.8M1364.8 1929.5L1378.9 1923.6M1378.9 1923.6L1374.7 1928.1M1378.9 1923.6L1372.8 1923.5M1364.4 1950.4L1379.2 1944.3M1379.2 1944.3L1374.8 1948.9M1379.2 1944.3L1372.8 1944.1M1364.1 1971.2L1379.5 1965M1379.5 1965L1374.9 1969.8M1379.5 1965L1372.9 1964.8M1363.8 1992.1L1379.9 1985.7M1379.9 1985.7L1375 1990.7M1379.9 1985.7L1373 1985.4M1363.5 2013L1380.1 2006.3M1380.1 2006.3L1375.1 2011.5M1380.1 2006.3L1373 2006.1M1364.7 2034.5L1378.9 2026.3M1378.9 2026.3L1375.1 2031.6M1378.9 2026.3L1372.4 2027M1365.9 2056.1L1377.8 2046.3M1377.8 2046.3L1375 2051.8M1377.8 2046.3L1371.8 2047.9M1367 2077.7L1376.6 2066.3M1376.6 2066.3L1375 2072M1376.6 2066.3L1371.3 2068.9M1368.2 2099.2L1375.5 2086.2M1375.5 2086.2L1374.9 2092.2M1375.5 2086.2L1370.7 2089.8M1369.3 2120.8L1374.3 2106.2M1374.3 2106.2L1374.9 2112.4M1374.3 2106.2L1370.1 2110.7M1370.8 2141.3L1372.9 2127.3M1372.9 2127.3L1374.4 2132.7M1372.9 2127.3L1369.8 2132.1M1372.3 2161.4L1371.4 2148.7M1371.4 2148.7L1373.8 2153.2M1371.4 2148.7L1369.6 2153.5M1373.8 2181.5L1369.9 2170.1M1369.9 2170.1L1373.2 2173.6M1369.9 2170.1L1369.4 2174.9M1375.3 2201.7L1368.4 2191.5M1368.4 2191.5L1372.5 2194.1M1368.4 2191.5L1369.2 2196.3M1376.8 2221.8L1366.9 2212.9M1366.9 2212.9L1371.9 2214.5M1366.9 2212.9L1369 2217.8M1410.1 1704.2L1388.8 1692M1388.8 1692L1398.5 1693M1388.8 1692L1394.6 1699.9M1410.1 1726.2L1388.7 1711.5M1388.7 1711.5L1398.9 1713.4M1388.7 1711.5L1394.1 1720.4M1410.2 1748.2L1388.6 1731.1M1388.6 1731.1L1399.3 1733.8M1388.6 1731.1L1393.7 1740.8M1410.3 1770.2L1388.5 1750.6M1388.5 1750.6L1399.7 1754.2M1388.5 1750.6L1393.3 1761.3M1410.4 1792.2L1388.4 1770.1M1388.4 1770.1L1399.6 1774.5M1388.4 1770.1L1392.7 1781.3M1408.4 1812.5L1390.4 1791.4M1390.4 1791.4L1400.4 1796.2M1390.4 1791.4L1393.6 1802M1405.5 1832L1393.4 1813.5M1393.4 1813.5L1400.8 1818.3M1393.4 1813.5L1394.8 1822.2M1402.5 1851.4L1396.3 1835.6M1396.3 1835.6L1401.2 1840.3M1396.3 1835.6L1396 1842.4M1399.6 1870.9L1399.2 1857.7M1399.2 1857.7L1401.5 1862.4M1399.2 1857.7L1397.2 1862.5M1396.7 1890.3L1402.2 1879.8M1402.2 1879.8L1401.9 1884.5M1402.2 1879.8L1398.4 1882.7M1394.6 1910.3L1404.2 1901.3M1404.2 1901.3L1402.2 1906.2M1404.2 1901.3L1399.3 1903M1394 1931L1404.8 1922.1M1404.8 1922.1L1402.3 1927.1M1404.8 1922.1L1399.4 1923.6M1393.4 1951.8L1405.4 1942.9M1405.4 1942.9L1402.5 1948.1M1405.4 1942.9L1399.6 1944.2M1392.8 1972.6L1406 1963.6M1406 1963.6L1402.7 1969.1M1406 1963.6L1399.7 1964.8M1392.2 1993.4L1406.6 1984.4M1406.6 1984.4L1402.8 1990M1406.6 1984.4L1399.9 1985.3M1391.7 2014.2L1407.1 2005.1M1407.1 2005.1L1403 2010.9M1407.1 2005.1L1400 2005.9M1392.6 2035.5L1406.3 2025.4M1406.3 2025.4L1402.9 2031.3M1406.3 2025.4L1399.6 2026.8M1393.4 2056.8L1405.4 2045.6M1405.4 2045.6L1402.9 2051.6M1405.4 2045.6L1399.2 2047.7M1394.3 2078.1L1404.5 2065.8M1404.5 2065.8L1402.8 2072M1404.5 2065.8L1398.8 2068.6M1395.2 2099.4L1403.7 2086.1M1403.7 2086.1L1402.7 2092.3M1403.7 2086.1L1398.4 2089.6M1396 2120.7L1402.8 2106.3M1402.8 2106.3L1402.7 2112.7M1402.8 2106.3L1398 2110.5M1397.4 2141.2L1401.5 2127.3M1401.5 2127.3L1402.2 2133.1M1401.5 2127.3L1397.7 2131.7M1398.8 2161.5L1400 2148.6M1400 2148.6L1401.7 2153.5M1400 2148.6L1397.5 2153.1M1400.3 2181.7L1398.5 2169.9M1398.5 2169.9L1401.1 2173.9M1398.5 2169.9L1397.3 2174.5M1401.8 2202L1397.1 2191.2M1397.1 2191.2L1400.5 2194.4M1397.1 2191.2L1397 2195.9M1403.3 2222.2L1395.6 2212.5M1395.6 2212.5L1400 2214.8M1395.6 2212.5L1396.8 2217.3M1436.3 1704.9L1417.7 1691.3M1417.7 1691.3L1426.7 1693.2M1417.7 1691.3L1422.3 1699.3M1436.7 1726.8L1417.3 1710.9M1417.3 1710.9L1427 1713.6M1417.3 1710.9L1421.8 1719.9M1437.1 1748.8L1416.9 1730.5M1416.9 1730.5L1427.3 1733.9M1416.9 1730.5L1421.3 1740.5M1437.5 1770.7L1416.5 1750.1M1416.5 1750.1L1427.5 1754.2M1416.5 1750.1L1420.8 1761.1M1437.9 1792.6L1416.1 1769.7M1416.1 1769.7L1427.2 1774.3M1416.1 1769.7L1420.2 1781M1436.3 1813L1417.8 1790.9M1417.8 1790.9L1428.1 1796M1417.8 1790.9L1420.9 1802M1433.7 1832.7L1420.3 1812.7M1420.3 1812.7L1428.5 1817.9M1420.3 1812.7L1422 1822.2M1431.1 1852.4L1422.9 1834.6M1422.9 1834.6L1428.8 1839.7M1422.9 1834.6L1423 1842.4M1428.6 1872.1L1425.5 1856.4M1425.5 1856.4L1429.1 1861.6M1425.5 1856.4L1424 1862.7M1426 1891.8L1428 1878.3M1428 1878.3L1429.5 1883.5M1428 1878.3L1425.1 1882.9M1424.1 1911.9L1429.9 1899.8M1429.9 1899.8L1429.8 1905.1M1429.9 1899.8L1425.8 1903.2M1423.2 1932.6L1430.8 1920.6M1430.8 1920.6L1430 1926.2M1430.8 1920.6L1426.1 1923.7M1422.4 1953.3L1431.6 1941.4M1431.6 1941.4L1430.2 1947.3M1431.6 1941.4L1426.3 1944.2M1421.5 1974L1432.5 1962.2M1432.5 1962.2L1430.4 1968.3M1432.5 1962.2L1426.6 1964.8M1420.7 1994.7L1433.4 1983.1M1433.4 1983.1L1430.6 1989.4M1433.4 1983.1L1426.8 1985.3M1419.9 2015.4L1434.1 2003.9M1434.1 2003.9L1430.8 2010.4M1434.1 2003.9L1427.1 2005.8M1420.5 2036.5L1433.6 2024.4M1433.6 2024.4L1430.7 2030.9M1433.6 2024.4L1426.8 2026.7M1421 2057.5L1433 2044.9M1433 2044.9L1430.7 2051.4M1433 2044.9L1426.6 2047.5M1421.6 2078.6L1432.5 2065.4M1432.5 2065.4L1430.6 2072M1432.5 2065.4L1426.3 2068.4M1422.1 2099.6L1431.9 2085.9M1431.9 2085.9L1430.6 2092.5M1431.9 2085.9L1426.1 2089.3M1422.7 2120.7L1431.3 2106.3M1431.3 2106.3L1430.5 2113M1431.3 2106.3L1425.9 2110.2M1423.9 2141.2L1430.1 2127.4M1430.1 2127.4L1430.1 2133.4M1430.1 2127.4L1425.6 2131.4M1425.4 2161.6L1428.7 2148.5M1428.7 2148.5L1429.6 2153.8M1428.7 2148.5L1425.3 2152.8M1426.8 2181.9L1427.2 2169.7M1427.2 2169.7L1429.1 2174.2M1427.2 2169.7L1425.1 2174.1M1428.3 2202.3L1425.7 2190.9M1425.7 2190.9L1428.5 2194.6M1425.7 2190.9L1424.8 2195.5M1429.8 2222.7L1424.3 2212M1424.3 2212L1428 2215M1424.3 2212L1424.6 2216.8M1462.6 1705.6L1446.6 1690.6M1446.6 1690.6L1454.9 1693.5M1446.6 1690.6L1450 1698.7M1463.3 1727.4L1445.9 1710.3M1445.9 1710.3L1455.1 1713.7M1445.9 1710.3L1449.5 1719.4M1464 1749.3L1445.2 1730M1445.2 1730L1455.2 1734M1445.2 1730L1448.9 1740.1M1464.7 1771.2L1444.5 1749.7M1444.5 1749.7L1455.4 1754.2M1444.5 1749.7L1448.4 1760.8M1465.4 1793L1443.8 1769.3M1443.8 1769.3L1454.8 1774.2M1443.8 1769.3L1447.6 1780.7M1464.1 1813.6L1445.1 1790.3M1445.1 1790.3L1455.8 1795.7M1445.1 1790.3L1448.3 1801.9M1461.9 1833.5L1447.3 1811.9M1447.3 1811.9L1456.2 1817.4M1447.3 1811.9L1449.1 1822.2M1459.8 1853.4L1449.5 1833.6M1449.5 1833.6L1456.5 1839.1M1449.5 1833.6L1450 1842.5M1457.6 1873.3L1451.7 1855.2M1451.7 1855.2L1456.8 1860.9M1451.7 1855.2L1450.9 1862.8M1455.4 1893.3L1453.9 1876.8M1453.9 1876.8L1457.1 1882.6M1453.9 1876.8L1451.7 1883.1M1453.6 1913.5L1455.6 1898.2M1455.6 1898.2L1457.4 1904.1M1455.6 1898.2L1452.4 1903.4M1452.5 1934.1L1456.7 1919.1M1456.7 1919.1L1457.6 1925.2M1456.7 1919.1L1452.7 1923.9M1451.4 1954.7L1457.9 1940M1457.9 1940L1457.9 1946.4M1457.9 1940L1453.1 1944.3M1450.3 1975.4L1459 1960.9M1459 1960.9L1458.2 1967.6M1459 1960.9L1453.4 1964.7M1449.2 1996L1460.1 1981.8M1460.1 1981.8L1458.4 1988.7M1460.1 1981.8L1453.8 1985.2M1448.1 2016.7L1461.1 2002.7M1461.1 2002.7L1458.6 2009.9M1461.1 2002.7L1454.1 2005.7M1448.4 2037.4L1460.9 2023.4M1460.9 2023.4L1458.6 2030.6M1460.9 2023.4L1454 2026.5M1448.6 2058.2L1460.6 2044.2M1460.6 2044.2L1458.5 2051.3M1460.6 2044.2L1453.9 2047.4M1448.9 2079L1460.4 2064.9M1460.4 2064.9L1458.5 2071.9M1460.4 2064.9L1453.9 2068.2M1449.1 2099.8L1460.1 2085.7M1460.1 2085.7L1458.4 2092.6M1460.1 2085.7L1453.8 2089M1449.4 2120.6L1459.9 2106.4M1459.9 2106.4L1458.3 2113.3M1459.9 2106.4L1453.7 2109.9M1450.5 2141.2L1458.7 2127.4M1458.7 2127.4L1458 2133.8M1458.7 2127.4L1453.5 2131.1M1451.9 2161.6L1457.3 2148.4M1457.3 2148.4L1457.5 2154.1M1457.3 2148.4L1453.2 2152.4M1453.4 2182.1L1455.9 2169.5M1455.9 2169.5L1457 2174.5M1455.9 2169.5L1452.9 2173.7M1454.8 2202.6L1454.4 2190.6M1454.4 2190.6L1456.5 2194.9M1454.4 2190.6L1452.6 2195M1456.2 2223.1L1453 2211.6M1453 2211.6L1456.1 2215.3M1453 2211.6L1452.3 2216.3" stroke="#3c463c" stroke-opacity="0.62" stroke-width="0.75" fill="none"/>
<polyline points="1062.7,1853.9 1478.9,1853.9" fill="none" stroke="#000" stroke-width="1.0" stroke-linejoin="round" />
<polyline points="1035.1,1914.5 1048.3,1915.6 1055,1916.7 1059.4,1921.1 1062.7,1927.8 1072.6,1930 1090.3,1926.7 1096.9,1928.9 1109.1,1926 1119,1925.5 1132.3,1921.8 1145.5,1921.6 1145.9,1920 1191.4,1920" fill="none" stroke="#000" stroke-width="1.0" stroke-linejoin="round" />
<polyline points="1188.8,1853.9 1188.8,1910.6 1191.4,1920 1193,1924.4 1200.7,1931.1 1196.3,1942.1 1191.9,1953.1 1185.2,1957.5 1189.7,1964.1 1189,1968.5 1189,2008.2" fill="none" stroke="#000" stroke-width="1.0" stroke-linejoin="round" />
<polyline points="1030.7,2008.2 1321,2008.2" fill="none" stroke="#000" stroke-width="1.0" stroke-linejoin="round" />
<polyline points="1123.4,2008.2 1123.4,2074.3 1242,2162.5" fill="none" stroke="#000" stroke-width="1.0" stroke-linejoin="round" />
<polyline points="1255,2008.2 1255,2136 1247.1,2137.1 1239.3,2138.2 1240.4,2149.3 1242,2162.5 1243.3,2166.9 1248.2,2174.6 1252.6,2179 1247.1,2182.3 1244.9,2186.7 1244.4,2195.5 1240.4,2197.7 1240,2206.6 1244.9,2212.1 1240,2212.7" fill="none" stroke="#000" stroke-width="1.0" stroke-linejoin="round" />
<polyline points="1187,2216.9 1240,2212.7 1238,2217.8 1273.6,2228.6" fill="none" stroke="#000" stroke-width="1.0" stroke-linejoin="round" />
<polyline points="1255,2118.4 1478.9,2118.4" fill="none" stroke="#000" stroke-width="1.0" stroke-linejoin="round" />
<polyline points="1365.2,2030.2 1365.2,2230.8" fill="none" stroke="#000" stroke-width="1.0" stroke-linejoin="round" />
<polyline points="1321,1942.1 1321,2030.2 1478.9,2030.2" fill="none" stroke="#000" stroke-width="1.0" stroke-linejoin="round" />
<polyline points="1321,1942.1 1478.9,1942.1" fill="none" stroke="#000" stroke-width="1.0" stroke-linejoin="round" />
<polyline points="1210.6,1853.9 1210.6,1876 1218.4,1888.7 1233.8,1895.8 1237.1,1902.4 1248.2,1905.7 1246,1915.6 1244.9,1923.3 1255.9,1927.8 1260.3,1933.3 1268,1941 1275.8,1946.5 1278,1954.2 1293.4,1952 1311.1,1952 1321,1953.5" fill="none" stroke="#000" stroke-width="1.0" stroke-linejoin="round" />
<polyline points="1192.3,2230.8 1187,2216.9 1184.1,2209.9 1180.8,2202.2 1169.8,2193.3 1161,2190.7 1158.7,2188.9 1156.1,2183.9 1149.9,2184.5 1141.1,2181.2 1133.4,2175.7 1113.5,2174.6 1109.1,2172 1109.7,2160.3 1104,2153.7 1094.7,2148.2 1081.5,2133.8 1080.4,2127.2 1083.7,2122.8 1079.3,2119.3 1070.4,2114 1067.8,2106.3 1068.2,2100.8 1058.3,2096.4 1057.2,2089.7 1041.7,2076.5 1039.5,2065.5 1038.4,2056.7 1027.4,2045.7 1031.8,2034.6 1032.9,2019.2 1029.6,2008.2 1023,1989.5 1030.7,1977.3 1032.9,1964.1 1034,1946.5 1036.2,1931.1 1036.2,1915.6 1034,1905.7 1032.9,1898 1026.3,1882.6 1020.1,1869.3" fill="none" stroke="#000" stroke-width="2.0" stroke-linejoin="round" />
<polyline points="1068.2,2100.8 1071.5,2100.8 1077.1,2107.4 1079.3,2108.5 1074.8,2101.9 1072.6,2097.5 1077.1,2095.3 1081.5,2095.3" fill="none" stroke="#000" stroke-width="2.0" stroke-linejoin="round" />
<polyline points="937.9,1815.5 948.9,1811.1 957.8,1815.5 971.7,1819.5 987.6,1822.5 1003.5,1826.5 1009.5,1833.4 1016.4,1840.4 1028.4,1845.4 1038.3,1850.3 1046.3,1855.3 1052.2,1861.3 1048.3,1868.2 1043.3,1869.2" fill="none" stroke="#000" stroke-width="2.4" stroke-linejoin="round" />
<polyline points="937.9,1815.5 943.9,1821.5 948.9,1828.5 956.8,1829.5 963.8,1834.4 971.7,1838.4 979.7,1842.4 985.6,1848.3 993.6,1850.3 999.5,1855.3 1007.5,1853.3 1015.5,1852.3 1017.4,1849.3 1013.5,1856.3 1008.5,1858.3 1016.4,1860.3 1028.4,1864.3 1043.3,1869.2" fill="none" stroke="#000" stroke-width="2.6" stroke-linejoin="round" />
<polyline points="948.9,1818.5 956.8,1822.5 953.8,1825.5 965.7,1829.5 970.7,1835.4 979.7,1838.4 987.6,1844.4 995.6,1848.3" fill="none" stroke="#000" stroke-width="1.6" stroke-linejoin="round" />
<polyline points="1018.4,1868.2 1033.3,1871.2 1048.3,1873.2 1056.2,1872.2 1063.2,1870.2" fill="none" stroke="#000" stroke-width="2.2" stroke-linejoin="round" />
<polyline points="920,1742 924,1746 930,1752.9 933.9,1759.9 936.9,1767.8 938.9,1774.8 942.9,1782.7 946.9,1789.7 950.8,1795.7 953.8,1801.6 958.8,1805.6 963.8,1808.6 971.7,1811.1 978.7,1812.6 986.6,1814.6 993.6,1816.5 999.5,1819.5 1005.5,1822.5 1009.5,1825 1013.5,1827.5 1018.4,1831 1023.4,1834.4 1028.4,1837.4 1033.3,1840.4 1038.3,1842.9 1043.3,1845.4 1048.3,1847.4 1053.2,1849.3 1057.2,1851.8 1061.2,1854.3 1064.2,1858.3 1066.1,1862.3 1068.6,1867.2 1070.1,1872.2 1069.1,1877.2 1067.1,1882.1 1064.2,1887.1 1061.2,1891.1 1058.2,1897.1" fill="none" stroke="#000" stroke-width="5.0" stroke-linejoin="round" stroke-linecap="round"/>
<polyline points="918.1,1738.2 923,1738.6 923,1743.1 919.2,1746 920.9,1747.5 923.2,1746.1 929.1,1756.5 927.2,1752.2 934,1762.4 934.8,1758.8 940.1,1757.5 939.8,1762.8 933,1763.7 935.5,1773.6 934.7,1773.3 940.4,1773.4 940.7,1772.6 936.7,1776.8 944.9,1782 942.2,1786 945,1785.1 950.1,1791.9 945.4,1792.5 949.8,1797.7 953.3,1793.3 957.1,1793.5 951.9,1802.4 950,1801.5 950.4,1804.8 960,1805.1 962.9,1803.6 962.6,1807.6 962.9,1807.1 967.5,1813.5 966.1,1811.2 964.2,1812.4 973.3,1816.5 977.5,1809.2 975.1,1813.9 973.5,1812.1 977.7,1809 979.1,1816.8 982.6,1811.8 987.7,1819.3 986.6,1815.3 994.1,1820.7 999,1821.5 995.1,1817.6 998,1823.7 1006.5,1816.7 999.9,1818.6 1002.6,1822.3 1007.8,1820.7 1002.7,1823.3 1008.1,1825.7 1015.8,1827.9 1012.3,1827.9 1015.4,1822.6 1019.5,1831.7 1020.8,1833 1017.3,1829.8 1015.7,1833.6 1016.9,1828.5 1020.2,1830.7 1023.3,1830.5 1021.2,1832.6 1024,1835.9 1024.8,1842.5 1032.9,1835.5 1030.6,1838.7 1033.5,1837.1 1040.4,1847.4 1037.9,1842.7 1035.4,1839.4 1039.9,1842 1046.9,1841.7 1039.7,1851 1046.9,1842.8 1048.7,1842.2 1050.2,1853.2 1055.5,1850.8 1050.6,1847.9 1050.9,1853.1 1056.2,1854 1055.3,1848.8 1061.9,1858 1063.7,1856.8 1064.7,1856.9 1059.2,1855.8 1061.6,1851.8 1059,1855.9 1062.2,1861.7 1070.5,1860.3 1070.9,1867.6 1071.9,1862.4 1064.7,1862.6 1065.3,1864 1070.5,1873.3 1073.3,1870.3 1071.8,1875.5 1065.3,1875.6 1073.9,1878.6 1071.9,1876.9 1065,1882 1066,1883.7 1072.3,1881 1065.1,1888.7 1067.6,1881.8 1060.1,1883.3 1067.6,1891.8 1058.3,1893.3 1066.4,1892.8 1058.6,1893.6 1055.2,1889.7" fill="none" stroke="#000" stroke-width="3.0" stroke-linejoin="round" />
<polyline points="921.8,1739.4 923.2,1742.1 922.5,1746.1 921.8,1743.7 918.9,1745.9 921.2,1746.8 927.2,1755.9 924.2,1755.5 932.8,1762.1 935.4,1762 939.5,1760.9 939.8,1763.1 933.2,1759.8 935,1771.1 930.8,1775.7 937.8,1773.2 942.5,1773.1 935.3,1777 945.3,1784.2 939,1786.5 943,1783.4 952.2,1791.9 945.9,1794.6 953,1797.3 954.2,1793.4 957.2,1795 951.5,1802.7 949.8,1805 952,1807.8 963.5,1803.1 963.4,1807.1 965.3,1804.7 959.9,1806.6 964.1,1811.4 962.7,1812.6 966.5,1815.6 970.6,1818.2 978.8,1806.4 978.1,1817.6 971.2,1815.7 976.9,1808.9 983,1819.5 979.9,1811.2 987.9,1818 984.2,1813.9 995.9,1816.9 999.5,1821 991.3,1816.2 999,1823.8 1003.1,1820.5 1002.2,1822.3 999.5,1820.5 1004.1,1822.9 1000.9,1820.3 1007.4,1829 1018.3,1826 1009.5,1831.2 1016,1824.2 1016.2,1828.2 1022.3,1832.4 1013.9,1833.3 1016.8,1836 1013.6,1831.4 1016.8,1833.6 1022.9,1829.2 1021.6,1836 1022.2,1833 1025,1840.4 1029.8,1832.8 1027.1,1836.4 1032,1835.5 1042.5,1845.8 1037.9,1840.1 1034.2,1835.5 1037.9,1838.1 1048.7,1842.1 1037.2,1850.8 1050.3,1839.7 1051.3,1841.6 1050.2,1855.9 1054.7,1850.9 1052.1,1851.7 1049.6,1855.8 1057.8,1855.1 1054.6,1847.6 1058.4,1855 1060.3,1858.7 1062.7,1854.3 1055.9,1858.5 1064.5,1853.1 1057.3,1853.8 1060.5,1861.4 1067.7,1859.9 1069,1871.3 1075.7,1862.8 1062.7,1866.3 1063.8,1862.9 1066.5,1872.3 1073.1,1870.3 1069.4,1875.5 1061.3,1873.7 1070.7,1877.8 1068.2,1873.1 1063.4,1879.9 1066.7,1884 1074.3,1882.3 1066.8,1891.7 1066.8,1880.4 1063.9,1880.5 1069.4,1892.9 1054.7,1896 1069.5,1893.8 1060.4,1896.1 1052.3,1889.9" fill="none" stroke="#000" stroke-width="2.0" stroke-linejoin="round" />
<polyline points="954.8,1776.8 961.8,1775.8 968.7,1773.8" fill="none" stroke="#000" stroke-width="3.2" stroke-linejoin="round" stroke-linecap="round"/>
<polyline points="955.8,1792.7 961.8,1791.7" fill="none" stroke="#000" stroke-width="3.2" stroke-linejoin="round" stroke-linecap="round"/>
<polyline points="966.7,1803.6 971.7,1806.6 975.7,1805.6" fill="none" stroke="#000" stroke-width="3.2" stroke-linejoin="round" stroke-linecap="round"/>
<polyline points="997.6,1816.5 999.5,1812.6 1001.5,1810.6" fill="none" stroke="#000" stroke-width="3.2" stroke-linejoin="round" stroke-linecap="round"/>
<polyline points="1013.5,1818.5 1015.5,1814.6 1017.4,1811.6" fill="none" stroke="#000" stroke-width="3.2" stroke-linejoin="round" stroke-linecap="round"/>
<polyline points="1019.4,1824.5 1023.4,1822.5 1026.4,1821.5" fill="none" stroke="#000" stroke-width="3.2" stroke-linejoin="round" stroke-linecap="round"/>
<polyline points="1036.3,1834.4 1038.3,1831.5 1040.3,1828.5" fill="none" stroke="#000" stroke-width="3.2" stroke-linejoin="round" stroke-linecap="round"/>
<polyline points="1050.2,1844.4 1052.2,1841.4 1053.2,1838.4" fill="none" stroke="#000" stroke-width="3.2" stroke-linejoin="round" stroke-linecap="round"/>
<polyline points="926,1748 931,1747 935.9,1747.5" fill="none" stroke="#000" stroke-width="3.2" stroke-linejoin="round" stroke-linecap="round"/>
<polyline points="936.9,1754.9 941.9,1755.9 946.9,1758.4" fill="none" stroke="#000" stroke-width="3.2" stroke-linejoin="round" stroke-linecap="round"/>
<polyline points="930,1769.8 927,1774.8 931,1779.8" fill="none" stroke="#000" stroke-width="3.2" stroke-linejoin="round" stroke-linecap="round"/>
<polyline points="1056.2,1887.1 1053.2,1891.1 1056.2,1895.1" fill="none" stroke="#000" stroke-width="3.2" stroke-linejoin="round" stroke-linecap="round"/>
<polyline points="1071.1,1874.2 1075.1,1876.2" fill="none" stroke="#000" stroke-width="3.2" stroke-linejoin="round" stroke-linecap="round"/>
<polyline points="1061.2,1863.3 1057.2,1865.2 1053.2,1864.3" fill="none" stroke="#000" stroke-width="3.2" stroke-linejoin="round" stroke-linecap="round"/>
<ellipse cx="1123.4" cy="2072.1" rx="2.5" ry="3.5" fill="none" stroke="#000" stroke-width="1.3"/>
<polyline points="1280.2,2015.9 1286.8,2020.3 1284.6,2025.8 1291.2,2023.6 1295.6,2028 1300.1,2032.4 1295.6,2036.9 1289,2035.8 1283.5,2032.4 1286.8,2028 1280.2,2025.8 1278,2020.3 1280.2,2015.9" fill="none" stroke="#000" stroke-width="1.6" stroke-linejoin="round" />
<polyline points="1239.8,2140 1242.2,2137.1 1246.6,2138.2 1248,2131.2 1249.3,2137.1 1254.1,2137.8 1257,2140.4" fill="none" stroke="#000" stroke-width="2.2" stroke-linejoin="round" />
<g stroke="#000" stroke-width="4.5" stroke-linecap="round">
<line x1="1141.8" y1="1953.6" x2="1332.3" y2="1953.6" stroke="#000" stroke-width="4.5" />
<line x1="1189.3" y1="1877" x2="1189.3" y2="2052.5" stroke="#000" stroke-width="4.5" />
<line x1="1233.5" y1="1877" x2="1233.5" y2="2052.5" stroke="#000" stroke-width="4.5" />
<line x1="1277.5" y1="1877" x2="1277.5" y2="2052.5" stroke="#000" stroke-width="4.5" />
<line x1="1135.7" y1="1889.2" x2="1330.6" y2="2039.7" stroke="#000" stroke-width="5" />
</g>
</g>
<text transform="translate(1137 1901)" font-size="30.6" text-anchor="end" fill="#3a3a3a" >C5</text>
<text transform="translate(1142.5 1964.6)" font-size="30.6" text-anchor="end" fill="#3a3a3a" >C1</text>
<text transform="translate(1190 2062.9)" font-size="30.6" text-anchor="end" fill="#3a3a3a" >C2</text>
<text transform="translate(1234 2062.9)" font-size="30.6" text-anchor="end" fill="#3a3a3a" >C3</text>
<text transform="translate(1278 2062.9)" font-size="30.6" text-anchor="end" fill="#3a3a3a" >C4</text>
<rect x="924.7" y="1677.6" width="552" height="551.8" fill="none" stroke="#000" stroke-width="1.2"/>
<line x1="946.8" y1="1677.6" x2="946.8" y2="1668.4" stroke="#555" stroke-width="1.0" />
<line x1="946.8" y1="2229.4" x2="946.8" y2="2238.6" stroke="#555" stroke-width="1.0" />
<line x1="990.9" y1="1677.6" x2="990.9" y2="1668.4" stroke="#555" stroke-width="1.0" />
<line x1="990.9" y1="2229.4" x2="990.9" y2="2238.6" stroke="#555" stroke-width="1.0" />
<line x1="1035.1" y1="1677.6" x2="1035.1" y2="1668.4" stroke="#555" stroke-width="1.0" />
<line x1="1035.1" y1="2229.4" x2="1035.1" y2="2238.6" stroke="#555" stroke-width="1.0" />
<line x1="1079.3" y1="1677.6" x2="1079.3" y2="1668.4" stroke="#555" stroke-width="1.0" />
<line x1="1079.3" y1="2229.4" x2="1079.3" y2="2238.6" stroke="#555" stroke-width="1.0" />
<line x1="1123.4" y1="1677.6" x2="1123.4" y2="1659.1" stroke="#555" stroke-width="1.0" />
<line x1="1123.4" y1="2229.4" x2="1123.4" y2="2247.9" stroke="#555" stroke-width="1.0" />
<line x1="1167.6" y1="1677.6" x2="1167.6" y2="1668.4" stroke="#555" stroke-width="1.0" />
<line x1="1167.6" y1="2229.4" x2="1167.6" y2="2238.6" stroke="#555" stroke-width="1.0" />
<line x1="1211.7" y1="1677.6" x2="1211.7" y2="1668.4" stroke="#555" stroke-width="1.0" />
<line x1="1211.7" y1="2229.4" x2="1211.7" y2="2238.6" stroke="#555" stroke-width="1.0" />
<line x1="1255.9" y1="1677.6" x2="1255.9" y2="1668.4" stroke="#555" stroke-width="1.0" />
<line x1="1255.9" y1="2229.4" x2="1255.9" y2="2238.6" stroke="#555" stroke-width="1.0" />
<line x1="1300.1" y1="1677.6" x2="1300.1" y2="1668.4" stroke="#555" stroke-width="1.0" />
<line x1="1300.1" y1="2229.4" x2="1300.1" y2="2238.6" stroke="#555" stroke-width="1.0" />
<line x1="1344.2" y1="1677.6" x2="1344.2" y2="1659.1" stroke="#555" stroke-width="1.0" />
<line x1="1344.2" y1="2229.4" x2="1344.2" y2="2247.9" stroke="#555" stroke-width="1.0" />
<line x1="1388.4" y1="1677.6" x2="1388.4" y2="1668.4" stroke="#555" stroke-width="1.0" />
<line x1="1388.4" y1="2229.4" x2="1388.4" y2="2238.6" stroke="#555" stroke-width="1.0" />
<line x1="1432.5" y1="1677.6" x2="1432.5" y2="1668.4" stroke="#555" stroke-width="1.0" />
<line x1="1432.5" y1="2229.4" x2="1432.5" y2="2238.6" stroke="#555" stroke-width="1.0" />
<line x1="1476.7" y1="1677.6" x2="1476.7" y2="1668.4" stroke="#555" stroke-width="1.0" />
<line x1="1476.7" y1="2229.4" x2="1476.7" y2="2238.6" stroke="#555" stroke-width="1.0" />
<line x1="924.7" y1="2228.6" x2="915.5" y2="2228.6" stroke="#555" stroke-width="1.0" />
<line x1="1476.7" y1="2228.6" x2="1485.9" y2="2228.6" stroke="#555" stroke-width="1.0" />
<line x1="924.7" y1="2184.5" x2="915.5" y2="2184.5" stroke="#555" stroke-width="1.0" />
<line x1="1476.7" y1="2184.5" x2="1485.9" y2="2184.5" stroke="#555" stroke-width="1.0" />
<line x1="924.7" y1="2140.4" x2="915.5" y2="2140.4" stroke="#555" stroke-width="1.0" />
<line x1="1476.7" y1="2140.4" x2="1485.9" y2="2140.4" stroke="#555" stroke-width="1.0" />
<line x1="924.7" y1="2096.4" x2="915.5" y2="2096.4" stroke="#555" stroke-width="1.0" />
<line x1="1476.7" y1="2096.4" x2="1485.9" y2="2096.4" stroke="#555" stroke-width="1.0" />
<line x1="924.7" y1="2052.3" x2="906.2" y2="2052.3" stroke="#555" stroke-width="1.0" />
<line x1="1476.7" y1="2052.3" x2="1495.2" y2="2052.3" stroke="#555" stroke-width="1.0" />
<line x1="924.7" y1="2008.2" x2="915.5" y2="2008.2" stroke="#555" stroke-width="1.0" />
<line x1="1476.7" y1="2008.2" x2="1485.9" y2="2008.2" stroke="#555" stroke-width="1.0" />
<line x1="924.7" y1="1964.1" x2="915.5" y2="1964.1" stroke="#555" stroke-width="1.0" />
<line x1="1476.7" y1="1964.1" x2="1485.9" y2="1964.1" stroke="#555" stroke-width="1.0" />
<line x1="924.7" y1="1920" x2="915.5" y2="1920" stroke="#555" stroke-width="1.0" />
<line x1="1476.7" y1="1920" x2="1485.9" y2="1920" stroke="#555" stroke-width="1.0" />
<line x1="924.7" y1="1876" x2="915.5" y2="1876" stroke="#555" stroke-width="1.0" />
<line x1="1476.7" y1="1876" x2="1485.9" y2="1876" stroke="#555" stroke-width="1.0" />
<line x1="924.7" y1="1831.9" x2="906.2" y2="1831.9" stroke="#555" stroke-width="1.0" />
<line x1="1476.7" y1="1831.9" x2="1495.2" y2="1831.9" stroke="#555" stroke-width="1.0" />
<line x1="924.7" y1="1787.8" x2="915.5" y2="1787.8" stroke="#555" stroke-width="1.0" />
<line x1="1476.7" y1="1787.8" x2="1485.9" y2="1787.8" stroke="#555" stroke-width="1.0" />
<line x1="924.7" y1="1743.7" x2="915.5" y2="1743.7" stroke="#555" stroke-width="1.0" />
<line x1="1476.7" y1="1743.7" x2="1485.9" y2="1743.7" stroke="#555" stroke-width="1.0" />
<line x1="924.7" y1="1699.6" x2="915.5" y2="1699.6" stroke="#555" stroke-width="1.0" />
<line x1="1476.7" y1="1699.6" x2="1485.9" y2="1699.6" stroke="#555" stroke-width="1.0" />
<text transform="translate(1123.4 2287.5) scale(0.962 1)" font-size="28" text-anchor="middle" fill="#000" >120W</text>
<text transform="translate(1344.2 2287.5) scale(0.962 1)" font-size="28" text-anchor="middle" fill="#000" >110W</text>
<text transform="translate(887.5 1842) scale(0.98 1)" font-size="28" text-anchor="end" fill="#000" >50N</text>
<text transform="translate(887.5 2062.3) scale(0.98 1)" font-size="28" text-anchor="end" fill="#000" >40N</text>
<text transform="translate(927 1644.1) scale(0.963 1)" font-size="42.8" fill="#000" font-weight="bold" >Transect locations (surface)</text>
<rect x="1392.2" y="2240.4" width="84.5" height="69" fill="#fff" stroke="#777" stroke-width="1"/>
<text transform="translate(1434.3 2265.3)" font-size="25" text-anchor="middle" fill="#000" >10 m/s</text>
<path d="M1411.3 2284.7L1450 2284.7M1457.4 2284.7L1447.4 2280.2L1450.4 2284.7L1447.4 2289.2Z" stroke="#666" stroke-width="0.8" fill="none"/>
<rect x="524.1" y="2348" width="24.2" height="49.5" fill="#99B8D8" stroke="#222" stroke-width="0.9"/>
<rect x="548.3" y="2348" width="24.2" height="49.5" fill="#73A5CF" stroke="#222" stroke-width="0.9"/>
<rect x="572.4" y="2348" width="24.2" height="49.5" fill="#3C8DC2" stroke="#222" stroke-width="0.9"/>
<rect x="596.6" y="2348" width="24.2" height="49.5" fill="#009FFF" stroke="#222" stroke-width="0.9"/>
<rect x="620.7" y="2348" width="24.2" height="49.5" fill="#30B7FF" stroke="#222" stroke-width="0.9"/>
<rect x="644.9" y="2348" width="24.2" height="49.5" fill="#40CCFF" stroke="#222" stroke-width="0.9"/>
<rect x="669.1" y="2348" width="24.2" height="49.5" fill="#40DFFF" stroke="#222" stroke-width="0.9"/>
<rect x="693.2" y="2348" width="24.2" height="49.5" fill="#40F3FF" stroke="#222" stroke-width="0.9"/>
<rect x="717.4" y="2348" width="24.2" height="49.5" fill="#40FFE6" stroke="#222" stroke-width="0.9"/>
<rect x="741.5" y="2348" width="24.2" height="49.5" fill="#40FFBF" stroke="#222" stroke-width="0.9"/>
<rect x="765.7" y="2348" width="24.2" height="49.5" fill="#40FA6E" stroke="#222" stroke-width="0.9"/>
<rect x="789.9" y="2348" width="24.2" height="49.5" fill="#4AFA3C" stroke="#222" stroke-width="0.9"/>
<rect x="814" y="2348" width="24.2" height="49.5" fill="#7DFA3C" stroke="#222" stroke-width="0.9"/>
<rect x="838.2" y="2348" width="24.2" height="49.5" fill="#A5FC40" stroke="#222" stroke-width="0.9"/>
<rect x="862.3" y="2348" width="24.2" height="49.5" fill="#C8FF40" stroke="#222" stroke-width="0.9"/>
<rect x="886.5" y="2348" width="24.2" height="49.5" fill="#F5FF45" stroke="#222" stroke-width="0.9"/>
<rect x="910.6" y="2348" width="24.2" height="49.5" fill="#FFF040" stroke="#222" stroke-width="0.9"/>
<rect x="934.8" y="2348" width="24.2" height="49.5" fill="#FFD23C" stroke="#222" stroke-width="0.9"/>
<rect x="959" y="2348" width="24.2" height="49.5" fill="#FFAA3C" stroke="#222" stroke-width="0.9"/>
<rect x="983.1" y="2348" width="24.2" height="49.5" fill="#FF8040" stroke="#222" stroke-width="0.9"/>
<rect x="1007.3" y="2348" width="24.2" height="49.5" fill="#FF5A40" stroke="#222" stroke-width="0.9"/>
<rect x="1031.4" y="2348" width="24.2" height="49.5" fill="#FF2D40" stroke="#222" stroke-width="0.9"/>
<rect x="1055.6" y="2348" width="24.2" height="49.5" fill="#FF366E" stroke="#222" stroke-width="0.9"/>
<rect x="1079.8" y="2348" width="24.2" height="49.5" fill="#FF60C0" stroke="#222" stroke-width="0.9"/>
<rect x="1103.9" y="2348" width="24.2" height="49.5" fill="#FF88E8" stroke="#222" stroke-width="0.9"/>
<rect x="1128.1" y="2348" width="24.2" height="49.5" fill="#FFB4F8" stroke="#222" stroke-width="0.9"/>
<rect x="1152.2" y="2348" width="24.2" height="49.5" fill="#FFDCE0" stroke="#222" stroke-width="0.9"/>
<text transform="translate(548.3 2437)" font-size="33.5" text-anchor="middle" fill="#000" >0.005</text>
<text transform="translate(644.9 2437)" font-size="33.5" text-anchor="middle" fill="#000" >0.1</text>
<text transform="translate(741.5 2437)" font-size="33.5" text-anchor="middle" fill="#000" >0.5</text>
<text transform="translate(838.2 2437)" font-size="33.5" text-anchor="middle" fill="#000" >2.5</text>
<text transform="translate(934.8 2437)" font-size="33.5" text-anchor="middle" fill="#000" >6</text>
<text transform="translate(1031.4 2437)" font-size="33.5" text-anchor="middle" fill="#000" >10</text>
<text transform="translate(1128.1 2437)" font-size="33.5" text-anchor="middle" fill="#000" >18</text>
<g fill="#1B3B6B">
<text transform="translate(1598 2368) scale(1.14 1)" font-size="51.5" dx="0 -1.5 -4.6 -3" stroke="#1B3B6B" stroke-width="0.8">NCAR</text>
<rect x="1602" y="2379" width="120" height="3.6"/>
<text transform="translate(1599 2430.5)" font-size="49.5" font-weight="bold" letter-spacing="-0.8">ACOM</text>
</g>
</svg>
</body></html>
